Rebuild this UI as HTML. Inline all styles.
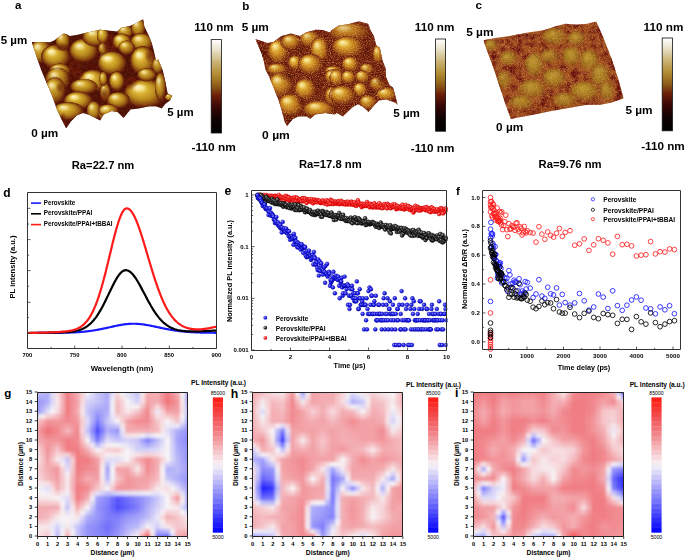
<!DOCTYPE html>
<html><head><meta charset="utf-8"><style>
html,body{margin:0;padding:0;background:#fff;}
svg{display:block;font-family:"Liberation Sans", sans-serif;}
</style></head><body>
<svg width="685" height="560" viewBox="0 0 685 560">
<defs><radialGradient id="gg" cx="0.5" cy="0.5" r="0.5" fx="0.32" fy="0.26"><stop offset="0" stop-color="#fffbe0"/><stop offset="0.15" stop-color="#f2dc74"/><stop offset="0.35" stop-color="#d8b030"/><stop offset="0.58" stop-color="#b88a1c"/><stop offset="0.78" stop-color="#8c4c10"/><stop offset="0.92" stop-color="#5e1808" stop-opacity="0.9"/><stop offset="1" stop-color="#501206" stop-opacity="0"/></radialGradient><radialGradient id="ggc" cx="0.5" cy="0.5" r="0.5" fx="0.4" fy="0.35"><stop offset="0" stop-color="#c0a030"/><stop offset="0.3" stop-color="#ae8c22"/><stop offset="0.6" stop-color="#9a7018" stop-opacity="0.9"/><stop offset="0.85" stop-color="#9a5018" stop-opacity="0.5"/><stop offset="1" stop-color="#9a4a1a" stop-opacity="0"/></radialGradient><radialGradient id="gdark" cx="0.5" cy="0.5" r="0.5"><stop offset="0" stop-color="#4a0a04" stop-opacity="0.85"/><stop offset="0.6" stop-color="#6a1808" stop-opacity="0.5"/><stop offset="1" stop-color="#7a2008" stop-opacity="0"/></radialGradient><filter id="hlb" x="-50%" y="-50%" width="200%" height="200%"><feGaussianBlur stdDeviation="6"/></filter><clipPath id="aca"><polygon points="8,123 91,124 114,114 137,96 155,85 169,89 181,96 213,91 251,82 320,67 400,75 416,58 453,51 475,42 517,19 522,53 538,85 554,123 565,160 575,208 586,203 607,256 618,305 629,358 650,369 639,390 618,406 602,427 575,417 543,417 496,427 459,432 427,470 400,443 373,438 336,454 320,482 299,470 267,454 240,448 213,459 187,486 165,518 144,475 123,432 107,385 85,331 69,294 51,251 32,196 14,142"/></clipPath><filter id="ata" x="0" y="0" width="100%" height="100%" color-interpolation-filters="sRGB"><feTurbulence type="fractalNoise" baseFrequency="0.12" numOctaves="2" seed="97"/><feColorMatrix values="0 0 0 0 0.92  0 0 0 0 0.62  0 0 0 0 0.35  0.36 0 0 0 -0.16"/></filter><filter id="ada" x="0" y="0" width="100%" height="100%" color-interpolation-filters="sRGB"><feTurbulence type="fractalNoise" baseFrequency="0.035" numOctaves="3" seed="102"/><feColorMatrix values="0 0 0 0 0.38  0 0 0 0 0.04  0 0 0 0 0.03  1.00 0 0 0 -0.40"/></filter><radialGradient id="ggb" cx="0.5" cy="0.5" r="0.5" fx="0.32" fy="0.26"><stop offset="0" stop-color="#fff4c0"/><stop offset="0.15" stop-color="#f0d060"/><stop offset="0.35" stop-color="#d8a028"/><stop offset="0.58" stop-color="#b87018"/><stop offset="0.78" stop-color="#8c3c10"/><stop offset="0.92" stop-color="#6a1c0a" stop-opacity="0.9"/><stop offset="1" stop-color="#6a1c0a" stop-opacity="0"/></radialGradient><clipPath id="acb"><polygon points="24,110 80,128 107,123 144,96 187,85 229,96 256,80 299,67 331,69 365,80 374,69 406,48 449,42 497,29 540,40 550,69 566,96 577,139 593,149 604,203 620,245 621,283 638,321 653,331 661,358 675,411 664,401 621,385 589,390 568,411 541,443 520,422 493,406 467,422 424,464 397,448 387,454 344,448 297,454 275,475 259,464 221,464 195,475 169,507 158,486 144,432 131,390 110,337 88,283 71,251 62,206 53,176"/></clipPath><filter id="atb" x="0" y="0" width="100%" height="100%" color-interpolation-filters="sRGB"><feTurbulence type="fractalNoise" baseFrequency="0.2" numOctaves="2" seed="98"/><feColorMatrix values="0 0 0 0 0.95  0 0 0 0 0.78  0 0 0 0 0.4  1.35 0 0 0 -0.59"/></filter><filter id="adb" x="0" y="0" width="100%" height="100%" color-interpolation-filters="sRGB"><feTurbulence type="fractalNoise" baseFrequency="0.035" numOctaves="3" seed="103"/><feColorMatrix values="0 0 0 0 0.38  0 0 0 0 0.04  0 0 0 0 0.03  1.75 0 0 0 -0.70"/></filter><clipPath id="acc"><polygon points="25,115 80,105 150,95 230,80 300,70 360,50 400,40 450,45 500,40 540,30 575,110 610,200 640,290 665,380 610,400 560,410 500,410 440,420 380,430 330,440 280,450 230,460 170,470 150,475 130,420 100,330 70,240 40,160"/></clipPath><filter id="atc" x="0" y="0" width="100%" height="100%" color-interpolation-filters="sRGB"><feTurbulence type="fractalNoise" baseFrequency="0.3" numOctaves="2" seed="99"/><feColorMatrix values="0 0 0 0 0.95  0 0 0 0 0.68  0 0 0 0 0.45  1.35 0 0 0 -0.59"/></filter><filter id="adc" x="0" y="0" width="100%" height="100%" color-interpolation-filters="sRGB"><feTurbulence type="fractalNoise" baseFrequency="0.035" numOctaves="3" seed="104"/><feColorMatrix values="0 0 0 0 0.38  0 0 0 0 0.04  0 0 0 0 0.03  2.75 0 0 0 -1.10"/></filter><linearGradient id="cbar" x1="0" y1="0" x2="0" y2="1"><stop offset="0" stop-color="#ffffff"/><stop offset="0.1" stop-color="#ece6d0"/><stop offset="0.25" stop-color="#c8b070"/><stop offset="0.38" stop-color="#b08a30"/><stop offset="0.5" stop-color="#8c5a18"/><stop offset="0.6" stop-color="#6c1e0a"/><stop offset="0.72" stop-color="#3a0806"/><stop offset="0.85" stop-color="#100202"/><stop offset="1" stop-color="#000"/></linearGradient><radialGradient id="eb" cx="0.35" cy="0.35" r="0.7"><stop offset="0" stop-color="#9a9aff"/><stop offset="0.5" stop-color="#2a2aff"/><stop offset="1" stop-color="#0000b0"/></radialGradient><radialGradient id="ek" cx="0.35" cy="0.35" r="0.7"><stop offset="0" stop-color="#b0b0b0"/><stop offset="0.5" stop-color="#404040"/><stop offset="1" stop-color="#000"/></radialGradient><radialGradient id="er" cx="0.35" cy="0.35" r="0.7"><stop offset="0" stop-color="#ffb0b0"/><stop offset="0.5" stop-color="#ff2a2a"/><stop offset="1" stop-color="#c00000"/></radialGradient><clipPath id="ec"><rect x="251.5" y="188" width="196" height="162"/></clipPath><clipPath id="hcg"><rect x="37.5" y="392" width="150.1" height="144"/></clipPath><filter id="hbg" x="-5%" y="-5%" width="110%" height="110%"><feGaussianBlur stdDeviation="1.4" edgeMode="duplicate"/></filter><clipPath id="hch"><rect x="252.7" y="392" width="150.2" height="144"/></clipPath><filter id="hbh" x="-5%" y="-5%" width="110%" height="110%"><feGaussianBlur stdDeviation="1.4" edgeMode="duplicate"/></filter><clipPath id="hci"><rect x="473.5" y="392" width="150.20000000000005" height="144"/></clipPath><filter id="hbi" x="-5%" y="-5%" width="110%" height="110%"><feGaussianBlur stdDeviation="1.4" edgeMode="duplicate"/></filter></defs>
<rect width="685" height="560" fill="#fff"/>
<g transform="translate(30 15) scale(0.21896)"><g clip-path="url(#aca)"><rect x="0" y="0" width="700" height="560" fill="#4c1006"/><rect x="0" y="0" width="700" height="560" filter="url(#ada)"/><ellipse cx="141" cy="146" rx="41" ry="22" fill="url(#gdark)"/><ellipse cx="205" cy="237" rx="31" ry="36" fill="url(#gdark)"/><ellipse cx="347" cy="146" rx="18" ry="27" fill="url(#gdark)"/><ellipse cx="367" cy="127" rx="27" ry="45" fill="url(#gdark)"/><ellipse cx="546" cy="187" rx="24" ry="36" fill="url(#gdark)"/><ellipse cx="223" cy="271" rx="31" ry="20" fill="url(#gdark)"/><ellipse cx="137" cy="331" rx="20" ry="27" fill="url(#gdark)"/><ellipse cx="150" cy="474" rx="18" ry="31" fill="url(#gdark)"/><ellipse cx="461" cy="312" rx="34" ry="34" fill="url(#gdark)"/><ellipse cx="340" cy="365" rx="21" ry="34" fill="url(#gdark)"/><ellipse cx="50" cy="168" rx="53" ry="58" fill="url(#gg)" opacity="0.90"/><ellipse cx="118" cy="191" rx="70" ry="58" fill="url(#gg)" opacity="1.00"/><ellipse cx="150" cy="118" rx="35" ry="47" fill="url(#gg)" opacity="0.90"/><ellipse cx="246" cy="164" rx="70" ry="58" fill="url(#gg)" opacity="0.95"/><ellipse cx="301" cy="100" rx="65" ry="47" fill="url(#gg)" opacity="0.95"/><ellipse cx="347" cy="219" rx="35" ry="58" fill="url(#gg)" opacity="1.00"/><ellipse cx="137" cy="255" rx="53" ry="35" fill="url(#gg)" opacity="0.95"/><ellipse cx="333" cy="95" rx="29" ry="40" fill="url(#gg)" opacity="0.90"/><ellipse cx="436" cy="77" rx="40" ry="32" fill="url(#gg)" opacity="0.90"/><ellipse cx="495" cy="59" rx="35" ry="47" fill="url(#gg)" opacity="0.90"/><ellipse cx="420" cy="123" rx="47" ry="40" fill="url(#gg)" opacity="1.00"/><ellipse cx="511" cy="125" rx="56" ry="44" fill="url(#gg)" opacity="0.95"/><ellipse cx="333" cy="155" rx="23" ry="29" fill="url(#gg)" opacity="0.80"/><ellipse cx="376" cy="221" rx="70" ry="58" fill="url(#gg)" opacity="1.00"/><ellipse cx="516" cy="210" rx="61" ry="70" fill="url(#gg)" opacity="1.00"/><ellipse cx="442" cy="150" rx="40" ry="35" fill="url(#gg)" opacity="0.85"/><ellipse cx="584" cy="232" rx="29" ry="40" fill="url(#gg)" opacity="0.85"/><ellipse cx="127" cy="296" rx="61" ry="58" fill="url(#gg)" opacity="0.80"/><ellipse cx="114" cy="347" rx="53" ry="65" fill="url(#gg)" opacity="0.85"/><ellipse cx="290" cy="301" rx="70" ry="53" fill="url(#gg)" opacity="1.00"/><ellipse cx="246" cy="328" rx="65" ry="38" fill="url(#gg)" opacity="0.90"/><ellipse cx="221" cy="392" rx="70" ry="44" fill="url(#gg)" opacity="1.00"/><ellipse cx="175" cy="440" rx="77" ry="44" fill="url(#gg)" opacity="0.95"/><ellipse cx="292" cy="438" rx="35" ry="47" fill="url(#gg)" opacity="0.90"/><ellipse cx="340" cy="447" rx="32" ry="40" fill="url(#gg)" opacity="0.90"/><ellipse cx="344" cy="353" rx="26" ry="44" fill="url(#gg)" opacity="0.85"/><ellipse cx="397" cy="303" rx="38" ry="47" fill="url(#gg)" opacity="1.00"/><ellipse cx="527" cy="360" rx="103" ry="70" fill="url(#gg)" opacity="1.00"/><ellipse cx="404" cy="390" rx="56" ry="40" fill="url(#gg)" opacity="0.95"/><ellipse cx="335" cy="292" rx="20" ry="35" fill="url(#gg)" opacity="0.85"/><ellipse cx="360" cy="438" rx="49" ry="32" fill="url(#gg)" opacity="0.90"/><ellipse cx="534" cy="274" rx="47" ry="32" fill="url(#gg)" opacity="0.90"/><ellipse cx="596" cy="328" rx="27" ry="70" fill="url(#gg)" opacity="0.85"/><ellipse cx="637" cy="376" rx="23" ry="17" fill="url(#gg)" opacity="0.90"/><ellipse cx="141" cy="146" rx="41" ry="22" fill="url(#gdark)" opacity="0.7"/><ellipse cx="205" cy="237" rx="31" ry="36" fill="url(#gdark)" opacity="0.7"/><ellipse cx="347" cy="146" rx="18" ry="27" fill="url(#gdark)" opacity="0.7"/><ellipse cx="367" cy="127" rx="27" ry="45" fill="url(#gdark)" opacity="0.7"/><ellipse cx="546" cy="187" rx="24" ry="36" fill="url(#gdark)" opacity="0.7"/><ellipse cx="223" cy="271" rx="31" ry="20" fill="url(#gdark)" opacity="0.7"/><ellipse cx="137" cy="331" rx="20" ry="27" fill="url(#gdark)" opacity="0.7"/><ellipse cx="150" cy="474" rx="18" ry="31" fill="url(#gdark)" opacity="0.7"/><ellipse cx="461" cy="312" rx="34" ry="34" fill="url(#gdark)" opacity="0.7"/><ellipse cx="340" cy="365" rx="21" ry="34" fill="url(#gdark)" opacity="0.7"/><g fill="#fff6c8" filter="url(#hlb)"><ellipse cx="35" cy="146" rx="16" ry="11" opacity="0.50"/><ellipse cx="98" cy="169" rx="21" ry="11" opacity="0.55"/><ellipse cx="140" cy="100" rx="11" ry="8" opacity="0.50"/><ellipse cx="226" cy="142" rx="21" ry="11" opacity="0.52"/><ellipse cx="283" cy="82" rx="20" ry="8" opacity="0.52"/><ellipse cx="337" cy="197" rx="11" ry="11" opacity="0.55"/><ellipse cx="122" cy="242" rx="16" ry="6" opacity="0.52"/><ellipse cx="425" cy="65" rx="12" ry="6" opacity="0.50"/><ellipse cx="485" cy="41" rx="11" ry="8" opacity="0.50"/><ellipse cx="407" cy="108" rx="14" ry="7" opacity="0.55"/><ellipse cx="495" cy="108" rx="17" ry="8" opacity="0.52"/><ellipse cx="356" cy="199" rx="21" ry="11" opacity="0.55"/><ellipse cx="499" cy="183" rx="18" ry="13" opacity="0.55"/><ellipse cx="431" cy="137" rx="12" ry="6" opacity="0.47"/><ellipse cx="110" cy="274" rx="18" ry="11" opacity="0.44"/><ellipse cx="99" cy="322" rx="16" ry="12" opacity="0.47"/><ellipse cx="270" cy="281" rx="21" ry="10" opacity="0.55"/><ellipse cx="228" cy="314" rx="20" ry="7" opacity="0.50"/><ellipse cx="201" cy="375" rx="21" ry="8" opacity="0.55"/><ellipse cx="154" cy="423" rx="23" ry="8" opacity="0.52"/><ellipse cx="282" cy="420" rx="11" ry="8" opacity="0.50"/><ellipse cx="331" cy="432" rx="10" ry="7" opacity="0.50"/><ellipse cx="386" cy="285" rx="11" ry="8" opacity="0.55"/><ellipse cx="498" cy="333" rx="31" ry="13" opacity="0.55"/><ellipse cx="388" cy="375" rx="17" ry="7" opacity="0.52"/><ellipse cx="346" cy="426" rx="15" ry="6" opacity="0.50"/><ellipse cx="521" cy="262" rx="14" ry="6" opacity="0.50"/><ellipse cx="588" cy="301" rx="8" ry="13" opacity="0.47"/></g><rect x="0" y="0" width="700" height="560" filter="url(#ata)"/></g></g><g transform="translate(250 15) scale(0.21896)"><g clip-path="url(#acb)"><rect x="0" y="0" width="700" height="560" fill="#6e1e0c"/><rect x="0" y="0" width="700" height="560" filter="url(#adb)"/><ellipse cx="58" cy="173" rx="31" ry="50" fill="url(#gdark)"/><ellipse cx="226" cy="155" rx="29" ry="31" fill="url(#gdark)"/><ellipse cx="347" cy="101" rx="18" ry="21" fill="url(#gdark)"/><ellipse cx="342" cy="213" rx="22" ry="26" fill="url(#gdark)"/><ellipse cx="358" cy="155" rx="15" ry="68" fill="url(#gdark)"/><ellipse cx="534" cy="165" rx="31" ry="58" fill="url(#gdark)"/><ellipse cx="176" cy="278" rx="50" ry="26" fill="url(#gdark)"/><ellipse cx="312" cy="320" rx="31" ry="37" fill="url(#gdark)"/><ellipse cx="237" cy="392" rx="31" ry="24" fill="url(#gdark)"/><ellipse cx="187" cy="480" rx="34" ry="26" fill="url(#gdark)"/><ellipse cx="600" cy="291" rx="31" ry="40" fill="url(#gdark)"/><ellipse cx="557" cy="355" rx="31" ry="24" fill="url(#gdark)"/><ellipse cx="392" cy="427" rx="26" ry="26" fill="url(#gdark)"/><ellipse cx="488" cy="408" rx="15" ry="18" fill="url(#gdark)"/><ellipse cx="130" cy="168" rx="52" ry="62" fill="url(#ggb)" opacity="1.00"/><ellipse cx="189" cy="125" rx="52" ry="39" fill="url(#ggb)" opacity="0.90"/><ellipse cx="274" cy="111" rx="52" ry="41" fill="url(#ggb)" opacity="0.85"/><ellipse cx="321" cy="164" rx="49" ry="67" fill="url(#ggb)" opacity="0.95"/><ellipse cx="207" cy="219" rx="36" ry="36" fill="url(#ggb)" opacity="1.00"/><ellipse cx="277" cy="227" rx="61" ry="52" fill="url(#ggb)" opacity="1.00"/><ellipse cx="125" cy="248" rx="52" ry="29" fill="url(#ggb)" opacity="0.90"/><ellipse cx="456" cy="79" rx="101" ry="49" fill="url(#ggb)" opacity="0.75"/><ellipse cx="448" cy="148" rx="79" ry="54" fill="url(#ggb)" opacity="1.00"/><ellipse cx="460" cy="226" rx="43" ry="39" fill="url(#ggb)" opacity="1.00"/><ellipse cx="585" cy="181" rx="26" ry="48" fill="url(#ggb)" opacity="0.90"/><ellipse cx="382" cy="254" rx="45" ry="22" fill="url(#ggb)" opacity="0.90"/><ellipse cx="534" cy="248" rx="36" ry="29" fill="url(#ggb)" opacity="0.85"/><ellipse cx="141" cy="320" rx="61" ry="61" fill="url(#ggb)" opacity="0.90"/><ellipse cx="253" cy="341" rx="54" ry="54" fill="url(#ggb)" opacity="1.00"/><ellipse cx="187" cy="413" rx="64" ry="57" fill="url(#ggb)" opacity="0.95"/><ellipse cx="317" cy="432" rx="79" ry="43" fill="url(#ggb)" opacity="0.95"/><ellipse cx="377" cy="371" rx="38" ry="46" fill="url(#ggb)" opacity="0.90"/><ellipse cx="377" cy="283" rx="38" ry="36" fill="url(#ggb)" opacity="1.00"/><ellipse cx="397" cy="288" rx="36" ry="43" fill="url(#ggb)" opacity="0.90"/><ellipse cx="450" cy="285" rx="36" ry="33" fill="url(#ggb)" opacity="1.00"/><ellipse cx="514" cy="283" rx="36" ry="31" fill="url(#ggb)" opacity="0.95"/><ellipse cx="504" cy="342" rx="36" ry="36" fill="url(#ggb)" opacity="1.00"/><ellipse cx="424" cy="368" rx="67" ry="48" fill="url(#ggb)" opacity="0.95"/><ellipse cx="540" cy="400" rx="44" ry="36" fill="url(#ggb)" opacity="0.90"/><ellipse cx="624" cy="363" rx="52" ry="36" fill="url(#ggb)" opacity="0.95"/><ellipse cx="584" cy="315" rx="43" ry="36" fill="url(#ggb)" opacity="0.80"/><ellipse cx="58" cy="173" rx="31" ry="50" fill="url(#gdark)" opacity="0.9"/><ellipse cx="226" cy="155" rx="29" ry="31" fill="url(#gdark)" opacity="0.9"/><ellipse cx="347" cy="101" rx="18" ry="21" fill="url(#gdark)" opacity="0.9"/><ellipse cx="342" cy="213" rx="22" ry="26" fill="url(#gdark)" opacity="0.9"/><ellipse cx="358" cy="155" rx="15" ry="68" fill="url(#gdark)" opacity="0.9"/><ellipse cx="534" cy="165" rx="31" ry="58" fill="url(#gdark)" opacity="0.9"/><ellipse cx="176" cy="278" rx="50" ry="26" fill="url(#gdark)" opacity="0.9"/><ellipse cx="312" cy="320" rx="31" ry="37" fill="url(#gdark)" opacity="0.9"/><ellipse cx="237" cy="392" rx="31" ry="24" fill="url(#gdark)" opacity="0.9"/><ellipse cx="187" cy="480" rx="34" ry="26" fill="url(#gdark)" opacity="0.9"/><ellipse cx="600" cy="291" rx="31" ry="40" fill="url(#gdark)" opacity="0.9"/><ellipse cx="557" cy="355" rx="31" ry="24" fill="url(#gdark)" opacity="0.9"/><ellipse cx="392" cy="427" rx="26" ry="26" fill="url(#gdark)" opacity="0.9"/><ellipse cx="488" cy="408" rx="15" ry="18" fill="url(#gdark)" opacity="0.9"/><g fill="#fff6c8" filter="url(#hlb)"><ellipse cx="116" cy="144" rx="16" ry="11" opacity="0.45"/><ellipse cx="175" cy="110" rx="16" ry="7" opacity="0.41"/><ellipse cx="260" cy="95" rx="16" ry="7" opacity="0.38"/><ellipse cx="307" cy="139" rx="15" ry="12" opacity="0.43"/><ellipse cx="197" cy="205" rx="11" ry="6" opacity="0.45"/><ellipse cx="260" cy="207" rx="18" ry="9" opacity="0.45"/><ellipse cx="111" cy="237" rx="16" ry="5" opacity="0.41"/><ellipse cx="428" cy="60" rx="30" ry="9" opacity="0.34"/><ellipse cx="426" cy="127" rx="24" ry="10" opacity="0.45"/><ellipse cx="448" cy="211" rx="13" ry="7" opacity="0.45"/><ellipse cx="578" cy="163" rx="8" ry="9" opacity="0.41"/><ellipse cx="369" cy="246" rx="13" ry="4" opacity="0.41"/><ellipse cx="524" cy="237" rx="11" ry="5" opacity="0.38"/><ellipse cx="124" cy="297" rx="18" ry="11" opacity="0.41"/><ellipse cx="238" cy="320" rx="16" ry="10" opacity="0.45"/><ellipse cx="169" cy="391" rx="19" ry="10" opacity="0.43"/><ellipse cx="295" cy="416" rx="24" ry="8" opacity="0.43"/><ellipse cx="366" cy="354" rx="11" ry="8" opacity="0.41"/><ellipse cx="366" cy="269" rx="11" ry="6" opacity="0.45"/><ellipse cx="387" cy="272" rx="11" ry="8" opacity="0.41"/><ellipse cx="440" cy="272" rx="11" ry="6" opacity="0.45"/><ellipse cx="504" cy="271" rx="11" ry="6" opacity="0.43"/><ellipse cx="494" cy="328" rx="11" ry="6" opacity="0.45"/><ellipse cx="405" cy="350" rx="20" ry="9" opacity="0.43"/><ellipse cx="528" cy="386" rx="13" ry="6" opacity="0.41"/><ellipse cx="610" cy="349" rx="16" ry="6" opacity="0.43"/><ellipse cx="572" cy="301" rx="13" ry="6" opacity="0.36"/></g><rect x="0" y="0" width="700" height="560" filter="url(#atb)"/></g></g><g transform="translate(478 15) scale(0.21896)"><g clip-path="url(#acc)"><rect x="0" y="0" width="700" height="560" fill="#9a4a1a"/><rect x="0" y="0" width="700" height="560" filter="url(#adc)"/><ellipse cx="60" cy="140" rx="42" ry="35" fill="url(#ggc)" opacity="0.80"/><ellipse cx="140" cy="200" rx="49" ry="42" fill="url(#ggc)" opacity="0.85"/><ellipse cx="260" cy="230" rx="56" ry="70" fill="url(#ggc)" opacity="0.90"/><ellipse cx="350" cy="100" rx="70" ry="49" fill="url(#ggc)" opacity="0.85"/><ellipse cx="430" cy="190" rx="56" ry="56" fill="url(#ggc)" opacity="0.90"/><ellipse cx="510" cy="210" rx="56" ry="63" fill="url(#ggc)" opacity="0.90"/><ellipse cx="560" cy="280" rx="56" ry="70" fill="url(#ggc)" opacity="0.85"/><ellipse cx="350" cy="290" rx="70" ry="56" fill="url(#ggc)" opacity="0.90"/><ellipse cx="250" cy="340" rx="77" ry="56" fill="url(#ggc)" opacity="0.85"/><ellipse cx="490" cy="350" rx="84" ry="56" fill="url(#ggc)" opacity="0.90"/><ellipse cx="400" cy="390" rx="70" ry="42" fill="url(#ggc)" opacity="0.80"/><ellipse cx="200" cy="400" rx="70" ry="42" fill="url(#ggc)" opacity="0.80"/><ellipse cx="590" cy="350" rx="42" ry="56" fill="url(#ggc)" opacity="0.80"/><ellipse cx="450" cy="110" rx="56" ry="42" fill="url(#ggc)" opacity="0.80"/><ellipse cx="330" cy="190" rx="56" ry="42" fill="url(#ggc)" opacity="0.75"/><ellipse cx="120" cy="300" rx="42" ry="56" fill="url(#ggc)" opacity="0.75"/><rect x="0" y="0" width="700" height="560" filter="url(#atc)"/></g></g><rect x="211.2" y="39.6" width="10.2" height="93.4" fill="url(#cbar)" stroke="#111" stroke-width="0.8"/><text x="194.2" y="31.2" font-size="10.8" font-weight="bold" fill="#000" textLength="39.4" lengthAdjust="spacingAndGlyphs">110 nm</text><text x="191.6" y="151.2" font-size="10.8" font-weight="bold" fill="#000" textLength="44.2" lengthAdjust="spacingAndGlyphs">-110 nm</text><text x="71.8" y="168.7" font-size="10.8" font-weight="bold" fill="#000" textLength="62.5" lengthAdjust="spacingAndGlyphs">Ra=22.7 nm</text><text x="0.7000000000000001" y="44.2" font-size="10.8" font-weight="bold" fill="#000" textLength="26.5" lengthAdjust="spacingAndGlyphs">5 µm</text><text x="31.200000000000003" y="136.8" font-size="10.8" font-weight="bold" fill="#000" textLength="27.0" lengthAdjust="spacingAndGlyphs">0 µm</text><text x="167.29999999999998" y="115.8" font-size="10.8" font-weight="bold" fill="#000" textLength="26.3" lengthAdjust="spacingAndGlyphs">5 µm</text><text x="14.9" y="8.9" font-size="11.6" font-weight="bold" fill="#000">a</text><rect x="435.6" y="39.0" width="10.0" height="92.2" fill="url(#cbar)" stroke="#111" stroke-width="0.8"/><text x="414.8" y="30.8" font-size="10.8" font-weight="bold" fill="#000" textLength="39.6" lengthAdjust="spacingAndGlyphs">110 nm</text><text x="410.8" y="151.5" font-size="10.8" font-weight="bold" fill="#000" textLength="43.6" lengthAdjust="spacingAndGlyphs">-110 nm</text><text x="298.90000000000003" y="168.2" font-size="10.8" font-weight="bold" fill="#000" textLength="62.8" lengthAdjust="spacingAndGlyphs">Ra=17.8 nm</text><text x="241.7" y="30.6" font-size="10.8" font-weight="bold" fill="#000" textLength="27.2" lengthAdjust="spacingAndGlyphs">5 µm</text><text x="262.1" y="138.9" font-size="10.8" font-weight="bold" fill="#000" textLength="27.7" lengthAdjust="spacingAndGlyphs">0 µm</text><text x="393.20000000000005" y="116.5" font-size="10.8" font-weight="bold" fill="#000" textLength="26.8" lengthAdjust="spacingAndGlyphs">5 µm</text><text x="242.2" y="9.6" font-size="11.6" font-weight="bold" fill="#000">b</text><rect x="662.2" y="38.0" width="10.2" height="92.8" fill="url(#cbar)" stroke="#111" stroke-width="0.8"/><text x="643.6" y="30.5" font-size="10.8" font-weight="bold" fill="#000" textLength="39.8" lengthAdjust="spacingAndGlyphs">110 nm</text><text x="641.2" y="149.7" font-size="10.8" font-weight="bold" fill="#000" textLength="43.6" lengthAdjust="spacingAndGlyphs">-110 nm</text><text x="538.6" y="168.2" font-size="10.8" font-weight="bold" fill="#000" textLength="63.0" lengthAdjust="spacingAndGlyphs">Ra=9.76 nm</text><text x="466.20000000000005" y="35.5" font-size="10.8" font-weight="bold" fill="#000" textLength="27.3" lengthAdjust="spacingAndGlyphs">5 µm</text><text x="496.1" y="130.8" font-size="10.8" font-weight="bold" fill="#000" textLength="27.1" lengthAdjust="spacingAndGlyphs">0 µm</text><text x="625.4" y="113.5" font-size="10.8" font-weight="bold" fill="#000" textLength="27.1" lengthAdjust="spacingAndGlyphs">5 µm</text><text x="475.4" y="8.8" font-size="11.6" font-weight="bold" fill="#000">c</text><polyline points="27.50,333.00 28.45,333.00 29.39,333.00 30.34,332.99 31.28,332.99 32.23,332.99 33.17,332.99 34.12,332.98 35.06,332.98 36.01,332.98 36.95,332.97 37.89,332.97 38.84,332.97 39.78,332.96 40.73,332.96 41.67,332.96 42.62,332.95 43.56,332.95 44.51,332.94 45.45,332.94 46.40,332.93 47.34,332.93 48.29,332.92 49.23,332.92 50.18,332.91 51.12,332.90 52.07,332.89 53.02,332.89 53.96,332.88 54.91,332.87 55.85,332.86 56.80,332.85 57.74,332.83 58.69,332.82 59.63,332.81 60.58,332.79 61.52,332.78 62.47,332.76 63.41,332.74 64.35,332.72 65.30,332.69 66.25,332.67 67.19,332.64 68.13,332.61 69.08,332.58 70.03,332.55 70.97,332.51 71.91,332.47 72.86,332.43 73.81,332.39 74.75,332.34 75.69,332.29 76.64,332.23 77.59,332.17 78.53,332.11 79.47,332.04 80.42,331.97 81.37,331.90 82.31,331.82 83.25,331.73 84.20,331.64 85.15,331.54 86.09,331.44 87.03,331.34 87.98,331.22 88.92,331.11 89.87,330.98 90.81,330.86 91.76,330.72 92.70,330.58 93.65,330.44 94.59,330.28 95.54,330.13 96.48,329.96 97.43,329.80 98.38,329.62 99.32,329.44 100.27,329.26 101.21,329.07 102.16,328.88 103.10,328.69 104.05,328.49 104.99,328.28 105.94,328.08 106.88,327.87 107.83,327.66 108.77,327.45 109.72,327.24 110.66,327.03 111.61,326.82 112.55,326.61 113.50,326.40 114.44,326.19 115.39,325.99 116.33,325.79 117.28,325.60 118.22,325.41 119.17,325.23 120.11,325.06 121.06,324.89 122.00,324.73 122.94,324.58 123.89,324.45 124.83,324.32 125.78,324.20 126.72,324.10 127.67,324.01 128.62,323.93 129.56,323.86 130.50,323.81 131.45,323.77 132.39,323.75 133.34,323.74 134.28,323.75 135.23,323.77 136.18,323.80 137.12,323.85 138.06,323.91 139.01,323.98 139.95,324.07 140.90,324.16 141.84,324.27 142.79,324.39 143.74,324.52 144.68,324.65 145.62,324.80 146.57,324.96 147.51,325.12 148.46,325.29 149.41,325.47 150.35,325.65 151.30,325.83 152.24,326.03 153.19,326.22 154.13,326.42 155.07,326.62 156.02,326.82 156.97,327.02 157.91,327.22 158.85,327.42 159.80,327.63 160.75,327.83 161.69,328.03 162.63,328.22 163.58,328.42 164.53,328.61 165.47,328.80 166.41,328.98 167.36,329.16 168.31,329.34 169.25,329.51 170.19,329.68 171.14,329.85 172.09,330.00 173.03,330.16 173.97,330.30 174.92,330.45 175.87,330.59 176.81,330.72 177.75,330.84 178.70,330.97 179.65,331.08 180.59,331.19 181.53,331.30 182.48,331.40 183.43,331.50 184.37,331.59 185.31,331.67 186.26,331.76 187.21,331.83 188.15,331.91 189.09,331.97 190.04,332.04 190.99,332.10 191.93,332.16 192.88,332.21 193.82,332.26 194.76,332.31 195.71,332.35 196.66,332.39 197.60,332.43 198.54,332.46 199.49,332.50 200.44,332.53 201.38,332.55 202.32,332.58 203.27,332.60 204.22,332.63 205.16,332.65 206.10,332.67 207.05,332.68 208.00,332.70 208.94,332.72 209.88,332.73 210.83,332.74 211.78,332.75 212.72,332.76 213.66,332.77 214.61,332.78 215.56,332.79 216.50,332.80" fill="none" stroke="#1a1aff" stroke-width="2.2" stroke-linejoin="round"/><polyline points="27.50,333.00 28.45,332.99 29.39,332.98 30.34,332.97 31.28,332.96 32.23,332.95 33.17,332.94 34.12,332.93 35.06,332.92 36.01,332.91 36.95,332.89 37.89,332.88 38.84,332.87 39.78,332.86 40.73,332.84 41.67,332.83 42.62,332.82 43.56,332.80 44.51,332.79 45.45,332.77 46.40,332.76 47.34,332.74 48.29,332.72 49.23,332.70 50.18,332.69 51.12,332.67 52.07,332.65 53.02,332.63 53.96,332.60 54.91,332.58 55.85,332.55 56.80,332.53 57.74,332.50 58.69,332.47 59.63,332.44 60.58,332.40 61.52,332.36 62.47,332.32 63.41,332.28 64.35,332.23 65.30,332.17 66.25,332.11 67.19,332.04 68.13,331.97 69.08,331.88 70.03,331.79 70.97,331.69 71.91,331.57 72.86,331.44 73.81,331.29 74.75,331.13 75.69,330.95 76.64,330.74 77.59,330.51 78.53,330.26 79.47,329.98 80.42,329.66 81.37,329.31 82.31,328.93 83.25,328.50 84.20,328.03 85.15,327.51 86.09,326.94 87.03,326.32 87.98,325.64 88.92,324.90 89.87,324.10 90.81,323.24 91.76,322.30 92.70,321.30 93.65,320.22 94.59,319.07 95.54,317.84 96.48,316.54 97.43,315.16 98.38,313.71 99.32,312.19 100.27,310.59 101.21,308.93 102.16,307.21 103.10,305.42 104.05,303.59 104.99,301.71 105.94,299.78 106.88,297.83 107.83,295.86 108.77,293.87 109.72,291.88 110.66,289.91 111.61,287.95 112.55,286.03 113.50,284.16 114.44,282.35 115.39,280.61 116.33,278.97 117.28,277.42 118.22,276.00 119.17,274.70 120.11,273.55 121.06,272.55 122.00,271.72 122.94,271.06 123.89,270.58 124.83,270.29 125.78,270.19 126.72,270.27 127.67,270.51 128.62,270.90 129.56,271.45 130.50,272.14 131.45,272.98 132.39,273.95 133.34,275.04 134.28,276.25 135.23,277.57 136.18,278.98 137.12,280.47 138.06,282.05 139.01,283.68 139.95,285.37 140.90,287.11 141.84,288.87 142.79,290.66 143.74,292.47 144.68,294.28 145.62,296.09 146.57,297.88 147.51,299.66 148.46,301.41 149.41,303.13 150.35,304.81 151.30,306.45 152.24,308.04 153.19,309.58 154.13,311.07 155.07,312.49 156.02,313.86 156.97,315.17 157.91,316.42 158.85,317.61 159.80,318.73 160.75,319.79 161.69,320.79 162.63,321.72 163.58,322.60 164.53,323.42 165.47,324.18 166.41,324.89 167.36,325.55 168.31,326.16 169.25,326.72 170.19,327.23 171.14,327.70 172.09,328.14 173.03,328.53 173.97,328.89 174.92,329.21 175.87,329.50 176.81,329.77 177.75,330.01 178.70,330.22 179.65,330.41 180.59,330.58 181.53,330.73 182.48,330.86 183.43,330.98 184.37,331.08 185.31,331.16 186.26,331.24 187.21,331.30 188.15,331.35 189.09,331.39 190.04,331.42 190.99,331.44 191.93,331.46 192.88,331.46 193.82,331.46 194.76,331.46 195.71,331.44 196.66,331.43 197.60,331.40 198.54,331.38 199.49,331.35 200.44,331.31 201.38,331.27 202.32,331.23 203.27,331.19 204.22,331.14 205.16,331.09 206.10,331.04 207.05,330.99 208.00,330.94 208.94,330.88 209.88,330.83 210.83,330.78 211.78,330.73 212.72,330.68 213.66,330.63 214.61,330.58 215.56,330.54 216.50,330.50" fill="none" stroke="#000000" stroke-width="2.2" stroke-linejoin="round"/><polyline points="27.50,333.00 28.45,332.98 29.39,332.96 30.34,332.94 31.28,332.92 32.23,332.90 33.17,332.88 34.12,332.86 35.06,332.84 36.01,332.82 36.95,332.79 37.89,332.77 38.84,332.75 39.78,332.72 40.73,332.70 41.67,332.67 42.62,332.64 43.56,332.62 44.51,332.59 45.45,332.56 46.40,332.53 47.34,332.50 48.29,332.46 49.23,332.43 50.18,332.40 51.12,332.36 52.07,332.32 53.02,332.28 53.96,332.24 54.91,332.20 55.85,332.15 56.80,332.10 57.74,332.05 58.69,331.99 59.63,331.93 60.58,331.87 61.52,331.80 62.47,331.72 63.41,331.64 64.35,331.55 65.30,331.45 66.25,331.34 67.19,331.22 68.13,331.08 69.08,330.94 70.03,330.77 70.97,330.58 71.91,330.38 72.86,330.15 73.81,329.89 74.75,329.60 75.69,329.27 76.64,328.91 77.59,328.51 78.53,328.05 79.47,327.55 80.42,326.99 81.37,326.36 82.31,325.67 83.25,324.91 84.20,324.06 85.15,323.12 86.09,322.10 87.03,320.97 87.98,319.74 88.92,318.39 89.87,316.92 90.81,315.33 91.76,313.61 92.70,311.76 93.65,309.76 94.59,307.62 95.54,305.34 96.48,302.90 97.43,300.32 98.38,297.59 99.32,294.71 100.27,291.69 101.21,288.53 102.16,285.23 103.10,281.81 104.05,278.27 104.99,274.63 105.94,270.90 106.88,267.08 107.83,263.21 108.77,259.29 109.72,255.35 110.66,251.41 111.61,247.49 112.55,243.61 113.50,239.80 114.44,236.08 115.39,232.49 116.33,229.04 117.28,225.78 118.22,222.71 119.17,219.88 120.11,217.31 121.06,215.03 122.00,213.05 122.94,211.39 123.89,210.09 124.83,209.14 125.78,208.57 126.72,208.38 127.67,208.50 128.62,208.87 129.56,209.50 130.50,210.37 131.45,211.48 132.39,212.82 133.34,214.38 134.28,216.15 135.23,218.12 136.18,220.27 137.12,222.58 138.06,225.06 139.01,227.67 139.95,230.41 140.90,233.26 141.84,236.21 142.79,239.23 143.74,242.32 144.68,245.46 145.62,248.64 146.57,251.84 147.51,255.06 148.46,258.27 149.41,261.47 150.35,264.64 151.30,267.79 152.24,270.88 153.19,273.93 154.13,276.91 155.07,279.83 156.02,282.68 156.97,285.44 157.91,288.12 158.85,290.71 159.80,293.21 160.75,295.61 161.69,297.92 162.63,300.13 163.58,302.24 164.53,304.25 165.47,306.16 166.41,307.97 167.36,309.68 168.31,311.30 169.25,312.82 170.19,314.26 171.14,315.60 172.09,316.86 173.03,318.03 173.97,319.13 174.92,320.15 175.87,321.09 176.81,321.97 177.75,322.78 178.70,323.52 179.65,324.20 180.59,324.83 181.53,325.41 182.48,325.93 183.43,326.41 184.37,326.84 185.31,327.23 186.26,327.58 187.21,327.89 188.15,328.17 189.09,328.41 190.04,328.62 190.99,328.81 191.93,328.96 192.88,329.09 193.82,329.19 194.76,329.27 195.71,329.33 196.66,329.36 197.60,329.38 198.54,329.37 199.49,329.35 200.44,329.30 201.38,329.24 202.32,329.16 203.27,329.07 204.22,328.96 205.16,328.84 206.10,328.70 207.05,328.55 208.00,328.39 208.94,328.22 209.88,328.04 210.83,327.85 211.78,327.65 212.72,327.45 213.66,327.25 214.61,327.04 215.56,326.84 216.50,326.64" fill="none" stroke="#ff1a1a" stroke-width="2.2" stroke-linejoin="round"/><path d="M27.5 192.5H216.5V348.5H27.5Z" fill="none" stroke="#333" stroke-width="1"/><path d="M27.50 348.5V345.5M51.12 348.5V346.9M74.75 348.5V345.5M98.38 348.5V346.9M122.00 348.5V345.5M145.62 348.5V346.9M169.25 348.5V345.5M192.88 348.5V346.9M216.50 348.5V345.5M27.5 208.3H30.5M27.5 224H29.1M27.5 239.6H30.5M27.5 255.2H29.1M27.5 270.6H30.5M27.5 286.2H29.1M27.5 302.3H30.5M27.5 317.6H29.1M27.5 333.2H30.5" stroke="#333" stroke-width="0.8"/><text x="27.5" y="357.2" font-size="5.6" font-weight="bold" fill="#000" text-anchor="middle" textLength="9.8" lengthAdjust="spacingAndGlyphs">700</text><text x="74.75" y="357.2" font-size="5.6" font-weight="bold" fill="#000" text-anchor="middle" textLength="9.8" lengthAdjust="spacingAndGlyphs">750</text><text x="122.0" y="357.2" font-size="5.6" font-weight="bold" fill="#000" text-anchor="middle" textLength="9.8" lengthAdjust="spacingAndGlyphs">800</text><text x="169.25" y="357.2" font-size="5.6" font-weight="bold" fill="#000" text-anchor="middle" textLength="9.8" lengthAdjust="spacingAndGlyphs">850</text><text x="216.5" y="357.2" font-size="5.6" font-weight="bold" fill="#000" text-anchor="middle" textLength="9.8" lengthAdjust="spacingAndGlyphs">900</text><text x="122" y="370.8" font-size="7.6" font-weight="bold" fill="#000" text-anchor="middle" textLength="62.5" lengthAdjust="spacingAndGlyphs">Wavelength (nm)</text><text x="15.2" y="267" font-size="7.6" font-weight="bold" fill="#000" text-anchor="middle" textLength="63" lengthAdjust="spacingAndGlyphs" transform="rotate(-90 15.2 267)">PL intensity (a.u.)</text><text x="3.2" y="196.8" font-size="12" font-weight="bold" fill="#000">d</text><path d="M31 203.1H41" stroke="#1a1aff" stroke-width="1.6"/><text x="43.8" y="204.7" font-size="6.6" font-weight="bold" fill="#000" textLength="31.4" lengthAdjust="spacingAndGlyphs">Perovskite</text><path d="M31 213.8H41" stroke="#000" stroke-width="1.6"/><text x="43.8" y="215.4" font-size="6.6" font-weight="bold" fill="#000" textLength="48.5" lengthAdjust="spacingAndGlyphs">Perovskite/PPAI</text><path d="M31 224.6H41" stroke="#ff1a1a" stroke-width="1.6"/><text x="43.8" y="226.2" font-size="6.6" font-weight="bold" fill="#000" textLength="68.8" lengthAdjust="spacingAndGlyphs">Perovskite/PPAI+tBBAI</text><g clip-path="url(#ec)"><g fill="url(#er)" stroke="#d80000" stroke-width="0.45"><circle cx="257.4" cy="195.6" r="1.95"/><circle cx="257.8" cy="195.3" r="1.95"/><circle cx="258.3" cy="196.3" r="1.95"/><circle cx="258.8" cy="194.9" r="1.95"/><circle cx="259.3" cy="197.4" r="1.95"/><circle cx="259.8" cy="194.9" r="1.95"/><circle cx="260.3" cy="194.9" r="1.95"/><circle cx="260.8" cy="195.9" r="1.95"/><circle cx="261.2" cy="195.1" r="1.95"/><circle cx="261.7" cy="197.4" r="1.95"/><circle cx="262.2" cy="195.7" r="1.95"/><circle cx="262.7" cy="196.3" r="1.95"/><circle cx="263.2" cy="195.3" r="1.95"/><circle cx="263.7" cy="195.0" r="1.95"/><circle cx="264.2" cy="197.1" r="1.95"/><circle cx="264.7" cy="197.6" r="1.95"/><circle cx="265.1" cy="197.5" r="1.95"/><circle cx="265.6" cy="196.9" r="1.95"/><circle cx="266.1" cy="194.9" r="1.95"/><circle cx="266.6" cy="197.0" r="1.95"/><circle cx="267.1" cy="196.3" r="1.95"/><circle cx="267.6" cy="196.5" r="1.95"/><circle cx="268.1" cy="197.5" r="1.95"/><circle cx="268.6" cy="197.0" r="1.95"/><circle cx="269.1" cy="195.7" r="1.95"/><circle cx="269.5" cy="196.3" r="1.95"/><circle cx="270.0" cy="196.7" r="1.95"/><circle cx="270.5" cy="196.3" r="1.95"/><circle cx="271.0" cy="195.6" r="1.95"/><circle cx="271.5" cy="197.7" r="1.95"/><circle cx="272.0" cy="196.2" r="1.95"/><circle cx="272.5" cy="196.2" r="1.95"/><circle cx="272.9" cy="196.4" r="1.95"/><circle cx="273.4" cy="197.0" r="1.95"/><circle cx="273.9" cy="197.8" r="1.95"/><circle cx="274.4" cy="198.6" r="1.95"/><circle cx="274.9" cy="195.8" r="1.95"/><circle cx="275.4" cy="195.9" r="1.95"/><circle cx="275.9" cy="196.4" r="1.95"/><circle cx="276.4" cy="196.9" r="1.95"/><circle cx="276.9" cy="196.5" r="1.95"/><circle cx="277.3" cy="196.7" r="1.95"/><circle cx="277.8" cy="196.8" r="1.95"/><circle cx="278.3" cy="198.1" r="1.95"/><circle cx="278.8" cy="194.9" r="1.95"/><circle cx="279.3" cy="197.2" r="1.95"/><circle cx="279.8" cy="198.6" r="1.95"/><circle cx="280.3" cy="197.8" r="1.95"/><circle cx="280.8" cy="196.6" r="1.95"/><circle cx="281.2" cy="197.0" r="1.95"/><circle cx="281.7" cy="198.1" r="1.95"/><circle cx="282.2" cy="197.5" r="1.95"/><circle cx="282.7" cy="200.6" r="1.95"/><circle cx="283.2" cy="197.6" r="1.95"/><circle cx="283.7" cy="197.9" r="1.95"/><circle cx="284.2" cy="197.8" r="1.95"/><circle cx="284.6" cy="200.7" r="1.95"/><circle cx="285.1" cy="195.9" r="1.95"/><circle cx="285.6" cy="198.5" r="1.95"/><circle cx="286.1" cy="198.7" r="1.95"/><circle cx="286.6" cy="196.0" r="1.95"/><circle cx="287.1" cy="197.2" r="1.95"/><circle cx="287.6" cy="197.2" r="1.95"/><circle cx="288.1" cy="199.7" r="1.95"/><circle cx="288.6" cy="197.0" r="1.95"/><circle cx="289.0" cy="198.0" r="1.95"/><circle cx="289.5" cy="201.0" r="1.95"/><circle cx="290.0" cy="199.8" r="1.95"/><circle cx="290.5" cy="198.7" r="1.95"/><circle cx="291.0" cy="198.2" r="1.95"/><circle cx="291.5" cy="199.2" r="1.95"/><circle cx="292.0" cy="197.9" r="1.95"/><circle cx="292.4" cy="199.7" r="1.95"/><circle cx="292.9" cy="198.8" r="1.95"/><circle cx="293.4" cy="198.1" r="1.95"/><circle cx="293.9" cy="200.7" r="1.95"/><circle cx="294.4" cy="198.9" r="1.95"/><circle cx="294.9" cy="197.2" r="1.95"/><circle cx="295.4" cy="202.2" r="1.95"/><circle cx="295.9" cy="198.0" r="1.95"/><circle cx="296.4" cy="200.6" r="1.95"/><circle cx="296.8" cy="197.8" r="1.95"/><circle cx="297.3" cy="198.0" r="1.95"/><circle cx="297.8" cy="201.6" r="1.95"/><circle cx="298.3" cy="201.0" r="1.95"/><circle cx="298.8" cy="201.0" r="1.95"/><circle cx="299.3" cy="199.3" r="1.95"/><circle cx="299.8" cy="199.3" r="1.95"/><circle cx="300.2" cy="200.2" r="1.95"/><circle cx="300.7" cy="199.9" r="1.95"/><circle cx="301.2" cy="201.0" r="1.95"/><circle cx="301.7" cy="201.4" r="1.95"/><circle cx="302.2" cy="198.2" r="1.95"/><circle cx="302.7" cy="198.2" r="1.95"/><circle cx="303.2" cy="200.9" r="1.95"/><circle cx="303.7" cy="201.2" r="1.95"/><circle cx="304.1" cy="200.8" r="1.95"/><circle cx="304.6" cy="198.1" r="1.95"/><circle cx="305.1" cy="198.7" r="1.95"/><circle cx="305.6" cy="200.6" r="1.95"/><circle cx="306.1" cy="201.5" r="1.95"/><circle cx="306.6" cy="203.0" r="1.95"/><circle cx="307.1" cy="200.1" r="1.95"/><circle cx="307.6" cy="199.4" r="1.95"/><circle cx="308.1" cy="199.6" r="1.95"/><circle cx="308.5" cy="200.0" r="1.95"/><circle cx="309.0" cy="201.3" r="1.95"/><circle cx="309.5" cy="199.8" r="1.95"/><circle cx="310.0" cy="199.3" r="1.95"/><circle cx="310.5" cy="201.7" r="1.95"/><circle cx="311.0" cy="200.5" r="1.95"/><circle cx="311.5" cy="201.5" r="1.95"/><circle cx="311.9" cy="199.2" r="1.95"/><circle cx="312.4" cy="201.3" r="1.95"/><circle cx="312.9" cy="203.4" r="1.95"/><circle cx="313.4" cy="200.2" r="1.95"/><circle cx="313.9" cy="201.1" r="1.95"/><circle cx="314.4" cy="199.7" r="1.95"/><circle cx="314.9" cy="202.2" r="1.95"/><circle cx="315.4" cy="199.9" r="1.95"/><circle cx="315.9" cy="200.1" r="1.95"/><circle cx="316.3" cy="200.6" r="1.95"/><circle cx="316.8" cy="201.0" r="1.95"/><circle cx="317.3" cy="202.4" r="1.95"/><circle cx="317.8" cy="200.1" r="1.95"/><circle cx="318.3" cy="200.6" r="1.95"/><circle cx="318.8" cy="201.2" r="1.95"/><circle cx="319.3" cy="201.4" r="1.95"/><circle cx="319.8" cy="200.8" r="1.95"/><circle cx="320.2" cy="202.6" r="1.95"/><circle cx="320.7" cy="203.1" r="1.95"/><circle cx="321.2" cy="202.8" r="1.95"/><circle cx="321.7" cy="202.1" r="1.95"/><circle cx="322.2" cy="201.8" r="1.95"/><circle cx="322.7" cy="200.4" r="1.95"/><circle cx="323.2" cy="202.1" r="1.95"/><circle cx="323.6" cy="200.7" r="1.95"/><circle cx="324.1" cy="202.9" r="1.95"/><circle cx="324.6" cy="203.6" r="1.95"/><circle cx="325.1" cy="201.7" r="1.95"/><circle cx="325.6" cy="201.5" r="1.95"/><circle cx="326.1" cy="201.0" r="1.95"/><circle cx="326.6" cy="200.3" r="1.95"/><circle cx="327.1" cy="204.5" r="1.95"/><circle cx="327.6" cy="201.7" r="1.95"/><circle cx="328.0" cy="201.9" r="1.95"/><circle cx="328.5" cy="201.3" r="1.95"/><circle cx="329.0" cy="202.7" r="1.95"/><circle cx="329.5" cy="203.9" r="1.95"/><circle cx="330.0" cy="204.0" r="1.95"/><circle cx="330.5" cy="199.7" r="1.95"/><circle cx="331.0" cy="200.1" r="1.95"/><circle cx="331.5" cy="203.9" r="1.95"/><circle cx="331.9" cy="201.1" r="1.95"/><circle cx="332.4" cy="202.3" r="1.95"/><circle cx="332.9" cy="200.9" r="1.95"/><circle cx="333.4" cy="204.1" r="1.95"/><circle cx="333.9" cy="202.4" r="1.95"/><circle cx="334.4" cy="202.5" r="1.95"/><circle cx="334.9" cy="202.7" r="1.95"/><circle cx="335.4" cy="201.7" r="1.95"/><circle cx="335.8" cy="201.7" r="1.95"/><circle cx="336.3" cy="203.9" r="1.95"/><circle cx="336.8" cy="203.0" r="1.95"/><circle cx="337.3" cy="201.9" r="1.95"/><circle cx="337.8" cy="202.3" r="1.95"/><circle cx="338.3" cy="201.3" r="1.95"/><circle cx="338.8" cy="201.5" r="1.95"/><circle cx="339.2" cy="204.2" r="1.95"/><circle cx="339.7" cy="203.1" r="1.95"/><circle cx="340.2" cy="202.2" r="1.95"/><circle cx="340.7" cy="203.4" r="1.95"/><circle cx="341.2" cy="200.7" r="1.95"/><circle cx="341.7" cy="202.0" r="1.95"/><circle cx="342.2" cy="203.6" r="1.95"/><circle cx="342.7" cy="204.1" r="1.95"/><circle cx="343.1" cy="203.2" r="1.95"/><circle cx="343.6" cy="202.2" r="1.95"/><circle cx="344.1" cy="203.2" r="1.95"/><circle cx="344.6" cy="204.4" r="1.95"/><circle cx="345.1" cy="203.5" r="1.95"/><circle cx="345.6" cy="204.2" r="1.95"/><circle cx="346.1" cy="201.9" r="1.95"/><circle cx="346.6" cy="202.2" r="1.95"/><circle cx="347.1" cy="201.9" r="1.95"/><circle cx="347.5" cy="204.5" r="1.95"/><circle cx="348.0" cy="203.9" r="1.95"/><circle cx="348.5" cy="201.7" r="1.95"/><circle cx="349.0" cy="203.2" r="1.95"/><circle cx="349.5" cy="203.6" r="1.95"/><circle cx="350.0" cy="202.6" r="1.95"/><circle cx="350.5" cy="204.6" r="1.95"/><circle cx="351.0" cy="203.2" r="1.95"/><circle cx="351.4" cy="201.6" r="1.95"/><circle cx="351.9" cy="202.1" r="1.95"/><circle cx="352.4" cy="203.0" r="1.95"/><circle cx="352.9" cy="204.7" r="1.95"/><circle cx="353.4" cy="203.6" r="1.95"/><circle cx="353.9" cy="204.3" r="1.95"/><circle cx="354.4" cy="202.2" r="1.95"/><circle cx="354.9" cy="205.4" r="1.95"/><circle cx="355.3" cy="204.3" r="1.95"/><circle cx="355.8" cy="204.1" r="1.95"/><circle cx="356.3" cy="205.9" r="1.95"/><circle cx="356.8" cy="203.9" r="1.95"/><circle cx="357.3" cy="202.8" r="1.95"/><circle cx="357.8" cy="200.3" r="1.95"/><circle cx="358.3" cy="204.1" r="1.95"/><circle cx="358.8" cy="202.5" r="1.95"/><circle cx="359.2" cy="203.7" r="1.95"/><circle cx="359.7" cy="204.7" r="1.95"/><circle cx="360.2" cy="204.6" r="1.95"/><circle cx="360.7" cy="204.4" r="1.95"/><circle cx="361.2" cy="203.7" r="1.95"/><circle cx="361.7" cy="207.2" r="1.95"/><circle cx="362.2" cy="204.1" r="1.95"/><circle cx="362.6" cy="205.9" r="1.95"/><circle cx="363.1" cy="205.7" r="1.95"/><circle cx="363.6" cy="204.0" r="1.95"/><circle cx="364.1" cy="204.2" r="1.95"/><circle cx="364.6" cy="205.9" r="1.95"/><circle cx="365.1" cy="205.2" r="1.95"/><circle cx="365.6" cy="203.8" r="1.95"/><circle cx="366.1" cy="205.9" r="1.95"/><circle cx="366.6" cy="204.6" r="1.95"/><circle cx="367.0" cy="202.0" r="1.95"/><circle cx="367.5" cy="205.7" r="1.95"/><circle cx="368.0" cy="204.3" r="1.95"/><circle cx="368.5" cy="205.8" r="1.95"/><circle cx="369.0" cy="205.1" r="1.95"/><circle cx="369.5" cy="207.3" r="1.95"/><circle cx="370.0" cy="203.6" r="1.95"/><circle cx="370.4" cy="206.1" r="1.95"/><circle cx="370.9" cy="204.3" r="1.95"/><circle cx="371.4" cy="205.2" r="1.95"/><circle cx="371.9" cy="205.1" r="1.95"/><circle cx="372.4" cy="207.6" r="1.95"/><circle cx="372.9" cy="206.5" r="1.95"/><circle cx="373.4" cy="206.7" r="1.95"/><circle cx="373.9" cy="204.0" r="1.95"/><circle cx="374.4" cy="203.3" r="1.95"/><circle cx="374.8" cy="207.2" r="1.95"/><circle cx="375.3" cy="206.0" r="1.95"/><circle cx="375.8" cy="205.3" r="1.95"/><circle cx="376.3" cy="207.6" r="1.95"/><circle cx="376.8" cy="206.4" r="1.95"/><circle cx="377.3" cy="206.0" r="1.95"/><circle cx="377.8" cy="205.1" r="1.95"/><circle cx="378.2" cy="204.7" r="1.95"/><circle cx="378.7" cy="207.5" r="1.95"/><circle cx="379.2" cy="203.2" r="1.95"/><circle cx="379.7" cy="206.9" r="1.95"/><circle cx="380.2" cy="207.5" r="1.95"/><circle cx="380.7" cy="206.8" r="1.95"/><circle cx="381.2" cy="204.6" r="1.95"/><circle cx="381.7" cy="208.0" r="1.95"/><circle cx="382.1" cy="205.7" r="1.95"/><circle cx="382.6" cy="208.1" r="1.95"/><circle cx="383.1" cy="205.0" r="1.95"/><circle cx="383.6" cy="205.3" r="1.95"/><circle cx="384.1" cy="206.0" r="1.95"/><circle cx="384.6" cy="204.0" r="1.95"/><circle cx="385.1" cy="207.4" r="1.95"/><circle cx="385.6" cy="205.4" r="1.95"/><circle cx="386.1" cy="205.1" r="1.95"/><circle cx="386.5" cy="206.5" r="1.95"/><circle cx="387.0" cy="208.4" r="1.95"/><circle cx="387.5" cy="203.8" r="1.95"/><circle cx="388.0" cy="204.9" r="1.95"/><circle cx="388.5" cy="204.9" r="1.95"/><circle cx="389.0" cy="206.8" r="1.95"/><circle cx="389.5" cy="206.0" r="1.95"/><circle cx="389.9" cy="207.8" r="1.95"/><circle cx="390.4" cy="206.3" r="1.95"/><circle cx="390.9" cy="208.3" r="1.95"/><circle cx="391.4" cy="205.3" r="1.95"/><circle cx="391.9" cy="206.5" r="1.95"/><circle cx="392.4" cy="206.3" r="1.95"/><circle cx="392.9" cy="204.5" r="1.95"/><circle cx="393.4" cy="206.7" r="1.95"/><circle cx="393.9" cy="207.1" r="1.95"/><circle cx="394.3" cy="205.0" r="1.95"/><circle cx="394.8" cy="204.3" r="1.95"/><circle cx="395.3" cy="207.2" r="1.95"/><circle cx="395.8" cy="206.4" r="1.95"/><circle cx="396.3" cy="209.3" r="1.95"/><circle cx="396.8" cy="208.3" r="1.95"/><circle cx="397.3" cy="205.8" r="1.95"/><circle cx="397.8" cy="207.7" r="1.95"/><circle cx="398.2" cy="208.6" r="1.95"/><circle cx="398.7" cy="206.7" r="1.95"/><circle cx="399.2" cy="207.7" r="1.95"/><circle cx="399.7" cy="207.8" r="1.95"/><circle cx="400.2" cy="207.6" r="1.95"/><circle cx="400.7" cy="208.6" r="1.95"/><circle cx="401.2" cy="208.4" r="1.95"/><circle cx="401.6" cy="205.4" r="1.95"/><circle cx="402.1" cy="208.2" r="1.95"/><circle cx="402.6" cy="204.7" r="1.95"/><circle cx="403.1" cy="208.7" r="1.95"/><circle cx="403.6" cy="207.3" r="1.95"/><circle cx="404.1" cy="209.3" r="1.95"/><circle cx="404.6" cy="209.4" r="1.95"/><circle cx="405.1" cy="208.3" r="1.95"/><circle cx="405.6" cy="204.9" r="1.95"/><circle cx="406.0" cy="207.3" r="1.95"/><circle cx="406.5" cy="207.3" r="1.95"/><circle cx="407.0" cy="206.8" r="1.95"/><circle cx="407.5" cy="208.4" r="1.95"/><circle cx="408.0" cy="208.3" r="1.95"/><circle cx="408.5" cy="206.0" r="1.95"/><circle cx="409.0" cy="209.5" r="1.95"/><circle cx="409.5" cy="207.7" r="1.95"/><circle cx="409.9" cy="206.9" r="1.95"/><circle cx="410.4" cy="210.2" r="1.95"/><circle cx="410.9" cy="207.4" r="1.95"/><circle cx="411.4" cy="209.1" r="1.95"/><circle cx="411.9" cy="208.8" r="1.95"/><circle cx="412.4" cy="208.4" r="1.95"/><circle cx="412.9" cy="208.9" r="1.95"/><circle cx="413.4" cy="212.6" r="1.95"/><circle cx="413.8" cy="207.6" r="1.95"/><circle cx="414.3" cy="210.9" r="1.95"/><circle cx="414.8" cy="208.6" r="1.95"/><circle cx="415.3" cy="205.8" r="1.95"/><circle cx="415.8" cy="207.9" r="1.95"/><circle cx="416.3" cy="209.9" r="1.95"/><circle cx="416.8" cy="209.6" r="1.95"/><circle cx="417.3" cy="208.9" r="1.95"/><circle cx="417.7" cy="206.8" r="1.95"/><circle cx="418.2" cy="207.6" r="1.95"/><circle cx="418.7" cy="210.6" r="1.95"/><circle cx="419.2" cy="208.2" r="1.95"/><circle cx="419.7" cy="208.2" r="1.95"/><circle cx="420.2" cy="208.6" r="1.95"/><circle cx="420.7" cy="210.5" r="1.95"/><circle cx="421.2" cy="208.4" r="1.95"/><circle cx="421.6" cy="208.7" r="1.95"/><circle cx="422.1" cy="209.6" r="1.95"/><circle cx="422.6" cy="208.3" r="1.95"/><circle cx="423.1" cy="208.3" r="1.95"/><circle cx="423.6" cy="208.0" r="1.95"/><circle cx="424.1" cy="208.8" r="1.95"/><circle cx="424.6" cy="209.1" r="1.95"/><circle cx="425.1" cy="207.5" r="1.95"/><circle cx="425.5" cy="210.2" r="1.95"/><circle cx="426.0" cy="209.9" r="1.95"/><circle cx="426.5" cy="207.0" r="1.95"/><circle cx="427.0" cy="209.4" r="1.95"/><circle cx="427.5" cy="208.1" r="1.95"/><circle cx="428.0" cy="210.8" r="1.95"/><circle cx="428.5" cy="208.5" r="1.95"/><circle cx="429.0" cy="209.7" r="1.95"/><circle cx="429.4" cy="211.4" r="1.95"/><circle cx="429.9" cy="208.9" r="1.95"/><circle cx="430.4" cy="212.2" r="1.95"/><circle cx="430.9" cy="207.8" r="1.95"/><circle cx="431.4" cy="207.4" r="1.95"/><circle cx="431.9" cy="210.7" r="1.95"/><circle cx="432.4" cy="207.7" r="1.95"/><circle cx="432.9" cy="211.4" r="1.95"/><circle cx="433.3" cy="209.7" r="1.95"/><circle cx="433.8" cy="208.9" r="1.95"/><circle cx="434.3" cy="210.8" r="1.95"/><circle cx="434.8" cy="211.9" r="1.95"/><circle cx="435.3" cy="209.7" r="1.95"/><circle cx="435.8" cy="210.9" r="1.95"/><circle cx="436.3" cy="210.7" r="1.95"/><circle cx="436.8" cy="211.2" r="1.95"/><circle cx="437.2" cy="209.3" r="1.95"/><circle cx="437.7" cy="211.6" r="1.95"/><circle cx="438.2" cy="211.0" r="1.95"/><circle cx="438.7" cy="210.2" r="1.95"/><circle cx="439.2" cy="214.0" r="1.95"/><circle cx="439.7" cy="210.1" r="1.95"/><circle cx="440.2" cy="208.9" r="1.95"/><circle cx="440.7" cy="208.2" r="1.95"/><circle cx="441.1" cy="209.3" r="1.95"/><circle cx="441.6" cy="208.5" r="1.95"/><circle cx="442.1" cy="211.0" r="1.95"/><circle cx="442.6" cy="209.2" r="1.95"/><circle cx="443.1" cy="213.4" r="1.95"/><circle cx="443.6" cy="210.0" r="1.95"/><circle cx="444.1" cy="209.6" r="1.95"/><circle cx="444.6" cy="208.8" r="1.95"/><circle cx="445.0" cy="211.6" r="1.95"/><circle cx="445.5" cy="209.6" r="1.95"/><circle cx="446.0" cy="208.5" r="1.95"/><circle cx="446.5" cy="209.9" r="1.95"/></g><g fill="url(#ek)" stroke="#000" stroke-width="0.45"><circle cx="257.4" cy="195.7" r="1.95"/><circle cx="257.8" cy="194.9" r="1.95"/><circle cx="258.3" cy="195.3" r="1.95"/><circle cx="258.8" cy="198.8" r="1.95"/><circle cx="259.3" cy="196.6" r="1.95"/><circle cx="259.8" cy="194.9" r="1.95"/><circle cx="260.3" cy="196.8" r="1.95"/><circle cx="260.8" cy="198.0" r="1.95"/><circle cx="261.2" cy="195.0" r="1.95"/><circle cx="261.7" cy="198.0" r="1.95"/><circle cx="262.2" cy="196.1" r="1.95"/><circle cx="262.7" cy="197.7" r="1.95"/><circle cx="263.2" cy="199.2" r="1.95"/><circle cx="263.7" cy="197.2" r="1.95"/><circle cx="264.2" cy="197.9" r="1.95"/><circle cx="264.7" cy="198.3" r="1.95"/><circle cx="265.1" cy="202.9" r="1.95"/><circle cx="265.6" cy="197.9" r="1.95"/><circle cx="266.1" cy="196.8" r="1.95"/><circle cx="266.6" cy="197.2" r="1.95"/><circle cx="267.1" cy="199.6" r="1.95"/><circle cx="267.6" cy="198.5" r="1.95"/><circle cx="268.1" cy="200.2" r="1.95"/><circle cx="268.6" cy="200.9" r="1.95"/><circle cx="269.1" cy="199.1" r="1.95"/><circle cx="269.5" cy="200.3" r="1.95"/><circle cx="270.0" cy="201.1" r="1.95"/><circle cx="270.5" cy="200.4" r="1.95"/><circle cx="271.0" cy="201.0" r="1.95"/><circle cx="271.5" cy="202.5" r="1.95"/><circle cx="272.0" cy="198.7" r="1.95"/><circle cx="272.5" cy="200.9" r="1.95"/><circle cx="272.9" cy="200.3" r="1.95"/><circle cx="273.4" cy="202.9" r="1.95"/><circle cx="273.9" cy="201.7" r="1.95"/><circle cx="274.4" cy="200.6" r="1.95"/><circle cx="274.9" cy="204.1" r="1.95"/><circle cx="275.4" cy="202.7" r="1.95"/><circle cx="275.9" cy="201.3" r="1.95"/><circle cx="276.4" cy="203.4" r="1.95"/><circle cx="276.9" cy="204.1" r="1.95"/><circle cx="277.3" cy="199.5" r="1.95"/><circle cx="277.8" cy="203.4" r="1.95"/><circle cx="278.3" cy="204.3" r="1.95"/><circle cx="278.8" cy="203.4" r="1.95"/><circle cx="279.3" cy="202.9" r="1.95"/><circle cx="279.8" cy="203.9" r="1.95"/><circle cx="280.3" cy="203.1" r="1.95"/><circle cx="280.8" cy="204.8" r="1.95"/><circle cx="281.2" cy="203.1" r="1.95"/><circle cx="281.7" cy="205.1" r="1.95"/><circle cx="282.2" cy="204.4" r="1.95"/><circle cx="282.7" cy="203.7" r="1.95"/><circle cx="283.2" cy="206.7" r="1.95"/><circle cx="283.7" cy="203.3" r="1.95"/><circle cx="284.2" cy="205.2" r="1.95"/><circle cx="284.6" cy="203.9" r="1.95"/><circle cx="285.1" cy="204.3" r="1.95"/><circle cx="285.6" cy="205.3" r="1.95"/><circle cx="286.1" cy="204.8" r="1.95"/><circle cx="286.6" cy="207.0" r="1.95"/><circle cx="287.1" cy="207.3" r="1.95"/><circle cx="287.6" cy="205.8" r="1.95"/><circle cx="288.1" cy="205.9" r="1.95"/><circle cx="288.6" cy="206.3" r="1.95"/><circle cx="289.0" cy="204.4" r="1.95"/><circle cx="289.5" cy="208.1" r="1.95"/><circle cx="290.0" cy="205.2" r="1.95"/><circle cx="290.5" cy="206.0" r="1.95"/><circle cx="291.0" cy="205.1" r="1.95"/><circle cx="291.5" cy="208.6" r="1.95"/><circle cx="292.0" cy="207.4" r="1.95"/><circle cx="292.4" cy="204.5" r="1.95"/><circle cx="292.9" cy="206.7" r="1.95"/><circle cx="293.4" cy="206.9" r="1.95"/><circle cx="293.9" cy="205.0" r="1.95"/><circle cx="294.4" cy="206.2" r="1.95"/><circle cx="294.9" cy="210.0" r="1.95"/><circle cx="295.4" cy="204.5" r="1.95"/><circle cx="295.9" cy="208.7" r="1.95"/><circle cx="296.4" cy="206.7" r="1.95"/><circle cx="296.8" cy="210.1" r="1.95"/><circle cx="297.3" cy="207.1" r="1.95"/><circle cx="297.8" cy="208.0" r="1.95"/><circle cx="298.3" cy="204.4" r="1.95"/><circle cx="298.8" cy="205.3" r="1.95"/><circle cx="299.3" cy="210.2" r="1.95"/><circle cx="299.8" cy="209.7" r="1.95"/><circle cx="300.2" cy="207.8" r="1.95"/><circle cx="300.7" cy="209.6" r="1.95"/><circle cx="301.2" cy="206.2" r="1.95"/><circle cx="301.7" cy="207.4" r="1.95"/><circle cx="302.2" cy="207.7" r="1.95"/><circle cx="302.7" cy="209.6" r="1.95"/><circle cx="303.2" cy="209.9" r="1.95"/><circle cx="303.7" cy="208.7" r="1.95"/><circle cx="304.1" cy="207.4" r="1.95"/><circle cx="304.6" cy="211.0" r="1.95"/><circle cx="305.1" cy="212.3" r="1.95"/><circle cx="305.6" cy="210.0" r="1.95"/><circle cx="306.1" cy="210.2" r="1.95"/><circle cx="306.6" cy="208.6" r="1.95"/><circle cx="307.1" cy="208.8" r="1.95"/><circle cx="307.6" cy="211.3" r="1.95"/><circle cx="308.1" cy="211.4" r="1.95"/><circle cx="308.5" cy="211.9" r="1.95"/><circle cx="309.0" cy="211.1" r="1.95"/><circle cx="309.5" cy="211.7" r="1.95"/><circle cx="310.0" cy="210.0" r="1.95"/><circle cx="310.5" cy="211.9" r="1.95"/><circle cx="311.0" cy="213.5" r="1.95"/><circle cx="311.5" cy="213.1" r="1.95"/><circle cx="311.9" cy="214.3" r="1.95"/><circle cx="312.4" cy="212.3" r="1.95"/><circle cx="312.9" cy="211.9" r="1.95"/><circle cx="313.4" cy="214.8" r="1.95"/><circle cx="313.9" cy="213.3" r="1.95"/><circle cx="314.4" cy="212.9" r="1.95"/><circle cx="314.9" cy="211.8" r="1.95"/><circle cx="315.4" cy="215.1" r="1.95"/><circle cx="315.9" cy="214.0" r="1.95"/><circle cx="316.3" cy="213.3" r="1.95"/><circle cx="316.8" cy="213.0" r="1.95"/><circle cx="317.3" cy="210.9" r="1.95"/><circle cx="317.8" cy="213.7" r="1.95"/><circle cx="318.3" cy="210.7" r="1.95"/><circle cx="318.8" cy="213.7" r="1.95"/><circle cx="319.3" cy="212.2" r="1.95"/><circle cx="319.8" cy="212.6" r="1.95"/><circle cx="320.2" cy="212.5" r="1.95"/><circle cx="320.7" cy="216.6" r="1.95"/><circle cx="321.2" cy="214.0" r="1.95"/><circle cx="321.7" cy="211.3" r="1.95"/><circle cx="322.2" cy="216.8" r="1.95"/><circle cx="322.7" cy="211.0" r="1.95"/><circle cx="323.2" cy="211.9" r="1.95"/><circle cx="323.6" cy="213.8" r="1.95"/><circle cx="324.1" cy="213.0" r="1.95"/><circle cx="324.6" cy="213.8" r="1.95"/><circle cx="325.1" cy="214.0" r="1.95"/><circle cx="325.6" cy="214.4" r="1.95"/><circle cx="326.1" cy="214.9" r="1.95"/><circle cx="326.6" cy="211.9" r="1.95"/><circle cx="327.1" cy="213.7" r="1.95"/><circle cx="327.6" cy="213.5" r="1.95"/><circle cx="328.0" cy="215.3" r="1.95"/><circle cx="328.5" cy="213.0" r="1.95"/><circle cx="329.0" cy="215.0" r="1.95"/><circle cx="329.5" cy="215.6" r="1.95"/><circle cx="330.0" cy="215.8" r="1.95"/><circle cx="330.5" cy="215.7" r="1.95"/><circle cx="331.0" cy="213.4" r="1.95"/><circle cx="331.5" cy="212.5" r="1.95"/><circle cx="331.9" cy="215.0" r="1.95"/><circle cx="332.4" cy="217.0" r="1.95"/><circle cx="332.9" cy="215.7" r="1.95"/><circle cx="333.4" cy="216.8" r="1.95"/><circle cx="333.9" cy="220.0" r="1.95"/><circle cx="334.4" cy="216.4" r="1.95"/><circle cx="334.9" cy="215.1" r="1.95"/><circle cx="335.4" cy="217.4" r="1.95"/><circle cx="335.8" cy="215.3" r="1.95"/><circle cx="336.3" cy="219.6" r="1.95"/><circle cx="336.8" cy="216.4" r="1.95"/><circle cx="337.3" cy="216.9" r="1.95"/><circle cx="337.8" cy="215.7" r="1.95"/><circle cx="338.3" cy="216.5" r="1.95"/><circle cx="338.8" cy="215.5" r="1.95"/><circle cx="339.2" cy="212.9" r="1.95"/><circle cx="339.7" cy="217.9" r="1.95"/><circle cx="340.2" cy="217.8" r="1.95"/><circle cx="340.7" cy="218.9" r="1.95"/><circle cx="341.2" cy="215.3" r="1.95"/><circle cx="341.7" cy="216.4" r="1.95"/><circle cx="342.2" cy="218.8" r="1.95"/><circle cx="342.7" cy="216.6" r="1.95"/><circle cx="343.1" cy="214.7" r="1.95"/><circle cx="343.6" cy="217.9" r="1.95"/><circle cx="344.1" cy="219.4" r="1.95"/><circle cx="344.6" cy="218.1" r="1.95"/><circle cx="345.1" cy="219.1" r="1.95"/><circle cx="345.6" cy="220.7" r="1.95"/><circle cx="346.1" cy="218.1" r="1.95"/><circle cx="346.6" cy="220.1" r="1.95"/><circle cx="347.1" cy="220.9" r="1.95"/><circle cx="347.5" cy="221.0" r="1.95"/><circle cx="348.0" cy="218.7" r="1.95"/><circle cx="348.5" cy="219.9" r="1.95"/><circle cx="349.0" cy="220.5" r="1.95"/><circle cx="349.5" cy="220.1" r="1.95"/><circle cx="350.0" cy="221.5" r="1.95"/><circle cx="350.5" cy="217.9" r="1.95"/><circle cx="351.0" cy="217.7" r="1.95"/><circle cx="351.4" cy="220.0" r="1.95"/><circle cx="351.9" cy="222.5" r="1.95"/><circle cx="352.4" cy="223.2" r="1.95"/><circle cx="352.9" cy="219.1" r="1.95"/><circle cx="353.4" cy="218.8" r="1.95"/><circle cx="353.9" cy="220.7" r="1.95"/><circle cx="354.4" cy="218.2" r="1.95"/><circle cx="354.9" cy="217.2" r="1.95"/><circle cx="355.3" cy="222.5" r="1.95"/><circle cx="355.8" cy="221.5" r="1.95"/><circle cx="356.3" cy="219.3" r="1.95"/><circle cx="356.8" cy="219.7" r="1.95"/><circle cx="357.3" cy="223.2" r="1.95"/><circle cx="357.8" cy="219.4" r="1.95"/><circle cx="358.3" cy="218.2" r="1.95"/><circle cx="358.8" cy="220.0" r="1.95"/><circle cx="359.2" cy="218.8" r="1.95"/><circle cx="359.7" cy="222.9" r="1.95"/><circle cx="360.2" cy="220.0" r="1.95"/><circle cx="360.7" cy="221.5" r="1.95"/><circle cx="361.2" cy="221.6" r="1.95"/><circle cx="361.7" cy="223.5" r="1.95"/><circle cx="362.2" cy="221.5" r="1.95"/><circle cx="362.6" cy="223.1" r="1.95"/><circle cx="363.1" cy="221.2" r="1.95"/><circle cx="363.6" cy="222.4" r="1.95"/><circle cx="364.1" cy="222.3" r="1.95"/><circle cx="364.6" cy="222.6" r="1.95"/><circle cx="365.1" cy="218.3" r="1.95"/><circle cx="365.6" cy="225.1" r="1.95"/><circle cx="366.1" cy="221.7" r="1.95"/><circle cx="366.6" cy="224.0" r="1.95"/><circle cx="367.0" cy="224.5" r="1.95"/><circle cx="367.5" cy="222.8" r="1.95"/><circle cx="368.0" cy="222.0" r="1.95"/><circle cx="368.5" cy="221.9" r="1.95"/><circle cx="369.0" cy="224.1" r="1.95"/><circle cx="369.5" cy="222.5" r="1.95"/><circle cx="370.0" cy="224.3" r="1.95"/><circle cx="370.4" cy="224.0" r="1.95"/><circle cx="370.9" cy="223.6" r="1.95"/><circle cx="371.4" cy="223.5" r="1.95"/><circle cx="371.9" cy="222.5" r="1.95"/><circle cx="372.4" cy="221.9" r="1.95"/><circle cx="372.9" cy="223.1" r="1.95"/><circle cx="373.4" cy="222.5" r="1.95"/><circle cx="373.9" cy="223.4" r="1.95"/><circle cx="374.4" cy="223.1" r="1.95"/><circle cx="374.8" cy="225.0" r="1.95"/><circle cx="375.3" cy="224.7" r="1.95"/><circle cx="375.8" cy="226.7" r="1.95"/><circle cx="376.3" cy="224.7" r="1.95"/><circle cx="376.8" cy="223.7" r="1.95"/><circle cx="377.3" cy="224.8" r="1.95"/><circle cx="377.8" cy="226.7" r="1.95"/><circle cx="378.2" cy="225.0" r="1.95"/><circle cx="378.7" cy="225.1" r="1.95"/><circle cx="379.2" cy="228.0" r="1.95"/><circle cx="379.7" cy="225.7" r="1.95"/><circle cx="380.2" cy="224.8" r="1.95"/><circle cx="380.7" cy="222.5" r="1.95"/><circle cx="381.2" cy="224.5" r="1.95"/><circle cx="381.7" cy="226.5" r="1.95"/><circle cx="382.1" cy="226.1" r="1.95"/><circle cx="382.6" cy="225.5" r="1.95"/><circle cx="383.1" cy="226.8" r="1.95"/><circle cx="383.6" cy="225.4" r="1.95"/><circle cx="384.1" cy="227.4" r="1.95"/><circle cx="384.6" cy="228.1" r="1.95"/><circle cx="385.1" cy="229.5" r="1.95"/><circle cx="385.6" cy="225.7" r="1.95"/><circle cx="386.1" cy="224.9" r="1.95"/><circle cx="386.5" cy="227.1" r="1.95"/><circle cx="387.0" cy="227.7" r="1.95"/><circle cx="387.5" cy="226.1" r="1.95"/><circle cx="388.0" cy="226.9" r="1.95"/><circle cx="388.5" cy="225.8" r="1.95"/><circle cx="389.0" cy="230.6" r="1.95"/><circle cx="389.5" cy="227.1" r="1.95"/><circle cx="389.9" cy="232.6" r="1.95"/><circle cx="390.4" cy="225.3" r="1.95"/><circle cx="390.9" cy="233.4" r="1.95"/><circle cx="391.4" cy="228.5" r="1.95"/><circle cx="391.9" cy="229.2" r="1.95"/><circle cx="392.4" cy="228.5" r="1.95"/><circle cx="392.9" cy="226.9" r="1.95"/><circle cx="393.4" cy="227.4" r="1.95"/><circle cx="393.9" cy="227.8" r="1.95"/><circle cx="394.3" cy="228.6" r="1.95"/><circle cx="394.8" cy="226.0" r="1.95"/><circle cx="395.3" cy="228.1" r="1.95"/><circle cx="395.8" cy="228.1" r="1.95"/><circle cx="396.3" cy="226.6" r="1.95"/><circle cx="396.8" cy="231.9" r="1.95"/><circle cx="397.3" cy="229.8" r="1.95"/><circle cx="397.8" cy="229.2" r="1.95"/><circle cx="398.2" cy="227.9" r="1.95"/><circle cx="398.7" cy="227.9" r="1.95"/><circle cx="399.2" cy="231.9" r="1.95"/><circle cx="399.7" cy="229.2" r="1.95"/><circle cx="400.2" cy="228.8" r="1.95"/><circle cx="400.7" cy="230.5" r="1.95"/><circle cx="401.2" cy="227.9" r="1.95"/><circle cx="401.6" cy="228.1" r="1.95"/><circle cx="402.1" cy="235.5" r="1.95"/><circle cx="402.6" cy="229.7" r="1.95"/><circle cx="403.1" cy="229.9" r="1.95"/><circle cx="403.6" cy="233.6" r="1.95"/><circle cx="404.1" cy="230.8" r="1.95"/><circle cx="404.6" cy="228.1" r="1.95"/><circle cx="405.1" cy="231.5" r="1.95"/><circle cx="405.6" cy="231.2" r="1.95"/><circle cx="406.0" cy="228.9" r="1.95"/><circle cx="406.5" cy="230.1" r="1.95"/><circle cx="407.0" cy="231.0" r="1.95"/><circle cx="407.5" cy="230.1" r="1.95"/><circle cx="408.0" cy="233.2" r="1.95"/><circle cx="408.5" cy="230.5" r="1.95"/><circle cx="409.0" cy="231.6" r="1.95"/><circle cx="409.5" cy="233.2" r="1.95"/><circle cx="409.9" cy="234.2" r="1.95"/><circle cx="410.4" cy="235.4" r="1.95"/><circle cx="410.9" cy="231.6" r="1.95"/><circle cx="411.4" cy="230.6" r="1.95"/><circle cx="411.9" cy="230.5" r="1.95"/><circle cx="412.4" cy="235.9" r="1.95"/><circle cx="412.9" cy="231.5" r="1.95"/><circle cx="413.4" cy="229.9" r="1.95"/><circle cx="413.8" cy="234.0" r="1.95"/><circle cx="414.3" cy="232.5" r="1.95"/><circle cx="414.8" cy="235.5" r="1.95"/><circle cx="415.3" cy="231.7" r="1.95"/><circle cx="415.8" cy="232.5" r="1.95"/><circle cx="416.3" cy="234.0" r="1.95"/><circle cx="416.8" cy="232.8" r="1.95"/><circle cx="417.3" cy="230.6" r="1.95"/><circle cx="417.7" cy="231.5" r="1.95"/><circle cx="418.2" cy="235.9" r="1.95"/><circle cx="418.7" cy="229.8" r="1.95"/><circle cx="419.2" cy="234.2" r="1.95"/><circle cx="419.7" cy="231.9" r="1.95"/><circle cx="420.2" cy="235.7" r="1.95"/><circle cx="420.7" cy="235.9" r="1.95"/><circle cx="421.2" cy="236.2" r="1.95"/><circle cx="421.6" cy="232.6" r="1.95"/><circle cx="422.1" cy="236.6" r="1.95"/><circle cx="422.6" cy="236.6" r="1.95"/><circle cx="423.1" cy="237.9" r="1.95"/><circle cx="423.6" cy="237.1" r="1.95"/><circle cx="424.1" cy="232.9" r="1.95"/><circle cx="424.6" cy="236.8" r="1.95"/><circle cx="425.1" cy="234.9" r="1.95"/><circle cx="425.5" cy="240.1" r="1.95"/><circle cx="426.0" cy="235.0" r="1.95"/><circle cx="426.5" cy="237.9" r="1.95"/><circle cx="427.0" cy="237.9" r="1.95"/><circle cx="427.5" cy="235.2" r="1.95"/><circle cx="428.0" cy="233.4" r="1.95"/><circle cx="428.5" cy="235.4" r="1.95"/><circle cx="429.0" cy="233.4" r="1.95"/><circle cx="429.4" cy="235.7" r="1.95"/><circle cx="429.9" cy="235.9" r="1.95"/><circle cx="430.4" cy="238.1" r="1.95"/><circle cx="430.9" cy="235.9" r="1.95"/><circle cx="431.4" cy="239.9" r="1.95"/><circle cx="431.9" cy="235.0" r="1.95"/><circle cx="432.4" cy="240.5" r="1.95"/><circle cx="432.9" cy="236.0" r="1.95"/><circle cx="433.3" cy="239.9" r="1.95"/><circle cx="433.8" cy="237.9" r="1.95"/><circle cx="434.3" cy="236.0" r="1.95"/><circle cx="434.8" cy="237.1" r="1.95"/><circle cx="435.3" cy="237.9" r="1.95"/><circle cx="435.8" cy="237.1" r="1.95"/><circle cx="436.3" cy="238.5" r="1.95"/><circle cx="436.8" cy="239.4" r="1.95"/><circle cx="437.2" cy="235.4" r="1.95"/><circle cx="437.7" cy="237.1" r="1.95"/><circle cx="438.2" cy="237.3" r="1.95"/><circle cx="438.7" cy="238.5" r="1.95"/><circle cx="439.2" cy="236.9" r="1.95"/><circle cx="439.7" cy="240.9" r="1.95"/><circle cx="440.2" cy="234.0" r="1.95"/><circle cx="440.7" cy="239.2" r="1.95"/><circle cx="441.1" cy="240.3" r="1.95"/><circle cx="441.6" cy="236.6" r="1.95"/><circle cx="442.1" cy="242.3" r="1.95"/><circle cx="442.6" cy="234.9" r="1.95"/><circle cx="443.1" cy="242.3" r="1.95"/><circle cx="443.6" cy="239.4" r="1.95"/><circle cx="444.1" cy="240.7" r="1.95"/><circle cx="444.6" cy="238.5" r="1.95"/><circle cx="445.0" cy="238.5" r="1.95"/><circle cx="445.5" cy="237.9" r="1.95"/><circle cx="446.0" cy="237.7" r="1.95"/><circle cx="446.5" cy="238.8" r="1.95"/></g><g fill="url(#eb)" stroke="#0000a0" stroke-width="0.45"><circle cx="257.4" cy="194.9" r="1.95"/><circle cx="257.8" cy="198.0" r="1.95"/><circle cx="258.3" cy="197.0" r="1.95"/><circle cx="258.8" cy="198.1" r="1.95"/><circle cx="259.3" cy="198.2" r="1.95"/><circle cx="259.8" cy="198.1" r="1.95"/><circle cx="260.3" cy="198.5" r="1.95"/><circle cx="260.8" cy="201.2" r="1.95"/><circle cx="261.2" cy="200.9" r="1.95"/><circle cx="261.7" cy="202.9" r="1.95"/><circle cx="262.2" cy="202.8" r="1.95"/><circle cx="262.7" cy="206.0" r="1.95"/><circle cx="263.2" cy="204.1" r="1.95"/><circle cx="263.7" cy="204.6" r="1.95"/><circle cx="264.2" cy="204.9" r="1.95"/><circle cx="264.7" cy="204.5" r="1.95"/><circle cx="265.1" cy="207.5" r="1.95"/><circle cx="265.6" cy="208.8" r="1.95"/><circle cx="266.1" cy="209.0" r="1.95"/><circle cx="266.6" cy="207.8" r="1.95"/><circle cx="267.1" cy="209.2" r="1.95"/><circle cx="267.6" cy="208.4" r="1.95"/><circle cx="268.1" cy="211.0" r="1.95"/><circle cx="268.6" cy="215.0" r="1.95"/><circle cx="269.1" cy="208.9" r="1.95"/><circle cx="269.5" cy="211.7" r="1.95"/><circle cx="270.0" cy="208.1" r="1.95"/><circle cx="270.5" cy="215.3" r="1.95"/><circle cx="271.0" cy="212.8" r="1.95"/><circle cx="271.5" cy="215.9" r="1.95"/><circle cx="272.0" cy="214.0" r="1.95"/><circle cx="272.5" cy="215.3" r="1.95"/><circle cx="272.9" cy="215.1" r="1.95"/><circle cx="273.4" cy="216.6" r="1.95"/><circle cx="273.9" cy="219.6" r="1.95"/><circle cx="274.4" cy="219.7" r="1.95"/><circle cx="274.9" cy="223.0" r="1.95"/><circle cx="275.4" cy="220.0" r="1.95"/><circle cx="275.9" cy="221.8" r="1.95"/><circle cx="276.4" cy="217.1" r="1.95"/><circle cx="276.9" cy="223.3" r="1.95"/><circle cx="277.3" cy="223.8" r="1.95"/><circle cx="277.8" cy="222.3" r="1.95"/><circle cx="278.3" cy="225.5" r="1.95"/><circle cx="278.8" cy="223.8" r="1.95"/><circle cx="279.3" cy="226.3" r="1.95"/><circle cx="279.8" cy="227.2" r="1.95"/><circle cx="280.3" cy="224.8" r="1.95"/><circle cx="280.8" cy="228.5" r="1.95"/><circle cx="281.2" cy="227.7" r="1.95"/><circle cx="281.7" cy="232.5" r="1.95"/><circle cx="282.2" cy="227.4" r="1.95"/><circle cx="282.7" cy="221.9" r="1.95"/><circle cx="283.2" cy="229.2" r="1.95"/><circle cx="283.7" cy="229.9" r="1.95"/><circle cx="284.2" cy="228.4" r="1.95"/><circle cx="284.6" cy="231.5" r="1.95"/><circle cx="285.1" cy="229.9" r="1.95"/><circle cx="285.6" cy="231.6" r="1.95"/><circle cx="286.1" cy="228.5" r="1.95"/><circle cx="286.6" cy="232.9" r="1.95"/><circle cx="287.1" cy="232.9" r="1.95"/><circle cx="287.6" cy="230.9" r="1.95"/><circle cx="288.1" cy="231.2" r="1.95"/><circle cx="288.6" cy="236.0" r="1.95"/><circle cx="289.0" cy="231.3" r="1.95"/><circle cx="289.5" cy="236.6" r="1.95"/><circle cx="290.0" cy="239.7" r="1.95"/><circle cx="290.5" cy="237.1" r="1.95"/><circle cx="291.0" cy="236.4" r="1.95"/><circle cx="291.5" cy="235.7" r="1.95"/><circle cx="292.0" cy="239.2" r="1.95"/><circle cx="292.4" cy="236.8" r="1.95"/><circle cx="292.9" cy="238.1" r="1.95"/><circle cx="293.4" cy="244.7" r="1.95"/><circle cx="293.9" cy="233.9" r="1.95"/><circle cx="294.4" cy="237.1" r="1.95"/><circle cx="294.9" cy="241.8" r="1.95"/><circle cx="295.4" cy="237.9" r="1.95"/><circle cx="295.9" cy="241.8" r="1.95"/><circle cx="296.4" cy="241.4" r="1.95"/><circle cx="296.8" cy="245.0" r="1.95"/><circle cx="297.3" cy="247.2" r="1.95"/><circle cx="297.8" cy="242.5" r="1.95"/><circle cx="298.3" cy="247.5" r="1.95"/><circle cx="298.8" cy="243.7" r="1.95"/><circle cx="299.3" cy="245.0" r="1.95"/><circle cx="299.8" cy="245.2" r="1.95"/><circle cx="300.2" cy="244.5" r="1.95"/><circle cx="300.7" cy="249.6" r="1.95"/><circle cx="301.2" cy="245.5" r="1.95"/><circle cx="301.7" cy="244.2" r="1.95"/><circle cx="302.2" cy="248.4" r="1.95"/><circle cx="302.7" cy="248.4" r="1.95"/><circle cx="303.2" cy="252.7" r="1.95"/><circle cx="303.7" cy="247.8" r="1.95"/><circle cx="304.1" cy="246.9" r="1.95"/><circle cx="304.6" cy="246.6" r="1.95"/><circle cx="305.1" cy="247.2" r="1.95"/><circle cx="305.6" cy="255.4" r="1.95"/><circle cx="306.1" cy="252.3" r="1.95"/><circle cx="306.6" cy="257.2" r="1.95"/><circle cx="307.1" cy="250.9" r="1.95"/><circle cx="307.6" cy="256.7" r="1.95"/><circle cx="308.1" cy="256.3" r="1.95"/><circle cx="308.5" cy="253.8" r="1.95"/><circle cx="309.0" cy="250.6" r="1.95"/><circle cx="309.5" cy="254.6" r="1.95"/><circle cx="310.0" cy="255.4" r="1.95"/><circle cx="310.5" cy="255.8" r="1.95"/><circle cx="311.0" cy="260.0" r="1.95"/><circle cx="311.5" cy="258.5" r="1.95"/><circle cx="311.9" cy="255.8" r="1.95"/><circle cx="312.4" cy="254.6" r="1.95"/><circle cx="312.9" cy="257.6" r="1.95"/><circle cx="313.4" cy="264.5" r="1.95"/><circle cx="313.9" cy="252.0" r="1.95"/><circle cx="314.4" cy="256.7" r="1.95"/><circle cx="314.9" cy="258.1" r="1.95"/><circle cx="315.4" cy="264.5" r="1.95"/><circle cx="315.9" cy="261.6" r="1.95"/><circle cx="316.3" cy="264.5" r="1.95"/><circle cx="316.8" cy="262.2" r="1.95"/><circle cx="317.3" cy="267.9" r="1.95"/><circle cx="317.8" cy="270.2" r="1.95"/><circle cx="318.3" cy="259.5" r="1.95"/><circle cx="318.8" cy="275.6" r="1.95"/><circle cx="319.3" cy="270.2" r="1.95"/><circle cx="319.8" cy="261.6" r="1.95"/><circle cx="320.2" cy="271.0" r="1.95"/><circle cx="320.7" cy="265.8" r="1.95"/><circle cx="321.2" cy="263.3" r="1.95"/><circle cx="321.7" cy="271.0" r="1.95"/><circle cx="322.2" cy="269.4" r="1.95"/><circle cx="322.7" cy="274.6" r="1.95"/><circle cx="323.2" cy="270.2" r="1.95"/><circle cx="323.6" cy="271.8" r="1.95"/><circle cx="324.1" cy="267.2" r="1.95"/><circle cx="324.6" cy="271.8" r="1.95"/><circle cx="325.1" cy="282.7" r="1.95"/><circle cx="325.6" cy="265.8" r="1.95"/><circle cx="326.1" cy="274.6" r="1.95"/><circle cx="326.6" cy="273.6" r="1.95"/><circle cx="327.1" cy="263.9" r="1.95"/><circle cx="327.6" cy="276.6" r="1.95"/><circle cx="328.0" cy="274.6" r="1.95"/><circle cx="328.5" cy="272.7" r="1.95"/><circle cx="329.0" cy="271.8" r="1.95"/><circle cx="329.5" cy="273.6" r="1.95"/><circle cx="330.0" cy="285.7" r="1.95"/><circle cx="330.5" cy="280.1" r="1.95"/><circle cx="331.0" cy="282.7" r="1.95"/><circle cx="331.5" cy="281.4" r="1.95"/><circle cx="331.9" cy="280.1" r="1.95"/><circle cx="332.4" cy="276.6" r="1.95"/><circle cx="332.9" cy="287.4" r="1.95"/><circle cx="333.4" cy="271.8" r="1.95"/><circle cx="333.9" cy="278.9" r="1.95"/><circle cx="334.4" cy="277.7" r="1.95"/><circle cx="334.9" cy="293.3" r="1.95"/><circle cx="335.4" cy="277.7" r="1.95"/><circle cx="335.8" cy="275.6" r="1.95"/><circle cx="336.3" cy="277.7" r="1.95"/><circle cx="336.8" cy="278.9" r="1.95"/><circle cx="337.3" cy="276.6" r="1.95"/><circle cx="337.8" cy="280.1" r="1.95"/><circle cx="338.3" cy="276.6" r="1.95"/><circle cx="338.8" cy="278.9" r="1.95"/><circle cx="339.2" cy="285.7" r="1.95"/><circle cx="339.7" cy="298.3" r="1.95"/><circle cx="340.2" cy="278.9" r="1.95"/><circle cx="340.7" cy="282.7" r="1.95"/><circle cx="341.2" cy="281.4" r="1.95"/><circle cx="341.7" cy="277.7" r="1.95"/><circle cx="342.2" cy="287.4" r="1.95"/><circle cx="342.7" cy="295.7" r="1.95"/><circle cx="343.1" cy="293.3" r="1.95"/><circle cx="343.6" cy="285.7" r="1.95"/><circle cx="344.1" cy="285.7" r="1.95"/><circle cx="344.6" cy="276.6" r="1.95"/><circle cx="345.1" cy="285.7" r="1.95"/><circle cx="345.6" cy="293.3" r="1.95"/><circle cx="346.1" cy="285.7" r="1.95"/><circle cx="346.6" cy="289.2" r="1.95"/><circle cx="347.1" cy="285.7" r="1.95"/><circle cx="347.5" cy="284.2" r="1.95"/><circle cx="348.0" cy="304.8" r="1.95"/><circle cx="348.5" cy="285.7" r="1.95"/><circle cx="349.0" cy="295.7" r="1.95"/><circle cx="349.5" cy="308.9" r="1.95"/><circle cx="350.0" cy="304.8" r="1.95"/><circle cx="350.5" cy="295.7" r="1.95"/><circle cx="351.0" cy="289.2" r="1.95"/><circle cx="351.4" cy="295.7" r="1.95"/><circle cx="351.9" cy="285.7" r="1.95"/><circle cx="352.4" cy="289.2" r="1.95"/><circle cx="352.9" cy="298.3" r="1.95"/><circle cx="353.4" cy="293.3" r="1.95"/><circle cx="353.9" cy="298.3" r="1.95"/><circle cx="354.4" cy="301.3" r="1.95"/><circle cx="354.9" cy="293.3" r="1.95"/><circle cx="355.3" cy="301.3" r="1.95"/><circle cx="355.8" cy="298.3" r="1.95"/><circle cx="356.3" cy="301.3" r="1.95"/><circle cx="356.8" cy="281.4" r="1.95"/><circle cx="357.3" cy="293.3" r="1.95"/><circle cx="357.8" cy="293.3" r="1.95"/><circle cx="358.3" cy="308.9" r="1.95"/><circle cx="358.8" cy="308.9" r="1.95"/><circle cx="359.2" cy="298.3" r="1.95"/><circle cx="359.7" cy="289.2" r="1.95"/><circle cx="360.2" cy="298.3" r="1.95"/><circle cx="360.7" cy="304.8" r="1.95"/><circle cx="361.2" cy="304.8" r="1.95"/><circle cx="361.7" cy="304.8" r="1.95"/><circle cx="362.2" cy="301.3" r="1.95"/><circle cx="362.6" cy="313.9" r="1.95"/><circle cx="363.1" cy="298.3" r="1.95"/><circle cx="363.6" cy="304.8" r="1.95"/><circle cx="364.1" cy="329.4" r="1.95"/><circle cx="364.6" cy="304.8" r="1.95"/><circle cx="365.1" cy="304.8" r="1.95"/><circle cx="365.6" cy="304.8" r="1.95"/><circle cx="366.1" cy="320.3" r="1.95"/><circle cx="366.6" cy="298.3" r="1.95"/><circle cx="367.0" cy="329.4" r="1.95"/><circle cx="367.5" cy="308.9" r="1.95"/><circle cx="368.0" cy="313.9" r="1.95"/><circle cx="368.5" cy="291.1" r="1.95"/><circle cx="369.0" cy="313.9" r="1.95"/><circle cx="369.5" cy="287.4" r="1.95"/><circle cx="370.0" cy="313.9" r="1.95"/><circle cx="370.4" cy="304.8" r="1.95"/><circle cx="370.9" cy="289.2" r="1.95"/><circle cx="371.4" cy="295.7" r="1.95"/><circle cx="371.9" cy="295.7" r="1.95"/><circle cx="372.4" cy="313.9" r="1.95"/><circle cx="372.9" cy="313.9" r="1.95"/><circle cx="373.4" cy="304.8" r="1.95"/><circle cx="373.9" cy="304.8" r="1.95"/><circle cx="374.4" cy="301.3" r="1.95"/><circle cx="374.8" cy="313.9" r="1.95"/><circle cx="375.3" cy="329.4" r="1.95"/><circle cx="375.8" cy="295.7" r="1.95"/><circle cx="376.3" cy="320.3" r="1.95"/><circle cx="376.8" cy="320.3" r="1.95"/><circle cx="377.3" cy="313.9" r="1.95"/><circle cx="377.8" cy="320.3" r="1.95"/><circle cx="378.2" cy="304.8" r="1.95"/><circle cx="378.7" cy="313.9" r="1.95"/><circle cx="379.2" cy="304.8" r="1.95"/><circle cx="379.7" cy="313.9" r="1.95"/><circle cx="380.2" cy="313.9" r="1.95"/><circle cx="380.7" cy="320.3" r="1.95"/><circle cx="381.2" cy="320.3" r="1.95"/><circle cx="381.7" cy="329.4" r="1.95"/><circle cx="382.1" cy="313.9" r="1.95"/><circle cx="382.6" cy="320.3" r="1.95"/><circle cx="383.1" cy="304.8" r="1.95"/><circle cx="383.6" cy="298.3" r="1.95"/><circle cx="384.1" cy="320.3" r="1.95"/><circle cx="384.6" cy="293.3" r="1.95"/><circle cx="385.1" cy="329.4" r="1.95"/><circle cx="385.6" cy="313.9" r="1.95"/><circle cx="386.1" cy="320.3" r="1.95"/><circle cx="386.5" cy="304.8" r="1.95"/><circle cx="387.0" cy="313.9" r="1.95"/><circle cx="387.5" cy="298.3" r="1.95"/><circle cx="388.0" cy="320.3" r="1.95"/><circle cx="388.5" cy="329.4" r="1.95"/><circle cx="389.0" cy="308.9" r="1.95"/><circle cx="389.5" cy="308.9" r="1.95"/><circle cx="389.9" cy="301.3" r="1.95"/><circle cx="390.4" cy="313.9" r="1.95"/><circle cx="390.9" cy="313.9" r="1.95"/><circle cx="391.4" cy="320.3" r="1.95"/><circle cx="391.9" cy="329.4" r="1.95"/><circle cx="392.4" cy="313.9" r="1.95"/><circle cx="392.9" cy="304.8" r="1.95"/><circle cx="393.4" cy="313.9" r="1.95"/><circle cx="393.9" cy="320.3" r="1.95"/><circle cx="394.3" cy="345.0" r="1.95"/><circle cx="394.8" cy="298.3" r="1.95"/><circle cx="395.3" cy="329.4" r="1.95"/><circle cx="395.8" cy="313.9" r="1.95"/><circle cx="396.3" cy="345.0" r="1.95"/><circle cx="396.8" cy="320.3" r="1.95"/><circle cx="397.3" cy="308.9" r="1.95"/><circle cx="397.8" cy="308.9" r="1.95"/><circle cx="398.2" cy="320.3" r="1.95"/><circle cx="398.7" cy="345.0" r="1.95"/><circle cx="399.2" cy="304.8" r="1.95"/><circle cx="399.7" cy="345.0" r="1.95"/><circle cx="400.2" cy="329.4" r="1.95"/><circle cx="400.7" cy="313.9" r="1.95"/><circle cx="401.2" cy="329.4" r="1.95"/><circle cx="401.6" cy="291.1" r="1.95"/><circle cx="402.1" cy="320.3" r="1.95"/><circle cx="402.6" cy="304.8" r="1.95"/><circle cx="403.6" cy="345.0" r="1.95"/><circle cx="404.1" cy="329.4" r="1.95"/><circle cx="404.6" cy="320.3" r="1.95"/><circle cx="405.1" cy="298.3" r="1.95"/><circle cx="405.6" cy="329.4" r="1.95"/><circle cx="406.0" cy="308.9" r="1.95"/><circle cx="406.5" cy="320.3" r="1.95"/><circle cx="407.0" cy="304.8" r="1.95"/><circle cx="407.5" cy="320.3" r="1.95"/><circle cx="408.0" cy="345.0" r="1.95"/><circle cx="408.5" cy="320.3" r="1.95"/><circle cx="409.0" cy="320.3" r="1.95"/><circle cx="409.5" cy="345.0" r="1.95"/><circle cx="410.4" cy="308.9" r="1.95"/><circle cx="410.9" cy="329.4" r="1.95"/><circle cx="411.4" cy="304.8" r="1.95"/><circle cx="411.9" cy="345.0" r="1.95"/><circle cx="412.4" cy="298.3" r="1.95"/><circle cx="412.9" cy="313.9" r="1.95"/><circle cx="413.4" cy="329.4" r="1.95"/><circle cx="413.8" cy="301.3" r="1.95"/><circle cx="414.3" cy="308.9" r="1.95"/><circle cx="414.8" cy="320.3" r="1.95"/><circle cx="415.3" cy="329.4" r="1.95"/><circle cx="415.8" cy="320.3" r="1.95"/><circle cx="416.3" cy="320.3" r="1.95"/><circle cx="416.8" cy="320.3" r="1.95"/><circle cx="417.3" cy="329.4" r="1.95"/><circle cx="417.7" cy="313.9" r="1.95"/><circle cx="418.2" cy="320.3" r="1.95"/><circle cx="418.7" cy="329.4" r="1.95"/><circle cx="419.2" cy="308.9" r="1.95"/><circle cx="419.7" cy="301.3" r="1.95"/><circle cx="420.2" cy="320.3" r="1.95"/><circle cx="420.7" cy="301.3" r="1.95"/><circle cx="421.2" cy="329.4" r="1.95"/><circle cx="421.6" cy="329.4" r="1.95"/><circle cx="422.1" cy="308.9" r="1.95"/><circle cx="422.6" cy="320.3" r="1.95"/><circle cx="423.1" cy="320.3" r="1.95"/><circle cx="423.6" cy="329.4" r="1.95"/><circle cx="424.1" cy="304.8" r="1.95"/><circle cx="424.6" cy="320.3" r="1.95"/><circle cx="425.1" cy="320.3" r="1.95"/><circle cx="425.5" cy="320.3" r="1.95"/><circle cx="426.0" cy="329.4" r="1.95"/><circle cx="426.5" cy="308.9" r="1.95"/><circle cx="427.0" cy="308.9" r="1.95"/><circle cx="427.5" cy="320.3" r="1.95"/><circle cx="428.0" cy="320.3" r="1.95"/><circle cx="428.5" cy="329.4" r="1.95"/><circle cx="429.0" cy="313.9" r="1.95"/><circle cx="429.4" cy="329.4" r="1.95"/><circle cx="429.9" cy="320.3" r="1.95"/><circle cx="430.4" cy="329.4" r="1.95"/><circle cx="430.9" cy="329.4" r="1.95"/><circle cx="431.4" cy="308.9" r="1.95"/><circle cx="431.9" cy="304.8" r="1.95"/><circle cx="432.4" cy="313.9" r="1.95"/><circle cx="432.9" cy="320.3" r="1.95"/><circle cx="433.3" cy="313.9" r="1.95"/><circle cx="433.8" cy="320.3" r="1.95"/><circle cx="434.3" cy="320.3" r="1.95"/><circle cx="435.3" cy="313.9" r="1.95"/><circle cx="435.8" cy="320.3" r="1.95"/><circle cx="436.3" cy="329.4" r="1.95"/><circle cx="436.8" cy="308.9" r="1.95"/><circle cx="437.2" cy="320.3" r="1.95"/><circle cx="437.7" cy="320.3" r="1.95"/><circle cx="438.2" cy="329.4" r="1.95"/><circle cx="438.7" cy="313.9" r="1.95"/><circle cx="439.2" cy="301.3" r="1.95"/><circle cx="439.7" cy="345.0" r="1.95"/><circle cx="440.2" cy="320.3" r="1.95"/><circle cx="440.7" cy="313.9" r="1.95"/><circle cx="441.1" cy="313.9" r="1.95"/><circle cx="441.6" cy="329.4" r="1.95"/><circle cx="442.1" cy="345.0" r="1.95"/><circle cx="442.6" cy="320.3" r="1.95"/><circle cx="443.1" cy="329.4" r="1.95"/><circle cx="444.1" cy="313.9" r="1.95"/><circle cx="444.6" cy="313.9" r="1.95"/><circle cx="445.0" cy="304.8" r="1.95"/><circle cx="445.5" cy="308.9" r="1.95"/><circle cx="446.0" cy="345.0" r="1.95"/><circle cx="446.5" cy="320.3" r="1.95"/></g></g><path d="M251.5 190.5H446.5V350.5H251.5Z" fill="none" stroke="#333" stroke-width="1"/><path d="M251.50 350.5V347.5M271.00 350.5V348.9M290.50 350.5V347.5M310.00 350.5V348.9M329.50 350.5V347.5M349.00 350.5V348.9M368.50 350.5V347.5M388.00 350.5V348.9M407.50 350.5V347.5M427.00 350.5V348.9M446.50 350.5V347.5M251.5 350.00H254.5M251.5 334.44H253.1M251.5 325.33H253.1M251.5 318.87H253.1M251.5 313.86H253.1M251.5 309.77H253.1M251.5 306.31H253.1M251.5 303.31H253.1M251.5 300.67H253.1M251.5 298.30H254.5M251.5 282.74H253.1M251.5 273.63H253.1M251.5 267.17H253.1M251.5 262.16H253.1M251.5 258.07H253.1M251.5 254.61H253.1M251.5 251.61H253.1M251.5 248.97H253.1M251.5 246.60H254.5M251.5 231.04H253.1M251.5 221.93H253.1M251.5 215.47H253.1M251.5 210.46H253.1M251.5 206.37H253.1M251.5 202.91H253.1M251.5 199.91H253.1M251.5 197.27H253.1M251.5 194.90H254.5" stroke="#333" stroke-width="0.8"/><text x="251.5" y="359.3" font-size="6.2" font-weight="bold" fill="#000" text-anchor="middle">0</text><text x="290.5" y="359.3" font-size="6.2" font-weight="bold" fill="#000" text-anchor="middle">2</text><text x="329.5" y="359.3" font-size="6.2" font-weight="bold" fill="#000" text-anchor="middle">4</text><text x="368.5" y="359.3" font-size="6.2" font-weight="bold" fill="#000" text-anchor="middle">6</text><text x="407.5" y="359.3" font-size="6.2" font-weight="bold" fill="#000" text-anchor="middle">8</text><text x="446.5" y="359.3" font-size="6.2" font-weight="bold" fill="#000" text-anchor="middle">10</text><text x="248.6" y="197.0" font-size="6.0" font-weight="bold" fill="#000" text-anchor="end">1</text><text x="248.6" y="248.70000000000002" font-size="6.0" font-weight="bold" fill="#000" text-anchor="end">0.1</text><text x="248.6" y="300.40000000000003" font-size="6.0" font-weight="bold" fill="#000" text-anchor="end">0.01</text><text x="248.6" y="352.1" font-size="6.0" font-weight="bold" fill="#000" text-anchor="end">0.001</text><text x="349.5" y="368.3" font-size="7.6" font-weight="bold" fill="#000" text-anchor="middle" textLength="31.8" lengthAdjust="spacingAndGlyphs">Time (µs)</text><text x="232.2" y="271" font-size="7.6" font-weight="bold" fill="#000" text-anchor="middle" textLength="102" lengthAdjust="spacingAndGlyphs" transform="rotate(-90 232.2 271)">Normalized PL intensity (a.u.)</text><text x="224.6" y="194.9" font-size="12.2" font-weight="bold" fill="#000">e</text><circle cx="265.3" cy="317.7" r="1.9" fill="url(#eb)"/><text x="275.8" y="320.59999999999997" font-size="7.4" font-weight="bold" fill="#000" textLength="32.4" lengthAdjust="spacingAndGlyphs">Perovskite</text><circle cx="265.3" cy="327.7" r="1.9" fill="url(#ek)"/><text x="275.8" y="330.59999999999997" font-size="7.4" font-weight="bold" fill="#000" textLength="49.8" lengthAdjust="spacingAndGlyphs">Perovskite/PPAI</text><circle cx="265.3" cy="337.8" r="1.9" fill="url(#er)"/><text x="275.8" y="340.7" font-size="7.4" font-weight="bold" fill="#000" textLength="70.8" lengthAdjust="spacingAndGlyphs">Perovskite/PPAI+tBBAI</text><g fill="none" stroke="#ff2020" stroke-width="0.85"><circle cx="490.5" cy="349.0" r="2.35"/><circle cx="490.5" cy="346.9" r="2.35"/><circle cx="490.5" cy="344.7" r="2.35"/><circle cx="490.5" cy="342.5" r="2.35"/><circle cx="490.5" cy="340.4" r="2.35"/><circle cx="490.5" cy="338.2" r="2.35"/><circle cx="490.5" cy="335.3" r="2.35"/><circle cx="490.5" cy="333.1" r="2.35"/><circle cx="490.5" cy="312.9" r="2.35"/><circle cx="490.5" cy="279.8" r="2.35"/><circle cx="490.5" cy="211.9" r="2.35"/><circle cx="490.5" cy="204.7" r="2.35"/><circle cx="490.5" cy="197.5" r="2.35"/><circle cx="490.5" cy="201.8" r="2.35"/><circle cx="490.9" cy="207.0" r="2.35"/><circle cx="491.2" cy="208.1" r="2.35"/><circle cx="491.5" cy="201.5" r="2.35"/><circle cx="491.9" cy="215.5" r="2.35"/><circle cx="492.2" cy="207.2" r="2.35"/><circle cx="492.5" cy="217.4" r="2.35"/><circle cx="492.8" cy="203.8" r="2.35"/><circle cx="493.2" cy="208.7" r="2.35"/><circle cx="493.5" cy="204.5" r="2.35"/><circle cx="493.8" cy="213.4" r="2.35"/><circle cx="494.1" cy="210.3" r="2.35"/><circle cx="494.5" cy="214.0" r="2.35"/><circle cx="494.8" cy="216.7" r="2.35"/><circle cx="495.1" cy="213.5" r="2.35"/><circle cx="495.5" cy="220.2" r="2.35"/><circle cx="495.8" cy="216.9" r="2.35"/><circle cx="496.1" cy="212.9" r="2.35"/><circle cx="496.4" cy="216.3" r="2.35"/><circle cx="496.8" cy="218.8" r="2.35"/><circle cx="497.1" cy="208.0" r="2.35"/><circle cx="497.4" cy="217.7" r="2.35"/><circle cx="497.8" cy="221.0" r="2.35"/><circle cx="498.1" cy="218.2" r="2.35"/><circle cx="498.4" cy="221.5" r="2.35"/><circle cx="498.7" cy="221.3" r="2.35"/><circle cx="499.1" cy="221.6" r="2.35"/><circle cx="499.4" cy="211.6" r="2.35"/><circle cx="499.7" cy="220.6" r="2.35"/><circle cx="500.1" cy="220.3" r="2.35"/><circle cx="500.4" cy="218.5" r="2.35"/><circle cx="500.7" cy="212.9" r="2.35"/><circle cx="501.0" cy="222.9" r="2.35"/><circle cx="501.4" cy="224.9" r="2.35"/><circle cx="501.7" cy="211.8" r="2.35"/><circle cx="502.7" cy="229.6" r="2.35"/><circle cx="503.7" cy="225.5" r="2.35"/><circle cx="504.8" cy="221.7" r="2.35"/><circle cx="505.8" cy="215.2" r="2.35"/><circle cx="506.8" cy="229.7" r="2.35"/><circle cx="507.8" cy="236.6" r="2.35"/><circle cx="508.9" cy="223.6" r="2.35"/><circle cx="509.9" cy="229.1" r="2.35"/><circle cx="510.9" cy="228.9" r="2.35"/><circle cx="511.9" cy="225.6" r="2.35"/><circle cx="512.9" cy="227.0" r="2.35"/><circle cx="514.0" cy="227.0" r="2.35"/><circle cx="515.0" cy="230.4" r="2.35"/><circle cx="516.0" cy="223.3" r="2.35"/><circle cx="517.0" cy="222.7" r="2.35"/><circle cx="518.1" cy="229.3" r="2.35"/><circle cx="519.1" cy="231.7" r="2.35"/><circle cx="520.1" cy="226.8" r="2.35"/><circle cx="521.1" cy="228.2" r="2.35"/><circle cx="522.1" cy="235.0" r="2.35"/><circle cx="523.2" cy="232.8" r="2.35"/><circle cx="524.2" cy="226.5" r="2.35"/><circle cx="525.2" cy="231.7" r="2.35"/><circle cx="526.2" cy="232.9" r="2.35"/><circle cx="527.3" cy="230.8" r="2.35"/><circle cx="530.2" cy="232.6" r="2.35"/><circle cx="533.1" cy="233.1" r="2.35"/><circle cx="536.0" cy="242.1" r="2.35"/><circle cx="538.9" cy="226.7" r="2.35"/><circle cx="541.9" cy="234.1" r="2.35"/><circle cx="544.8" cy="239.3" r="2.35"/><circle cx="547.7" cy="231.9" r="2.35"/><circle cx="550.6" cy="235.3" r="2.35"/><circle cx="553.5" cy="237.1" r="2.35"/><circle cx="556.5" cy="233.2" r="2.35"/><circle cx="559.4" cy="228.5" r="2.35"/><circle cx="562.3" cy="236.4" r="2.35"/><circle cx="565.2" cy="232.4" r="2.35"/><circle cx="570.0" cy="230.7" r="2.35"/><circle cx="574.7" cy="245.3" r="2.35"/><circle cx="579.5" cy="243.8" r="2.35"/><circle cx="584.2" cy="238.9" r="2.35"/><circle cx="588.9" cy="250.4" r="2.35"/><circle cx="593.7" cy="244.8" r="2.35"/><circle cx="598.4" cy="238.7" r="2.35"/><circle cx="603.2" cy="240.3" r="2.35"/><circle cx="607.9" cy="242.9" r="2.35"/><circle cx="612.7" cy="254.2" r="2.35"/><circle cx="617.4" cy="236.4" r="2.35"/><circle cx="622.2" cy="244.7" r="2.35"/><circle cx="626.9" cy="244.3" r="2.35"/><circle cx="631.6" cy="245.9" r="2.35"/><circle cx="636.4" cy="256.0" r="2.35"/><circle cx="641.1" cy="255.2" r="2.35"/><circle cx="645.9" cy="254.7" r="2.35"/><circle cx="650.6" cy="241.6" r="2.35"/><circle cx="655.4" cy="253.9" r="2.35"/><circle cx="660.1" cy="251.7" r="2.35"/><circle cx="664.9" cy="252.1" r="2.35"/><circle cx="669.6" cy="248.9" r="2.35"/><circle cx="674.4" cy="249.6" r="2.35"/></g><g fill="none" stroke="#1a1aff" stroke-width="0.85"><circle cx="490.5" cy="301.4" r="2.35"/><circle cx="490.5" cy="229.2" r="2.35"/><circle cx="490.5" cy="237.9" r="2.35"/><circle cx="490.9" cy="222.4" r="2.35"/><circle cx="491.2" cy="233.9" r="2.35"/><circle cx="491.5" cy="246.9" r="2.35"/><circle cx="491.9" cy="233.5" r="2.35"/><circle cx="492.2" cy="236.1" r="2.35"/><circle cx="492.5" cy="234.1" r="2.35"/><circle cx="492.8" cy="243.5" r="2.35"/><circle cx="493.2" cy="248.5" r="2.35"/><circle cx="493.5" cy="245.7" r="2.35"/><circle cx="493.8" cy="257.7" r="2.35"/><circle cx="494.1" cy="257.2" r="2.35"/><circle cx="494.5" cy="258.9" r="2.35"/><circle cx="494.8" cy="254.1" r="2.35"/><circle cx="495.1" cy="246.6" r="2.35"/><circle cx="495.5" cy="254.8" r="2.35"/><circle cx="495.8" cy="254.4" r="2.35"/><circle cx="496.1" cy="260.3" r="2.35"/><circle cx="496.4" cy="261.3" r="2.35"/><circle cx="496.8" cy="266.1" r="2.35"/><circle cx="497.1" cy="266.4" r="2.35"/><circle cx="497.4" cy="278.3" r="2.35"/><circle cx="497.8" cy="273.0" r="2.35"/><circle cx="498.1" cy="274.4" r="2.35"/><circle cx="498.4" cy="264.5" r="2.35"/><circle cx="498.7" cy="266.1" r="2.35"/><circle cx="499.1" cy="264.5" r="2.35"/><circle cx="499.4" cy="263.1" r="2.35"/><circle cx="499.7" cy="273.1" r="2.35"/><circle cx="500.1" cy="266.9" r="2.35"/><circle cx="500.4" cy="262.9" r="2.35"/><circle cx="500.7" cy="273.4" r="2.35"/><circle cx="501.0" cy="268.4" r="2.35"/><circle cx="501.4" cy="275.2" r="2.35"/><circle cx="501.7" cy="283.0" r="2.35"/><circle cx="502.7" cy="275.6" r="2.35"/><circle cx="503.7" cy="281.5" r="2.35"/><circle cx="504.8" cy="277.7" r="2.35"/><circle cx="505.8" cy="281.5" r="2.35"/><circle cx="506.8" cy="278.3" r="2.35"/><circle cx="507.8" cy="291.4" r="2.35"/><circle cx="508.9" cy="270.6" r="2.35"/><circle cx="509.9" cy="274.9" r="2.35"/><circle cx="510.9" cy="284.0" r="2.35"/><circle cx="511.9" cy="287.3" r="2.35"/><circle cx="512.9" cy="283.2" r="2.35"/><circle cx="514.0" cy="280.2" r="2.35"/><circle cx="515.0" cy="281.9" r="2.35"/><circle cx="516.0" cy="282.4" r="2.35"/><circle cx="517.0" cy="294.8" r="2.35"/><circle cx="518.1" cy="290.9" r="2.35"/><circle cx="519.1" cy="278.8" r="2.35"/><circle cx="520.1" cy="284.7" r="2.35"/><circle cx="521.1" cy="294.0" r="2.35"/><circle cx="522.1" cy="291.0" r="2.35"/><circle cx="523.2" cy="294.3" r="2.35"/><circle cx="524.2" cy="292.4" r="2.35"/><circle cx="525.2" cy="281.6" r="2.35"/><circle cx="526.2" cy="289.0" r="2.35"/><circle cx="527.3" cy="282.5" r="2.35"/><circle cx="530.2" cy="288.1" r="2.35"/><circle cx="533.1" cy="297.6" r="2.35"/><circle cx="536.0" cy="294.0" r="2.35"/><circle cx="538.9" cy="279.7" r="2.35"/><circle cx="541.9" cy="296.1" r="2.35"/><circle cx="544.8" cy="298.3" r="2.35"/><circle cx="547.7" cy="287.2" r="2.35"/><circle cx="550.6" cy="293.8" r="2.35"/><circle cx="553.5" cy="294.9" r="2.35"/><circle cx="556.5" cy="287.9" r="2.35"/><circle cx="559.4" cy="305.1" r="2.35"/><circle cx="562.3" cy="294.4" r="2.35"/><circle cx="565.2" cy="302.5" r="2.35"/><circle cx="570.0" cy="305.1" r="2.35"/><circle cx="574.7" cy="302.9" r="2.35"/><circle cx="579.5" cy="293.5" r="2.35"/><circle cx="584.2" cy="300.8" r="2.35"/><circle cx="588.9" cy="310.1" r="2.35"/><circle cx="593.7" cy="307.0" r="2.35"/><circle cx="598.4" cy="294.0" r="2.35"/><circle cx="603.2" cy="297.1" r="2.35"/><circle cx="607.9" cy="308.5" r="2.35"/><circle cx="612.7" cy="290.8" r="2.35"/><circle cx="617.4" cy="305.6" r="2.35"/><circle cx="622.2" cy="310.3" r="2.35"/><circle cx="626.9" cy="305.2" r="2.35"/><circle cx="631.6" cy="300.0" r="2.35"/><circle cx="636.4" cy="296.9" r="2.35"/><circle cx="641.1" cy="300.2" r="2.35"/><circle cx="645.9" cy="308.0" r="2.35"/><circle cx="650.6" cy="308.9" r="2.35"/><circle cx="655.4" cy="313.8" r="2.35"/><circle cx="660.1" cy="306.9" r="2.35"/><circle cx="664.9" cy="309.8" r="2.35"/><circle cx="669.6" cy="305.7" r="2.35"/><circle cx="674.4" cy="313.7" r="2.35"/></g><g fill="none" stroke="#000" stroke-width="0.85"><circle cx="490.5" cy="323.0" r="2.35"/><circle cx="490.5" cy="330.3" r="2.35"/><circle cx="490.5" cy="332.4" r="2.35"/><circle cx="490.5" cy="334.6" r="2.35"/><circle cx="490.5" cy="337.5" r="2.35"/><circle cx="490.5" cy="240.8" r="2.35"/><circle cx="490.5" cy="248.0" r="2.35"/><circle cx="490.9" cy="243.0" r="2.35"/><circle cx="491.2" cy="247.0" r="2.35"/><circle cx="491.5" cy="250.6" r="2.35"/><circle cx="491.9" cy="252.7" r="2.35"/><circle cx="492.2" cy="254.0" r="2.35"/><circle cx="492.5" cy="256.6" r="2.35"/><circle cx="492.8" cy="250.7" r="2.35"/><circle cx="493.2" cy="254.5" r="2.35"/><circle cx="493.5" cy="262.4" r="2.35"/><circle cx="493.8" cy="255.8" r="2.35"/><circle cx="494.1" cy="258.3" r="2.35"/><circle cx="494.5" cy="254.5" r="2.35"/><circle cx="494.8" cy="263.2" r="2.35"/><circle cx="495.1" cy="264.5" r="2.35"/><circle cx="495.5" cy="267.9" r="2.35"/><circle cx="495.8" cy="265.4" r="2.35"/><circle cx="496.1" cy="264.9" r="2.35"/><circle cx="496.4" cy="267.3" r="2.35"/><circle cx="496.8" cy="270.2" r="2.35"/><circle cx="497.1" cy="267.5" r="2.35"/><circle cx="497.4" cy="270.5" r="2.35"/><circle cx="497.8" cy="270.7" r="2.35"/><circle cx="498.1" cy="276.8" r="2.35"/><circle cx="498.4" cy="272.5" r="2.35"/><circle cx="498.7" cy="278.6" r="2.35"/><circle cx="499.1" cy="278.6" r="2.35"/><circle cx="499.4" cy="274.9" r="2.35"/><circle cx="499.7" cy="266.9" r="2.35"/><circle cx="500.1" cy="272.5" r="2.35"/><circle cx="500.4" cy="277.5" r="2.35"/><circle cx="500.7" cy="278.9" r="2.35"/><circle cx="501.0" cy="274.3" r="2.35"/><circle cx="501.4" cy="273.1" r="2.35"/><circle cx="501.7" cy="274.3" r="2.35"/><circle cx="502.7" cy="282.1" r="2.35"/><circle cx="503.7" cy="281.8" r="2.35"/><circle cx="504.8" cy="285.3" r="2.35"/><circle cx="505.8" cy="286.2" r="2.35"/><circle cx="506.8" cy="289.8" r="2.35"/><circle cx="507.8" cy="288.0" r="2.35"/><circle cx="508.9" cy="297.3" r="2.35"/><circle cx="509.9" cy="293.9" r="2.35"/><circle cx="510.9" cy="287.5" r="2.35"/><circle cx="511.9" cy="294.2" r="2.35"/><circle cx="512.9" cy="288.4" r="2.35"/><circle cx="514.0" cy="297.2" r="2.35"/><circle cx="515.0" cy="293.8" r="2.35"/><circle cx="516.0" cy="291.0" r="2.35"/><circle cx="517.0" cy="297.9" r="2.35"/><circle cx="518.1" cy="297.1" r="2.35"/><circle cx="519.1" cy="283.5" r="2.35"/><circle cx="520.1" cy="298.0" r="2.35"/><circle cx="521.1" cy="298.7" r="2.35"/><circle cx="522.1" cy="298.6" r="2.35"/><circle cx="523.2" cy="296.4" r="2.35"/><circle cx="524.2" cy="297.2" r="2.35"/><circle cx="525.2" cy="293.2" r="2.35"/><circle cx="526.2" cy="294.5" r="2.35"/><circle cx="527.3" cy="300.2" r="2.35"/><circle cx="530.2" cy="301.3" r="2.35"/><circle cx="533.1" cy="307.2" r="2.35"/><circle cx="536.0" cy="308.7" r="2.35"/><circle cx="538.9" cy="306.5" r="2.35"/><circle cx="541.9" cy="301.0" r="2.35"/><circle cx="544.8" cy="304.7" r="2.35"/><circle cx="547.7" cy="302.7" r="2.35"/><circle cx="550.6" cy="303.0" r="2.35"/><circle cx="553.5" cy="308.7" r="2.35"/><circle cx="556.5" cy="299.6" r="2.35"/><circle cx="559.4" cy="312.0" r="2.35"/><circle cx="562.3" cy="313.2" r="2.35"/><circle cx="565.2" cy="313.1" r="2.35"/><circle cx="570.0" cy="307.3" r="2.35"/><circle cx="574.7" cy="314.0" r="2.35"/><circle cx="579.5" cy="317.6" r="2.35"/><circle cx="584.2" cy="313.3" r="2.35"/><circle cx="588.9" cy="311.1" r="2.35"/><circle cx="593.7" cy="317.4" r="2.35"/><circle cx="598.4" cy="318.7" r="2.35"/><circle cx="603.2" cy="313.5" r="2.35"/><circle cx="607.9" cy="314.6" r="2.35"/><circle cx="612.7" cy="315.3" r="2.35"/><circle cx="617.4" cy="323.4" r="2.35"/><circle cx="622.2" cy="319.3" r="2.35"/><circle cx="626.9" cy="319.4" r="2.35"/><circle cx="631.6" cy="329.4" r="2.35"/><circle cx="636.4" cy="316.6" r="2.35"/><circle cx="641.1" cy="321.8" r="2.35"/><circle cx="645.9" cy="324.1" r="2.35"/><circle cx="650.6" cy="312.9" r="2.35"/><circle cx="655.4" cy="322.6" r="2.35"/><circle cx="660.1" cy="326.7" r="2.35"/><circle cx="664.9" cy="324.1" r="2.35"/><circle cx="669.6" cy="321.6" r="2.35"/><circle cx="674.4" cy="320.7" r="2.35"/></g><path d="M482.5 190.5H680.5V349.5H482.5Z" fill="none" stroke="#333" stroke-width="1"/><path d="M490.50 349.5V346.5M508.75 349.5V347.9M527.00 349.5V346.5M545.25 349.5V347.9M563.50 349.5V346.5M581.75 349.5V347.9M600.00 349.5V346.5M618.25 349.5V347.9M636.50 349.5V346.5M654.75 349.5V347.9M673.00 349.5V346.5M482.5 341.80H485.5M482.5 327.37H484.1M482.5 312.94H485.5M482.5 298.51H484.1M482.5 284.08H485.5M482.5 269.65H484.1M482.5 255.22H485.5M482.5 240.79H484.1M482.5 226.36H485.5M482.5 211.93H484.1M482.5 197.50H485.5" stroke="#333" stroke-width="0.8"/><text x="490.5" y="358.0" font-size="6.2" font-weight="bold" fill="#000" text-anchor="middle">0</text><text x="527.0" y="358.0" font-size="6.2" font-weight="bold" fill="#000" text-anchor="middle">1000</text><text x="563.5" y="358.0" font-size="6.2" font-weight="bold" fill="#000" text-anchor="middle">2000</text><text x="600.0" y="358.0" font-size="6.2" font-weight="bold" fill="#000" text-anchor="middle">3000</text><text x="636.5" y="358.0" font-size="6.2" font-weight="bold" fill="#000" text-anchor="middle">4000</text><text x="673.0" y="358.0" font-size="6.2" font-weight="bold" fill="#000" text-anchor="middle">5000</text><text x="479.8" y="343.90000000000003" font-size="6.1" font-weight="bold" fill="#000" text-anchor="end">0.0</text><text x="479.8" y="315.04" font-size="6.1" font-weight="bold" fill="#000" text-anchor="end">0.2</text><text x="479.8" y="286.18" font-size="6.1" font-weight="bold" fill="#000" text-anchor="end">0.4</text><text x="479.8" y="257.32" font-size="6.1" font-weight="bold" fill="#000" text-anchor="end">0.6</text><text x="479.8" y="228.46" font-size="6.1" font-weight="bold" fill="#000" text-anchor="end">0.8</text><text x="479.8" y="199.6" font-size="6.1" font-weight="bold" fill="#000" text-anchor="end">1.0</text><text x="584" y="369.5" font-size="7.6" font-weight="bold" fill="#000" text-anchor="middle" textLength="52.6" lengthAdjust="spacingAndGlyphs">Time delay (ps)</text><text x="467.3" y="269" font-size="7.6" font-weight="bold" fill="#000" text-anchor="middle" textLength="80" lengthAdjust="spacingAndGlyphs" transform="rotate(-90 467.3 269)">Normalized ΔR/R (a.u.)</text><text x="456.0" y="194.6" font-size="11.8" font-weight="bold" fill="#000">f</text><circle cx="592.9" cy="199.3" r="1.6" fill="none" stroke="#1a1aff" stroke-width="0.75"/><text x="603.3" y="202.0" font-size="7.4" font-weight="bold" fill="#000" textLength="33" lengthAdjust="spacingAndGlyphs">Perovskite</text><circle cx="592.9" cy="209.8" r="1.6" fill="none" stroke="#000" stroke-width="0.75"/><text x="603.3" y="212.5" font-size="7.4" font-weight="bold" fill="#000" textLength="50.5" lengthAdjust="spacingAndGlyphs">Perovskite/PPAI</text><circle cx="592.9" cy="219.2" r="1.6" fill="none" stroke="#ff2020" stroke-width="0.75"/><text x="603.3" y="221.89999999999998" font-size="7.4" font-weight="bold" fill="#000" textLength="71.8" lengthAdjust="spacingAndGlyphs">Perovskite/PPAI+tBBAI</text><g clip-path="url(#hcg)"><g filter="url(#hbg)"><rect x="35.0" y="533.6" width="5.4" height="5.2" fill="#f6e8eb"/><rect x="35.0" y="528.8" width="5.4" height="5.2" fill="#f6e8eb"/><rect x="35.0" y="524.0" width="5.4" height="5.2" fill="#f6e8eb"/><rect x="35.0" y="519.2" width="5.4" height="5.2" fill="#f5cace"/><rect x="35.0" y="514.4" width="5.4" height="5.2" fill="#f3acb1"/><rect x="35.0" y="509.6" width="5.4" height="5.2" fill="#f3acb1"/><rect x="35.0" y="504.8" width="5.4" height="5.2" fill="#f3acb1"/><rect x="35.0" y="500.0" width="5.4" height="5.2" fill="#f5cace"/><rect x="35.0" y="495.2" width="5.4" height="5.2" fill="#f6e8eb"/><rect x="35.0" y="490.4" width="5.4" height="5.2" fill="#f7eef1"/><rect x="35.0" y="485.6" width="5.4" height="5.2" fill="#f7f4f7"/><rect x="35.0" y="480.8" width="5.4" height="5.2" fill="#f6e8eb"/><rect x="35.0" y="476.0" width="5.4" height="5.2" fill="#f6dce0"/><rect x="35.0" y="471.2" width="5.4" height="5.2" fill="#f6d6da"/><rect x="35.0" y="466.4" width="5.4" height="5.2" fill="#f5d0d4"/><rect x="35.0" y="461.6" width="5.4" height="5.2" fill="#f6dce0"/><rect x="35.0" y="456.8" width="5.4" height="5.2" fill="#f6e8eb"/><rect x="35.0" y="452.0" width="5.4" height="5.2" fill="#f6e2e6"/><rect x="35.0" y="447.2" width="5.4" height="5.2" fill="#f6dce0"/><rect x="35.0" y="442.4" width="5.4" height="5.2" fill="#f5c4c9"/><rect x="35.0" y="437.6" width="5.4" height="5.2" fill="#f3acb1"/><rect x="35.0" y="432.8" width="5.4" height="5.2" fill="#f3a6ab"/><rect x="35.0" y="428.0" width="5.4" height="5.2" fill="#f2a0a5"/><rect x="35.0" y="423.2" width="5.4" height="5.2" fill="#f4b2b7"/><rect x="35.0" y="418.4" width="5.4" height="5.2" fill="#f5c4c9"/><rect x="35.0" y="413.6" width="5.4" height="5.2" fill="#dfdcf8"/><rect x="35.0" y="408.8" width="5.4" height="5.2" fill="#9694f9"/><rect x="35.0" y="404.0" width="5.4" height="5.2" fill="#9694f9"/><rect x="35.0" y="399.2" width="5.4" height="5.2" fill="#9694f9"/><rect x="35.0" y="394.4" width="5.4" height="5.2" fill="#aeacf9"/><rect x="35.0" y="389.6" width="5.4" height="5.2" fill="#c7c4f8"/><rect x="40.0" y="533.6" width="5.4" height="5.2" fill="#f6d6da"/><rect x="40.0" y="528.8" width="5.4" height="5.2" fill="#f6dfe3"/><rect x="40.0" y="524.0" width="5.4" height="5.2" fill="#f6e8eb"/><rect x="40.0" y="519.2" width="5.4" height="5.2" fill="#f5cdd1"/><rect x="40.0" y="514.4" width="5.4" height="5.2" fill="#f4b2b7"/><rect x="40.0" y="509.6" width="5.4" height="5.2" fill="#f3afb4"/><rect x="40.0" y="504.8" width="5.4" height="5.2" fill="#f3acb1"/><rect x="40.0" y="500.0" width="5.4" height="5.2" fill="#f5cace"/><rect x="40.0" y="495.2" width="5.4" height="5.2" fill="#f6e8eb"/><rect x="40.0" y="490.4" width="5.4" height="5.2" fill="#f7f4f7"/><rect x="40.0" y="485.6" width="5.4" height="5.2" fill="#ebe8f7"/><rect x="40.0" y="480.8" width="5.4" height="5.2" fill="#f6e5e8"/><rect x="40.0" y="476.0" width="5.4" height="5.2" fill="#f5cace"/><rect x="40.0" y="471.2" width="5.4" height="5.2" fill="#f5c4c9"/><rect x="40.0" y="466.4" width="5.4" height="5.2" fill="#f4bec3"/><rect x="40.0" y="461.6" width="5.4" height="5.2" fill="#f4c1c6"/><rect x="40.0" y="456.8" width="5.4" height="5.2" fill="#f5c4c9"/><rect x="40.0" y="452.0" width="5.4" height="5.2" fill="#f4bec3"/><rect x="40.0" y="447.2" width="5.4" height="5.2" fill="#f4b8bd"/><rect x="40.0" y="442.4" width="5.4" height="5.2" fill="#f3acb1"/><rect x="40.0" y="437.6" width="5.4" height="5.2" fill="#f2a0a5"/><rect x="40.0" y="432.8" width="5.4" height="5.2" fill="#f2949a"/><rect x="40.0" y="428.0" width="5.4" height="5.2" fill="#f1888e"/><rect x="40.0" y="423.2" width="5.4" height="5.2" fill="#f29aa0"/><rect x="40.0" y="418.4" width="5.4" height="5.2" fill="#f3acb1"/><rect x="40.0" y="413.6" width="5.4" height="5.2" fill="#f7eef1"/><rect x="40.0" y="408.8" width="5.4" height="5.2" fill="#bab8f8"/><rect x="40.0" y="404.0" width="5.4" height="5.2" fill="#aeacf9"/><rect x="40.0" y="399.2" width="5.4" height="5.2" fill="#a2a0f9"/><rect x="40.0" y="394.4" width="5.4" height="5.2" fill="#aeacf9"/><rect x="40.0" y="389.6" width="5.4" height="5.2" fill="#bab8f8"/><rect x="45.0" y="533.6" width="5.4" height="5.2" fill="#f5c4c9"/><rect x="45.0" y="528.8" width="5.4" height="5.2" fill="#f6d6da"/><rect x="45.0" y="524.0" width="5.4" height="5.2" fill="#f6e8eb"/><rect x="45.0" y="519.2" width="5.4" height="5.2" fill="#f5d0d4"/><rect x="45.0" y="514.4" width="5.4" height="5.2" fill="#f4b8bd"/><rect x="45.0" y="509.6" width="5.4" height="5.2" fill="#f4b2b7"/><rect x="45.0" y="504.8" width="5.4" height="5.2" fill="#f3acb1"/><rect x="45.0" y="500.0" width="5.4" height="5.2" fill="#f5cace"/><rect x="45.0" y="495.2" width="5.4" height="5.2" fill="#f6e8eb"/><rect x="45.0" y="490.4" width="5.4" height="5.2" fill="#f1eef7"/><rect x="45.0" y="485.6" width="5.4" height="5.2" fill="#dfdcf8"/><rect x="45.0" y="480.8" width="5.4" height="5.2" fill="#f6e2e6"/><rect x="45.0" y="476.0" width="5.4" height="5.2" fill="#f4b8bd"/><rect x="45.0" y="471.2" width="5.4" height="5.2" fill="#f4b2b7"/><rect x="45.0" y="466.4" width="5.4" height="5.2" fill="#f3acb1"/><rect x="45.0" y="461.6" width="5.4" height="5.2" fill="#f3a6ab"/><rect x="45.0" y="456.8" width="5.4" height="5.2" fill="#f2a0a5"/><rect x="45.0" y="452.0" width="5.4" height="5.2" fill="#f29aa0"/><rect x="45.0" y="447.2" width="5.4" height="5.2" fill="#f2949a"/><rect x="45.0" y="442.4" width="5.4" height="5.2" fill="#f2949a"/><rect x="45.0" y="437.6" width="5.4" height="5.2" fill="#f2949a"/><rect x="45.0" y="432.8" width="5.4" height="5.2" fill="#f08288"/><rect x="45.0" y="428.0" width="5.4" height="5.2" fill="#f17276"/><rect x="45.0" y="423.2" width="5.4" height="5.2" fill="#f08288"/><rect x="45.0" y="418.4" width="5.4" height="5.2" fill="#f2949a"/><rect x="45.0" y="413.6" width="5.4" height="5.2" fill="#f5d0d4"/><rect x="45.0" y="408.8" width="5.4" height="5.2" fill="#dfdcf8"/><rect x="45.0" y="404.0" width="5.4" height="5.2" fill="#c7c4f8"/><rect x="45.0" y="399.2" width="5.4" height="5.2" fill="#aeacf9"/><rect x="45.0" y="394.4" width="5.4" height="5.2" fill="#aeacf9"/><rect x="45.0" y="389.6" width="5.4" height="5.2" fill="#aeacf9"/><rect x="50.0" y="533.6" width="5.4" height="5.2" fill="#f1eef7"/><rect x="50.0" y="528.8" width="5.4" height="5.2" fill="#eeebf7"/><rect x="50.0" y="524.0" width="5.4" height="5.2" fill="#ebe8f7"/><rect x="50.0" y="519.2" width="5.4" height="5.2" fill="#f6e8eb"/><rect x="50.0" y="514.4" width="5.4" height="5.2" fill="#f5d0d4"/><rect x="50.0" y="509.6" width="5.4" height="5.2" fill="#f4bec3"/><rect x="50.0" y="504.8" width="5.4" height="5.2" fill="#f3acb1"/><rect x="50.0" y="500.0" width="5.4" height="5.2" fill="#f5cdd1"/><rect x="50.0" y="495.2" width="5.4" height="5.2" fill="#f7eef1"/><rect x="50.0" y="490.4" width="5.4" height="5.2" fill="#f6e5e8"/><rect x="50.0" y="485.6" width="5.4" height="5.2" fill="#f6dce0"/><rect x="50.0" y="480.8" width="5.4" height="5.2" fill="#f5c4c9"/><rect x="50.0" y="476.0" width="5.4" height="5.2" fill="#f3acb1"/><rect x="50.0" y="471.2" width="5.4" height="5.2" fill="#f3a6ab"/><rect x="50.0" y="466.4" width="5.4" height="5.2" fill="#f2a0a5"/><rect x="50.0" y="461.6" width="5.4" height="5.2" fill="#f4b2b7"/><rect x="50.0" y="456.8" width="5.4" height="5.2" fill="#f5c4c9"/><rect x="50.0" y="452.0" width="5.4" height="5.2" fill="#f4b8bd"/><rect x="50.0" y="447.2" width="5.4" height="5.2" fill="#f3acb1"/><rect x="50.0" y="442.4" width="5.4" height="5.2" fill="#f2a0a5"/><rect x="50.0" y="437.6" width="5.4" height="5.2" fill="#f2949a"/><rect x="50.0" y="432.8" width="5.4" height="5.2" fill="#f1888e"/><rect x="50.0" y="428.0" width="5.4" height="5.2" fill="#f07c82"/><rect x="50.0" y="423.2" width="5.4" height="5.2" fill="#f1888e"/><rect x="50.0" y="418.4" width="5.4" height="5.2" fill="#f2949a"/><rect x="50.0" y="413.6" width="5.4" height="5.2" fill="#f5c4c9"/><rect x="50.0" y="408.8" width="5.4" height="5.2" fill="#f7f4f7"/><rect x="50.0" y="404.0" width="5.4" height="5.2" fill="#e8e5f7"/><rect x="50.0" y="399.2" width="5.4" height="5.2" fill="#d9d6f8"/><rect x="50.0" y="394.4" width="5.4" height="5.2" fill="#dcd9f8"/><rect x="50.0" y="389.6" width="5.4" height="5.2" fill="#dfdcf8"/><rect x="55.0" y="533.6" width="5.4" height="5.2" fill="#bab8f8"/><rect x="55.0" y="528.8" width="5.4" height="5.2" fill="#c7c4f8"/><rect x="55.0" y="524.0" width="5.4" height="5.2" fill="#d3d0f8"/><rect x="55.0" y="519.2" width="5.4" height="5.2" fill="#ebe8f7"/><rect x="55.0" y="514.4" width="5.4" height="5.2" fill="#f6e8eb"/><rect x="55.0" y="509.6" width="5.4" height="5.2" fill="#f5cace"/><rect x="55.0" y="504.8" width="5.4" height="5.2" fill="#f3acb1"/><rect x="55.0" y="500.0" width="5.4" height="5.2" fill="#f5d0d4"/><rect x="55.0" y="495.2" width="5.4" height="5.2" fill="#f7f4f7"/><rect x="55.0" y="490.4" width="5.4" height="5.2" fill="#f5d0d4"/><rect x="55.0" y="485.6" width="5.4" height="5.2" fill="#f3acb1"/><rect x="55.0" y="480.8" width="5.4" height="5.2" fill="#f3a6ab"/><rect x="55.0" y="476.0" width="5.4" height="5.2" fill="#f2a0a5"/><rect x="55.0" y="471.2" width="5.4" height="5.2" fill="#f29aa0"/><rect x="55.0" y="466.4" width="5.4" height="5.2" fill="#f2949a"/><rect x="55.0" y="461.6" width="5.4" height="5.2" fill="#f4bec3"/><rect x="55.0" y="456.8" width="5.4" height="5.2" fill="#f6e8eb"/><rect x="55.0" y="452.0" width="5.4" height="5.2" fill="#f6d6da"/><rect x="55.0" y="447.2" width="5.4" height="5.2" fill="#f5c4c9"/><rect x="55.0" y="442.4" width="5.4" height="5.2" fill="#f3acb1"/><rect x="55.0" y="437.6" width="5.4" height="5.2" fill="#f2949a"/><rect x="55.0" y="432.8" width="5.4" height="5.2" fill="#f18e94"/><rect x="55.0" y="428.0" width="5.4" height="5.2" fill="#f1888e"/><rect x="55.0" y="423.2" width="5.4" height="5.2" fill="#f18e94"/><rect x="55.0" y="418.4" width="5.4" height="5.2" fill="#f2949a"/><rect x="55.0" y="413.6" width="5.4" height="5.2" fill="#f4b8bd"/><rect x="55.0" y="408.8" width="5.4" height="5.2" fill="#f6dce0"/><rect x="55.0" y="404.0" width="5.4" height="5.2" fill="#f6e2e6"/><rect x="55.0" y="399.2" width="5.4" height="5.2" fill="#f6e8eb"/><rect x="55.0" y="394.4" width="5.4" height="5.2" fill="#f6e2e6"/><rect x="55.0" y="389.6" width="5.4" height="5.2" fill="#f6dce0"/><rect x="60.0" y="533.6" width="5.4" height="5.2" fill="#f7eef1"/><rect x="60.0" y="528.8" width="5.4" height="5.2" fill="#f4f1f7"/><rect x="60.0" y="524.0" width="5.4" height="5.2" fill="#ebe8f7"/><rect x="60.0" y="519.2" width="5.4" height="5.2" fill="#f4f1f7"/><rect x="60.0" y="514.4" width="5.4" height="5.2" fill="#f7eef1"/><rect x="60.0" y="509.6" width="5.4" height="5.2" fill="#f7ebee"/><rect x="60.0" y="504.8" width="5.4" height="5.2" fill="#f6e8eb"/><rect x="60.0" y="500.0" width="5.4" height="5.2" fill="#f7f4f7"/><rect x="60.0" y="495.2" width="5.4" height="5.2" fill="#ebe8f7"/><rect x="60.0" y="490.4" width="5.4" height="5.2" fill="#f6e5e8"/><rect x="60.0" y="485.6" width="5.4" height="5.2" fill="#f5cace"/><rect x="60.0" y="480.8" width="5.4" height="5.2" fill="#f5c7cc"/><rect x="60.0" y="476.0" width="5.4" height="5.2" fill="#f5c4c9"/><rect x="60.0" y="471.2" width="5.4" height="5.2" fill="#f5cace"/><rect x="60.0" y="466.4" width="5.4" height="5.2" fill="#f5d0d4"/><rect x="60.0" y="461.6" width="5.4" height="5.2" fill="#f7ebee"/><rect x="60.0" y="456.8" width="5.4" height="5.2" fill="#e5e2f7"/><rect x="60.0" y="452.0" width="5.4" height="5.2" fill="#f5d3d7"/><rect x="60.0" y="447.2" width="5.4" height="5.2" fill="#f2a0a5"/><rect x="60.0" y="442.4" width="5.4" height="5.2" fill="#f2949a"/><rect x="60.0" y="437.6" width="5.4" height="5.2" fill="#f1888e"/><rect x="60.0" y="432.8" width="5.4" height="5.2" fill="#f2949a"/><rect x="60.0" y="428.0" width="5.4" height="5.2" fill="#f2a0a5"/><rect x="60.0" y="423.2" width="5.4" height="5.2" fill="#f2979d"/><rect x="60.0" y="418.4" width="5.4" height="5.2" fill="#f18e94"/><rect x="60.0" y="413.6" width="5.4" height="5.2" fill="#f29da2"/><rect x="60.0" y="408.8" width="5.4" height="5.2" fill="#f3acb1"/><rect x="60.0" y="404.0" width="5.4" height="5.2" fill="#f3afb4"/><rect x="60.0" y="399.2" width="5.4" height="5.2" fill="#f4b2b7"/><rect x="60.0" y="394.4" width="5.4" height="5.2" fill="#f3afb4"/><rect x="60.0" y="389.6" width="5.4" height="5.2" fill="#f3acb1"/><rect x="65.0" y="533.6" width="5.4" height="5.2" fill="#f3acb1"/><rect x="65.0" y="528.8" width="5.4" height="5.2" fill="#f5cace"/><rect x="65.0" y="524.0" width="5.4" height="5.2" fill="#f6e8eb"/><rect x="65.0" y="519.2" width="5.4" height="5.2" fill="#f7eef1"/><rect x="65.0" y="514.4" width="5.4" height="5.2" fill="#f7f4f7"/><rect x="65.0" y="509.6" width="5.4" height="5.2" fill="#dfdcf8"/><rect x="65.0" y="504.8" width="5.4" height="5.2" fill="#c7c4f8"/><rect x="65.0" y="500.0" width="5.4" height="5.2" fill="#d3d0f8"/><rect x="65.0" y="495.2" width="5.4" height="5.2" fill="#dfdcf8"/><rect x="65.0" y="490.4" width="5.4" height="5.2" fill="#f1eef7"/><rect x="65.0" y="485.6" width="5.4" height="5.2" fill="#f6e8eb"/><rect x="65.0" y="480.8" width="5.4" height="5.2" fill="#f6e8eb"/><rect x="65.0" y="476.0" width="5.4" height="5.2" fill="#f6e8eb"/><rect x="65.0" y="471.2" width="5.4" height="5.2" fill="#f1eef7"/><rect x="65.0" y="466.4" width="5.4" height="5.2" fill="#dfdcf8"/><rect x="65.0" y="461.6" width="5.4" height="5.2" fill="#d3d0f8"/><rect x="65.0" y="456.8" width="5.4" height="5.2" fill="#c7c4f8"/><rect x="65.0" y="452.0" width="5.4" height="5.2" fill="#f5d0d4"/><rect x="65.0" y="447.2" width="5.4" height="5.2" fill="#f07c82"/><rect x="65.0" y="442.4" width="5.4" height="5.2" fill="#f07c82"/><rect x="65.0" y="437.6" width="5.4" height="5.2" fill="#f07c82"/><rect x="65.0" y="432.8" width="5.4" height="5.2" fill="#f29aa0"/><rect x="65.0" y="428.0" width="5.4" height="5.2" fill="#f4b8bd"/><rect x="65.0" y="423.2" width="5.4" height="5.2" fill="#f2a0a5"/><rect x="65.0" y="418.4" width="5.4" height="5.2" fill="#f1888e"/><rect x="65.0" y="413.6" width="5.4" height="5.2" fill="#f08288"/><rect x="65.0" y="408.8" width="5.4" height="5.2" fill="#f07c82"/><rect x="65.0" y="404.0" width="5.4" height="5.2" fill="#f07c82"/><rect x="65.0" y="399.2" width="5.4" height="5.2" fill="#f07c82"/><rect x="65.0" y="394.4" width="5.4" height="5.2" fill="#f07c82"/><rect x="65.0" y="389.6" width="5.4" height="5.2" fill="#f07c82"/><rect x="70.0" y="533.6" width="5.4" height="5.2" fill="#f6e8eb"/><rect x="70.0" y="528.8" width="5.4" height="5.2" fill="#f4f1f7"/><rect x="70.0" y="524.0" width="5.4" height="5.2" fill="#e5e2f7"/><rect x="70.0" y="519.2" width="5.4" height="5.2" fill="#f1eef7"/><rect x="70.0" y="514.4" width="5.4" height="5.2" fill="#f7eef1"/><rect x="70.0" y="509.6" width="5.4" height="5.2" fill="#f7ebee"/><rect x="70.0" y="504.8" width="5.4" height="5.2" fill="#f6e8eb"/><rect x="70.0" y="500.0" width="5.4" height="5.2" fill="#f6d6da"/><rect x="70.0" y="495.2" width="5.4" height="5.2" fill="#f5c4c9"/><rect x="70.0" y="490.4" width="5.4" height="5.2" fill="#f4bbc0"/><rect x="70.0" y="485.6" width="5.4" height="5.2" fill="#f4b2b7"/><rect x="70.0" y="480.8" width="5.4" height="5.2" fill="#f4b5ba"/><rect x="70.0" y="476.0" width="5.4" height="5.2" fill="#f4b8bd"/><rect x="70.0" y="471.2" width="5.4" height="5.2" fill="#f4bec3"/><rect x="70.0" y="466.4" width="5.4" height="5.2" fill="#f5c4c9"/><rect x="70.0" y="461.6" width="5.4" height="5.2" fill="#f5cace"/><rect x="70.0" y="456.8" width="5.4" height="5.2" fill="#f5d0d4"/><rect x="70.0" y="452.0" width="5.4" height="5.2" fill="#f3a6ab"/><rect x="70.0" y="447.2" width="5.4" height="5.2" fill="#f07c82"/><rect x="70.0" y="442.4" width="5.4" height="5.2" fill="#f07f85"/><rect x="70.0" y="437.6" width="5.4" height="5.2" fill="#f08288"/><rect x="70.0" y="432.8" width="5.4" height="5.2" fill="#f19197"/><rect x="70.0" y="428.0" width="5.4" height="5.2" fill="#f2a0a5"/><rect x="70.0" y="423.2" width="5.4" height="5.2" fill="#f2979d"/><rect x="70.0" y="418.4" width="5.4" height="5.2" fill="#f18e94"/><rect x="70.0" y="413.6" width="5.4" height="5.2" fill="#f19197"/><rect x="70.0" y="408.8" width="5.4" height="5.2" fill="#f2949a"/><rect x="70.0" y="404.0" width="5.4" height="5.2" fill="#f19197"/><rect x="70.0" y="399.2" width="5.4" height="5.2" fill="#f18e94"/><rect x="70.0" y="394.4" width="5.4" height="5.2" fill="#f19197"/><rect x="70.0" y="389.6" width="5.4" height="5.2" fill="#f2949a"/><rect x="75.0" y="533.6" width="5.4" height="5.2" fill="#c7c4f8"/><rect x="75.0" y="528.8" width="5.4" height="5.2" fill="#c7c4f8"/><rect x="75.0" y="524.0" width="5.4" height="5.2" fill="#c7c4f8"/><rect x="75.0" y="519.2" width="5.4" height="5.2" fill="#e5e2f7"/><rect x="75.0" y="514.4" width="5.4" height="5.2" fill="#f6e8eb"/><rect x="75.0" y="509.6" width="5.4" height="5.2" fill="#f5cace"/><rect x="75.0" y="504.8" width="5.4" height="5.2" fill="#f3acb1"/><rect x="75.0" y="500.0" width="5.4" height="5.2" fill="#f2949a"/><rect x="75.0" y="495.2" width="5.4" height="5.2" fill="#f07c82"/><rect x="75.0" y="490.4" width="5.4" height="5.2" fill="#f07c82"/><rect x="75.0" y="485.6" width="5.4" height="5.2" fill="#f07c82"/><rect x="75.0" y="480.8" width="5.4" height="5.2" fill="#f08288"/><rect x="75.0" y="476.0" width="5.4" height="5.2" fill="#f1888e"/><rect x="75.0" y="471.2" width="5.4" height="5.2" fill="#f08288"/><rect x="75.0" y="466.4" width="5.4" height="5.2" fill="#f07c82"/><rect x="75.0" y="461.6" width="5.4" height="5.2" fill="#f07c82"/><rect x="75.0" y="456.8" width="5.4" height="5.2" fill="#f07c82"/><rect x="75.0" y="452.0" width="5.4" height="5.2" fill="#f07c82"/><rect x="75.0" y="447.2" width="5.4" height="5.2" fill="#f07c82"/><rect x="75.0" y="442.4" width="5.4" height="5.2" fill="#f08288"/><rect x="75.0" y="437.6" width="5.4" height="5.2" fill="#f1888e"/><rect x="75.0" y="432.8" width="5.4" height="5.2" fill="#f1888e"/><rect x="75.0" y="428.0" width="5.4" height="5.2" fill="#f1888e"/><rect x="75.0" y="423.2" width="5.4" height="5.2" fill="#f18e94"/><rect x="75.0" y="418.4" width="5.4" height="5.2" fill="#f2949a"/><rect x="75.0" y="413.6" width="5.4" height="5.2" fill="#f2a0a5"/><rect x="75.0" y="408.8" width="5.4" height="5.2" fill="#f3acb1"/><rect x="75.0" y="404.0" width="5.4" height="5.2" fill="#f3a6ab"/><rect x="75.0" y="399.2" width="5.4" height="5.2" fill="#f2a0a5"/><rect x="75.0" y="394.4" width="5.4" height="5.2" fill="#f3a6ab"/><rect x="75.0" y="389.6" width="5.4" height="5.2" fill="#f3acb1"/><rect x="80.0" y="533.6" width="5.4" height="5.2" fill="#aeacf9"/><rect x="80.0" y="528.8" width="5.4" height="5.2" fill="#aeacf9"/><rect x="80.0" y="524.0" width="5.4" height="5.2" fill="#aeacf9"/><rect x="80.0" y="519.2" width="5.4" height="5.2" fill="#c4c1f8"/><rect x="80.0" y="514.4" width="5.4" height="5.2" fill="#d9d6f8"/><rect x="80.0" y="509.6" width="5.4" height="5.2" fill="#f7f1f4"/><rect x="80.0" y="504.8" width="5.4" height="5.2" fill="#f5d0d4"/><rect x="80.0" y="500.0" width="5.4" height="5.2" fill="#f4b2b7"/><rect x="80.0" y="495.2" width="5.4" height="5.2" fill="#f2949a"/><rect x="80.0" y="490.4" width="5.4" height="5.2" fill="#f18b91"/><rect x="80.0" y="485.6" width="5.4" height="5.2" fill="#f08288"/><rect x="80.0" y="480.8" width="5.4" height="5.2" fill="#f18e94"/><rect x="80.0" y="476.0" width="5.4" height="5.2" fill="#f29aa0"/><rect x="80.0" y="471.2" width="5.4" height="5.2" fill="#f18e94"/><rect x="80.0" y="466.4" width="5.4" height="5.2" fill="#f08288"/><rect x="80.0" y="461.6" width="5.4" height="5.2" fill="#f07f85"/><rect x="80.0" y="456.8" width="5.4" height="5.2" fill="#f07c82"/><rect x="80.0" y="452.0" width="5.4" height="5.2" fill="#f1888e"/><rect x="80.0" y="447.2" width="5.4" height="5.2" fill="#f2949a"/><rect x="80.0" y="442.4" width="5.4" height="5.2" fill="#f3a9ae"/><rect x="80.0" y="437.6" width="5.4" height="5.2" fill="#f4bec3"/><rect x="80.0" y="432.8" width="5.4" height="5.2" fill="#f5cace"/><rect x="80.0" y="428.0" width="5.4" height="5.2" fill="#f6d6da"/><rect x="80.0" y="423.2" width="5.4" height="5.2" fill="#f5d3d7"/><rect x="80.0" y="418.4" width="5.4" height="5.2" fill="#f5d0d4"/><rect x="80.0" y="413.6" width="5.4" height="5.2" fill="#f6dce0"/><rect x="80.0" y="408.8" width="5.4" height="5.2" fill="#f6e8eb"/><rect x="80.0" y="404.0" width="5.4" height="5.2" fill="#f6e2e6"/><rect x="80.0" y="399.2" width="5.4" height="5.2" fill="#f6dce0"/><rect x="80.0" y="394.4" width="5.4" height="5.2" fill="#f6d6da"/><rect x="80.0" y="389.6" width="5.4" height="5.2" fill="#f5d0d4"/><rect x="85.0" y="533.6" width="5.4" height="5.2" fill="#9694f9"/><rect x="85.0" y="528.8" width="5.4" height="5.2" fill="#9694f9"/><rect x="85.0" y="524.0" width="5.4" height="5.2" fill="#9694f9"/><rect x="85.0" y="519.2" width="5.4" height="5.2" fill="#a2a0f9"/><rect x="85.0" y="514.4" width="5.4" height="5.2" fill="#aeacf9"/><rect x="85.0" y="509.6" width="5.4" height="5.2" fill="#d3d0f8"/><rect x="85.0" y="504.8" width="5.4" height="5.2" fill="#f7f4f7"/><rect x="85.0" y="500.0" width="5.4" height="5.2" fill="#f5d0d4"/><rect x="85.0" y="495.2" width="5.4" height="5.2" fill="#f3acb1"/><rect x="85.0" y="490.4" width="5.4" height="5.2" fill="#f29aa0"/><rect x="85.0" y="485.6" width="5.4" height="5.2" fill="#f1888e"/><rect x="85.0" y="480.8" width="5.4" height="5.2" fill="#f29aa0"/><rect x="85.0" y="476.0" width="5.4" height="5.2" fill="#f3acb1"/><rect x="85.0" y="471.2" width="5.4" height="5.2" fill="#f29aa0"/><rect x="85.0" y="466.4" width="5.4" height="5.2" fill="#f1888e"/><rect x="85.0" y="461.6" width="5.4" height="5.2" fill="#f08288"/><rect x="85.0" y="456.8" width="5.4" height="5.2" fill="#f07c82"/><rect x="85.0" y="452.0" width="5.4" height="5.2" fill="#f2949a"/><rect x="85.0" y="447.2" width="5.4" height="5.2" fill="#f3acb1"/><rect x="85.0" y="442.4" width="5.4" height="5.2" fill="#f5d0d4"/><rect x="85.0" y="437.6" width="5.4" height="5.2" fill="#f7f4f7"/><rect x="85.0" y="432.8" width="5.4" height="5.2" fill="#dfdcf8"/><rect x="85.0" y="428.0" width="5.4" height="5.2" fill="#c7c4f8"/><rect x="85.0" y="423.2" width="5.4" height="5.2" fill="#d3d0f8"/><rect x="85.0" y="418.4" width="5.4" height="5.2" fill="#dfdcf8"/><rect x="85.0" y="413.6" width="5.4" height="5.2" fill="#d3d0f8"/><rect x="85.0" y="408.8" width="5.4" height="5.2" fill="#c7c4f8"/><rect x="85.0" y="404.0" width="5.4" height="5.2" fill="#cdcaf8"/><rect x="85.0" y="399.2" width="5.4" height="5.2" fill="#d3d0f8"/><rect x="85.0" y="394.4" width="5.4" height="5.2" fill="#e5e2f7"/><rect x="85.0" y="389.6" width="5.4" height="5.2" fill="#f7f4f7"/><rect x="90.0" y="533.6" width="5.4" height="5.2" fill="#908efa"/><rect x="90.0" y="528.8" width="5.4" height="5.2" fill="#908efa"/><rect x="90.0" y="524.0" width="5.4" height="5.2" fill="#908efa"/><rect x="90.0" y="519.2" width="5.4" height="5.2" fill="#9997f9"/><rect x="90.0" y="514.4" width="5.4" height="5.2" fill="#a2a0f9"/><rect x="90.0" y="509.6" width="5.4" height="5.2" fill="#b4b2f9"/><rect x="90.0" y="504.8" width="5.4" height="5.2" fill="#c7c4f8"/><rect x="90.0" y="500.0" width="5.4" height="5.2" fill="#dcd9f8"/><rect x="90.0" y="495.2" width="5.4" height="5.2" fill="#f1eef7"/><rect x="90.0" y="490.4" width="5.4" height="5.2" fill="#f5d0d4"/><rect x="90.0" y="485.6" width="5.4" height="5.2" fill="#f3a6ab"/><rect x="90.0" y="480.8" width="5.4" height="5.2" fill="#f3a6ab"/><rect x="90.0" y="476.0" width="5.4" height="5.2" fill="#f3a6ab"/><rect x="90.0" y="471.2" width="5.4" height="5.2" fill="#f29aa0"/><rect x="90.0" y="466.4" width="5.4" height="5.2" fill="#f18e94"/><rect x="90.0" y="461.6" width="5.4" height="5.2" fill="#f18e94"/><rect x="90.0" y="456.8" width="5.4" height="5.2" fill="#f18e94"/><rect x="90.0" y="452.0" width="5.4" height="5.2" fill="#f3afb4"/><rect x="90.0" y="447.2" width="5.4" height="5.2" fill="#f5d0d4"/><rect x="90.0" y="442.4" width="5.4" height="5.2" fill="#ebe8f7"/><rect x="90.0" y="437.6" width="5.4" height="5.2" fill="#bab8f8"/><rect x="90.0" y="432.8" width="5.4" height="5.2" fill="#a2a0f9"/><rect x="90.0" y="428.0" width="5.4" height="5.2" fill="#8a88fa"/><rect x="90.0" y="423.2" width="5.4" height="5.2" fill="#9c9af9"/><rect x="90.0" y="418.4" width="5.4" height="5.2" fill="#aeacf9"/><rect x="90.0" y="413.6" width="5.4" height="5.2" fill="#b1aff9"/><rect x="90.0" y="408.8" width="5.4" height="5.2" fill="#b4b2f9"/><rect x="90.0" y="404.0" width="5.4" height="5.2" fill="#c1bef8"/><rect x="90.0" y="399.2" width="5.4" height="5.2" fill="#cdcaf8"/><rect x="90.0" y="394.4" width="5.4" height="5.2" fill="#d6d3f8"/><rect x="90.0" y="389.6" width="5.4" height="5.2" fill="#dfdcf8"/><rect x="95.0" y="533.6" width="5.4" height="5.2" fill="#8a88fa"/><rect x="95.0" y="528.8" width="5.4" height="5.2" fill="#8a88fa"/><rect x="95.0" y="524.0" width="5.4" height="5.2" fill="#8a88fa"/><rect x="95.0" y="519.2" width="5.4" height="5.2" fill="#908efa"/><rect x="95.0" y="514.4" width="5.4" height="5.2" fill="#9694f9"/><rect x="95.0" y="509.6" width="5.4" height="5.2" fill="#9694f9"/><rect x="95.0" y="504.8" width="5.4" height="5.2" fill="#9694f9"/><rect x="95.0" y="500.0" width="5.4" height="5.2" fill="#9c9af9"/><rect x="95.0" y="495.2" width="5.4" height="5.2" fill="#a2a0f9"/><rect x="95.0" y="490.4" width="5.4" height="5.2" fill="#e5e2f7"/><rect x="95.0" y="485.6" width="5.4" height="5.2" fill="#f5c4c9"/><rect x="95.0" y="480.8" width="5.4" height="5.2" fill="#f4b2b7"/><rect x="95.0" y="476.0" width="5.4" height="5.2" fill="#f2a0a5"/><rect x="95.0" y="471.2" width="5.4" height="5.2" fill="#f29aa0"/><rect x="95.0" y="466.4" width="5.4" height="5.2" fill="#f2949a"/><rect x="95.0" y="461.6" width="5.4" height="5.2" fill="#f29aa0"/><rect x="95.0" y="456.8" width="5.4" height="5.2" fill="#f2a0a5"/><rect x="95.0" y="452.0" width="5.4" height="5.2" fill="#f5cace"/><rect x="95.0" y="447.2" width="5.4" height="5.2" fill="#f7f4f7"/><rect x="95.0" y="442.4" width="5.4" height="5.2" fill="#bab8f8"/><rect x="95.0" y="437.6" width="5.4" height="5.2" fill="#7e7cfa"/><rect x="95.0" y="432.8" width="5.4" height="5.2" fill="#6563fb"/><rect x="95.0" y="428.0" width="5.4" height="5.2" fill="#4c4afc"/><rect x="95.0" y="423.2" width="5.4" height="5.2" fill="#6563fb"/><rect x="95.0" y="418.4" width="5.4" height="5.2" fill="#7e7cfa"/><rect x="95.0" y="413.6" width="5.4" height="5.2" fill="#908efa"/><rect x="95.0" y="408.8" width="5.4" height="5.2" fill="#a2a0f9"/><rect x="95.0" y="404.0" width="5.4" height="5.2" fill="#b4b2f9"/><rect x="95.0" y="399.2" width="5.4" height="5.2" fill="#c7c4f8"/><rect x="95.0" y="394.4" width="5.4" height="5.2" fill="#c7c4f8"/><rect x="95.0" y="389.6" width="5.4" height="5.2" fill="#c7c4f8"/><rect x="100.0" y="533.6" width="5.4" height="5.2" fill="#8482fa"/><rect x="100.0" y="528.8" width="5.4" height="5.2" fill="#817ffa"/><rect x="100.0" y="524.0" width="5.4" height="5.2" fill="#7e7cfa"/><rect x="100.0" y="519.2" width="5.4" height="5.2" fill="#8482fa"/><rect x="100.0" y="514.4" width="5.4" height="5.2" fill="#8a88fa"/><rect x="100.0" y="509.6" width="5.4" height="5.2" fill="#8a88fa"/><rect x="100.0" y="504.8" width="5.4" height="5.2" fill="#8a88fa"/><rect x="100.0" y="500.0" width="5.4" height="5.2" fill="#908efa"/><rect x="100.0" y="495.2" width="5.4" height="5.2" fill="#9694f9"/><rect x="100.0" y="490.4" width="5.4" height="5.2" fill="#d3d0f8"/><rect x="100.0" y="485.6" width="5.4" height="5.2" fill="#f6dce0"/><rect x="100.0" y="480.8" width="5.4" height="5.2" fill="#f6e2e6"/><rect x="100.0" y="476.0" width="5.4" height="5.2" fill="#f6e8eb"/><rect x="100.0" y="471.2" width="5.4" height="5.2" fill="#f7ebee"/><rect x="100.0" y="466.4" width="5.4" height="5.2" fill="#f7eef1"/><rect x="100.0" y="461.6" width="5.4" height="5.2" fill="#f6e2e6"/><rect x="100.0" y="456.8" width="5.4" height="5.2" fill="#f6d6da"/><rect x="100.0" y="452.0" width="5.4" height="5.2" fill="#f6dce0"/><rect x="100.0" y="447.2" width="5.4" height="5.2" fill="#f6e2e6"/><rect x="100.0" y="442.4" width="5.4" height="5.2" fill="#dcd9f8"/><rect x="100.0" y="437.6" width="5.4" height="5.2" fill="#aeacf9"/><rect x="100.0" y="432.8" width="5.4" height="5.2" fill="#9694f9"/><rect x="100.0" y="428.0" width="5.4" height="5.2" fill="#7e7cfa"/><rect x="100.0" y="423.2" width="5.4" height="5.2" fill="#908efa"/><rect x="100.0" y="418.4" width="5.4" height="5.2" fill="#a2a0f9"/><rect x="100.0" y="413.6" width="5.4" height="5.2" fill="#a5a3f9"/><rect x="100.0" y="408.8" width="5.4" height="5.2" fill="#a8a6f9"/><rect x="100.0" y="404.0" width="5.4" height="5.2" fill="#b1aff9"/><rect x="100.0" y="399.2" width="5.4" height="5.2" fill="#bab8f8"/><rect x="100.0" y="394.4" width="5.4" height="5.2" fill="#bab8f8"/><rect x="100.0" y="389.6" width="5.4" height="5.2" fill="#bab8f8"/><rect x="105.0" y="533.6" width="5.4" height="5.2" fill="#7e7cfa"/><rect x="105.0" y="528.8" width="5.4" height="5.2" fill="#7876fa"/><rect x="105.0" y="524.0" width="5.4" height="5.2" fill="#7170fa"/><rect x="105.0" y="519.2" width="5.4" height="5.2" fill="#7876fa"/><rect x="105.0" y="514.4" width="5.4" height="5.2" fill="#7e7cfa"/><rect x="105.0" y="509.6" width="5.4" height="5.2" fill="#7e7cfa"/><rect x="105.0" y="504.8" width="5.4" height="5.2" fill="#7e7cfa"/><rect x="105.0" y="500.0" width="5.4" height="5.2" fill="#8482fa"/><rect x="105.0" y="495.2" width="5.4" height="5.2" fill="#8a88fa"/><rect x="105.0" y="490.4" width="5.4" height="5.2" fill="#c1bef8"/><rect x="105.0" y="485.6" width="5.4" height="5.2" fill="#f7f4f7"/><rect x="105.0" y="480.8" width="5.4" height="5.2" fill="#d9d6f8"/><rect x="105.0" y="476.0" width="5.4" height="5.2" fill="#bab8f8"/><rect x="105.0" y="471.2" width="5.4" height="5.2" fill="#aeacf9"/><rect x="105.0" y="466.4" width="5.4" height="5.2" fill="#a2a0f9"/><rect x="105.0" y="461.6" width="5.4" height="5.2" fill="#c1bef8"/><rect x="105.0" y="456.8" width="5.4" height="5.2" fill="#dfdcf8"/><rect x="105.0" y="452.0" width="5.4" height="5.2" fill="#f7eef1"/><rect x="105.0" y="447.2" width="5.4" height="5.2" fill="#f5d0d4"/><rect x="105.0" y="442.4" width="5.4" height="5.2" fill="#f7eef1"/><rect x="105.0" y="437.6" width="5.4" height="5.2" fill="#dfdcf8"/><rect x="105.0" y="432.8" width="5.4" height="5.2" fill="#c7c4f8"/><rect x="105.0" y="428.0" width="5.4" height="5.2" fill="#aeacf9"/><rect x="105.0" y="423.2" width="5.4" height="5.2" fill="#bab8f8"/><rect x="105.0" y="418.4" width="5.4" height="5.2" fill="#c7c4f8"/><rect x="105.0" y="413.6" width="5.4" height="5.2" fill="#bab8f8"/><rect x="105.0" y="408.8" width="5.4" height="5.2" fill="#aeacf9"/><rect x="105.0" y="404.0" width="5.4" height="5.2" fill="#aeacf9"/><rect x="105.0" y="399.2" width="5.4" height="5.2" fill="#aeacf9"/><rect x="105.0" y="394.4" width="5.4" height="5.2" fill="#aeacf9"/><rect x="105.0" y="389.6" width="5.4" height="5.2" fill="#aeacf9"/><rect x="110.0" y="533.6" width="5.4" height="5.2" fill="#8a88fa"/><rect x="110.0" y="528.8" width="5.4" height="5.2" fill="#8482fa"/><rect x="110.0" y="524.0" width="5.4" height="5.2" fill="#7e7cfa"/><rect x="110.0" y="519.2" width="5.4" height="5.2" fill="#7e7cfa"/><rect x="110.0" y="514.4" width="5.4" height="5.2" fill="#7e7cfa"/><rect x="110.0" y="509.6" width="5.4" height="5.2" fill="#7170fa"/><rect x="110.0" y="504.8" width="5.4" height="5.2" fill="#6563fb"/><rect x="110.0" y="500.0" width="5.4" height="5.2" fill="#6b69fb"/><rect x="110.0" y="495.2" width="5.4" height="5.2" fill="#7170fa"/><rect x="110.0" y="490.4" width="5.4" height="5.2" fill="#cdcaf8"/><rect x="110.0" y="485.6" width="5.4" height="5.2" fill="#f5c4c9"/><rect x="110.0" y="480.8" width="5.4" height="5.2" fill="#f6dfe3"/><rect x="110.0" y="476.0" width="5.4" height="5.2" fill="#f1eef7"/><rect x="110.0" y="471.2" width="5.4" height="5.2" fill="#f4f1f7"/><rect x="110.0" y="466.4" width="5.4" height="5.2" fill="#f7f4f7"/><rect x="110.0" y="461.6" width="5.4" height="5.2" fill="#ebe8f7"/><rect x="110.0" y="456.8" width="5.4" height="5.2" fill="#dfdcf8"/><rect x="110.0" y="452.0" width="5.4" height="5.2" fill="#f7ebee"/><rect x="110.0" y="447.2" width="5.4" height="5.2" fill="#f5cace"/><rect x="110.0" y="442.4" width="5.4" height="5.2" fill="#f7f1f4"/><rect x="110.0" y="437.6" width="5.4" height="5.2" fill="#d3d0f8"/><rect x="110.0" y="432.8" width="5.4" height="5.2" fill="#bab8f8"/><rect x="110.0" y="428.0" width="5.4" height="5.2" fill="#a2a0f9"/><rect x="110.0" y="423.2" width="5.4" height="5.2" fill="#c1bef8"/><rect x="110.0" y="418.4" width="5.4" height="5.2" fill="#dfdcf8"/><rect x="110.0" y="413.6" width="5.4" height="5.2" fill="#e8e5f7"/><rect x="110.0" y="408.8" width="5.4" height="5.2" fill="#f1eef7"/><rect x="110.0" y="404.0" width="5.4" height="5.2" fill="#f1eef7"/><rect x="110.0" y="399.2" width="5.4" height="5.2" fill="#f1eef7"/><rect x="110.0" y="394.4" width="5.4" height="5.2" fill="#e8e5f7"/><rect x="110.0" y="389.6" width="5.4" height="5.2" fill="#dfdcf8"/><rect x="115.1" y="533.6" width="5.4" height="5.2" fill="#9694f9"/><rect x="115.1" y="528.8" width="5.4" height="5.2" fill="#908efa"/><rect x="115.1" y="524.0" width="5.4" height="5.2" fill="#8a88fa"/><rect x="115.1" y="519.2" width="5.4" height="5.2" fill="#8482fa"/><rect x="115.1" y="514.4" width="5.4" height="5.2" fill="#7e7cfa"/><rect x="115.1" y="509.6" width="5.4" height="5.2" fill="#6563fb"/><rect x="115.1" y="504.8" width="5.4" height="5.2" fill="#4c4afc"/><rect x="115.1" y="500.0" width="5.4" height="5.2" fill="#5251fc"/><rect x="115.1" y="495.2" width="5.4" height="5.2" fill="#5857fc"/><rect x="115.1" y="490.4" width="5.4" height="5.2" fill="#d9d6f8"/><rect x="115.1" y="485.6" width="5.4" height="5.2" fill="#f2949a"/><rect x="115.1" y="480.8" width="5.4" height="5.2" fill="#f3acb1"/><rect x="115.1" y="476.0" width="5.4" height="5.2" fill="#f5c4c9"/><rect x="115.1" y="471.2" width="5.4" height="5.2" fill="#f4b2b7"/><rect x="115.1" y="466.4" width="5.4" height="5.2" fill="#f2a0a5"/><rect x="115.1" y="461.6" width="5.4" height="5.2" fill="#f6d6da"/><rect x="115.1" y="456.8" width="5.4" height="5.2" fill="#dfdcf8"/><rect x="115.1" y="452.0" width="5.4" height="5.2" fill="#f6e8eb"/><rect x="115.1" y="447.2" width="5.4" height="5.2" fill="#f5c4c9"/><rect x="115.1" y="442.4" width="5.4" height="5.2" fill="#f7f4f7"/><rect x="115.1" y="437.6" width="5.4" height="5.2" fill="#c7c4f8"/><rect x="115.1" y="432.8" width="5.4" height="5.2" fill="#aeacf9"/><rect x="115.1" y="428.0" width="5.4" height="5.2" fill="#9694f9"/><rect x="115.1" y="423.2" width="5.4" height="5.2" fill="#c7c4f8"/><rect x="115.1" y="418.4" width="5.4" height="5.2" fill="#f7f4f7"/><rect x="115.1" y="413.6" width="5.4" height="5.2" fill="#f6d6da"/><rect x="115.1" y="408.8" width="5.4" height="5.2" fill="#f4b8bd"/><rect x="115.1" y="404.0" width="5.4" height="5.2" fill="#f4b8bd"/><rect x="115.1" y="399.2" width="5.4" height="5.2" fill="#f4b8bd"/><rect x="115.1" y="394.4" width="5.4" height="5.2" fill="#f5cace"/><rect x="115.1" y="389.6" width="5.4" height="5.2" fill="#f6dce0"/><rect x="120.1" y="533.6" width="5.4" height="5.2" fill="#aeacf9"/><rect x="120.1" y="528.8" width="5.4" height="5.2" fill="#a5a3f9"/><rect x="120.1" y="524.0" width="5.4" height="5.2" fill="#9c9af9"/><rect x="120.1" y="519.2" width="5.4" height="5.2" fill="#9391f9"/><rect x="120.1" y="514.4" width="5.4" height="5.2" fill="#8a88fa"/><rect x="120.1" y="509.6" width="5.4" height="5.2" fill="#7170fa"/><rect x="120.1" y="504.8" width="5.4" height="5.2" fill="#5857fc"/><rect x="120.1" y="500.0" width="5.4" height="5.2" fill="#5e5dfb"/><rect x="120.1" y="495.2" width="5.4" height="5.2" fill="#6563fb"/><rect x="120.1" y="490.4" width="5.4" height="5.2" fill="#dfdcf8"/><rect x="120.1" y="485.6" width="5.4" height="5.2" fill="#f2949a"/><rect x="120.1" y="480.8" width="5.4" height="5.2" fill="#f2a0a5"/><rect x="120.1" y="476.0" width="5.4" height="5.2" fill="#f3acb1"/><rect x="120.1" y="471.2" width="5.4" height="5.2" fill="#f3a6ab"/><rect x="120.1" y="466.4" width="5.4" height="5.2" fill="#f2a0a5"/><rect x="120.1" y="461.6" width="5.4" height="5.2" fill="#f5d0d4"/><rect x="120.1" y="456.8" width="5.4" height="5.2" fill="#ebe8f7"/><rect x="120.1" y="452.0" width="5.4" height="5.2" fill="#f7eef1"/><rect x="120.1" y="447.2" width="5.4" height="5.2" fill="#f6dce0"/><rect x="120.1" y="442.4" width="5.4" height="5.2" fill="#eeebf7"/><rect x="120.1" y="437.6" width="5.4" height="5.2" fill="#cdcaf8"/><rect x="120.1" y="432.8" width="5.4" height="5.2" fill="#dcd9f8"/><rect x="120.1" y="428.0" width="5.4" height="5.2" fill="#ebe8f7"/><rect x="120.1" y="423.2" width="5.4" height="5.2" fill="#f6e5e8"/><rect x="120.1" y="418.4" width="5.4" height="5.2" fill="#f5cace"/><rect x="120.1" y="413.6" width="5.4" height="5.2" fill="#f5cdd1"/><rect x="120.1" y="408.8" width="5.4" height="5.2" fill="#f5d0d4"/><rect x="120.1" y="404.0" width="5.4" height="5.2" fill="#f5d3d7"/><rect x="120.1" y="399.2" width="5.4" height="5.2" fill="#f6d6da"/><rect x="120.1" y="394.4" width="5.4" height="5.2" fill="#f6e5e8"/><rect x="120.1" y="389.6" width="5.4" height="5.2" fill="#f7f4f7"/><rect x="125.1" y="533.6" width="5.4" height="5.2" fill="#c7c4f8"/><rect x="125.1" y="528.8" width="5.4" height="5.2" fill="#bab8f8"/><rect x="125.1" y="524.0" width="5.4" height="5.2" fill="#aeacf9"/><rect x="125.1" y="519.2" width="5.4" height="5.2" fill="#a2a0f9"/><rect x="125.1" y="514.4" width="5.4" height="5.2" fill="#9694f9"/><rect x="125.1" y="509.6" width="5.4" height="5.2" fill="#7e7cfa"/><rect x="125.1" y="504.8" width="5.4" height="5.2" fill="#6563fb"/><rect x="125.1" y="500.0" width="5.4" height="5.2" fill="#6b69fb"/><rect x="125.1" y="495.2" width="5.4" height="5.2" fill="#7170fa"/><rect x="125.1" y="490.4" width="5.4" height="5.2" fill="#e5e2f7"/><rect x="125.1" y="485.6" width="5.4" height="5.2" fill="#f2949a"/><rect x="125.1" y="480.8" width="5.4" height="5.2" fill="#f2949a"/><rect x="125.1" y="476.0" width="5.4" height="5.2" fill="#f2949a"/><rect x="125.1" y="471.2" width="5.4" height="5.2" fill="#f29aa0"/><rect x="125.1" y="466.4" width="5.4" height="5.2" fill="#f2a0a5"/><rect x="125.1" y="461.6" width="5.4" height="5.2" fill="#f5cace"/><rect x="125.1" y="456.8" width="5.4" height="5.2" fill="#f7f4f7"/><rect x="125.1" y="452.0" width="5.4" height="5.2" fill="#f7f4f7"/><rect x="125.1" y="447.2" width="5.4" height="5.2" fill="#f7f4f7"/><rect x="125.1" y="442.4" width="5.4" height="5.2" fill="#e5e2f7"/><rect x="125.1" y="437.6" width="5.4" height="5.2" fill="#d3d0f8"/><rect x="125.1" y="432.8" width="5.4" height="5.2" fill="#f6e2e6"/><rect x="125.1" y="428.0" width="5.4" height="5.2" fill="#f3acb1"/><rect x="125.1" y="423.2" width="5.4" height="5.2" fill="#f3a6ab"/><rect x="125.1" y="418.4" width="5.4" height="5.2" fill="#f2a0a5"/><rect x="125.1" y="413.6" width="5.4" height="5.2" fill="#f5c4c9"/><rect x="125.1" y="408.8" width="5.4" height="5.2" fill="#f6e8eb"/><rect x="125.1" y="404.0" width="5.4" height="5.2" fill="#f7eef1"/><rect x="125.1" y="399.2" width="5.4" height="5.2" fill="#f7f4f7"/><rect x="125.1" y="394.4" width="5.4" height="5.2" fill="#ebe8f7"/><rect x="125.1" y="389.6" width="5.4" height="5.2" fill="#dfdcf8"/><rect x="130.1" y="533.6" width="5.4" height="5.2" fill="#e5e2f7"/><rect x="130.1" y="528.8" width="5.4" height="5.2" fill="#cdcaf8"/><rect x="130.1" y="524.0" width="5.4" height="5.2" fill="#b4b2f9"/><rect x="130.1" y="519.2" width="5.4" height="5.2" fill="#a8a6f9"/><rect x="130.1" y="514.4" width="5.4" height="5.2" fill="#9c9af9"/><rect x="130.1" y="509.6" width="5.4" height="5.2" fill="#8785fa"/><rect x="130.1" y="504.8" width="5.4" height="5.2" fill="#7170fa"/><rect x="130.1" y="500.0" width="5.4" height="5.2" fill="#7876fa"/><rect x="130.1" y="495.2" width="5.4" height="5.2" fill="#7e7cfa"/><rect x="130.1" y="490.4" width="5.4" height="5.2" fill="#e8e5f7"/><rect x="130.1" y="485.6" width="5.4" height="5.2" fill="#f29aa0"/><rect x="130.1" y="480.8" width="5.4" height="5.2" fill="#f29aa0"/><rect x="130.1" y="476.0" width="5.4" height="5.2" fill="#f29aa0"/><rect x="130.1" y="471.2" width="5.4" height="5.2" fill="#f3afb4"/><rect x="130.1" y="466.4" width="5.4" height="5.2" fill="#f5c4c9"/><rect x="130.1" y="461.6" width="5.4" height="5.2" fill="#f5cace"/><rect x="130.1" y="456.8" width="5.4" height="5.2" fill="#f5d0d4"/><rect x="130.1" y="452.0" width="5.4" height="5.2" fill="#f7ebee"/><rect x="130.1" y="447.2" width="5.4" height="5.2" fill="#e5e2f7"/><rect x="130.1" y="442.4" width="5.4" height="5.2" fill="#d9d6f8"/><rect x="130.1" y="437.6" width="5.4" height="5.2" fill="#cdcaf8"/><rect x="130.1" y="432.8" width="5.4" height="5.2" fill="#f6e5e8"/><rect x="130.1" y="428.0" width="5.4" height="5.2" fill="#f3acb1"/><rect x="130.1" y="423.2" width="5.4" height="5.2" fill="#f2a0a5"/><rect x="130.1" y="418.4" width="5.4" height="5.2" fill="#f2949a"/><rect x="130.1" y="413.6" width="5.4" height="5.2" fill="#f4b5ba"/><rect x="130.1" y="408.8" width="5.4" height="5.2" fill="#f6d6da"/><rect x="130.1" y="404.0" width="5.4" height="5.2" fill="#f7eef1"/><rect x="130.1" y="399.2" width="5.4" height="5.2" fill="#e5e2f7"/><rect x="130.1" y="394.4" width="5.4" height="5.2" fill="#dcd9f8"/><rect x="130.1" y="389.6" width="5.4" height="5.2" fill="#d3d0f8"/><rect x="135.1" y="533.6" width="5.4" height="5.2" fill="#f6e8eb"/><rect x="135.1" y="528.8" width="5.4" height="5.2" fill="#dfdcf8"/><rect x="135.1" y="524.0" width="5.4" height="5.2" fill="#bab8f8"/><rect x="135.1" y="519.2" width="5.4" height="5.2" fill="#aeacf9"/><rect x="135.1" y="514.4" width="5.4" height="5.2" fill="#a2a0f9"/><rect x="135.1" y="509.6" width="5.4" height="5.2" fill="#908efa"/><rect x="135.1" y="504.8" width="5.4" height="5.2" fill="#7e7cfa"/><rect x="135.1" y="500.0" width="5.4" height="5.2" fill="#8482fa"/><rect x="135.1" y="495.2" width="5.4" height="5.2" fill="#8a88fa"/><rect x="135.1" y="490.4" width="5.4" height="5.2" fill="#ebe8f7"/><rect x="135.1" y="485.6" width="5.4" height="5.2" fill="#f2a0a5"/><rect x="135.1" y="480.8" width="5.4" height="5.2" fill="#f2a0a5"/><rect x="135.1" y="476.0" width="5.4" height="5.2" fill="#f2a0a5"/><rect x="135.1" y="471.2" width="5.4" height="5.2" fill="#f5c4c9"/><rect x="135.1" y="466.4" width="5.4" height="5.2" fill="#f6e8eb"/><rect x="135.1" y="461.6" width="5.4" height="5.2" fill="#f5cace"/><rect x="135.1" y="456.8" width="5.4" height="5.2" fill="#f3acb1"/><rect x="135.1" y="452.0" width="5.4" height="5.2" fill="#f6e2e6"/><rect x="135.1" y="447.2" width="5.4" height="5.2" fill="#d3d0f8"/><rect x="135.1" y="442.4" width="5.4" height="5.2" fill="#cdcaf8"/><rect x="135.1" y="437.6" width="5.4" height="5.2" fill="#c7c4f8"/><rect x="135.1" y="432.8" width="5.4" height="5.2" fill="#f6e8eb"/><rect x="135.1" y="428.0" width="5.4" height="5.2" fill="#f3acb1"/><rect x="135.1" y="423.2" width="5.4" height="5.2" fill="#f29aa0"/><rect x="135.1" y="418.4" width="5.4" height="5.2" fill="#f1888e"/><rect x="135.1" y="413.6" width="5.4" height="5.2" fill="#f3a6ab"/><rect x="135.1" y="408.8" width="5.4" height="5.2" fill="#f5c4c9"/><rect x="135.1" y="404.0" width="5.4" height="5.2" fill="#f7eef1"/><rect x="135.1" y="399.2" width="5.4" height="5.2" fill="#d3d0f8"/><rect x="135.1" y="394.4" width="5.4" height="5.2" fill="#cdcaf8"/><rect x="135.1" y="389.6" width="5.4" height="5.2" fill="#c7c4f8"/><rect x="140.1" y="533.6" width="5.4" height="5.2" fill="#f29aa0"/><rect x="140.1" y="528.8" width="5.4" height="5.2" fill="#f6d6da"/><rect x="140.1" y="524.0" width="5.4" height="5.2" fill="#d9d6f8"/><rect x="140.1" y="519.2" width="5.4" height="5.2" fill="#c4c1f8"/><rect x="140.1" y="514.4" width="5.4" height="5.2" fill="#aeacf9"/><rect x="140.1" y="509.6" width="5.4" height="5.2" fill="#a2a0f9"/><rect x="140.1" y="504.8" width="5.4" height="5.2" fill="#9694f9"/><rect x="140.1" y="500.0" width="5.4" height="5.2" fill="#9694f9"/><rect x="140.1" y="495.2" width="5.4" height="5.2" fill="#9694f9"/><rect x="140.1" y="490.4" width="5.4" height="5.2" fill="#eeebf7"/><rect x="140.1" y="485.6" width="5.4" height="5.2" fill="#f3a6ab"/><rect x="140.1" y="480.8" width="5.4" height="5.2" fill="#f3a3a8"/><rect x="140.1" y="476.0" width="5.4" height="5.2" fill="#f2a0a5"/><rect x="140.1" y="471.2" width="5.4" height="5.2" fill="#f3acb1"/><rect x="140.1" y="466.4" width="5.4" height="5.2" fill="#f4b8bd"/><rect x="140.1" y="461.6" width="5.4" height="5.2" fill="#f3a9ae"/><rect x="140.1" y="456.8" width="5.4" height="5.2" fill="#f29aa0"/><rect x="140.1" y="452.0" width="5.4" height="5.2" fill="#f6d9dd"/><rect x="140.1" y="447.2" width="5.4" height="5.2" fill="#d3d0f8"/><rect x="140.1" y="442.4" width="5.4" height="5.2" fill="#bab8f8"/><rect x="140.1" y="437.6" width="5.4" height="5.2" fill="#a2a0f9"/><rect x="140.1" y="432.8" width="5.4" height="5.2" fill="#f1eef7"/><rect x="140.1" y="428.0" width="5.4" height="5.2" fill="#f3acb1"/><rect x="140.1" y="423.2" width="5.4" height="5.2" fill="#f29aa0"/><rect x="140.1" y="418.4" width="5.4" height="5.2" fill="#f1888e"/><rect x="140.1" y="413.6" width="5.4" height="5.2" fill="#f2979d"/><rect x="140.1" y="408.8" width="5.4" height="5.2" fill="#f3a6ab"/><rect x="140.1" y="404.0" width="5.4" height="5.2" fill="#f4c1c6"/><rect x="140.1" y="399.2" width="5.4" height="5.2" fill="#f6dce0"/><rect x="140.1" y="394.4" width="5.4" height="5.2" fill="#f6e2e6"/><rect x="140.1" y="389.6" width="5.4" height="5.2" fill="#f6e8eb"/><rect x="145.1" y="533.6" width="5.4" height="5.2" fill="#f35254"/><rect x="145.1" y="528.8" width="5.4" height="5.2" fill="#f2a0a5"/><rect x="145.1" y="524.0" width="5.4" height="5.2" fill="#f7f4f7"/><rect x="145.1" y="519.2" width="5.4" height="5.2" fill="#d9d6f8"/><rect x="145.1" y="514.4" width="5.4" height="5.2" fill="#bab8f8"/><rect x="145.1" y="509.6" width="5.4" height="5.2" fill="#b4b2f9"/><rect x="145.1" y="504.8" width="5.4" height="5.2" fill="#aeacf9"/><rect x="145.1" y="500.0" width="5.4" height="5.2" fill="#a8a6f9"/><rect x="145.1" y="495.2" width="5.4" height="5.2" fill="#a2a0f9"/><rect x="145.1" y="490.4" width="5.4" height="5.2" fill="#f1eef7"/><rect x="145.1" y="485.6" width="5.4" height="5.2" fill="#f3acb1"/><rect x="145.1" y="480.8" width="5.4" height="5.2" fill="#f3a6ab"/><rect x="145.1" y="476.0" width="5.4" height="5.2" fill="#f2a0a5"/><rect x="145.1" y="471.2" width="5.4" height="5.2" fill="#f2949a"/><rect x="145.1" y="466.4" width="5.4" height="5.2" fill="#f1888e"/><rect x="145.1" y="461.6" width="5.4" height="5.2" fill="#f1888e"/><rect x="145.1" y="456.8" width="5.4" height="5.2" fill="#f1888e"/><rect x="145.1" y="452.0" width="5.4" height="5.2" fill="#f5d0d4"/><rect x="145.1" y="447.2" width="5.4" height="5.2" fill="#d3d0f8"/><rect x="145.1" y="442.4" width="5.4" height="5.2" fill="#a8a6f9"/><rect x="145.1" y="437.6" width="5.4" height="5.2" fill="#7e7cfa"/><rect x="145.1" y="432.8" width="5.4" height="5.2" fill="#dfdcf8"/><rect x="145.1" y="428.0" width="5.4" height="5.2" fill="#f3acb1"/><rect x="145.1" y="423.2" width="5.4" height="5.2" fill="#f29aa0"/><rect x="145.1" y="418.4" width="5.4" height="5.2" fill="#f1888e"/><rect x="145.1" y="413.6" width="5.4" height="5.2" fill="#f1888e"/><rect x="145.1" y="408.8" width="5.4" height="5.2" fill="#f1888e"/><rect x="145.1" y="404.0" width="5.4" height="5.2" fill="#f2949a"/><rect x="145.1" y="399.2" width="5.4" height="5.2" fill="#f2a0a5"/><rect x="145.1" y="394.4" width="5.4" height="5.2" fill="#f3a6ab"/><rect x="145.1" y="389.6" width="5.4" height="5.2" fill="#f3acb1"/><rect x="150.1" y="533.6" width="5.4" height="5.2" fill="#f6dce0"/><rect x="150.1" y="528.8" width="5.4" height="5.2" fill="#f7f1f4"/><rect x="150.1" y="524.0" width="5.4" height="5.2" fill="#e5e2f7"/><rect x="150.1" y="519.2" width="5.4" height="5.2" fill="#dcd9f8"/><rect x="150.1" y="514.4" width="5.4" height="5.2" fill="#d3d0f8"/><rect x="150.1" y="509.6" width="5.4" height="5.2" fill="#cac7f8"/><rect x="150.1" y="504.8" width="5.4" height="5.2" fill="#c1bef8"/><rect x="150.1" y="500.0" width="5.4" height="5.2" fill="#bab8f8"/><rect x="150.1" y="495.2" width="5.4" height="5.2" fill="#b4b2f9"/><rect x="150.1" y="490.4" width="5.4" height="5.2" fill="#ebe8f7"/><rect x="150.1" y="485.6" width="5.4" height="5.2" fill="#f5cace"/><rect x="150.1" y="480.8" width="5.4" height="5.2" fill="#f4bbc0"/><rect x="150.1" y="476.0" width="5.4" height="5.2" fill="#f3acb1"/><rect x="150.1" y="471.2" width="5.4" height="5.2" fill="#f3a3a8"/><rect x="150.1" y="466.4" width="5.4" height="5.2" fill="#f29aa0"/><rect x="150.1" y="461.6" width="5.4" height="5.2" fill="#f29aa0"/><rect x="150.1" y="456.8" width="5.4" height="5.2" fill="#f29aa0"/><rect x="150.1" y="452.0" width="5.4" height="5.2" fill="#f6d6da"/><rect x="150.1" y="447.2" width="5.4" height="5.2" fill="#d9d6f8"/><rect x="150.1" y="442.4" width="5.4" height="5.2" fill="#bab8f8"/><rect x="150.1" y="437.6" width="5.4" height="5.2" fill="#9c9af9"/><rect x="150.1" y="432.8" width="5.4" height="5.2" fill="#ebe8f7"/><rect x="150.1" y="428.0" width="5.4" height="5.2" fill="#f4b2b7"/><rect x="150.1" y="423.2" width="5.4" height="5.2" fill="#f3acb1"/><rect x="150.1" y="418.4" width="5.4" height="5.2" fill="#f3a6ab"/><rect x="150.1" y="413.6" width="5.4" height="5.2" fill="#f4b5ba"/><rect x="150.1" y="408.8" width="5.4" height="5.2" fill="#f5c4c9"/><rect x="150.1" y="404.0" width="5.4" height="5.2" fill="#f4b5ba"/><rect x="150.1" y="399.2" width="5.4" height="5.2" fill="#f3a6ab"/><rect x="150.1" y="394.4" width="5.4" height="5.2" fill="#f3a9ae"/><rect x="150.1" y="389.6" width="5.4" height="5.2" fill="#f3acb1"/><rect x="155.1" y="533.6" width="5.4" height="5.2" fill="#7e7cfa"/><rect x="155.1" y="528.8" width="5.4" height="5.2" fill="#a8a6f9"/><rect x="155.1" y="524.0" width="5.4" height="5.2" fill="#d3d0f8"/><rect x="155.1" y="519.2" width="5.4" height="5.2" fill="#dfdcf8"/><rect x="155.1" y="514.4" width="5.4" height="5.2" fill="#ebe8f7"/><rect x="155.1" y="509.6" width="5.4" height="5.2" fill="#dfdcf8"/><rect x="155.1" y="504.8" width="5.4" height="5.2" fill="#d3d0f8"/><rect x="155.1" y="500.0" width="5.4" height="5.2" fill="#cdcaf8"/><rect x="155.1" y="495.2" width="5.4" height="5.2" fill="#c7c4f8"/><rect x="155.1" y="490.4" width="5.4" height="5.2" fill="#e5e2f7"/><rect x="155.1" y="485.6" width="5.4" height="5.2" fill="#f6e8eb"/><rect x="155.1" y="480.8" width="5.4" height="5.2" fill="#f5d0d4"/><rect x="155.1" y="476.0" width="5.4" height="5.2" fill="#f4b8bd"/><rect x="155.1" y="471.2" width="5.4" height="5.2" fill="#f4b2b7"/><rect x="155.1" y="466.4" width="5.4" height="5.2" fill="#f3acb1"/><rect x="155.1" y="461.6" width="5.4" height="5.2" fill="#f3acb1"/><rect x="155.1" y="456.8" width="5.4" height="5.2" fill="#f3acb1"/><rect x="155.1" y="452.0" width="5.4" height="5.2" fill="#f6dce0"/><rect x="155.1" y="447.2" width="5.4" height="5.2" fill="#dfdcf8"/><rect x="155.1" y="442.4" width="5.4" height="5.2" fill="#cdcaf8"/><rect x="155.1" y="437.6" width="5.4" height="5.2" fill="#bab8f8"/><rect x="155.1" y="432.8" width="5.4" height="5.2" fill="#f7f4f7"/><rect x="155.1" y="428.0" width="5.4" height="5.2" fill="#f4b8bd"/><rect x="155.1" y="423.2" width="5.4" height="5.2" fill="#f4bec3"/><rect x="155.1" y="418.4" width="5.4" height="5.2" fill="#f5c4c9"/><rect x="155.1" y="413.6" width="5.4" height="5.2" fill="#f6e2e6"/><rect x="155.1" y="408.8" width="5.4" height="5.2" fill="#ebe8f7"/><rect x="155.1" y="404.0" width="5.4" height="5.2" fill="#f6d6da"/><rect x="155.1" y="399.2" width="5.4" height="5.2" fill="#f3acb1"/><rect x="155.1" y="394.4" width="5.4" height="5.2" fill="#f3acb1"/><rect x="155.1" y="389.6" width="5.4" height="5.2" fill="#f3acb1"/><rect x="160.1" y="533.6" width="5.4" height="5.2" fill="#7170fa"/><rect x="160.1" y="528.8" width="5.4" height="5.2" fill="#aeacf9"/><rect x="160.1" y="524.0" width="5.4" height="5.2" fill="#ebe8f7"/><rect x="160.1" y="519.2" width="5.4" height="5.2" fill="#f7ebee"/><rect x="160.1" y="514.4" width="5.4" height="5.2" fill="#f6d6da"/><rect x="160.1" y="509.6" width="5.4" height="5.2" fill="#f7eef1"/><rect x="160.1" y="504.8" width="5.4" height="5.2" fill="#e5e2f7"/><rect x="160.1" y="500.0" width="5.4" height="5.2" fill="#e2dff8"/><rect x="160.1" y="495.2" width="5.4" height="5.2" fill="#dfdcf8"/><rect x="160.1" y="490.4" width="5.4" height="5.2" fill="#f4f1f7"/><rect x="160.1" y="485.6" width="5.4" height="5.2" fill="#f6e2e6"/><rect x="160.1" y="480.8" width="5.4" height="5.2" fill="#f6e8eb"/><rect x="160.1" y="476.0" width="5.4" height="5.2" fill="#f7eef1"/><rect x="160.1" y="471.2" width="5.4" height="5.2" fill="#f7f1f4"/><rect x="160.1" y="466.4" width="5.4" height="5.2" fill="#f7f4f7"/><rect x="160.1" y="461.6" width="5.4" height="5.2" fill="#f6e2e6"/><rect x="160.1" y="456.8" width="5.4" height="5.2" fill="#f5d0d4"/><rect x="160.1" y="452.0" width="5.4" height="5.2" fill="#f6e8eb"/><rect x="160.1" y="447.2" width="5.4" height="5.2" fill="#ebe8f7"/><rect x="160.1" y="442.4" width="5.4" height="5.2" fill="#e2dff8"/><rect x="160.1" y="437.6" width="5.4" height="5.2" fill="#d9d6f8"/><rect x="160.1" y="432.8" width="5.4" height="5.2" fill="#f1eef7"/><rect x="160.1" y="428.0" width="5.4" height="5.2" fill="#f6e2e6"/><rect x="160.1" y="423.2" width="5.4" height="5.2" fill="#f6dfe3"/><rect x="160.1" y="418.4" width="5.4" height="5.2" fill="#f6dce0"/><rect x="160.1" y="413.6" width="5.4" height="5.2" fill="#f6d6da"/><rect x="160.1" y="408.8" width="5.4" height="5.2" fill="#f5d0d4"/><rect x="160.1" y="404.0" width="5.4" height="5.2" fill="#f3afb4"/><rect x="160.1" y="399.2" width="5.4" height="5.2" fill="#f18e94"/><rect x="160.1" y="394.4" width="5.4" height="5.2" fill="#f19197"/><rect x="160.1" y="389.6" width="5.4" height="5.2" fill="#f2949a"/><rect x="165.1" y="533.6" width="5.4" height="5.2" fill="#6563fb"/><rect x="165.1" y="528.8" width="5.4" height="5.2" fill="#b4b2f9"/><rect x="165.1" y="524.0" width="5.4" height="5.2" fill="#f6e8eb"/><rect x="165.1" y="519.2" width="5.4" height="5.2" fill="#f5cace"/><rect x="165.1" y="514.4" width="5.4" height="5.2" fill="#f3acb1"/><rect x="165.1" y="509.6" width="5.4" height="5.2" fill="#f5d0d4"/><rect x="165.1" y="504.8" width="5.4" height="5.2" fill="#f7f4f7"/><rect x="165.1" y="500.0" width="5.4" height="5.2" fill="#f7f4f7"/><rect x="165.1" y="495.2" width="5.4" height="5.2" fill="#f7f4f7"/><rect x="165.1" y="490.4" width="5.4" height="5.2" fill="#f6e8eb"/><rect x="165.1" y="485.6" width="5.4" height="5.2" fill="#f6dce0"/><rect x="165.1" y="480.8" width="5.4" height="5.2" fill="#ebe8f7"/><rect x="165.1" y="476.0" width="5.4" height="5.2" fill="#c7c4f8"/><rect x="165.1" y="471.2" width="5.4" height="5.2" fill="#bab8f8"/><rect x="165.1" y="466.4" width="5.4" height="5.2" fill="#aeacf9"/><rect x="165.1" y="461.6" width="5.4" height="5.2" fill="#d3d0f8"/><rect x="165.1" y="456.8" width="5.4" height="5.2" fill="#f7f4f7"/><rect x="165.1" y="452.0" width="5.4" height="5.2" fill="#f7f4f7"/><rect x="165.1" y="447.2" width="5.4" height="5.2" fill="#f7f4f7"/><rect x="165.1" y="442.4" width="5.4" height="5.2" fill="#f7f4f7"/><rect x="165.1" y="437.6" width="5.4" height="5.2" fill="#f7f4f7"/><rect x="165.1" y="432.8" width="5.4" height="5.2" fill="#ebe8f7"/><rect x="165.1" y="428.0" width="5.4" height="5.2" fill="#dfdcf8"/><rect x="165.1" y="423.2" width="5.4" height="5.2" fill="#ebe8f7"/><rect x="165.1" y="418.4" width="5.4" height="5.2" fill="#f7f4f7"/><rect x="165.1" y="413.6" width="5.4" height="5.2" fill="#f5cace"/><rect x="165.1" y="408.8" width="5.4" height="5.2" fill="#f2a0a5"/><rect x="165.1" y="404.0" width="5.4" height="5.2" fill="#f1888e"/><rect x="165.1" y="399.2" width="5.4" height="5.2" fill="#f17276"/><rect x="165.1" y="394.4" width="5.4" height="5.2" fill="#f0777c"/><rect x="165.1" y="389.6" width="5.4" height="5.2" fill="#f07c82"/><rect x="170.1" y="533.6" width="5.4" height="5.2" fill="#d3d0f8"/><rect x="170.1" y="528.8" width="5.4" height="5.2" fill="#f4f1f7"/><rect x="170.1" y="524.0" width="5.4" height="5.2" fill="#f6d6da"/><rect x="170.1" y="519.2" width="5.4" height="5.2" fill="#f5c7cc"/><rect x="170.1" y="514.4" width="5.4" height="5.2" fill="#f4b8bd"/><rect x="170.1" y="509.6" width="5.4" height="5.2" fill="#f5d3d7"/><rect x="170.1" y="504.8" width="5.4" height="5.2" fill="#f7eef1"/><rect x="170.1" y="500.0" width="5.4" height="5.2" fill="#f6d9dd"/><rect x="170.1" y="495.2" width="5.4" height="5.2" fill="#f5c4c9"/><rect x="170.1" y="490.4" width="5.4" height="5.2" fill="#f6dce0"/><rect x="170.1" y="485.6" width="5.4" height="5.2" fill="#f7f4f7"/><rect x="170.1" y="480.8" width="5.4" height="5.2" fill="#d9d6f8"/><rect x="170.1" y="476.0" width="5.4" height="5.2" fill="#bab8f8"/><rect x="170.1" y="471.2" width="5.4" height="5.2" fill="#b7b5f9"/><rect x="170.1" y="466.4" width="5.4" height="5.2" fill="#b4b2f9"/><rect x="170.1" y="461.6" width="5.4" height="5.2" fill="#c7c4f8"/><rect x="170.1" y="456.8" width="5.4" height="5.2" fill="#d9d6f8"/><rect x="170.1" y="452.0" width="5.4" height="5.2" fill="#d6d3f8"/><rect x="170.1" y="447.2" width="5.4" height="5.2" fill="#d3d0f8"/><rect x="170.1" y="442.4" width="5.4" height="5.2" fill="#d0cdf8"/><rect x="170.1" y="437.6" width="5.4" height="5.2" fill="#cdcaf8"/><rect x="170.1" y="432.8" width="5.4" height="5.2" fill="#cac7f8"/><rect x="170.1" y="428.0" width="5.4" height="5.2" fill="#c7c4f8"/><rect x="170.1" y="423.2" width="5.4" height="5.2" fill="#ebe8f7"/><rect x="170.1" y="418.4" width="5.4" height="5.2" fill="#f6dce0"/><rect x="170.1" y="413.6" width="5.4" height="5.2" fill="#f4bec3"/><rect x="170.1" y="408.8" width="5.4" height="5.2" fill="#f2a0a5"/><rect x="170.1" y="404.0" width="5.4" height="5.2" fill="#f19197"/><rect x="170.1" y="399.2" width="5.4" height="5.2" fill="#f08288"/><rect x="170.1" y="394.4" width="5.4" height="5.2" fill="#f18b91"/><rect x="170.1" y="389.6" width="5.4" height="5.2" fill="#f2949a"/><rect x="175.1" y="533.6" width="5.4" height="5.2" fill="#f3acb1"/><rect x="175.1" y="528.8" width="5.4" height="5.2" fill="#f4b8bd"/><rect x="175.1" y="524.0" width="5.4" height="5.2" fill="#f5c4c9"/><rect x="175.1" y="519.2" width="5.4" height="5.2" fill="#f5c4c9"/><rect x="175.1" y="514.4" width="5.4" height="5.2" fill="#f5c4c9"/><rect x="175.1" y="509.6" width="5.4" height="5.2" fill="#f6d6da"/><rect x="175.1" y="504.8" width="5.4" height="5.2" fill="#f6e8eb"/><rect x="175.1" y="500.0" width="5.4" height="5.2" fill="#f4bec3"/><rect x="175.1" y="495.2" width="5.4" height="5.2" fill="#f2949a"/><rect x="175.1" y="490.4" width="5.4" height="5.2" fill="#f5d0d4"/><rect x="175.1" y="485.6" width="5.4" height="5.2" fill="#dfdcf8"/><rect x="175.1" y="480.8" width="5.4" height="5.2" fill="#c7c4f8"/><rect x="175.1" y="476.0" width="5.4" height="5.2" fill="#aeacf9"/><rect x="175.1" y="471.2" width="5.4" height="5.2" fill="#b4b2f9"/><rect x="175.1" y="466.4" width="5.4" height="5.2" fill="#bab8f8"/><rect x="175.1" y="461.6" width="5.4" height="5.2" fill="#bab8f8"/><rect x="175.1" y="456.8" width="5.4" height="5.2" fill="#bab8f8"/><rect x="175.1" y="452.0" width="5.4" height="5.2" fill="#b4b2f9"/><rect x="175.1" y="447.2" width="5.4" height="5.2" fill="#aeacf9"/><rect x="175.1" y="442.4" width="5.4" height="5.2" fill="#a8a6f9"/><rect x="175.1" y="437.6" width="5.4" height="5.2" fill="#a2a0f9"/><rect x="175.1" y="432.8" width="5.4" height="5.2" fill="#a8a6f9"/><rect x="175.1" y="428.0" width="5.4" height="5.2" fill="#aeacf9"/><rect x="175.1" y="423.2" width="5.4" height="5.2" fill="#ebe8f7"/><rect x="175.1" y="418.4" width="5.4" height="5.2" fill="#f5c4c9"/><rect x="175.1" y="413.6" width="5.4" height="5.2" fill="#f4b2b7"/><rect x="175.1" y="408.8" width="5.4" height="5.2" fill="#f2a0a5"/><rect x="175.1" y="404.0" width="5.4" height="5.2" fill="#f29aa0"/><rect x="175.1" y="399.2" width="5.4" height="5.2" fill="#f2949a"/><rect x="175.1" y="394.4" width="5.4" height="5.2" fill="#f2a0a5"/><rect x="175.1" y="389.6" width="5.4" height="5.2" fill="#f3acb1"/><rect x="180.1" y="533.6" width="5.4" height="5.2" fill="#f2a0a5"/><rect x="180.1" y="528.8" width="5.4" height="5.2" fill="#f4b5ba"/><rect x="180.1" y="524.0" width="5.4" height="5.2" fill="#f5cace"/><rect x="180.1" y="519.2" width="5.4" height="5.2" fill="#f5d0d4"/><rect x="180.1" y="514.4" width="5.4" height="5.2" fill="#f6d6da"/><rect x="180.1" y="509.6" width="5.4" height="5.2" fill="#f7f4f7"/><rect x="180.1" y="504.8" width="5.4" height="5.2" fill="#d9d6f8"/><rect x="180.1" y="500.0" width="5.4" height="5.2" fill="#eeebf7"/><rect x="180.1" y="495.2" width="5.4" height="5.2" fill="#f6e8eb"/><rect x="180.1" y="490.4" width="5.4" height="5.2" fill="#e2dff8"/><rect x="180.1" y="485.6" width="5.4" height="5.2" fill="#c1bef8"/><rect x="180.1" y="480.8" width="5.4" height="5.2" fill="#b1aff9"/><rect x="180.1" y="476.0" width="5.4" height="5.2" fill="#a2a0f9"/><rect x="180.1" y="471.2" width="5.4" height="5.2" fill="#a8a6f9"/><rect x="180.1" y="466.4" width="5.4" height="5.2" fill="#aeacf9"/><rect x="180.1" y="461.6" width="5.4" height="5.2" fill="#aba9f9"/><rect x="180.1" y="456.8" width="5.4" height="5.2" fill="#a8a6f9"/><rect x="180.1" y="452.0" width="5.4" height="5.2" fill="#a5a3f9"/><rect x="180.1" y="447.2" width="5.4" height="5.2" fill="#a2a0f9"/><rect x="180.1" y="442.4" width="5.4" height="5.2" fill="#9c9af9"/><rect x="180.1" y="437.6" width="5.4" height="5.2" fill="#9694f9"/><rect x="180.1" y="432.8" width="5.4" height="5.2" fill="#9c9af9"/><rect x="180.1" y="428.0" width="5.4" height="5.2" fill="#a2a0f9"/><rect x="180.1" y="423.2" width="5.4" height="5.2" fill="#c7c4f8"/><rect x="180.1" y="418.4" width="5.4" height="5.2" fill="#ebe8f7"/><rect x="180.1" y="413.6" width="5.4" height="5.2" fill="#f7f1f4"/><rect x="180.1" y="408.8" width="5.4" height="5.2" fill="#f6e2e6"/><rect x="180.1" y="404.0" width="5.4" height="5.2" fill="#f6e5e8"/><rect x="180.1" y="399.2" width="5.4" height="5.2" fill="#f6e8eb"/><rect x="180.1" y="394.4" width="5.4" height="5.2" fill="#f7eef1"/><rect x="180.1" y="389.6" width="5.4" height="5.2" fill="#f7f4f7"/><rect x="185.1" y="533.6" width="5.4" height="5.2" fill="#f2949a"/><rect x="185.1" y="528.8" width="5.4" height="5.2" fill="#f4b2b7"/><rect x="185.1" y="524.0" width="5.4" height="5.2" fill="#f5d0d4"/><rect x="185.1" y="519.2" width="5.4" height="5.2" fill="#f6dce0"/><rect x="185.1" y="514.4" width="5.4" height="5.2" fill="#f6e8eb"/><rect x="185.1" y="509.6" width="5.4" height="5.2" fill="#d9d6f8"/><rect x="185.1" y="504.8" width="5.4" height="5.2" fill="#aeacf9"/><rect x="185.1" y="500.0" width="5.4" height="5.2" fill="#aeacf9"/><rect x="185.1" y="495.2" width="5.4" height="5.2" fill="#aeacf9"/><rect x="185.1" y="490.4" width="5.4" height="5.2" fill="#a8a6f9"/><rect x="185.1" y="485.6" width="5.4" height="5.2" fill="#a2a0f9"/><rect x="185.1" y="480.8" width="5.4" height="5.2" fill="#9c9af9"/><rect x="185.1" y="476.0" width="5.4" height="5.2" fill="#9694f9"/><rect x="185.1" y="471.2" width="5.4" height="5.2" fill="#9c9af9"/><rect x="185.1" y="466.4" width="5.4" height="5.2" fill="#a2a0f9"/><rect x="185.1" y="461.6" width="5.4" height="5.2" fill="#9c9af9"/><rect x="185.1" y="456.8" width="5.4" height="5.2" fill="#9694f9"/><rect x="185.1" y="452.0" width="5.4" height="5.2" fill="#9694f9"/><rect x="185.1" y="447.2" width="5.4" height="5.2" fill="#9694f9"/><rect x="185.1" y="442.4" width="5.4" height="5.2" fill="#908efa"/><rect x="185.1" y="437.6" width="5.4" height="5.2" fill="#8a88fa"/><rect x="185.1" y="432.8" width="5.4" height="5.2" fill="#908efa"/><rect x="185.1" y="428.0" width="5.4" height="5.2" fill="#9694f9"/><rect x="185.1" y="423.2" width="5.4" height="5.2" fill="#a2a0f9"/><rect x="185.1" y="418.4" width="5.4" height="5.2" fill="#aeacf9"/><rect x="185.1" y="413.6" width="5.4" height="5.2" fill="#bab8f8"/><rect x="185.1" y="408.8" width="5.4" height="5.2" fill="#c7c4f8"/><rect x="185.1" y="404.0" width="5.4" height="5.2" fill="#bab8f8"/><rect x="185.1" y="399.2" width="5.4" height="5.2" fill="#aeacf9"/><rect x="185.1" y="394.4" width="5.4" height="5.2" fill="#aeacf9"/><rect x="185.1" y="389.6" width="5.4" height="5.2" fill="#aeacf9"/></g></g><path d="M37.5 392.5H187.5V536.5H37.5Z" fill="none" stroke="#222" stroke-width="1"/><path d="M34.7 536.00H37.5M37.50 536.5V539.1M34.7 526.40H37.5M47.51 536.5V539.1M34.7 516.80H37.5M57.51 536.5V539.1M34.7 507.20H37.5M67.52 536.5V539.1M34.7 497.60H37.5M77.53 536.5V539.1M34.7 488.00H37.5M87.53 536.5V539.1M34.7 478.40H37.5M97.54 536.5V539.1M34.7 468.80H37.5M107.55 536.5V539.1M34.7 459.20H37.5M117.55 536.5V539.1M34.7 449.60H37.5M127.56 536.5V539.1M34.7 440.00H37.5M137.57 536.5V539.1M34.7 430.40H37.5M147.57 536.5V539.1M34.7 420.80H37.5M157.58 536.5V539.1M34.7 411.20H37.5M167.59 536.5V539.1M34.7 401.60H37.5M177.59 536.5V539.1M34.7 392.00H37.5M187.60 536.5V539.1" stroke="#222" stroke-width="0.9"/><text x="32.2" y="538.0" font-size="5.7" font-weight="bold" fill="#000" text-anchor="end">0</text><text x="37.5" y="546.1" font-size="5.7" font-weight="bold" fill="#000" text-anchor="middle">0</text><text x="32.2" y="528.4" font-size="5.7" font-weight="bold" fill="#000" text-anchor="end">1</text><text x="47.50666666666667" y="546.1" font-size="5.7" font-weight="bold" fill="#000" text-anchor="middle">1</text><text x="32.2" y="518.8" font-size="5.7" font-weight="bold" fill="#000" text-anchor="end">2</text><text x="57.513333333333335" y="546.1" font-size="5.7" font-weight="bold" fill="#000" text-anchor="middle">2</text><text x="32.2" y="509.2" font-size="5.7" font-weight="bold" fill="#000" text-anchor="end">3</text><text x="67.52" y="546.1" font-size="5.7" font-weight="bold" fill="#000" text-anchor="middle">3</text><text x="32.2" y="499.6" font-size="5.7" font-weight="bold" fill="#000" text-anchor="end">4</text><text x="77.52666666666667" y="546.1" font-size="5.7" font-weight="bold" fill="#000" text-anchor="middle">4</text><text x="32.2" y="490.0" font-size="5.7" font-weight="bold" fill="#000" text-anchor="end">5</text><text x="87.53333333333333" y="546.1" font-size="5.7" font-weight="bold" fill="#000" text-anchor="middle">5</text><text x="32.2" y="480.4" font-size="5.7" font-weight="bold" fill="#000" text-anchor="end">6</text><text x="97.53999999999999" y="546.1" font-size="5.7" font-weight="bold" fill="#000" text-anchor="middle">6</text><text x="32.2" y="470.8" font-size="5.7" font-weight="bold" fill="#000" text-anchor="end">7</text><text x="107.54666666666667" y="546.1" font-size="5.7" font-weight="bold" fill="#000" text-anchor="middle">7</text><text x="32.2" y="461.2" font-size="5.7" font-weight="bold" fill="#000" text-anchor="end">8</text><text x="117.55333333333333" y="546.1" font-size="5.7" font-weight="bold" fill="#000" text-anchor="middle">8</text><text x="32.2" y="451.6" font-size="5.7" font-weight="bold" fill="#000" text-anchor="end">9</text><text x="127.55999999999999" y="546.1" font-size="5.7" font-weight="bold" fill="#000" text-anchor="middle">9</text><text x="32.2" y="442.0" font-size="5.7" font-weight="bold" fill="#000" text-anchor="end">10</text><text x="137.56666666666666" y="546.1" font-size="5.7" font-weight="bold" fill="#000" text-anchor="middle">10</text><text x="32.2" y="432.4" font-size="5.7" font-weight="bold" fill="#000" text-anchor="end">11</text><text x="147.57333333333332" y="546.1" font-size="5.7" font-weight="bold" fill="#000" text-anchor="middle">11</text><text x="32.2" y="422.8" font-size="5.7" font-weight="bold" fill="#000" text-anchor="end">12</text><text x="157.57999999999998" y="546.1" font-size="5.7" font-weight="bold" fill="#000" text-anchor="middle">12</text><text x="32.2" y="413.2" font-size="5.7" font-weight="bold" fill="#000" text-anchor="end">13</text><text x="167.58666666666664" y="546.1" font-size="5.7" font-weight="bold" fill="#000" text-anchor="middle">13</text><text x="32.2" y="403.6" font-size="5.7" font-weight="bold" fill="#000" text-anchor="end">14</text><text x="177.59333333333333" y="546.1" font-size="5.7" font-weight="bold" fill="#000" text-anchor="middle">14</text><text x="32.2" y="394.0" font-size="5.7" font-weight="bold" fill="#000" text-anchor="end">15</text><text x="187.6" y="546.1" font-size="5.7" font-weight="bold" fill="#000" text-anchor="middle">15</text><text x="112.55" y="555" font-size="7.4" font-weight="bold" fill="#000" text-anchor="middle" textLength="44" lengthAdjust="spacingAndGlyphs">Distance (µm)</text><text x="22.5" y="464.0" font-size="7.4" font-weight="bold" fill="#000" text-anchor="middle" textLength="44" lengthAdjust="spacingAndGlyphs" transform="rotate(-90 22.5 464.0)">Distance (µm)</text><text x="4.3" y="397.2" font-size="11.6" font-weight="bold" fill="#000">g</text><rect x="212.8" y="397.40" width="10.2" height="5.12" fill="#fd2017"/><rect x="212.8" y="402.22" width="10.2" height="5.12" fill="#fa2d27"/><rect x="212.8" y="407.04" width="10.2" height="5.12" fill="#f73b38"/><rect x="212.8" y="411.86" width="10.2" height="5.12" fill="#f44848"/><rect x="212.8" y="416.69" width="10.2" height="5.12" fill="#f35759"/><rect x="212.8" y="421.51" width="10.2" height="5.12" fill="#f26669"/><rect x="212.8" y="426.33" width="10.2" height="5.12" fill="#f1757a"/><rect x="212.8" y="431.15" width="10.2" height="5.12" fill="#f1858a"/><rect x="212.8" y="435.97" width="10.2" height="5.12" fill="#f2969b"/><rect x="212.8" y="440.79" width="10.2" height="5.12" fill="#f3a7ac"/><rect x="212.8" y="445.61" width="10.2" height="5.12" fill="#f4b8bd"/><rect x="212.8" y="450.44" width="10.2" height="5.12" fill="#f5c9ce"/><rect x="212.8" y="455.26" width="10.2" height="5.12" fill="#f6dade"/><rect x="212.8" y="460.08" width="10.2" height="5.12" fill="#f7ebef"/><rect x="212.8" y="464.90" width="10.2" height="5.12" fill="#eeebf7"/><rect x="212.8" y="469.72" width="10.2" height="5.12" fill="#dddaf8"/><rect x="212.8" y="474.54" width="10.2" height="5.12" fill="#ccc9f8"/><rect x="212.8" y="479.36" width="10.2" height="5.12" fill="#bab8f8"/><rect x="212.8" y="484.19" width="10.2" height="5.12" fill="#a9a7f9"/><rect x="212.8" y="489.01" width="10.2" height="5.12" fill="#9896f9"/><rect x="212.8" y="493.83" width="10.2" height="5.12" fill="#8785fa"/><rect x="212.8" y="498.65" width="10.2" height="5.12" fill="#7573fa"/><rect x="212.8" y="503.47" width="10.2" height="5.12" fill="#6361fb"/><rect x="212.8" y="508.29" width="10.2" height="5.12" fill="#5150fc"/><rect x="212.8" y="513.11" width="10.2" height="5.12" fill="#3f3efc"/><rect x="212.8" y="517.94" width="10.2" height="5.12" fill="#2d2cfd"/><rect x="212.8" y="522.76" width="10.2" height="5.12" fill="#1b1bfe"/><rect x="212.8" y="527.58" width="10.2" height="5.12" fill="#0909ff"/><text x="217.9" y="394.9" font-size="5.2" font-weight="normal" fill="#000" text-anchor="middle">85000</text><text x="217.9" y="539.3" font-size="5.2" font-weight="normal" fill="#000" text-anchor="middle">5000</text><text x="191" y="385" font-size="7.6" font-weight="bold" fill="#000" textLength="55" lengthAdjust="spacingAndGlyphs">PL Intensity (a.u.)</text><g clip-path="url(#hch)"><g filter="url(#hbh)"><rect x="250.2" y="533.6" width="5.4" height="5.2" fill="#a2a0f9"/><rect x="250.2" y="528.8" width="5.4" height="5.2" fill="#f1eef7"/><rect x="250.2" y="524.0" width="5.4" height="5.2" fill="#f3acb1"/><rect x="250.2" y="519.2" width="5.4" height="5.2" fill="#f3acb1"/><rect x="250.2" y="514.4" width="5.4" height="5.2" fill="#f3acb1"/><rect x="250.2" y="509.6" width="5.4" height="5.2" fill="#f4b2b7"/><rect x="250.2" y="504.8" width="5.4" height="5.2" fill="#f4b8bd"/><rect x="250.2" y="500.0" width="5.4" height="5.2" fill="#f5d0d4"/><rect x="250.2" y="495.2" width="5.4" height="5.2" fill="#f6e8eb"/><rect x="250.2" y="490.4" width="5.4" height="5.2" fill="#f6e8eb"/><rect x="250.2" y="485.6" width="5.4" height="5.2" fill="#f6e8eb"/><rect x="250.2" y="480.8" width="5.4" height="5.2" fill="#f6e2e6"/><rect x="250.2" y="476.0" width="5.4" height="5.2" fill="#f6dce0"/><rect x="250.2" y="471.2" width="5.4" height="5.2" fill="#f6dce0"/><rect x="250.2" y="466.4" width="5.4" height="5.2" fill="#f6dce0"/><rect x="250.2" y="461.6" width="5.4" height="5.2" fill="#dfdcf8"/><rect x="250.2" y="456.8" width="5.4" height="5.2" fill="#aeacf9"/><rect x="250.2" y="452.0" width="5.4" height="5.2" fill="#bab8f8"/><rect x="250.2" y="447.2" width="5.4" height="5.2" fill="#c7c4f8"/><rect x="250.2" y="442.4" width="5.4" height="5.2" fill="#f6e8eb"/><rect x="250.2" y="437.6" width="5.4" height="5.2" fill="#f3acb1"/><rect x="250.2" y="432.8" width="5.4" height="5.2" fill="#f3acb1"/><rect x="250.2" y="428.0" width="5.4" height="5.2" fill="#f3acb1"/><rect x="250.2" y="423.2" width="5.4" height="5.2" fill="#f3acb1"/><rect x="250.2" y="418.4" width="5.4" height="5.2" fill="#f3acb1"/><rect x="250.2" y="413.6" width="5.4" height="5.2" fill="#f3acb1"/><rect x="250.2" y="408.8" width="5.4" height="5.2" fill="#f3acb1"/><rect x="250.2" y="404.0" width="5.4" height="5.2" fill="#f3acb1"/><rect x="250.2" y="399.2" width="5.4" height="5.2" fill="#f3acb1"/><rect x="250.2" y="394.4" width="5.4" height="5.2" fill="#f3acb1"/><rect x="250.2" y="389.6" width="5.4" height="5.2" fill="#f3acb1"/><rect x="255.2" y="533.6" width="5.4" height="5.2" fill="#a8a6f9"/><rect x="255.2" y="528.8" width="5.4" height="5.2" fill="#eeebf7"/><rect x="255.2" y="524.0" width="5.4" height="5.2" fill="#f4b8bd"/><rect x="255.2" y="519.2" width="5.4" height="5.2" fill="#f4b5ba"/><rect x="255.2" y="514.4" width="5.4" height="5.2" fill="#f4b2b7"/><rect x="255.2" y="509.6" width="5.4" height="5.2" fill="#f4bbc0"/><rect x="255.2" y="504.8" width="5.4" height="5.2" fill="#f5c4c9"/><rect x="255.2" y="500.0" width="5.4" height="5.2" fill="#eeebf7"/><rect x="255.2" y="495.2" width="5.4" height="5.2" fill="#b4b2f9"/><rect x="255.2" y="490.4" width="5.4" height="5.2" fill="#a2a0f9"/><rect x="255.2" y="485.6" width="5.4" height="5.2" fill="#908efa"/><rect x="255.2" y="480.8" width="5.4" height="5.2" fill="#a5a3f9"/><rect x="255.2" y="476.0" width="5.4" height="5.2" fill="#bab8f8"/><rect x="255.2" y="471.2" width="5.4" height="5.2" fill="#c4c1f8"/><rect x="255.2" y="466.4" width="5.4" height="5.2" fill="#cdcaf8"/><rect x="255.2" y="461.6" width="5.4" height="5.2" fill="#bab8f8"/><rect x="255.2" y="456.8" width="5.4" height="5.2" fill="#a8a6f9"/><rect x="255.2" y="452.0" width="5.4" height="5.2" fill="#d6d3f8"/><rect x="255.2" y="447.2" width="5.4" height="5.2" fill="#f6e8eb"/><rect x="255.2" y="442.4" width="5.4" height="5.2" fill="#f5c4c9"/><rect x="255.2" y="437.6" width="5.4" height="5.2" fill="#f2a0a5"/><rect x="255.2" y="432.8" width="5.4" height="5.2" fill="#f3acb1"/><rect x="255.2" y="428.0" width="5.4" height="5.2" fill="#f4b8bd"/><rect x="255.2" y="423.2" width="5.4" height="5.2" fill="#f4c1c6"/><rect x="255.2" y="418.4" width="5.4" height="5.2" fill="#f5cace"/><rect x="255.2" y="413.6" width="5.4" height="5.2" fill="#f5d3d7"/><rect x="255.2" y="408.8" width="5.4" height="5.2" fill="#f6dce0"/><rect x="255.2" y="404.0" width="5.4" height="5.2" fill="#f5d3d7"/><rect x="255.2" y="399.2" width="5.4" height="5.2" fill="#f5cace"/><rect x="255.2" y="394.4" width="5.4" height="5.2" fill="#f4bec3"/><rect x="255.2" y="389.6" width="5.4" height="5.2" fill="#f4b2b7"/><rect x="260.2" y="533.6" width="5.4" height="5.2" fill="#aeacf9"/><rect x="260.2" y="528.8" width="5.4" height="5.2" fill="#ebe8f7"/><rect x="260.2" y="524.0" width="5.4" height="5.2" fill="#f5c4c9"/><rect x="260.2" y="519.2" width="5.4" height="5.2" fill="#f4bec3"/><rect x="260.2" y="514.4" width="5.4" height="5.2" fill="#f4b8bd"/><rect x="260.2" y="509.6" width="5.4" height="5.2" fill="#f5c4c9"/><rect x="260.2" y="504.8" width="5.4" height="5.2" fill="#f5d0d4"/><rect x="260.2" y="500.0" width="5.4" height="5.2" fill="#c1bef8"/><rect x="260.2" y="495.2" width="5.4" height="5.2" fill="#6563fb"/><rect x="260.2" y="490.4" width="5.4" height="5.2" fill="#3f3efc"/><rect x="260.2" y="485.6" width="5.4" height="5.2" fill="#1919fe"/><rect x="260.2" y="480.8" width="5.4" height="5.2" fill="#3f3efc"/><rect x="260.2" y="476.0" width="5.4" height="5.2" fill="#6563fb"/><rect x="260.2" y="471.2" width="5.4" height="5.2" fill="#7876fa"/><rect x="260.2" y="466.4" width="5.4" height="5.2" fill="#8a88fa"/><rect x="260.2" y="461.6" width="5.4" height="5.2" fill="#9694f9"/><rect x="260.2" y="456.8" width="5.4" height="5.2" fill="#a2a0f9"/><rect x="260.2" y="452.0" width="5.4" height="5.2" fill="#f1eef7"/><rect x="260.2" y="447.2" width="5.4" height="5.2" fill="#f3acb1"/><rect x="260.2" y="442.4" width="5.4" height="5.2" fill="#f2a0a5"/><rect x="260.2" y="437.6" width="5.4" height="5.2" fill="#f2949a"/><rect x="260.2" y="432.8" width="5.4" height="5.2" fill="#f3acb1"/><rect x="260.2" y="428.0" width="5.4" height="5.2" fill="#f5c4c9"/><rect x="260.2" y="423.2" width="5.4" height="5.2" fill="#f6d6da"/><rect x="260.2" y="418.4" width="5.4" height="5.2" fill="#f6e8eb"/><rect x="260.2" y="413.6" width="5.4" height="5.2" fill="#f1eef7"/><rect x="260.2" y="408.8" width="5.4" height="5.2" fill="#dfdcf8"/><rect x="260.2" y="404.0" width="5.4" height="5.2" fill="#f1eef7"/><rect x="260.2" y="399.2" width="5.4" height="5.2" fill="#f6e8eb"/><rect x="260.2" y="394.4" width="5.4" height="5.2" fill="#f5d0d4"/><rect x="260.2" y="389.6" width="5.4" height="5.2" fill="#f4b8bd"/><rect x="265.2" y="533.6" width="5.4" height="5.2" fill="#bab8f8"/><rect x="265.2" y="528.8" width="5.4" height="5.2" fill="#e8e5f7"/><rect x="265.2" y="524.0" width="5.4" height="5.2" fill="#f6d6da"/><rect x="265.2" y="519.2" width="5.4" height="5.2" fill="#f5c4c9"/><rect x="265.2" y="514.4" width="5.4" height="5.2" fill="#f4b2b7"/><rect x="265.2" y="509.6" width="5.4" height="5.2" fill="#f5c7cc"/><rect x="265.2" y="504.8" width="5.4" height="5.2" fill="#f6dce0"/><rect x="265.2" y="500.0" width="5.4" height="5.2" fill="#bebbf8"/><rect x="265.2" y="495.2" width="5.4" height="5.2" fill="#6b69fb"/><rect x="265.2" y="490.4" width="5.4" height="5.2" fill="#4847fc"/><rect x="265.2" y="485.6" width="5.4" height="5.2" fill="#2625fe"/><rect x="265.2" y="480.8" width="5.4" height="5.2" fill="#4c4afc"/><rect x="265.2" y="476.0" width="5.4" height="5.2" fill="#7170fa"/><rect x="265.2" y="471.2" width="5.4" height="5.2" fill="#817ffa"/><rect x="265.2" y="466.4" width="5.4" height="5.2" fill="#908efa"/><rect x="265.2" y="461.6" width="5.4" height="5.2" fill="#b1aff9"/><rect x="265.2" y="456.8" width="5.4" height="5.2" fill="#d3d0f8"/><rect x="265.2" y="452.0" width="5.4" height="5.2" fill="#f6e8eb"/><rect x="265.2" y="447.2" width="5.4" height="5.2" fill="#f4b8bd"/><rect x="265.2" y="442.4" width="5.4" height="5.2" fill="#f4bbc0"/><rect x="265.2" y="437.6" width="5.4" height="5.2" fill="#f4bec3"/><rect x="265.2" y="432.8" width="5.4" height="5.2" fill="#f5cdd1"/><rect x="265.2" y="428.0" width="5.4" height="5.2" fill="#f6dce0"/><rect x="265.2" y="423.2" width="5.4" height="5.2" fill="#f5d3d7"/><rect x="265.2" y="418.4" width="5.4" height="5.2" fill="#f5cace"/><rect x="265.2" y="413.6" width="5.4" height="5.2" fill="#f5d3d7"/><rect x="265.2" y="408.8" width="5.4" height="5.2" fill="#f6dce0"/><rect x="265.2" y="404.0" width="5.4" height="5.2" fill="#f6d6da"/><rect x="265.2" y="399.2" width="5.4" height="5.2" fill="#f5d0d4"/><rect x="265.2" y="394.4" width="5.4" height="5.2" fill="#f5cdd1"/><rect x="265.2" y="389.6" width="5.4" height="5.2" fill="#f5cace"/><rect x="270.2" y="533.6" width="5.4" height="5.2" fill="#c7c4f8"/><rect x="270.2" y="528.8" width="5.4" height="5.2" fill="#e5e2f7"/><rect x="270.2" y="524.0" width="5.4" height="5.2" fill="#f6e8eb"/><rect x="270.2" y="519.2" width="5.4" height="5.2" fill="#f5cace"/><rect x="270.2" y="514.4" width="5.4" height="5.2" fill="#f3acb1"/><rect x="270.2" y="509.6" width="5.4" height="5.2" fill="#f5cace"/><rect x="270.2" y="504.8" width="5.4" height="5.2" fill="#f6e8eb"/><rect x="270.2" y="500.0" width="5.4" height="5.2" fill="#bab8f8"/><rect x="270.2" y="495.2" width="5.4" height="5.2" fill="#7170fa"/><rect x="270.2" y="490.4" width="5.4" height="5.2" fill="#5251fc"/><rect x="270.2" y="485.6" width="5.4" height="5.2" fill="#3232fd"/><rect x="270.2" y="480.8" width="5.4" height="5.2" fill="#5857fc"/><rect x="270.2" y="476.0" width="5.4" height="5.2" fill="#7e7cfa"/><rect x="270.2" y="471.2" width="5.4" height="5.2" fill="#8a88fa"/><rect x="270.2" y="466.4" width="5.4" height="5.2" fill="#9694f9"/><rect x="270.2" y="461.6" width="5.4" height="5.2" fill="#cdcaf8"/><rect x="270.2" y="456.8" width="5.4" height="5.2" fill="#f6e8eb"/><rect x="270.2" y="452.0" width="5.4" height="5.2" fill="#f6d6da"/><rect x="270.2" y="447.2" width="5.4" height="5.2" fill="#f5c4c9"/><rect x="270.2" y="442.4" width="5.4" height="5.2" fill="#f6d6da"/><rect x="270.2" y="437.6" width="5.4" height="5.2" fill="#f6e8eb"/><rect x="270.2" y="432.8" width="5.4" height="5.2" fill="#f7eef1"/><rect x="270.2" y="428.0" width="5.4" height="5.2" fill="#f7f4f7"/><rect x="270.2" y="423.2" width="5.4" height="5.2" fill="#f5d0d4"/><rect x="270.2" y="418.4" width="5.4" height="5.2" fill="#f3acb1"/><rect x="270.2" y="413.6" width="5.4" height="5.2" fill="#f3acb1"/><rect x="270.2" y="408.8" width="5.4" height="5.2" fill="#f3acb1"/><rect x="270.2" y="404.0" width="5.4" height="5.2" fill="#f4b2b7"/><rect x="270.2" y="399.2" width="5.4" height="5.2" fill="#f4b8bd"/><rect x="270.2" y="394.4" width="5.4" height="5.2" fill="#f5cace"/><rect x="270.2" y="389.6" width="5.4" height="5.2" fill="#f6dce0"/><rect x="275.2" y="533.6" width="5.4" height="5.2" fill="#f6e8eb"/><rect x="275.2" y="528.8" width="5.4" height="5.2" fill="#f6d6da"/><rect x="275.2" y="524.0" width="5.4" height="5.2" fill="#f5c4c9"/><rect x="275.2" y="519.2" width="5.4" height="5.2" fill="#f4b8bd"/><rect x="275.2" y="514.4" width="5.4" height="5.2" fill="#f3acb1"/><rect x="275.2" y="509.6" width="5.4" height="5.2" fill="#f4b8bd"/><rect x="275.2" y="504.8" width="5.4" height="5.2" fill="#f5c4c9"/><rect x="275.2" y="500.0" width="5.4" height="5.2" fill="#f7ebee"/><rect x="275.2" y="495.2" width="5.4" height="5.2" fill="#d9d6f8"/><rect x="275.2" y="490.4" width="5.4" height="5.2" fill="#c7c4f8"/><rect x="275.2" y="485.6" width="5.4" height="5.2" fill="#b4b2f9"/><rect x="275.2" y="480.8" width="5.4" height="5.2" fill="#cac7f8"/><rect x="275.2" y="476.0" width="5.4" height="5.2" fill="#dfdcf8"/><rect x="275.2" y="471.2" width="5.4" height="5.2" fill="#e8e5f7"/><rect x="275.2" y="466.4" width="5.4" height="5.2" fill="#f1eef7"/><rect x="275.2" y="461.6" width="5.4" height="5.2" fill="#f6dfe3"/><rect x="275.2" y="456.8" width="5.4" height="5.2" fill="#f5c4c9"/><rect x="275.2" y="452.0" width="5.4" height="5.2" fill="#f6dce0"/><rect x="275.2" y="447.2" width="5.4" height="5.2" fill="#f7f4f7"/><rect x="275.2" y="442.4" width="5.4" height="5.2" fill="#cac7f8"/><rect x="275.2" y="437.6" width="5.4" height="5.2" fill="#9c9af9"/><rect x="275.2" y="432.8" width="5.4" height="5.2" fill="#aba9f9"/><rect x="275.2" y="428.0" width="5.4" height="5.2" fill="#bab8f8"/><rect x="275.2" y="423.2" width="5.4" height="5.2" fill="#f7eef1"/><rect x="275.2" y="418.4" width="5.4" height="5.2" fill="#f3acb1"/><rect x="275.2" y="413.6" width="5.4" height="5.2" fill="#f3afb4"/><rect x="275.2" y="408.8" width="5.4" height="5.2" fill="#f4b2b7"/><rect x="275.2" y="404.0" width="5.4" height="5.2" fill="#f4b8bd"/><rect x="275.2" y="399.2" width="5.4" height="5.2" fill="#f4bec3"/><rect x="275.2" y="394.4" width="5.4" height="5.2" fill="#f5d0d4"/><rect x="275.2" y="389.6" width="5.4" height="5.2" fill="#f6e2e6"/><rect x="280.2" y="533.6" width="5.4" height="5.2" fill="#f3acb1"/><rect x="280.2" y="528.8" width="5.4" height="5.2" fill="#f3a6ab"/><rect x="280.2" y="524.0" width="5.4" height="5.2" fill="#f2a0a5"/><rect x="280.2" y="519.2" width="5.4" height="5.2" fill="#f3a6ab"/><rect x="280.2" y="514.4" width="5.4" height="5.2" fill="#f3acb1"/><rect x="280.2" y="509.6" width="5.4" height="5.2" fill="#f3a6ab"/><rect x="280.2" y="504.8" width="5.4" height="5.2" fill="#f2a0a5"/><rect x="280.2" y="500.0" width="5.4" height="5.2" fill="#f3a6ab"/><rect x="280.2" y="495.2" width="5.4" height="5.2" fill="#f3acb1"/><rect x="280.2" y="490.4" width="5.4" height="5.2" fill="#f4b2b7"/><rect x="280.2" y="485.6" width="5.4" height="5.2" fill="#f4b8bd"/><rect x="280.2" y="480.8" width="5.4" height="5.2" fill="#f4b2b7"/><rect x="280.2" y="476.0" width="5.4" height="5.2" fill="#f3acb1"/><rect x="280.2" y="471.2" width="5.4" height="5.2" fill="#f3a6ab"/><rect x="280.2" y="466.4" width="5.4" height="5.2" fill="#f2a0a5"/><rect x="280.2" y="461.6" width="5.4" height="5.2" fill="#f2a0a5"/><rect x="280.2" y="456.8" width="5.4" height="5.2" fill="#f2a0a5"/><rect x="280.2" y="452.0" width="5.4" height="5.2" fill="#f6e2e6"/><rect x="280.2" y="447.2" width="5.4" height="5.2" fill="#c7c4f8"/><rect x="280.2" y="442.4" width="5.4" height="5.2" fill="#7e7cfa"/><rect x="280.2" y="437.6" width="5.4" height="5.2" fill="#3232fd"/><rect x="280.2" y="432.8" width="5.4" height="5.2" fill="#5857fc"/><rect x="280.2" y="428.0" width="5.4" height="5.2" fill="#7e7cfa"/><rect x="280.2" y="423.2" width="5.4" height="5.2" fill="#dfdcf8"/><rect x="280.2" y="418.4" width="5.4" height="5.2" fill="#f3acb1"/><rect x="280.2" y="413.6" width="5.4" height="5.2" fill="#f4b2b7"/><rect x="280.2" y="408.8" width="5.4" height="5.2" fill="#f4b8bd"/><rect x="280.2" y="404.0" width="5.4" height="5.2" fill="#f4bec3"/><rect x="280.2" y="399.2" width="5.4" height="5.2" fill="#f5c4c9"/><rect x="280.2" y="394.4" width="5.4" height="5.2" fill="#f6d6da"/><rect x="280.2" y="389.6" width="5.4" height="5.2" fill="#f6e8eb"/><rect x="285.2" y="533.6" width="5.4" height="5.2" fill="#f3a6ab"/><rect x="285.2" y="528.8" width="5.4" height="5.2" fill="#f3a3a8"/><rect x="285.2" y="524.0" width="5.4" height="5.2" fill="#f2a0a5"/><rect x="285.2" y="519.2" width="5.4" height="5.2" fill="#f2a0a5"/><rect x="285.2" y="514.4" width="5.4" height="5.2" fill="#f2a0a5"/><rect x="285.2" y="509.6" width="5.4" height="5.2" fill="#f2a0a5"/><rect x="285.2" y="504.8" width="5.4" height="5.2" fill="#f2a0a5"/><rect x="285.2" y="500.0" width="5.4" height="5.2" fill="#f3a3a8"/><rect x="285.2" y="495.2" width="5.4" height="5.2" fill="#f3a6ab"/><rect x="285.2" y="490.4" width="5.4" height="5.2" fill="#f4bec3"/><rect x="285.2" y="485.6" width="5.4" height="5.2" fill="#f6d6da"/><rect x="285.2" y="480.8" width="5.4" height="5.2" fill="#f4bec3"/><rect x="285.2" y="476.0" width="5.4" height="5.2" fill="#f3a6ab"/><rect x="285.2" y="471.2" width="5.4" height="5.2" fill="#f2a0a5"/><rect x="285.2" y="466.4" width="5.4" height="5.2" fill="#f29aa0"/><rect x="285.2" y="461.6" width="5.4" height="5.2" fill="#f29aa0"/><rect x="285.2" y="456.8" width="5.4" height="5.2" fill="#f29aa0"/><rect x="285.2" y="452.0" width="5.4" height="5.2" fill="#f4bec3"/><rect x="285.2" y="447.2" width="5.4" height="5.2" fill="#f6e2e6"/><rect x="285.2" y="442.4" width="5.4" height="5.2" fill="#e5e2f7"/><rect x="285.2" y="437.6" width="5.4" height="5.2" fill="#c1bef8"/><rect x="285.2" y="432.8" width="5.4" height="5.2" fill="#d3d0f8"/><rect x="285.2" y="428.0" width="5.4" height="5.2" fill="#e5e2f7"/><rect x="285.2" y="423.2" width="5.4" height="5.2" fill="#f5d0d4"/><rect x="285.2" y="418.4" width="5.4" height="5.2" fill="#f29aa0"/><rect x="285.2" y="413.6" width="5.4" height="5.2" fill="#f29da2"/><rect x="285.2" y="408.8" width="5.4" height="5.2" fill="#f2a0a5"/><rect x="285.2" y="404.0" width="5.4" height="5.2" fill="#f3a3a8"/><rect x="285.2" y="399.2" width="5.4" height="5.2" fill="#f3a6ab"/><rect x="285.2" y="394.4" width="5.4" height="5.2" fill="#f4b2b7"/><rect x="285.2" y="389.6" width="5.4" height="5.2" fill="#f4bec3"/><rect x="290.2" y="533.6" width="5.4" height="5.2" fill="#f2a0a5"/><rect x="290.2" y="528.8" width="5.4" height="5.2" fill="#f2a0a5"/><rect x="290.2" y="524.0" width="5.4" height="5.2" fill="#f2a0a5"/><rect x="290.2" y="519.2" width="5.4" height="5.2" fill="#f29aa0"/><rect x="290.2" y="514.4" width="5.4" height="5.2" fill="#f2949a"/><rect x="290.2" y="509.6" width="5.4" height="5.2" fill="#f29aa0"/><rect x="290.2" y="504.8" width="5.4" height="5.2" fill="#f2a0a5"/><rect x="290.2" y="500.0" width="5.4" height="5.2" fill="#f2a0a5"/><rect x="290.2" y="495.2" width="5.4" height="5.2" fill="#f2a0a5"/><rect x="290.2" y="490.4" width="5.4" height="5.2" fill="#f5cace"/><rect x="290.2" y="485.6" width="5.4" height="5.2" fill="#f7f4f7"/><rect x="290.2" y="480.8" width="5.4" height="5.2" fill="#f5cace"/><rect x="290.2" y="476.0" width="5.4" height="5.2" fill="#f2a0a5"/><rect x="290.2" y="471.2" width="5.4" height="5.2" fill="#f29aa0"/><rect x="290.2" y="466.4" width="5.4" height="5.2" fill="#f2949a"/><rect x="290.2" y="461.6" width="5.4" height="5.2" fill="#f2949a"/><rect x="290.2" y="456.8" width="5.4" height="5.2" fill="#f2949a"/><rect x="290.2" y="452.0" width="5.4" height="5.2" fill="#f29aa0"/><rect x="290.2" y="447.2" width="5.4" height="5.2" fill="#f2a0a5"/><rect x="290.2" y="442.4" width="5.4" height="5.2" fill="#f2a0a5"/><rect x="290.2" y="437.6" width="5.4" height="5.2" fill="#f2a0a5"/><rect x="290.2" y="432.8" width="5.4" height="5.2" fill="#f2a0a5"/><rect x="290.2" y="428.0" width="5.4" height="5.2" fill="#f2a0a5"/><rect x="290.2" y="423.2" width="5.4" height="5.2" fill="#f2949a"/><rect x="290.2" y="418.4" width="5.4" height="5.2" fill="#f1888e"/><rect x="290.2" y="413.6" width="5.4" height="5.2" fill="#f1888e"/><rect x="290.2" y="408.8" width="5.4" height="5.2" fill="#f1888e"/><rect x="290.2" y="404.0" width="5.4" height="5.2" fill="#f1888e"/><rect x="290.2" y="399.2" width="5.4" height="5.2" fill="#f1888e"/><rect x="290.2" y="394.4" width="5.4" height="5.2" fill="#f18e94"/><rect x="290.2" y="389.6" width="5.4" height="5.2" fill="#f2949a"/><rect x="295.3" y="533.6" width="5.4" height="5.2" fill="#f2949a"/><rect x="295.3" y="528.8" width="5.4" height="5.2" fill="#f2949a"/><rect x="295.3" y="524.0" width="5.4" height="5.2" fill="#f2949a"/><rect x="295.3" y="519.2" width="5.4" height="5.2" fill="#f19197"/><rect x="295.3" y="514.4" width="5.4" height="5.2" fill="#f18e94"/><rect x="295.3" y="509.6" width="5.4" height="5.2" fill="#f19197"/><rect x="295.3" y="504.8" width="5.4" height="5.2" fill="#f2949a"/><rect x="295.3" y="500.0" width="5.4" height="5.2" fill="#f2979d"/><rect x="295.3" y="495.2" width="5.4" height="5.2" fill="#f29aa0"/><rect x="295.3" y="490.4" width="5.4" height="5.2" fill="#f3afb4"/><rect x="295.3" y="485.6" width="5.4" height="5.2" fill="#f5c4c9"/><rect x="295.3" y="480.8" width="5.4" height="5.2" fill="#f3afb4"/><rect x="295.3" y="476.0" width="5.4" height="5.2" fill="#f29aa0"/><rect x="295.3" y="471.2" width="5.4" height="5.2" fill="#f2949a"/><rect x="295.3" y="466.4" width="5.4" height="5.2" fill="#f18e94"/><rect x="295.3" y="461.6" width="5.4" height="5.2" fill="#f18e94"/><rect x="295.3" y="456.8" width="5.4" height="5.2" fill="#f18e94"/><rect x="295.3" y="452.0" width="5.4" height="5.2" fill="#f29aa0"/><rect x="295.3" y="447.2" width="5.4" height="5.2" fill="#f3a6ab"/><rect x="295.3" y="442.4" width="5.4" height="5.2" fill="#f4b5ba"/><rect x="295.3" y="437.6" width="5.4" height="5.2" fill="#f5c4c9"/><rect x="295.3" y="432.8" width="5.4" height="5.2" fill="#f4b2b7"/><rect x="295.3" y="428.0" width="5.4" height="5.2" fill="#f2a0a5"/><rect x="295.3" y="423.2" width="5.4" height="5.2" fill="#f29aa0"/><rect x="295.3" y="418.4" width="5.4" height="5.2" fill="#f2949a"/><rect x="295.3" y="413.6" width="5.4" height="5.2" fill="#f2949a"/><rect x="295.3" y="408.8" width="5.4" height="5.2" fill="#f2949a"/><rect x="295.3" y="404.0" width="5.4" height="5.2" fill="#f3a6ab"/><rect x="295.3" y="399.2" width="5.4" height="5.2" fill="#f4b8bd"/><rect x="295.3" y="394.4" width="5.4" height="5.2" fill="#f6d6da"/><rect x="295.3" y="389.6" width="5.4" height="5.2" fill="#f7f4f7"/><rect x="300.3" y="533.6" width="5.4" height="5.2" fill="#f1888e"/><rect x="300.3" y="528.8" width="5.4" height="5.2" fill="#f1888e"/><rect x="300.3" y="524.0" width="5.4" height="5.2" fill="#f1888e"/><rect x="300.3" y="519.2" width="5.4" height="5.2" fill="#f1888e"/><rect x="300.3" y="514.4" width="5.4" height="5.2" fill="#f1888e"/><rect x="300.3" y="509.6" width="5.4" height="5.2" fill="#f1888e"/><rect x="300.3" y="504.8" width="5.4" height="5.2" fill="#f1888e"/><rect x="300.3" y="500.0" width="5.4" height="5.2" fill="#f18e94"/><rect x="300.3" y="495.2" width="5.4" height="5.2" fill="#f2949a"/><rect x="300.3" y="490.4" width="5.4" height="5.2" fill="#f2949a"/><rect x="300.3" y="485.6" width="5.4" height="5.2" fill="#f2949a"/><rect x="300.3" y="480.8" width="5.4" height="5.2" fill="#f2949a"/><rect x="300.3" y="476.0" width="5.4" height="5.2" fill="#f2949a"/><rect x="300.3" y="471.2" width="5.4" height="5.2" fill="#f18e94"/><rect x="300.3" y="466.4" width="5.4" height="5.2" fill="#f1888e"/><rect x="300.3" y="461.6" width="5.4" height="5.2" fill="#f1888e"/><rect x="300.3" y="456.8" width="5.4" height="5.2" fill="#f1888e"/><rect x="300.3" y="452.0" width="5.4" height="5.2" fill="#f29aa0"/><rect x="300.3" y="447.2" width="5.4" height="5.2" fill="#f3acb1"/><rect x="300.3" y="442.4" width="5.4" height="5.2" fill="#f5cace"/><rect x="300.3" y="437.6" width="5.4" height="5.2" fill="#f6e8eb"/><rect x="300.3" y="432.8" width="5.4" height="5.2" fill="#f5c4c9"/><rect x="300.3" y="428.0" width="5.4" height="5.2" fill="#f2a0a5"/><rect x="300.3" y="423.2" width="5.4" height="5.2" fill="#f2a0a5"/><rect x="300.3" y="418.4" width="5.4" height="5.2" fill="#f2a0a5"/><rect x="300.3" y="413.6" width="5.4" height="5.2" fill="#f2a0a5"/><rect x="300.3" y="408.8" width="5.4" height="5.2" fill="#f2a0a5"/><rect x="300.3" y="404.0" width="5.4" height="5.2" fill="#f5c4c9"/><rect x="300.3" y="399.2" width="5.4" height="5.2" fill="#f6e8eb"/><rect x="300.3" y="394.4" width="5.4" height="5.2" fill="#cdcaf8"/><rect x="300.3" y="389.6" width="5.4" height="5.2" fill="#9694f9"/><rect x="305.3" y="533.6" width="5.4" height="5.2" fill="#f08288"/><rect x="305.3" y="528.8" width="5.4" height="5.2" fill="#f4b8bd"/><rect x="305.3" y="524.0" width="5.4" height="5.2" fill="#f7eef1"/><rect x="305.3" y="519.2" width="5.4" height="5.2" fill="#f7ebee"/><rect x="305.3" y="514.4" width="5.4" height="5.2" fill="#f6e8eb"/><rect x="305.3" y="509.6" width="5.4" height="5.2" fill="#f6e5e8"/><rect x="305.3" y="504.8" width="5.4" height="5.2" fill="#f6e2e6"/><rect x="305.3" y="500.0" width="5.4" height="5.2" fill="#f4bec3"/><rect x="305.3" y="495.2" width="5.4" height="5.2" fill="#f29aa0"/><rect x="305.3" y="490.4" width="5.4" height="5.2" fill="#f29aa0"/><rect x="305.3" y="485.6" width="5.4" height="5.2" fill="#f29aa0"/><rect x="305.3" y="480.8" width="5.4" height="5.2" fill="#f3afb4"/><rect x="305.3" y="476.0" width="5.4" height="5.2" fill="#f5c4c9"/><rect x="305.3" y="471.2" width="5.4" height="5.2" fill="#f3acb1"/><rect x="305.3" y="466.4" width="5.4" height="5.2" fill="#f2949a"/><rect x="305.3" y="461.6" width="5.4" height="5.2" fill="#f2949a"/><rect x="305.3" y="456.8" width="5.4" height="5.2" fill="#f2949a"/><rect x="305.3" y="452.0" width="5.4" height="5.2" fill="#f29da2"/><rect x="305.3" y="447.2" width="5.4" height="5.2" fill="#f3a6ab"/><rect x="305.3" y="442.4" width="5.4" height="5.2" fill="#f4b5ba"/><rect x="305.3" y="437.6" width="5.4" height="5.2" fill="#f5c4c9"/><rect x="305.3" y="432.8" width="5.4" height="5.2" fill="#f4b2b7"/><rect x="305.3" y="428.0" width="5.4" height="5.2" fill="#f2a0a5"/><rect x="305.3" y="423.2" width="5.4" height="5.2" fill="#f3a3a8"/><rect x="305.3" y="418.4" width="5.4" height="5.2" fill="#f3a6ab"/><rect x="305.3" y="413.6" width="5.4" height="5.2" fill="#f3afb4"/><rect x="305.3" y="408.8" width="5.4" height="5.2" fill="#f4b8bd"/><rect x="305.3" y="404.0" width="5.4" height="5.2" fill="#f4bec3"/><rect x="305.3" y="399.2" width="5.4" height="5.2" fill="#f5c4c9"/><rect x="305.3" y="394.4" width="5.4" height="5.2" fill="#f6dfe3"/><rect x="305.3" y="389.6" width="5.4" height="5.2" fill="#f1eef7"/><rect x="310.3" y="533.6" width="5.4" height="5.2" fill="#f07c82"/><rect x="310.3" y="528.8" width="5.4" height="5.2" fill="#f6e8eb"/><rect x="310.3" y="524.0" width="5.4" height="5.2" fill="#9694f9"/><rect x="310.3" y="519.2" width="5.4" height="5.2" fill="#9c9af9"/><rect x="310.3" y="514.4" width="5.4" height="5.2" fill="#a2a0f9"/><rect x="310.3" y="509.6" width="5.4" height="5.2" fill="#a8a6f9"/><rect x="310.3" y="504.8" width="5.4" height="5.2" fill="#aeacf9"/><rect x="310.3" y="500.0" width="5.4" height="5.2" fill="#f7eef1"/><rect x="310.3" y="495.2" width="5.4" height="5.2" fill="#f2a0a5"/><rect x="310.3" y="490.4" width="5.4" height="5.2" fill="#f2a0a5"/><rect x="310.3" y="485.6" width="5.4" height="5.2" fill="#f2a0a5"/><rect x="310.3" y="480.8" width="5.4" height="5.2" fill="#f5cace"/><rect x="310.3" y="476.0" width="5.4" height="5.2" fill="#f7f4f7"/><rect x="310.3" y="471.2" width="5.4" height="5.2" fill="#f5cace"/><rect x="310.3" y="466.4" width="5.4" height="5.2" fill="#f2a0a5"/><rect x="310.3" y="461.6" width="5.4" height="5.2" fill="#f2a0a5"/><rect x="310.3" y="456.8" width="5.4" height="5.2" fill="#f2a0a5"/><rect x="310.3" y="452.0" width="5.4" height="5.2" fill="#f2a0a5"/><rect x="310.3" y="447.2" width="5.4" height="5.2" fill="#f2a0a5"/><rect x="310.3" y="442.4" width="5.4" height="5.2" fill="#f2a0a5"/><rect x="310.3" y="437.6" width="5.4" height="5.2" fill="#f2a0a5"/><rect x="310.3" y="432.8" width="5.4" height="5.2" fill="#f2a0a5"/><rect x="310.3" y="428.0" width="5.4" height="5.2" fill="#f2a0a5"/><rect x="310.3" y="423.2" width="5.4" height="5.2" fill="#f3a6ab"/><rect x="310.3" y="418.4" width="5.4" height="5.2" fill="#f3acb1"/><rect x="310.3" y="413.6" width="5.4" height="5.2" fill="#f4bec3"/><rect x="310.3" y="408.8" width="5.4" height="5.2" fill="#f5d0d4"/><rect x="310.3" y="404.0" width="5.4" height="5.2" fill="#f4b8bd"/><rect x="310.3" y="399.2" width="5.4" height="5.2" fill="#f2a0a5"/><rect x="310.3" y="394.4" width="5.4" height="5.2" fill="#f2a0a5"/><rect x="310.3" y="389.6" width="5.4" height="5.2" fill="#f2a0a5"/><rect x="315.3" y="533.6" width="5.4" height="5.2" fill="#f6e8eb"/><rect x="315.3" y="528.8" width="5.4" height="5.2" fill="#c7c4f8"/><rect x="315.3" y="524.0" width="5.4" height="5.2" fill="#8a88fa"/><rect x="315.3" y="519.2" width="5.4" height="5.2" fill="#9391f9"/><rect x="315.3" y="514.4" width="5.4" height="5.2" fill="#9c9af9"/><rect x="315.3" y="509.6" width="5.4" height="5.2" fill="#a2a0f9"/><rect x="315.3" y="504.8" width="5.4" height="5.2" fill="#a8a6f9"/><rect x="315.3" y="500.0" width="5.4" height="5.2" fill="#f7f4f7"/><rect x="315.3" y="495.2" width="5.4" height="5.2" fill="#f3a6ab"/><rect x="315.3" y="490.4" width="5.4" height="5.2" fill="#f3a3a8"/><rect x="315.3" y="485.6" width="5.4" height="5.2" fill="#f2a0a5"/><rect x="315.3" y="480.8" width="5.4" height="5.2" fill="#f4b8bd"/><rect x="315.3" y="476.0" width="5.4" height="5.2" fill="#f5d0d4"/><rect x="315.3" y="471.2" width="5.4" height="5.2" fill="#f5cace"/><rect x="315.3" y="466.4" width="5.4" height="5.2" fill="#f5c4c9"/><rect x="315.3" y="461.6" width="5.4" height="5.2" fill="#f4b2b7"/><rect x="315.3" y="456.8" width="5.4" height="5.2" fill="#f2a0a5"/><rect x="315.3" y="452.0" width="5.4" height="5.2" fill="#f3a6ab"/><rect x="315.3" y="447.2" width="5.4" height="5.2" fill="#f3acb1"/><rect x="315.3" y="442.4" width="5.4" height="5.2" fill="#f3afb4"/><rect x="315.3" y="437.6" width="5.4" height="5.2" fill="#f4b2b7"/><rect x="315.3" y="432.8" width="5.4" height="5.2" fill="#f3acb1"/><rect x="315.3" y="428.0" width="5.4" height="5.2" fill="#f3a6ab"/><rect x="315.3" y="423.2" width="5.4" height="5.2" fill="#f3a6ab"/><rect x="315.3" y="418.4" width="5.4" height="5.2" fill="#f3a6ab"/><rect x="315.3" y="413.6" width="5.4" height="5.2" fill="#f4b2b7"/><rect x="315.3" y="408.8" width="5.4" height="5.2" fill="#f4bec3"/><rect x="315.3" y="404.0" width="5.4" height="5.2" fill="#f4b2b7"/><rect x="315.3" y="399.2" width="5.4" height="5.2" fill="#f3a6ab"/><rect x="315.3" y="394.4" width="5.4" height="5.2" fill="#f3a6ab"/><rect x="315.3" y="389.6" width="5.4" height="5.2" fill="#f3a6ab"/><rect x="320.3" y="533.6" width="5.4" height="5.2" fill="#9694f9"/><rect x="320.3" y="528.8" width="5.4" height="5.2" fill="#8a88fa"/><rect x="320.3" y="524.0" width="5.4" height="5.2" fill="#7e7cfa"/><rect x="320.3" y="519.2" width="5.4" height="5.2" fill="#8a88fa"/><rect x="320.3" y="514.4" width="5.4" height="5.2" fill="#9694f9"/><rect x="320.3" y="509.6" width="5.4" height="5.2" fill="#9c9af9"/><rect x="320.3" y="504.8" width="5.4" height="5.2" fill="#a2a0f9"/><rect x="320.3" y="500.0" width="5.4" height="5.2" fill="#f1eef7"/><rect x="320.3" y="495.2" width="5.4" height="5.2" fill="#f3acb1"/><rect x="320.3" y="490.4" width="5.4" height="5.2" fill="#f3a6ab"/><rect x="320.3" y="485.6" width="5.4" height="5.2" fill="#f2a0a5"/><rect x="320.3" y="480.8" width="5.4" height="5.2" fill="#f3a6ab"/><rect x="320.3" y="476.0" width="5.4" height="5.2" fill="#f3acb1"/><rect x="320.3" y="471.2" width="5.4" height="5.2" fill="#f5cace"/><rect x="320.3" y="466.4" width="5.4" height="5.2" fill="#f6e8eb"/><rect x="320.3" y="461.6" width="5.4" height="5.2" fill="#f5c4c9"/><rect x="320.3" y="456.8" width="5.4" height="5.2" fill="#f2a0a5"/><rect x="320.3" y="452.0" width="5.4" height="5.2" fill="#f3acb1"/><rect x="320.3" y="447.2" width="5.4" height="5.2" fill="#f4b8bd"/><rect x="320.3" y="442.4" width="5.4" height="5.2" fill="#f4bec3"/><rect x="320.3" y="437.6" width="5.4" height="5.2" fill="#f5c4c9"/><rect x="320.3" y="432.8" width="5.4" height="5.2" fill="#f4b8bd"/><rect x="320.3" y="428.0" width="5.4" height="5.2" fill="#f3acb1"/><rect x="320.3" y="423.2" width="5.4" height="5.2" fill="#f3a6ab"/><rect x="320.3" y="418.4" width="5.4" height="5.2" fill="#f2a0a5"/><rect x="320.3" y="413.6" width="5.4" height="5.2" fill="#f3a6ab"/><rect x="320.3" y="408.8" width="5.4" height="5.2" fill="#f3acb1"/><rect x="320.3" y="404.0" width="5.4" height="5.2" fill="#f3acb1"/><rect x="320.3" y="399.2" width="5.4" height="5.2" fill="#f3acb1"/><rect x="320.3" y="394.4" width="5.4" height="5.2" fill="#f3acb1"/><rect x="320.3" y="389.6" width="5.4" height="5.2" fill="#f3acb1"/><rect x="325.3" y="533.6" width="5.4" height="5.2" fill="#cdcaf8"/><rect x="325.3" y="528.8" width="5.4" height="5.2" fill="#bebbf8"/><rect x="325.3" y="524.0" width="5.4" height="5.2" fill="#aeacf9"/><rect x="325.3" y="519.2" width="5.4" height="5.2" fill="#9c9af9"/><rect x="325.3" y="514.4" width="5.4" height="5.2" fill="#8a88fa"/><rect x="325.3" y="509.6" width="5.4" height="5.2" fill="#908efa"/><rect x="325.3" y="504.8" width="5.4" height="5.2" fill="#9694f9"/><rect x="325.3" y="500.0" width="5.4" height="5.2" fill="#b7b5f9"/><rect x="325.3" y="495.2" width="5.4" height="5.2" fill="#d9d6f8"/><rect x="325.3" y="490.4" width="5.4" height="5.2" fill="#dfdcf8"/><rect x="325.3" y="485.6" width="5.4" height="5.2" fill="#e5e2f7"/><rect x="325.3" y="480.8" width="5.4" height="5.2" fill="#dfdcf8"/><rect x="325.3" y="476.0" width="5.4" height="5.2" fill="#d9d6f8"/><rect x="325.3" y="471.2" width="5.4" height="5.2" fill="#d6d3f8"/><rect x="325.3" y="466.4" width="5.4" height="5.2" fill="#d3d0f8"/><rect x="325.3" y="461.6" width="5.4" height="5.2" fill="#f6dce0"/><rect x="325.3" y="456.8" width="5.4" height="5.2" fill="#f2a0a5"/><rect x="325.3" y="452.0" width="5.4" height="5.2" fill="#f3a6ab"/><rect x="325.3" y="447.2" width="5.4" height="5.2" fill="#f3acb1"/><rect x="325.3" y="442.4" width="5.4" height="5.2" fill="#f3afb4"/><rect x="325.3" y="437.6" width="5.4" height="5.2" fill="#f4b2b7"/><rect x="325.3" y="432.8" width="5.4" height="5.2" fill="#f3acb1"/><rect x="325.3" y="428.0" width="5.4" height="5.2" fill="#f3a6ab"/><rect x="325.3" y="423.2" width="5.4" height="5.2" fill="#f3a9ae"/><rect x="325.3" y="418.4" width="5.4" height="5.2" fill="#f3acb1"/><rect x="325.3" y="413.6" width="5.4" height="5.2" fill="#f4b8bd"/><rect x="325.3" y="408.8" width="5.4" height="5.2" fill="#f5c4c9"/><rect x="325.3" y="404.0" width="5.4" height="5.2" fill="#f4b8bd"/><rect x="325.3" y="399.2" width="5.4" height="5.2" fill="#f3acb1"/><rect x="325.3" y="394.4" width="5.4" height="5.2" fill="#f3acb1"/><rect x="325.3" y="389.6" width="5.4" height="5.2" fill="#f3acb1"/><rect x="330.3" y="533.6" width="5.4" height="5.2" fill="#f6e8eb"/><rect x="330.3" y="528.8" width="5.4" height="5.2" fill="#f1eef7"/><rect x="330.3" y="524.0" width="5.4" height="5.2" fill="#dfdcf8"/><rect x="330.3" y="519.2" width="5.4" height="5.2" fill="#aeacf9"/><rect x="330.3" y="514.4" width="5.4" height="5.2" fill="#7e7cfa"/><rect x="330.3" y="509.6" width="5.4" height="5.2" fill="#8482fa"/><rect x="330.3" y="504.8" width="5.4" height="5.2" fill="#8a88fa"/><rect x="330.3" y="500.0" width="5.4" height="5.2" fill="#7e7cfa"/><rect x="330.3" y="495.2" width="5.4" height="5.2" fill="#7170fa"/><rect x="330.3" y="490.4" width="5.4" height="5.2" fill="#7876fa"/><rect x="330.3" y="485.6" width="5.4" height="5.2" fill="#7e7cfa"/><rect x="330.3" y="480.8" width="5.4" height="5.2" fill="#7876fa"/><rect x="330.3" y="476.0" width="5.4" height="5.2" fill="#7170fa"/><rect x="330.3" y="471.2" width="5.4" height="5.2" fill="#8a88fa"/><rect x="330.3" y="466.4" width="5.4" height="5.2" fill="#a2a0f9"/><rect x="330.3" y="461.6" width="5.4" height="5.2" fill="#f7f4f7"/><rect x="330.3" y="456.8" width="5.4" height="5.2" fill="#f2a0a5"/><rect x="330.3" y="452.0" width="5.4" height="5.2" fill="#f2a0a5"/><rect x="330.3" y="447.2" width="5.4" height="5.2" fill="#f2a0a5"/><rect x="330.3" y="442.4" width="5.4" height="5.2" fill="#f2a0a5"/><rect x="330.3" y="437.6" width="5.4" height="5.2" fill="#f2a0a5"/><rect x="330.3" y="432.8" width="5.4" height="5.2" fill="#f2a0a5"/><rect x="330.3" y="428.0" width="5.4" height="5.2" fill="#f2a0a5"/><rect x="330.3" y="423.2" width="5.4" height="5.2" fill="#f3acb1"/><rect x="330.3" y="418.4" width="5.4" height="5.2" fill="#f4b8bd"/><rect x="330.3" y="413.6" width="5.4" height="5.2" fill="#f5cace"/><rect x="330.3" y="408.8" width="5.4" height="5.2" fill="#f6dce0"/><rect x="330.3" y="404.0" width="5.4" height="5.2" fill="#f5c4c9"/><rect x="330.3" y="399.2" width="5.4" height="5.2" fill="#f3acb1"/><rect x="330.3" y="394.4" width="5.4" height="5.2" fill="#f3acb1"/><rect x="330.3" y="389.6" width="5.4" height="5.2" fill="#f3acb1"/><rect x="335.3" y="533.6" width="5.4" height="5.2" fill="#f6d6da"/><rect x="335.3" y="528.8" width="5.4" height="5.2" fill="#f6d9dd"/><rect x="335.3" y="524.0" width="5.4" height="5.2" fill="#f6dce0"/><rect x="335.3" y="519.2" width="5.4" height="5.2" fill="#f7f4f7"/><rect x="335.3" y="514.4" width="5.4" height="5.2" fill="#dfdcf8"/><rect x="335.3" y="509.6" width="5.4" height="5.2" fill="#e2dff8"/><rect x="335.3" y="504.8" width="5.4" height="5.2" fill="#e5e2f7"/><rect x="335.3" y="500.0" width="5.4" height="5.2" fill="#dfdcf8"/><rect x="335.3" y="495.2" width="5.4" height="5.2" fill="#d9d6f8"/><rect x="335.3" y="490.4" width="5.4" height="5.2" fill="#cac7f8"/><rect x="335.3" y="485.6" width="5.4" height="5.2" fill="#bab8f8"/><rect x="335.3" y="480.8" width="5.4" height="5.2" fill="#a2a0f9"/><rect x="335.3" y="476.0" width="5.4" height="5.2" fill="#8a88fa"/><rect x="335.3" y="471.2" width="5.4" height="5.2" fill="#aeacf9"/><rect x="335.3" y="466.4" width="5.4" height="5.2" fill="#d3d0f8"/><rect x="335.3" y="461.6" width="5.4" height="5.2" fill="#f7f1f4"/><rect x="335.3" y="456.8" width="5.4" height="5.2" fill="#f5cace"/><rect x="335.3" y="452.0" width="5.4" height="5.2" fill="#f4b2b7"/><rect x="335.3" y="447.2" width="5.4" height="5.2" fill="#f29aa0"/><rect x="335.3" y="442.4" width="5.4" height="5.2" fill="#f2a0a5"/><rect x="335.3" y="437.6" width="5.4" height="5.2" fill="#f3a6ab"/><rect x="335.3" y="432.8" width="5.4" height="5.2" fill="#f3a6ab"/><rect x="335.3" y="428.0" width="5.4" height="5.2" fill="#f3a6ab"/><rect x="335.3" y="423.2" width="5.4" height="5.2" fill="#f3a9ae"/><rect x="335.3" y="418.4" width="5.4" height="5.2" fill="#f3acb1"/><rect x="335.3" y="413.6" width="5.4" height="5.2" fill="#f4b8bd"/><rect x="335.3" y="408.8" width="5.4" height="5.2" fill="#f5c4c9"/><rect x="335.3" y="404.0" width="5.4" height="5.2" fill="#f5c4c9"/><rect x="335.3" y="399.2" width="5.4" height="5.2" fill="#f5c4c9"/><rect x="335.3" y="394.4" width="5.4" height="5.2" fill="#f4c1c6"/><rect x="335.3" y="389.6" width="5.4" height="5.2" fill="#f4bec3"/><rect x="340.3" y="533.6" width="5.4" height="5.2" fill="#f5c4c9"/><rect x="340.3" y="528.8" width="5.4" height="5.2" fill="#f4b8bd"/><rect x="340.3" y="524.0" width="5.4" height="5.2" fill="#f3acb1"/><rect x="340.3" y="519.2" width="5.4" height="5.2" fill="#f3acb1"/><rect x="340.3" y="514.4" width="5.4" height="5.2" fill="#f3acb1"/><rect x="340.3" y="509.6" width="5.4" height="5.2" fill="#f3acb1"/><rect x="340.3" y="504.8" width="5.4" height="5.2" fill="#f3acb1"/><rect x="340.3" y="500.0" width="5.4" height="5.2" fill="#f3acb1"/><rect x="340.3" y="495.2" width="5.4" height="5.2" fill="#f3acb1"/><rect x="340.3" y="490.4" width="5.4" height="5.2" fill="#f5d0d4"/><rect x="340.3" y="485.6" width="5.4" height="5.2" fill="#f7f4f7"/><rect x="340.3" y="480.8" width="5.4" height="5.2" fill="#cdcaf8"/><rect x="340.3" y="476.0" width="5.4" height="5.2" fill="#a2a0f9"/><rect x="340.3" y="471.2" width="5.4" height="5.2" fill="#d3d0f8"/><rect x="340.3" y="466.4" width="5.4" height="5.2" fill="#f6e8eb"/><rect x="340.3" y="461.6" width="5.4" height="5.2" fill="#f7eef1"/><rect x="340.3" y="456.8" width="5.4" height="5.2" fill="#f7f4f7"/><rect x="340.3" y="452.0" width="5.4" height="5.2" fill="#f5c4c9"/><rect x="340.3" y="447.2" width="5.4" height="5.2" fill="#f2949a"/><rect x="340.3" y="442.4" width="5.4" height="5.2" fill="#f2a0a5"/><rect x="340.3" y="437.6" width="5.4" height="5.2" fill="#f3acb1"/><rect x="340.3" y="432.8" width="5.4" height="5.2" fill="#f3acb1"/><rect x="340.3" y="428.0" width="5.4" height="5.2" fill="#f3acb1"/><rect x="340.3" y="423.2" width="5.4" height="5.2" fill="#f3a6ab"/><rect x="340.3" y="418.4" width="5.4" height="5.2" fill="#f2a0a5"/><rect x="340.3" y="413.6" width="5.4" height="5.2" fill="#f3a6ab"/><rect x="340.3" y="408.8" width="5.4" height="5.2" fill="#f3acb1"/><rect x="340.3" y="404.0" width="5.4" height="5.2" fill="#f5c4c9"/><rect x="340.3" y="399.2" width="5.4" height="5.2" fill="#f6dce0"/><rect x="340.3" y="394.4" width="5.4" height="5.2" fill="#f6d6da"/><rect x="340.3" y="389.6" width="5.4" height="5.2" fill="#f5d0d4"/><rect x="345.3" y="533.6" width="5.4" height="5.2" fill="#f6d6da"/><rect x="345.3" y="528.8" width="5.4" height="5.2" fill="#f4bec3"/><rect x="345.3" y="524.0" width="5.4" height="5.2" fill="#f3a6ab"/><rect x="345.3" y="519.2" width="5.4" height="5.2" fill="#f3a3a8"/><rect x="345.3" y="514.4" width="5.4" height="5.2" fill="#f2a0a5"/><rect x="345.3" y="509.6" width="5.4" height="5.2" fill="#f2a0a5"/><rect x="345.3" y="504.8" width="5.4" height="5.2" fill="#f2a0a5"/><rect x="345.3" y="500.0" width="5.4" height="5.2" fill="#f3a3a8"/><rect x="345.3" y="495.2" width="5.4" height="5.2" fill="#f3a6ab"/><rect x="345.3" y="490.4" width="5.4" height="5.2" fill="#f6e8eb"/><rect x="345.3" y="485.6" width="5.4" height="5.2" fill="#c1bef8"/><rect x="345.3" y="480.8" width="5.4" height="5.2" fill="#d9d6f8"/><rect x="345.3" y="476.0" width="5.4" height="5.2" fill="#f1eef7"/><rect x="345.3" y="471.2" width="5.4" height="5.2" fill="#f6dfe3"/><rect x="345.3" y="466.4" width="5.4" height="5.2" fill="#f5c4c9"/><rect x="345.3" y="461.6" width="5.4" height="5.2" fill="#f5cace"/><rect x="345.3" y="456.8" width="5.4" height="5.2" fill="#f5d0d4"/><rect x="345.3" y="452.0" width="5.4" height="5.2" fill="#f4b8bd"/><rect x="345.3" y="447.2" width="5.4" height="5.2" fill="#f2a0a5"/><rect x="345.3" y="442.4" width="5.4" height="5.2" fill="#f3a6ab"/><rect x="345.3" y="437.6" width="5.4" height="5.2" fill="#f3acb1"/><rect x="345.3" y="432.8" width="5.4" height="5.2" fill="#f3a9ae"/><rect x="345.3" y="428.0" width="5.4" height="5.2" fill="#f3a6ab"/><rect x="345.3" y="423.2" width="5.4" height="5.2" fill="#f29da2"/><rect x="345.3" y="418.4" width="5.4" height="5.2" fill="#f2949a"/><rect x="345.3" y="413.6" width="5.4" height="5.2" fill="#f3a3a8"/><rect x="345.3" y="408.8" width="5.4" height="5.2" fill="#f4b2b7"/><rect x="345.3" y="404.0" width="5.4" height="5.2" fill="#f6dfe3"/><rect x="345.3" y="399.2" width="5.4" height="5.2" fill="#dfdcf8"/><rect x="345.3" y="394.4" width="5.4" height="5.2" fill="#eeebf7"/><rect x="345.3" y="389.6" width="5.4" height="5.2" fill="#f7eef1"/><rect x="350.3" y="533.6" width="5.4" height="5.2" fill="#f6e8eb"/><rect x="350.3" y="528.8" width="5.4" height="5.2" fill="#f5c4c9"/><rect x="350.3" y="524.0" width="5.4" height="5.2" fill="#f2a0a5"/><rect x="350.3" y="519.2" width="5.4" height="5.2" fill="#f29aa0"/><rect x="350.3" y="514.4" width="5.4" height="5.2" fill="#f2949a"/><rect x="350.3" y="509.6" width="5.4" height="5.2" fill="#f2949a"/><rect x="350.3" y="504.8" width="5.4" height="5.2" fill="#f2949a"/><rect x="350.3" y="500.0" width="5.4" height="5.2" fill="#f29aa0"/><rect x="350.3" y="495.2" width="5.4" height="5.2" fill="#f2a0a5"/><rect x="350.3" y="490.4" width="5.4" height="5.2" fill="#ebe8f7"/><rect x="350.3" y="485.6" width="5.4" height="5.2" fill="#8a88fa"/><rect x="350.3" y="480.8" width="5.4" height="5.2" fill="#e5e2f7"/><rect x="350.3" y="476.0" width="5.4" height="5.2" fill="#f3acb1"/><rect x="350.3" y="471.2" width="5.4" height="5.2" fill="#f3a6ab"/><rect x="350.3" y="466.4" width="5.4" height="5.2" fill="#f2a0a5"/><rect x="350.3" y="461.6" width="5.4" height="5.2" fill="#f3a6ab"/><rect x="350.3" y="456.8" width="5.4" height="5.2" fill="#f3acb1"/><rect x="350.3" y="452.0" width="5.4" height="5.2" fill="#f3acb1"/><rect x="350.3" y="447.2" width="5.4" height="5.2" fill="#f3acb1"/><rect x="350.3" y="442.4" width="5.4" height="5.2" fill="#f3acb1"/><rect x="350.3" y="437.6" width="5.4" height="5.2" fill="#f3acb1"/><rect x="350.3" y="432.8" width="5.4" height="5.2" fill="#f3a6ab"/><rect x="350.3" y="428.0" width="5.4" height="5.2" fill="#f2a0a5"/><rect x="350.3" y="423.2" width="5.4" height="5.2" fill="#f2949a"/><rect x="350.3" y="418.4" width="5.4" height="5.2" fill="#f1888e"/><rect x="350.3" y="413.6" width="5.4" height="5.2" fill="#f2a0a5"/><rect x="350.3" y="408.8" width="5.4" height="5.2" fill="#f4b8bd"/><rect x="350.3" y="404.0" width="5.4" height="5.2" fill="#f1eef7"/><rect x="350.3" y="399.2" width="5.4" height="5.2" fill="#aeacf9"/><rect x="350.3" y="394.4" width="5.4" height="5.2" fill="#c7c4f8"/><rect x="350.3" y="389.6" width="5.4" height="5.2" fill="#dfdcf8"/><rect x="355.3" y="533.6" width="5.4" height="5.2" fill="#f1eef7"/><rect x="355.3" y="528.8" width="5.4" height="5.2" fill="#f5d0d4"/><rect x="355.3" y="524.0" width="5.4" height="5.2" fill="#f3a6ab"/><rect x="355.3" y="519.2" width="5.4" height="5.2" fill="#f3a3a8"/><rect x="355.3" y="514.4" width="5.4" height="5.2" fill="#f2a0a5"/><rect x="355.3" y="509.6" width="5.4" height="5.2" fill="#f2a0a5"/><rect x="355.3" y="504.8" width="5.4" height="5.2" fill="#f2a0a5"/><rect x="355.3" y="500.0" width="5.4" height="5.2" fill="#f3a3a8"/><rect x="355.3" y="495.2" width="5.4" height="5.2" fill="#f3a6ab"/><rect x="355.3" y="490.4" width="5.4" height="5.2" fill="#f6e5e8"/><rect x="355.3" y="485.6" width="5.4" height="5.2" fill="#c7c4f8"/><rect x="355.3" y="480.8" width="5.4" height="5.2" fill="#f6e8eb"/><rect x="355.3" y="476.0" width="5.4" height="5.2" fill="#f3acb1"/><rect x="355.3" y="471.2" width="5.4" height="5.2" fill="#f3a6ab"/><rect x="355.3" y="466.4" width="5.4" height="5.2" fill="#f2a0a5"/><rect x="355.3" y="461.6" width="5.4" height="5.2" fill="#f29da2"/><rect x="355.3" y="456.8" width="5.4" height="5.2" fill="#f29aa0"/><rect x="355.3" y="452.0" width="5.4" height="5.2" fill="#f3a6ab"/><rect x="355.3" y="447.2" width="5.4" height="5.2" fill="#f4b2b7"/><rect x="355.3" y="442.4" width="5.4" height="5.2" fill="#f3acb1"/><rect x="355.3" y="437.6" width="5.4" height="5.2" fill="#f3a6ab"/><rect x="355.3" y="432.8" width="5.4" height="5.2" fill="#f3a3a8"/><rect x="355.3" y="428.0" width="5.4" height="5.2" fill="#f2a0a5"/><rect x="355.3" y="423.2" width="5.4" height="5.2" fill="#f29aa0"/><rect x="355.3" y="418.4" width="5.4" height="5.2" fill="#f2949a"/><rect x="355.3" y="413.6" width="5.4" height="5.2" fill="#f4b5ba"/><rect x="355.3" y="408.8" width="5.4" height="5.2" fill="#f6d6da"/><rect x="355.3" y="404.0" width="5.4" height="5.2" fill="#e8e5f7"/><rect x="355.3" y="399.2" width="5.4" height="5.2" fill="#bab8f8"/><rect x="355.3" y="394.4" width="5.4" height="5.2" fill="#d6d3f8"/><rect x="355.3" y="389.6" width="5.4" height="5.2" fill="#f1eef7"/><rect x="360.3" y="533.6" width="5.4" height="5.2" fill="#dfdcf8"/><rect x="360.3" y="528.8" width="5.4" height="5.2" fill="#f6dce0"/><rect x="360.3" y="524.0" width="5.4" height="5.2" fill="#f3acb1"/><rect x="360.3" y="519.2" width="5.4" height="5.2" fill="#f3acb1"/><rect x="360.3" y="514.4" width="5.4" height="5.2" fill="#f3acb1"/><rect x="360.3" y="509.6" width="5.4" height="5.2" fill="#f3acb1"/><rect x="360.3" y="504.8" width="5.4" height="5.2" fill="#f3acb1"/><rect x="360.3" y="500.0" width="5.4" height="5.2" fill="#f3acb1"/><rect x="360.3" y="495.2" width="5.4" height="5.2" fill="#f3acb1"/><rect x="360.3" y="490.4" width="5.4" height="5.2" fill="#f5cace"/><rect x="360.3" y="485.6" width="5.4" height="5.2" fill="#f6e8eb"/><rect x="360.3" y="480.8" width="5.4" height="5.2" fill="#f5cace"/><rect x="360.3" y="476.0" width="5.4" height="5.2" fill="#f3acb1"/><rect x="360.3" y="471.2" width="5.4" height="5.2" fill="#f3a6ab"/><rect x="360.3" y="466.4" width="5.4" height="5.2" fill="#f2a0a5"/><rect x="360.3" y="461.6" width="5.4" height="5.2" fill="#f2949a"/><rect x="360.3" y="456.8" width="5.4" height="5.2" fill="#f1888e"/><rect x="360.3" y="452.0" width="5.4" height="5.2" fill="#f2a0a5"/><rect x="360.3" y="447.2" width="5.4" height="5.2" fill="#f4b8bd"/><rect x="360.3" y="442.4" width="5.4" height="5.2" fill="#f3acb1"/><rect x="360.3" y="437.6" width="5.4" height="5.2" fill="#f2a0a5"/><rect x="360.3" y="432.8" width="5.4" height="5.2" fill="#f2a0a5"/><rect x="360.3" y="428.0" width="5.4" height="5.2" fill="#f2a0a5"/><rect x="360.3" y="423.2" width="5.4" height="5.2" fill="#f2a0a5"/><rect x="360.3" y="418.4" width="5.4" height="5.2" fill="#f2a0a5"/><rect x="360.3" y="413.6" width="5.4" height="5.2" fill="#f5cace"/><rect x="360.3" y="408.8" width="5.4" height="5.2" fill="#f7f4f7"/><rect x="360.3" y="404.0" width="5.4" height="5.2" fill="#dfdcf8"/><rect x="360.3" y="399.2" width="5.4" height="5.2" fill="#c7c4f8"/><rect x="360.3" y="394.4" width="5.4" height="5.2" fill="#e5e2f7"/><rect x="360.3" y="389.6" width="5.4" height="5.2" fill="#f6e8eb"/><rect x="365.3" y="533.6" width="5.4" height="5.2" fill="#f1eef7"/><rect x="365.3" y="528.8" width="5.4" height="5.2" fill="#f6d6da"/><rect x="365.3" y="524.0" width="5.4" height="5.2" fill="#f4b2b7"/><rect x="365.3" y="519.2" width="5.4" height="5.2" fill="#f4c1c6"/><rect x="365.3" y="514.4" width="5.4" height="5.2" fill="#f5d0d4"/><rect x="365.3" y="509.6" width="5.4" height="5.2" fill="#f5cdd1"/><rect x="365.3" y="504.8" width="5.4" height="5.2" fill="#f5cace"/><rect x="365.3" y="500.0" width="5.4" height="5.2" fill="#f4bec3"/><rect x="365.3" y="495.2" width="5.4" height="5.2" fill="#f4b2b7"/><rect x="365.3" y="490.4" width="5.4" height="5.2" fill="#f4c1c6"/><rect x="365.3" y="485.6" width="5.4" height="5.2" fill="#f5d0d4"/><rect x="365.3" y="480.8" width="5.4" height="5.2" fill="#f4bec3"/><rect x="365.3" y="476.0" width="5.4" height="5.2" fill="#f3acb1"/><rect x="365.3" y="471.2" width="5.4" height="5.2" fill="#f3a6ab"/><rect x="365.3" y="466.4" width="5.4" height="5.2" fill="#f2a0a5"/><rect x="365.3" y="461.6" width="5.4" height="5.2" fill="#f29aa0"/><rect x="365.3" y="456.8" width="5.4" height="5.2" fill="#f2949a"/><rect x="365.3" y="452.0" width="5.4" height="5.2" fill="#f4b2b7"/><rect x="365.3" y="447.2" width="5.4" height="5.2" fill="#f5d0d4"/><rect x="365.3" y="442.4" width="5.4" height="5.2" fill="#f4b8bd"/><rect x="365.3" y="437.6" width="5.4" height="5.2" fill="#f2a0a5"/><rect x="365.3" y="432.8" width="5.4" height="5.2" fill="#f2a0a5"/><rect x="365.3" y="428.0" width="5.4" height="5.2" fill="#f2a0a5"/><rect x="365.3" y="423.2" width="5.4" height="5.2" fill="#f2a0a5"/><rect x="365.3" y="418.4" width="5.4" height="5.2" fill="#f2a0a5"/><rect x="365.3" y="413.6" width="5.4" height="5.2" fill="#f4b8bd"/><rect x="365.3" y="408.8" width="5.4" height="5.2" fill="#f5d0d4"/><rect x="365.3" y="404.0" width="5.4" height="5.2" fill="#f6dfe3"/><rect x="365.3" y="399.2" width="5.4" height="5.2" fill="#f7eef1"/><rect x="365.3" y="394.4" width="5.4" height="5.2" fill="#f6e5e8"/><rect x="365.3" y="389.6" width="5.4" height="5.2" fill="#f6dce0"/><rect x="370.4" y="533.6" width="5.4" height="5.2" fill="#f6e8eb"/><rect x="370.4" y="528.8" width="5.4" height="5.2" fill="#f5d0d4"/><rect x="370.4" y="524.0" width="5.4" height="5.2" fill="#f4b8bd"/><rect x="370.4" y="519.2" width="5.4" height="5.2" fill="#f6d6da"/><rect x="370.4" y="514.4" width="5.4" height="5.2" fill="#f7f4f7"/><rect x="370.4" y="509.6" width="5.4" height="5.2" fill="#f7eef1"/><rect x="370.4" y="504.8" width="5.4" height="5.2" fill="#f6e8eb"/><rect x="370.4" y="500.0" width="5.4" height="5.2" fill="#f5d0d4"/><rect x="370.4" y="495.2" width="5.4" height="5.2" fill="#f4b8bd"/><rect x="370.4" y="490.4" width="5.4" height="5.2" fill="#f4b8bd"/><rect x="370.4" y="485.6" width="5.4" height="5.2" fill="#f4b8bd"/><rect x="370.4" y="480.8" width="5.4" height="5.2" fill="#f4b2b7"/><rect x="370.4" y="476.0" width="5.4" height="5.2" fill="#f3acb1"/><rect x="370.4" y="471.2" width="5.4" height="5.2" fill="#f3a6ab"/><rect x="370.4" y="466.4" width="5.4" height="5.2" fill="#f2a0a5"/><rect x="370.4" y="461.6" width="5.4" height="5.2" fill="#f2a0a5"/><rect x="370.4" y="456.8" width="5.4" height="5.2" fill="#f2a0a5"/><rect x="370.4" y="452.0" width="5.4" height="5.2" fill="#f5c4c9"/><rect x="370.4" y="447.2" width="5.4" height="5.2" fill="#f6e8eb"/><rect x="370.4" y="442.4" width="5.4" height="5.2" fill="#f5c4c9"/><rect x="370.4" y="437.6" width="5.4" height="5.2" fill="#f2a0a5"/><rect x="370.4" y="432.8" width="5.4" height="5.2" fill="#f2a0a5"/><rect x="370.4" y="428.0" width="5.4" height="5.2" fill="#f2a0a5"/><rect x="370.4" y="423.2" width="5.4" height="5.2" fill="#f2a0a5"/><rect x="370.4" y="418.4" width="5.4" height="5.2" fill="#f2a0a5"/><rect x="370.4" y="413.6" width="5.4" height="5.2" fill="#f3a6ab"/><rect x="370.4" y="408.8" width="5.4" height="5.2" fill="#f3acb1"/><rect x="370.4" y="404.0" width="5.4" height="5.2" fill="#f4b2b7"/><rect x="370.4" y="399.2" width="5.4" height="5.2" fill="#f4b8bd"/><rect x="370.4" y="394.4" width="5.4" height="5.2" fill="#f5c4c9"/><rect x="370.4" y="389.6" width="5.4" height="5.2" fill="#f5d0d4"/><rect x="375.4" y="533.6" width="5.4" height="5.2" fill="#f5c4c9"/><rect x="375.4" y="528.8" width="5.4" height="5.2" fill="#f4bbc0"/><rect x="375.4" y="524.0" width="5.4" height="5.2" fill="#f4b2b7"/><rect x="375.4" y="519.2" width="5.4" height="5.2" fill="#f5cace"/><rect x="375.4" y="514.4" width="5.4" height="5.2" fill="#f6e2e6"/><rect x="375.4" y="509.6" width="5.4" height="5.2" fill="#f6dfe3"/><rect x="375.4" y="504.8" width="5.4" height="5.2" fill="#f6dce0"/><rect x="375.4" y="500.0" width="5.4" height="5.2" fill="#f6d6da"/><rect x="375.4" y="495.2" width="5.4" height="5.2" fill="#f5d0d4"/><rect x="375.4" y="490.4" width="5.4" height="5.2" fill="#f6e5e8"/><rect x="375.4" y="485.6" width="5.4" height="5.2" fill="#f1eef7"/><rect x="375.4" y="480.8" width="5.4" height="5.2" fill="#f6e2e6"/><rect x="375.4" y="476.0" width="5.4" height="5.2" fill="#f5cace"/><rect x="375.4" y="471.2" width="5.4" height="5.2" fill="#f4b8bd"/><rect x="375.4" y="466.4" width="5.4" height="5.2" fill="#f3a6ab"/><rect x="375.4" y="461.6" width="5.4" height="5.2" fill="#f2a0a5"/><rect x="375.4" y="456.8" width="5.4" height="5.2" fill="#f29aa0"/><rect x="375.4" y="452.0" width="5.4" height="5.2" fill="#f4b2b7"/><rect x="375.4" y="447.2" width="5.4" height="5.2" fill="#f5cace"/><rect x="375.4" y="442.4" width="5.4" height="5.2" fill="#f4b2b7"/><rect x="375.4" y="437.6" width="5.4" height="5.2" fill="#f29aa0"/><rect x="375.4" y="432.8" width="5.4" height="5.2" fill="#f2979d"/><rect x="375.4" y="428.0" width="5.4" height="5.2" fill="#f2949a"/><rect x="375.4" y="423.2" width="5.4" height="5.2" fill="#f29da2"/><rect x="375.4" y="418.4" width="5.4" height="5.2" fill="#f3a6ab"/><rect x="375.4" y="413.6" width="5.4" height="5.2" fill="#f3acb1"/><rect x="375.4" y="408.8" width="5.4" height="5.2" fill="#f4b2b7"/><rect x="375.4" y="404.0" width="5.4" height="5.2" fill="#f4b8bd"/><rect x="375.4" y="399.2" width="5.4" height="5.2" fill="#f4bec3"/><rect x="375.4" y="394.4" width="5.4" height="5.2" fill="#f5cdd1"/><rect x="375.4" y="389.6" width="5.4" height="5.2" fill="#f6dce0"/><rect x="380.4" y="533.6" width="5.4" height="5.2" fill="#f2a0a5"/><rect x="380.4" y="528.8" width="5.4" height="5.2" fill="#f3a6ab"/><rect x="380.4" y="524.0" width="5.4" height="5.2" fill="#f3acb1"/><rect x="380.4" y="519.2" width="5.4" height="5.2" fill="#f4bec3"/><rect x="380.4" y="514.4" width="5.4" height="5.2" fill="#f5d0d4"/><rect x="380.4" y="509.6" width="5.4" height="5.2" fill="#f5d0d4"/><rect x="380.4" y="504.8" width="5.4" height="5.2" fill="#f5d0d4"/><rect x="380.4" y="500.0" width="5.4" height="5.2" fill="#f6dce0"/><rect x="380.4" y="495.2" width="5.4" height="5.2" fill="#f6e8eb"/><rect x="380.4" y="490.4" width="5.4" height="5.2" fill="#d9d6f8"/><rect x="380.4" y="485.6" width="5.4" height="5.2" fill="#aeacf9"/><rect x="380.4" y="480.8" width="5.4" height="5.2" fill="#d9d6f8"/><rect x="380.4" y="476.0" width="5.4" height="5.2" fill="#f6e8eb"/><rect x="380.4" y="471.2" width="5.4" height="5.2" fill="#f5cace"/><rect x="380.4" y="466.4" width="5.4" height="5.2" fill="#f3acb1"/><rect x="380.4" y="461.6" width="5.4" height="5.2" fill="#f2a0a5"/><rect x="380.4" y="456.8" width="5.4" height="5.2" fill="#f2949a"/><rect x="380.4" y="452.0" width="5.4" height="5.2" fill="#f2a0a5"/><rect x="380.4" y="447.2" width="5.4" height="5.2" fill="#f3acb1"/><rect x="380.4" y="442.4" width="5.4" height="5.2" fill="#f2a0a5"/><rect x="380.4" y="437.6" width="5.4" height="5.2" fill="#f2949a"/><rect x="380.4" y="432.8" width="5.4" height="5.2" fill="#f18e94"/><rect x="380.4" y="428.0" width="5.4" height="5.2" fill="#f1888e"/><rect x="380.4" y="423.2" width="5.4" height="5.2" fill="#f29aa0"/><rect x="380.4" y="418.4" width="5.4" height="5.2" fill="#f3acb1"/><rect x="380.4" y="413.6" width="5.4" height="5.2" fill="#f4b2b7"/><rect x="380.4" y="408.8" width="5.4" height="5.2" fill="#f4b8bd"/><rect x="380.4" y="404.0" width="5.4" height="5.2" fill="#f4bec3"/><rect x="380.4" y="399.2" width="5.4" height="5.2" fill="#f5c4c9"/><rect x="380.4" y="394.4" width="5.4" height="5.2" fill="#f6d6da"/><rect x="380.4" y="389.6" width="5.4" height="5.2" fill="#f6e8eb"/><rect x="385.4" y="533.6" width="5.4" height="5.2" fill="#f29aa0"/><rect x="385.4" y="528.8" width="5.4" height="5.2" fill="#f2a0a5"/><rect x="385.4" y="524.0" width="5.4" height="5.2" fill="#f3a6ab"/><rect x="385.4" y="519.2" width="5.4" height="5.2" fill="#f4b2b7"/><rect x="385.4" y="514.4" width="5.4" height="5.2" fill="#f4bec3"/><rect x="385.4" y="509.6" width="5.4" height="5.2" fill="#f4bbc0"/><rect x="385.4" y="504.8" width="5.4" height="5.2" fill="#f4b8bd"/><rect x="385.4" y="500.0" width="5.4" height="5.2" fill="#f4bec3"/><rect x="385.4" y="495.2" width="5.4" height="5.2" fill="#f5c4c9"/><rect x="385.4" y="490.4" width="5.4" height="5.2" fill="#f6d9dd"/><rect x="385.4" y="485.6" width="5.4" height="5.2" fill="#f7eef1"/><rect x="385.4" y="480.8" width="5.4" height="5.2" fill="#e8e5f7"/><rect x="385.4" y="476.0" width="5.4" height="5.2" fill="#d3d0f8"/><rect x="385.4" y="471.2" width="5.4" height="5.2" fill="#f7f1f4"/><rect x="385.4" y="466.4" width="5.4" height="5.2" fill="#f5cace"/><rect x="385.4" y="461.6" width="5.4" height="5.2" fill="#f4b2b7"/><rect x="385.4" y="456.8" width="5.4" height="5.2" fill="#f29aa0"/><rect x="385.4" y="452.0" width="5.4" height="5.2" fill="#f3a3a8"/><rect x="385.4" y="447.2" width="5.4" height="5.2" fill="#f3acb1"/><rect x="385.4" y="442.4" width="5.4" height="5.2" fill="#f3a6ab"/><rect x="385.4" y="437.6" width="5.4" height="5.2" fill="#f2a0a5"/><rect x="385.4" y="432.8" width="5.4" height="5.2" fill="#f3acb1"/><rect x="385.4" y="428.0" width="5.4" height="5.2" fill="#f4b8bd"/><rect x="385.4" y="423.2" width="5.4" height="5.2" fill="#f5cdd1"/><rect x="385.4" y="418.4" width="5.4" height="5.2" fill="#f6e2e6"/><rect x="385.4" y="413.6" width="5.4" height="5.2" fill="#f6dfe3"/><rect x="385.4" y="408.8" width="5.4" height="5.2" fill="#f6dce0"/><rect x="385.4" y="404.0" width="5.4" height="5.2" fill="#f6d9dd"/><rect x="385.4" y="399.2" width="5.4" height="5.2" fill="#f6d6da"/><rect x="385.4" y="394.4" width="5.4" height="5.2" fill="#f6e2e6"/><rect x="385.4" y="389.6" width="5.4" height="5.2" fill="#f7eef1"/><rect x="390.4" y="533.6" width="5.4" height="5.2" fill="#f2949a"/><rect x="390.4" y="528.8" width="5.4" height="5.2" fill="#f29aa0"/><rect x="390.4" y="524.0" width="5.4" height="5.2" fill="#f2a0a5"/><rect x="390.4" y="519.2" width="5.4" height="5.2" fill="#f3a6ab"/><rect x="390.4" y="514.4" width="5.4" height="5.2" fill="#f3acb1"/><rect x="390.4" y="509.6" width="5.4" height="5.2" fill="#f3a6ab"/><rect x="390.4" y="504.8" width="5.4" height="5.2" fill="#f2a0a5"/><rect x="390.4" y="500.0" width="5.4" height="5.2" fill="#f2a0a5"/><rect x="390.4" y="495.2" width="5.4" height="5.2" fill="#f2a0a5"/><rect x="390.4" y="490.4" width="5.4" height="5.2" fill="#f2a0a5"/><rect x="390.4" y="485.6" width="5.4" height="5.2" fill="#f2a0a5"/><rect x="390.4" y="480.8" width="5.4" height="5.2" fill="#f7f4f7"/><rect x="390.4" y="476.0" width="5.4" height="5.2" fill="#a2a0f9"/><rect x="390.4" y="471.2" width="5.4" height="5.2" fill="#d3d0f8"/><rect x="390.4" y="466.4" width="5.4" height="5.2" fill="#f6e8eb"/><rect x="390.4" y="461.6" width="5.4" height="5.2" fill="#f5c4c9"/><rect x="390.4" y="456.8" width="5.4" height="5.2" fill="#f2a0a5"/><rect x="390.4" y="452.0" width="5.4" height="5.2" fill="#f3a6ab"/><rect x="390.4" y="447.2" width="5.4" height="5.2" fill="#f3acb1"/><rect x="390.4" y="442.4" width="5.4" height="5.2" fill="#f3acb1"/><rect x="390.4" y="437.6" width="5.4" height="5.2" fill="#f3acb1"/><rect x="390.4" y="432.8" width="5.4" height="5.2" fill="#f5cace"/><rect x="390.4" y="428.0" width="5.4" height="5.2" fill="#f6e8eb"/><rect x="390.4" y="423.2" width="5.4" height="5.2" fill="#ebe8f7"/><rect x="390.4" y="418.4" width="5.4" height="5.2" fill="#d3d0f8"/><rect x="390.4" y="413.6" width="5.4" height="5.2" fill="#dfdcf8"/><rect x="390.4" y="408.8" width="5.4" height="5.2" fill="#ebe8f7"/><rect x="390.4" y="404.0" width="5.4" height="5.2" fill="#f7f4f7"/><rect x="390.4" y="399.2" width="5.4" height="5.2" fill="#f6e8eb"/><rect x="390.4" y="394.4" width="5.4" height="5.2" fill="#f7eef1"/><rect x="390.4" y="389.6" width="5.4" height="5.2" fill="#f7f4f7"/><rect x="395.4" y="533.6" width="5.4" height="5.2" fill="#f2949a"/><rect x="395.4" y="528.8" width="5.4" height="5.2" fill="#f29aa0"/><rect x="395.4" y="524.0" width="5.4" height="5.2" fill="#f2a0a5"/><rect x="395.4" y="519.2" width="5.4" height="5.2" fill="#f3a3a8"/><rect x="395.4" y="514.4" width="5.4" height="5.2" fill="#f3a6ab"/><rect x="395.4" y="509.6" width="5.4" height="5.2" fill="#f3a6ab"/><rect x="395.4" y="504.8" width="5.4" height="5.2" fill="#f3a6ab"/><rect x="395.4" y="500.0" width="5.4" height="5.2" fill="#f2a0a5"/><rect x="395.4" y="495.2" width="5.4" height="5.2" fill="#f29aa0"/><rect x="395.4" y="490.4" width="5.4" height="5.2" fill="#f29aa0"/><rect x="395.4" y="485.6" width="5.4" height="5.2" fill="#f29aa0"/><rect x="395.4" y="480.8" width="5.4" height="5.2" fill="#f5cace"/><rect x="395.4" y="476.0" width="5.4" height="5.2" fill="#f1eef7"/><rect x="395.4" y="471.2" width="5.4" height="5.2" fill="#f6e2e6"/><rect x="395.4" y="466.4" width="5.4" height="5.2" fill="#f5cace"/><rect x="395.4" y="461.6" width="5.4" height="5.2" fill="#f4b8bd"/><rect x="395.4" y="456.8" width="5.4" height="5.2" fill="#f3a6ab"/><rect x="395.4" y="452.0" width="5.4" height="5.2" fill="#f3acb1"/><rect x="395.4" y="447.2" width="5.4" height="5.2" fill="#f4b2b7"/><rect x="395.4" y="442.4" width="5.4" height="5.2" fill="#f4b2b7"/><rect x="395.4" y="437.6" width="5.4" height="5.2" fill="#f4b2b7"/><rect x="395.4" y="432.8" width="5.4" height="5.2" fill="#f5c4c9"/><rect x="395.4" y="428.0" width="5.4" height="5.2" fill="#f6d6da"/><rect x="395.4" y="423.2" width="5.4" height="5.2" fill="#f6e8eb"/><rect x="395.4" y="418.4" width="5.4" height="5.2" fill="#f1eef7"/><rect x="395.4" y="413.6" width="5.4" height="5.2" fill="#f7eef1"/><rect x="395.4" y="408.8" width="5.4" height="5.2" fill="#f6e2e6"/><rect x="395.4" y="404.0" width="5.4" height="5.2" fill="#f6d6da"/><rect x="395.4" y="399.2" width="5.4" height="5.2" fill="#f5cace"/><rect x="395.4" y="394.4" width="5.4" height="5.2" fill="#f5cdd1"/><rect x="395.4" y="389.6" width="5.4" height="5.2" fill="#f5d0d4"/><rect x="400.4" y="533.6" width="5.4" height="5.2" fill="#f2949a"/><rect x="400.4" y="528.8" width="5.4" height="5.2" fill="#f29aa0"/><rect x="400.4" y="524.0" width="5.4" height="5.2" fill="#f2a0a5"/><rect x="400.4" y="519.2" width="5.4" height="5.2" fill="#f2a0a5"/><rect x="400.4" y="514.4" width="5.4" height="5.2" fill="#f2a0a5"/><rect x="400.4" y="509.6" width="5.4" height="5.2" fill="#f3a6ab"/><rect x="400.4" y="504.8" width="5.4" height="5.2" fill="#f3acb1"/><rect x="400.4" y="500.0" width="5.4" height="5.2" fill="#f2a0a5"/><rect x="400.4" y="495.2" width="5.4" height="5.2" fill="#f2949a"/><rect x="400.4" y="490.4" width="5.4" height="5.2" fill="#f2949a"/><rect x="400.4" y="485.6" width="5.4" height="5.2" fill="#f2949a"/><rect x="400.4" y="480.8" width="5.4" height="5.2" fill="#f2a0a5"/><rect x="400.4" y="476.0" width="5.4" height="5.2" fill="#f3acb1"/><rect x="400.4" y="471.2" width="5.4" height="5.2" fill="#f3acb1"/><rect x="400.4" y="466.4" width="5.4" height="5.2" fill="#f3acb1"/><rect x="400.4" y="461.6" width="5.4" height="5.2" fill="#f3acb1"/><rect x="400.4" y="456.8" width="5.4" height="5.2" fill="#f3acb1"/><rect x="400.4" y="452.0" width="5.4" height="5.2" fill="#f4b2b7"/><rect x="400.4" y="447.2" width="5.4" height="5.2" fill="#f4b8bd"/><rect x="400.4" y="442.4" width="5.4" height="5.2" fill="#f4b8bd"/><rect x="400.4" y="437.6" width="5.4" height="5.2" fill="#f4b8bd"/><rect x="400.4" y="432.8" width="5.4" height="5.2" fill="#f4bec3"/><rect x="400.4" y="428.0" width="5.4" height="5.2" fill="#f5c4c9"/><rect x="400.4" y="423.2" width="5.4" height="5.2" fill="#f5d0d4"/><rect x="400.4" y="418.4" width="5.4" height="5.2" fill="#f6dce0"/><rect x="400.4" y="413.6" width="5.4" height="5.2" fill="#f5d0d4"/><rect x="400.4" y="408.8" width="5.4" height="5.2" fill="#f5c4c9"/><rect x="400.4" y="404.0" width="5.4" height="5.2" fill="#f4b8bd"/><rect x="400.4" y="399.2" width="5.4" height="5.2" fill="#f3acb1"/><rect x="400.4" y="394.4" width="5.4" height="5.2" fill="#f3acb1"/><rect x="400.4" y="389.6" width="5.4" height="5.2" fill="#f3acb1"/></g></g><path d="M252.5 392.5H402.5V536.5H252.5Z" fill="none" stroke="#222" stroke-width="1"/><path d="M249.7 536.00H252.5M252.70 536.5V539.1M249.7 526.40H252.5M262.71 536.5V539.1M249.7 516.80H252.5M272.73 536.5V539.1M249.7 507.20H252.5M282.74 536.5V539.1M249.7 497.60H252.5M292.75 536.5V539.1M249.7 488.00H252.5M302.77 536.5V539.1M249.7 478.40H252.5M312.78 536.5V539.1M249.7 468.80H252.5M322.79 536.5V539.1M249.7 459.20H252.5M332.81 536.5V539.1M249.7 449.60H252.5M342.82 536.5V539.1M249.7 440.00H252.5M352.83 536.5V539.1M249.7 430.40H252.5M362.85 536.5V539.1M249.7 420.80H252.5M372.86 536.5V539.1M249.7 411.20H252.5M382.87 536.5V539.1M249.7 401.60H252.5M392.89 536.5V539.1M249.7 392.00H252.5M402.90 536.5V539.1" stroke="#222" stroke-width="0.9"/><text x="247.39999999999998" y="538.0" font-size="5.7" font-weight="bold" fill="#000" text-anchor="end">0</text><text x="252.7" y="546.1" font-size="5.7" font-weight="bold" fill="#000" text-anchor="middle">0</text><text x="247.39999999999998" y="528.4" font-size="5.7" font-weight="bold" fill="#000" text-anchor="end">1</text><text x="262.7133333333333" y="546.1" font-size="5.7" font-weight="bold" fill="#000" text-anchor="middle">1</text><text x="247.39999999999998" y="518.8" font-size="5.7" font-weight="bold" fill="#000" text-anchor="end">2</text><text x="272.72666666666663" y="546.1" font-size="5.7" font-weight="bold" fill="#000" text-anchor="middle">2</text><text x="247.39999999999998" y="509.2" font-size="5.7" font-weight="bold" fill="#000" text-anchor="end">3</text><text x="282.74" y="546.1" font-size="5.7" font-weight="bold" fill="#000" text-anchor="middle">3</text><text x="247.39999999999998" y="499.6" font-size="5.7" font-weight="bold" fill="#000" text-anchor="end">4</text><text x="292.75333333333333" y="546.1" font-size="5.7" font-weight="bold" fill="#000" text-anchor="middle">4</text><text x="247.39999999999998" y="490.0" font-size="5.7" font-weight="bold" fill="#000" text-anchor="end">5</text><text x="302.76666666666665" y="546.1" font-size="5.7" font-weight="bold" fill="#000" text-anchor="middle">5</text><text x="247.39999999999998" y="480.4" font-size="5.7" font-weight="bold" fill="#000" text-anchor="end">6</text><text x="312.78" y="546.1" font-size="5.7" font-weight="bold" fill="#000" text-anchor="middle">6</text><text x="247.39999999999998" y="470.8" font-size="5.7" font-weight="bold" fill="#000" text-anchor="end">7</text><text x="322.7933333333333" y="546.1" font-size="5.7" font-weight="bold" fill="#000" text-anchor="middle">7</text><text x="247.39999999999998" y="461.2" font-size="5.7" font-weight="bold" fill="#000" text-anchor="end">8</text><text x="332.8066666666666" y="546.1" font-size="5.7" font-weight="bold" fill="#000" text-anchor="middle">8</text><text x="247.39999999999998" y="451.6" font-size="5.7" font-weight="bold" fill="#000" text-anchor="end">9</text><text x="342.82" y="546.1" font-size="5.7" font-weight="bold" fill="#000" text-anchor="middle">9</text><text x="247.39999999999998" y="442.0" font-size="5.7" font-weight="bold" fill="#000" text-anchor="end">10</text><text x="352.8333333333333" y="546.1" font-size="5.7" font-weight="bold" fill="#000" text-anchor="middle">10</text><text x="247.39999999999998" y="432.4" font-size="5.7" font-weight="bold" fill="#000" text-anchor="end">11</text><text x="362.84666666666664" y="546.1" font-size="5.7" font-weight="bold" fill="#000" text-anchor="middle">11</text><text x="247.39999999999998" y="422.8" font-size="5.7" font-weight="bold" fill="#000" text-anchor="end">12</text><text x="372.85999999999996" y="546.1" font-size="5.7" font-weight="bold" fill="#000" text-anchor="middle">12</text><text x="247.39999999999998" y="413.2" font-size="5.7" font-weight="bold" fill="#000" text-anchor="end">13</text><text x="382.87333333333333" y="546.1" font-size="5.7" font-weight="bold" fill="#000" text-anchor="middle">13</text><text x="247.39999999999998" y="403.6" font-size="5.7" font-weight="bold" fill="#000" text-anchor="end">14</text><text x="392.88666666666666" y="546.1" font-size="5.7" font-weight="bold" fill="#000" text-anchor="middle">14</text><text x="247.39999999999998" y="394.0" font-size="5.7" font-weight="bold" fill="#000" text-anchor="end">15</text><text x="402.9" y="546.1" font-size="5.7" font-weight="bold" fill="#000" text-anchor="middle">15</text><text x="327.79999999999995" y="555" font-size="7.4" font-weight="bold" fill="#000" text-anchor="middle" textLength="44" lengthAdjust="spacingAndGlyphs">Distance (µm)</text><text x="237.7" y="464.0" font-size="7.4" font-weight="bold" fill="#000" text-anchor="middle" textLength="44" lengthAdjust="spacingAndGlyphs" transform="rotate(-90 237.7 464.0)">Distance (µm)</text><text x="230.8" y="397.6" font-size="12.2" font-weight="bold" fill="#000">h</text><rect x="428.1" y="397.40" width="10.2" height="5.12" fill="#fd2017"/><rect x="428.1" y="402.22" width="10.2" height="5.12" fill="#fa2d27"/><rect x="428.1" y="407.04" width="10.2" height="5.12" fill="#f73b38"/><rect x="428.1" y="411.86" width="10.2" height="5.12" fill="#f44848"/><rect x="428.1" y="416.69" width="10.2" height="5.12" fill="#f35759"/><rect x="428.1" y="421.51" width="10.2" height="5.12" fill="#f26669"/><rect x="428.1" y="426.33" width="10.2" height="5.12" fill="#f1757a"/><rect x="428.1" y="431.15" width="10.2" height="5.12" fill="#f1858a"/><rect x="428.1" y="435.97" width="10.2" height="5.12" fill="#f2969b"/><rect x="428.1" y="440.79" width="10.2" height="5.12" fill="#f3a7ac"/><rect x="428.1" y="445.61" width="10.2" height="5.12" fill="#f4b8bd"/><rect x="428.1" y="450.44" width="10.2" height="5.12" fill="#f5c9ce"/><rect x="428.1" y="455.26" width="10.2" height="5.12" fill="#f6dade"/><rect x="428.1" y="460.08" width="10.2" height="5.12" fill="#f7ebef"/><rect x="428.1" y="464.90" width="10.2" height="5.12" fill="#eeebf7"/><rect x="428.1" y="469.72" width="10.2" height="5.12" fill="#dddaf8"/><rect x="428.1" y="474.54" width="10.2" height="5.12" fill="#ccc9f8"/><rect x="428.1" y="479.36" width="10.2" height="5.12" fill="#bab8f8"/><rect x="428.1" y="484.19" width="10.2" height="5.12" fill="#a9a7f9"/><rect x="428.1" y="489.01" width="10.2" height="5.12" fill="#9896f9"/><rect x="428.1" y="493.83" width="10.2" height="5.12" fill="#8785fa"/><rect x="428.1" y="498.65" width="10.2" height="5.12" fill="#7573fa"/><rect x="428.1" y="503.47" width="10.2" height="5.12" fill="#6361fb"/><rect x="428.1" y="508.29" width="10.2" height="5.12" fill="#5150fc"/><rect x="428.1" y="513.11" width="10.2" height="5.12" fill="#3f3efc"/><rect x="428.1" y="517.94" width="10.2" height="5.12" fill="#2d2cfd"/><rect x="428.1" y="522.76" width="10.2" height="5.12" fill="#1b1bfe"/><rect x="428.1" y="527.58" width="10.2" height="5.12" fill="#0909ff"/><text x="433.20000000000005" y="394.9" font-size="5.2" font-weight="normal" fill="#000" text-anchor="middle">85000</text><text x="433.20000000000005" y="539.3" font-size="5.2" font-weight="normal" fill="#000" text-anchor="middle">5000</text><text x="406" y="387.2" font-size="7.6" font-weight="bold" fill="#000" textLength="55" lengthAdjust="spacingAndGlyphs">PL Intensity (a.u.)</text><g clip-path="url(#hci)"><g filter="url(#hbi)"><rect x="471.0" y="533.6" width="5.4" height="5.2" fill="#c7c4f8"/><rect x="471.0" y="528.8" width="5.4" height="5.2" fill="#f6e8eb"/><rect x="471.0" y="524.0" width="5.4" height="5.2" fill="#f3acb1"/><rect x="471.0" y="519.2" width="5.4" height="5.2" fill="#f29aa0"/><rect x="471.0" y="514.4" width="5.4" height="5.2" fill="#f1888e"/><rect x="471.0" y="509.6" width="5.4" height="5.2" fill="#f1888e"/><rect x="471.0" y="504.8" width="5.4" height="5.2" fill="#f1888e"/><rect x="471.0" y="500.0" width="5.4" height="5.2" fill="#f18e94"/><rect x="471.0" y="495.2" width="5.4" height="5.2" fill="#f2949a"/><rect x="471.0" y="490.4" width="5.4" height="5.2" fill="#f2a0a5"/><rect x="471.0" y="485.6" width="5.4" height="5.2" fill="#f3acb1"/><rect x="471.0" y="480.8" width="5.4" height="5.2" fill="#f29aa0"/><rect x="471.0" y="476.0" width="5.4" height="5.2" fill="#f1888e"/><rect x="471.0" y="471.2" width="5.4" height="5.2" fill="#f1888e"/><rect x="471.0" y="466.4" width="5.4" height="5.2" fill="#f1888e"/><rect x="471.0" y="461.6" width="5.4" height="5.2" fill="#f08288"/><rect x="471.0" y="456.8" width="5.4" height="5.2" fill="#f07c82"/><rect x="471.0" y="452.0" width="5.4" height="5.2" fill="#f07c82"/><rect x="471.0" y="447.2" width="5.4" height="5.2" fill="#f07c82"/><rect x="471.0" y="442.4" width="5.4" height="5.2" fill="#f07c82"/><rect x="471.0" y="437.6" width="5.4" height="5.2" fill="#f07c82"/><rect x="471.0" y="432.8" width="5.4" height="5.2" fill="#f07c82"/><rect x="471.0" y="428.0" width="5.4" height="5.2" fill="#f07c82"/><rect x="471.0" y="423.2" width="5.4" height="5.2" fill="#f07c82"/><rect x="471.0" y="418.4" width="5.4" height="5.2" fill="#f07c82"/><rect x="471.0" y="413.6" width="5.4" height="5.2" fill="#f08288"/><rect x="471.0" y="408.8" width="5.4" height="5.2" fill="#f1888e"/><rect x="471.0" y="404.0" width="5.4" height="5.2" fill="#f08288"/><rect x="471.0" y="399.2" width="5.4" height="5.2" fill="#f07c82"/><rect x="471.0" y="394.4" width="5.4" height="5.2" fill="#f07c82"/><rect x="471.0" y="389.6" width="5.4" height="5.2" fill="#f07c82"/><rect x="476.0" y="533.6" width="5.4" height="5.2" fill="#b4b2f9"/><rect x="476.0" y="528.8" width="5.4" height="5.2" fill="#eeebf7"/><rect x="476.0" y="524.0" width="5.4" height="5.2" fill="#f5c4c9"/><rect x="476.0" y="519.2" width="5.4" height="5.2" fill="#f3a9ae"/><rect x="476.0" y="514.4" width="5.4" height="5.2" fill="#f18e94"/><rect x="476.0" y="509.6" width="5.4" height="5.2" fill="#f19197"/><rect x="476.0" y="504.8" width="5.4" height="5.2" fill="#f2949a"/><rect x="476.0" y="500.0" width="5.4" height="5.2" fill="#f4b2b7"/><rect x="476.0" y="495.2" width="5.4" height="5.2" fill="#f5d0d4"/><rect x="476.0" y="490.4" width="5.4" height="5.2" fill="#f7eef1"/><rect x="476.0" y="485.6" width="5.4" height="5.2" fill="#dfdcf8"/><rect x="476.0" y="480.8" width="5.4" height="5.2" fill="#f5cdd1"/><rect x="476.0" y="476.0" width="5.4" height="5.2" fill="#f18e94"/><rect x="476.0" y="471.2" width="5.4" height="5.2" fill="#f4b8bd"/><rect x="476.0" y="466.4" width="5.4" height="5.2" fill="#f6e2e6"/><rect x="476.0" y="461.6" width="5.4" height="5.2" fill="#f4b2b7"/><rect x="476.0" y="456.8" width="5.4" height="5.2" fill="#f08288"/><rect x="476.0" y="452.0" width="5.4" height="5.2" fill="#f08288"/><rect x="476.0" y="447.2" width="5.4" height="5.2" fill="#f08288"/><rect x="476.0" y="442.4" width="5.4" height="5.2" fill="#f08288"/><rect x="476.0" y="437.6" width="5.4" height="5.2" fill="#f08288"/><rect x="476.0" y="432.8" width="5.4" height="5.2" fill="#f07f85"/><rect x="476.0" y="428.0" width="5.4" height="5.2" fill="#f07c82"/><rect x="476.0" y="423.2" width="5.4" height="5.2" fill="#f1858b"/><rect x="476.0" y="418.4" width="5.4" height="5.2" fill="#f18e94"/><rect x="476.0" y="413.6" width="5.4" height="5.2" fill="#f2949a"/><rect x="476.0" y="408.8" width="5.4" height="5.2" fill="#f29aa0"/><rect x="476.0" y="404.0" width="5.4" height="5.2" fill="#f19197"/><rect x="476.0" y="399.2" width="5.4" height="5.2" fill="#f1888e"/><rect x="476.0" y="394.4" width="5.4" height="5.2" fill="#f08288"/><rect x="476.0" y="389.6" width="5.4" height="5.2" fill="#f07c82"/><rect x="481.0" y="533.6" width="5.4" height="5.2" fill="#a2a0f9"/><rect x="481.0" y="528.8" width="5.4" height="5.2" fill="#d9d6f8"/><rect x="481.0" y="524.0" width="5.4" height="5.2" fill="#f6dce0"/><rect x="481.0" y="519.2" width="5.4" height="5.2" fill="#f4b8bd"/><rect x="481.0" y="514.4" width="5.4" height="5.2" fill="#f2949a"/><rect x="481.0" y="509.6" width="5.4" height="5.2" fill="#f29aa0"/><rect x="481.0" y="504.8" width="5.4" height="5.2" fill="#f2a0a5"/><rect x="481.0" y="500.0" width="5.4" height="5.2" fill="#f6d6da"/><rect x="481.0" y="495.2" width="5.4" height="5.2" fill="#dfdcf8"/><rect x="481.0" y="490.4" width="5.4" height="5.2" fill="#aeacf9"/><rect x="481.0" y="485.6" width="5.4" height="5.2" fill="#7e7cfa"/><rect x="481.0" y="480.8" width="5.4" height="5.2" fill="#ebe8f7"/><rect x="481.0" y="476.0" width="5.4" height="5.2" fill="#f2949a"/><rect x="481.0" y="471.2" width="5.4" height="5.2" fill="#f6e8eb"/><rect x="481.0" y="466.4" width="5.4" height="5.2" fill="#aeacf9"/><rect x="481.0" y="461.6" width="5.4" height="5.2" fill="#f6e2e6"/><rect x="481.0" y="456.8" width="5.4" height="5.2" fill="#f1888e"/><rect x="481.0" y="452.0" width="5.4" height="5.2" fill="#f1888e"/><rect x="481.0" y="447.2" width="5.4" height="5.2" fill="#f1888e"/><rect x="481.0" y="442.4" width="5.4" height="5.2" fill="#f1888e"/><rect x="481.0" y="437.6" width="5.4" height="5.2" fill="#f1888e"/><rect x="481.0" y="432.8" width="5.4" height="5.2" fill="#f08288"/><rect x="481.0" y="428.0" width="5.4" height="5.2" fill="#f07c82"/><rect x="481.0" y="423.2" width="5.4" height="5.2" fill="#f18e94"/><rect x="481.0" y="418.4" width="5.4" height="5.2" fill="#f2a0a5"/><rect x="481.0" y="413.6" width="5.4" height="5.2" fill="#f3a6ab"/><rect x="481.0" y="408.8" width="5.4" height="5.2" fill="#f3acb1"/><rect x="481.0" y="404.0" width="5.4" height="5.2" fill="#f2a0a5"/><rect x="481.0" y="399.2" width="5.4" height="5.2" fill="#f2949a"/><rect x="481.0" y="394.4" width="5.4" height="5.2" fill="#f1888e"/><rect x="481.0" y="389.6" width="5.4" height="5.2" fill="#f07c82"/><rect x="486.0" y="533.6" width="5.4" height="5.2" fill="#e5e2f7"/><rect x="486.0" y="528.8" width="5.4" height="5.2" fill="#f6dfe3"/><rect x="486.0" y="524.0" width="5.4" height="5.2" fill="#f4b8bd"/><rect x="486.0" y="519.2" width="5.4" height="5.2" fill="#f3afb4"/><rect x="486.0" y="514.4" width="5.4" height="5.2" fill="#f3a6ab"/><rect x="486.0" y="509.6" width="5.4" height="5.2" fill="#f3a3a8"/><rect x="486.0" y="504.8" width="5.4" height="5.2" fill="#f2a0a5"/><rect x="486.0" y="500.0" width="5.4" height="5.2" fill="#f6d6da"/><rect x="486.0" y="495.2" width="5.4" height="5.2" fill="#dfdcf8"/><rect x="486.0" y="490.4" width="5.4" height="5.2" fill="#c4c1f8"/><rect x="486.0" y="485.6" width="5.4" height="5.2" fill="#a8a6f9"/><rect x="486.0" y="480.8" width="5.4" height="5.2" fill="#f6e8eb"/><rect x="486.0" y="476.0" width="5.4" height="5.2" fill="#f18e94"/><rect x="486.0" y="471.2" width="5.4" height="5.2" fill="#f4c1c6"/><rect x="486.0" y="466.4" width="5.4" height="5.2" fill="#f7f4f7"/><rect x="486.0" y="461.6" width="5.4" height="5.2" fill="#f4c1c6"/><rect x="486.0" y="456.8" width="5.4" height="5.2" fill="#f18e94"/><rect x="486.0" y="452.0" width="5.4" height="5.2" fill="#f2949a"/><rect x="486.0" y="447.2" width="5.4" height="5.2" fill="#f29aa0"/><rect x="486.0" y="442.4" width="5.4" height="5.2" fill="#f2949a"/><rect x="486.0" y="437.6" width="5.4" height="5.2" fill="#f18e94"/><rect x="486.0" y="432.8" width="5.4" height="5.2" fill="#f1858b"/><rect x="486.0" y="428.0" width="5.4" height="5.2" fill="#f07c82"/><rect x="486.0" y="423.2" width="5.4" height="5.2" fill="#f1858b"/><rect x="486.0" y="418.4" width="5.4" height="5.2" fill="#f18e94"/><rect x="486.0" y="413.6" width="5.4" height="5.2" fill="#f2949a"/><rect x="486.0" y="408.8" width="5.4" height="5.2" fill="#f29aa0"/><rect x="486.0" y="404.0" width="5.4" height="5.2" fill="#f19197"/><rect x="486.0" y="399.2" width="5.4" height="5.2" fill="#f1888e"/><rect x="486.0" y="394.4" width="5.4" height="5.2" fill="#f08288"/><rect x="486.0" y="389.6" width="5.4" height="5.2" fill="#f07c82"/><rect x="491.0" y="533.6" width="5.4" height="5.2" fill="#f5c4c9"/><rect x="491.0" y="528.8" width="5.4" height="5.2" fill="#f3acb1"/><rect x="491.0" y="524.0" width="5.4" height="5.2" fill="#f2949a"/><rect x="491.0" y="519.2" width="5.4" height="5.2" fill="#f3a6ab"/><rect x="491.0" y="514.4" width="5.4" height="5.2" fill="#f4b8bd"/><rect x="491.0" y="509.6" width="5.4" height="5.2" fill="#f3acb1"/><rect x="491.0" y="504.8" width="5.4" height="5.2" fill="#f2a0a5"/><rect x="491.0" y="500.0" width="5.4" height="5.2" fill="#f6d6da"/><rect x="491.0" y="495.2" width="5.4" height="5.2" fill="#dfdcf8"/><rect x="491.0" y="490.4" width="5.4" height="5.2" fill="#d9d6f8"/><rect x="491.0" y="485.6" width="5.4" height="5.2" fill="#d3d0f8"/><rect x="491.0" y="480.8" width="5.4" height="5.2" fill="#f5d0d4"/><rect x="491.0" y="476.0" width="5.4" height="5.2" fill="#f1888e"/><rect x="491.0" y="471.2" width="5.4" height="5.2" fill="#f29aa0"/><rect x="491.0" y="466.4" width="5.4" height="5.2" fill="#f3acb1"/><rect x="491.0" y="461.6" width="5.4" height="5.2" fill="#f2a0a5"/><rect x="491.0" y="456.8" width="5.4" height="5.2" fill="#f2949a"/><rect x="491.0" y="452.0" width="5.4" height="5.2" fill="#f2a0a5"/><rect x="491.0" y="447.2" width="5.4" height="5.2" fill="#f3acb1"/><rect x="491.0" y="442.4" width="5.4" height="5.2" fill="#f2a0a5"/><rect x="491.0" y="437.6" width="5.4" height="5.2" fill="#f2949a"/><rect x="491.0" y="432.8" width="5.4" height="5.2" fill="#f1888e"/><rect x="491.0" y="428.0" width="5.4" height="5.2" fill="#f07c82"/><rect x="491.0" y="423.2" width="5.4" height="5.2" fill="#f07c82"/><rect x="491.0" y="418.4" width="5.4" height="5.2" fill="#f07c82"/><rect x="491.0" y="413.6" width="5.4" height="5.2" fill="#f08288"/><rect x="491.0" y="408.8" width="5.4" height="5.2" fill="#f1888e"/><rect x="491.0" y="404.0" width="5.4" height="5.2" fill="#f08288"/><rect x="491.0" y="399.2" width="5.4" height="5.2" fill="#f07c82"/><rect x="491.0" y="394.4" width="5.4" height="5.2" fill="#f07c82"/><rect x="491.0" y="389.6" width="5.4" height="5.2" fill="#f07c82"/><rect x="496.0" y="533.6" width="5.4" height="5.2" fill="#f4b8bd"/><rect x="496.0" y="528.8" width="5.4" height="5.2" fill="#f5cace"/><rect x="496.0" y="524.0" width="5.4" height="5.2" fill="#f6dce0"/><rect x="496.0" y="519.2" width="5.4" height="5.2" fill="#e8e5f7"/><rect x="496.0" y="514.4" width="5.4" height="5.2" fill="#c1bef8"/><rect x="496.0" y="509.6" width="5.4" height="5.2" fill="#f4f1f7"/><rect x="496.0" y="504.8" width="5.4" height="5.2" fill="#f5c4c9"/><rect x="496.0" y="500.0" width="5.4" height="5.2" fill="#f6dce0"/><rect x="496.0" y="495.2" width="5.4" height="5.2" fill="#f7f4f7"/><rect x="496.0" y="490.4" width="5.4" height="5.2" fill="#ebe8f7"/><rect x="496.0" y="485.6" width="5.4" height="5.2" fill="#dfdcf8"/><rect x="496.0" y="480.8" width="5.4" height="5.2" fill="#f6e5e8"/><rect x="496.0" y="476.0" width="5.4" height="5.2" fill="#f4bec3"/><rect x="496.0" y="471.2" width="5.4" height="5.2" fill="#f3acb1"/><rect x="496.0" y="466.4" width="5.4" height="5.2" fill="#f29aa0"/><rect x="496.0" y="461.6" width="5.4" height="5.2" fill="#f2979d"/><rect x="496.0" y="456.8" width="5.4" height="5.2" fill="#f2949a"/><rect x="496.0" y="452.0" width="5.4" height="5.2" fill="#f29aa0"/><rect x="496.0" y="447.2" width="5.4" height="5.2" fill="#f2a0a5"/><rect x="496.0" y="442.4" width="5.4" height="5.2" fill="#f29da2"/><rect x="496.0" y="437.6" width="5.4" height="5.2" fill="#f29aa0"/><rect x="496.0" y="432.8" width="5.4" height="5.2" fill="#f19197"/><rect x="496.0" y="428.0" width="5.4" height="5.2" fill="#f1888e"/><rect x="496.0" y="423.2" width="5.4" height="5.2" fill="#f1888e"/><rect x="496.0" y="418.4" width="5.4" height="5.2" fill="#f1888e"/><rect x="496.0" y="413.6" width="5.4" height="5.2" fill="#f19197"/><rect x="496.0" y="408.8" width="5.4" height="5.2" fill="#f29aa0"/><rect x="496.0" y="404.0" width="5.4" height="5.2" fill="#f2949a"/><rect x="496.0" y="399.2" width="5.4" height="5.2" fill="#f18e94"/><rect x="496.0" y="394.4" width="5.4" height="5.2" fill="#f1888e"/><rect x="496.0" y="389.6" width="5.4" height="5.2" fill="#f08288"/><rect x="501.0" y="533.6" width="5.4" height="5.2" fill="#f3acb1"/><rect x="501.0" y="528.8" width="5.4" height="5.2" fill="#f6e8eb"/><rect x="501.0" y="524.0" width="5.4" height="5.2" fill="#c7c4f8"/><rect x="501.0" y="519.2" width="5.4" height="5.2" fill="#8a88fa"/><rect x="501.0" y="514.4" width="5.4" height="5.2" fill="#4c4afc"/><rect x="501.0" y="509.6" width="5.4" height="5.2" fill="#a8a6f9"/><rect x="501.0" y="504.8" width="5.4" height="5.2" fill="#f6e8eb"/><rect x="501.0" y="500.0" width="5.4" height="5.2" fill="#f6e2e6"/><rect x="501.0" y="495.2" width="5.4" height="5.2" fill="#f6dce0"/><rect x="501.0" y="490.4" width="5.4" height="5.2" fill="#f7eef1"/><rect x="501.0" y="485.6" width="5.4" height="5.2" fill="#ebe8f7"/><rect x="501.0" y="480.8" width="5.4" height="5.2" fill="#f1eef7"/><rect x="501.0" y="476.0" width="5.4" height="5.2" fill="#f7f4f7"/><rect x="501.0" y="471.2" width="5.4" height="5.2" fill="#f4bec3"/><rect x="501.0" y="466.4" width="5.4" height="5.2" fill="#f1888e"/><rect x="501.0" y="461.6" width="5.4" height="5.2" fill="#f18e94"/><rect x="501.0" y="456.8" width="5.4" height="5.2" fill="#f2949a"/><rect x="501.0" y="452.0" width="5.4" height="5.2" fill="#f2949a"/><rect x="501.0" y="447.2" width="5.4" height="5.2" fill="#f2949a"/><rect x="501.0" y="442.4" width="5.4" height="5.2" fill="#f29aa0"/><rect x="501.0" y="437.6" width="5.4" height="5.2" fill="#f2a0a5"/><rect x="501.0" y="432.8" width="5.4" height="5.2" fill="#f29aa0"/><rect x="501.0" y="428.0" width="5.4" height="5.2" fill="#f2949a"/><rect x="501.0" y="423.2" width="5.4" height="5.2" fill="#f2949a"/><rect x="501.0" y="418.4" width="5.4" height="5.2" fill="#f2949a"/><rect x="501.0" y="413.6" width="5.4" height="5.2" fill="#f2a0a5"/><rect x="501.0" y="408.8" width="5.4" height="5.2" fill="#f3acb1"/><rect x="501.0" y="404.0" width="5.4" height="5.2" fill="#f3a6ab"/><rect x="501.0" y="399.2" width="5.4" height="5.2" fill="#f2a0a5"/><rect x="501.0" y="394.4" width="5.4" height="5.2" fill="#f2949a"/><rect x="501.0" y="389.6" width="5.4" height="5.2" fill="#f1888e"/><rect x="506.0" y="533.6" width="5.4" height="5.2" fill="#f2a0a5"/><rect x="506.0" y="528.8" width="5.4" height="5.2" fill="#f4bbc0"/><rect x="506.0" y="524.0" width="5.4" height="5.2" fill="#f6d6da"/><rect x="506.0" y="519.2" width="5.4" height="5.2" fill="#f7f4f7"/><rect x="506.0" y="514.4" width="5.4" height="5.2" fill="#d9d6f8"/><rect x="506.0" y="509.6" width="5.4" height="5.2" fill="#f6e8eb"/><rect x="506.0" y="504.8" width="5.4" height="5.2" fill="#f4bec3"/><rect x="506.0" y="500.0" width="5.4" height="5.2" fill="#f5c7cc"/><rect x="506.0" y="495.2" width="5.4" height="5.2" fill="#f5d0d4"/><rect x="506.0" y="490.4" width="5.4" height="5.2" fill="#f5c7cc"/><rect x="506.0" y="485.6" width="5.4" height="5.2" fill="#f4bec3"/><rect x="506.0" y="480.8" width="5.4" height="5.2" fill="#f4bec3"/><rect x="506.0" y="476.0" width="5.4" height="5.2" fill="#f4bec3"/><rect x="506.0" y="471.2" width="5.4" height="5.2" fill="#f2a0a5"/><rect x="506.0" y="466.4" width="5.4" height="5.2" fill="#f08288"/><rect x="506.0" y="461.6" width="5.4" height="5.2" fill="#f18e94"/><rect x="506.0" y="456.8" width="5.4" height="5.2" fill="#f29aa0"/><rect x="506.0" y="452.0" width="5.4" height="5.2" fill="#f29da2"/><rect x="506.0" y="447.2" width="5.4" height="5.2" fill="#f2a0a5"/><rect x="506.0" y="442.4" width="5.4" height="5.2" fill="#f29aa0"/><rect x="506.0" y="437.6" width="5.4" height="5.2" fill="#f2949a"/><rect x="506.0" y="432.8" width="5.4" height="5.2" fill="#f18e94"/><rect x="506.0" y="428.0" width="5.4" height="5.2" fill="#f1888e"/><rect x="506.0" y="423.2" width="5.4" height="5.2" fill="#f1888e"/><rect x="506.0" y="418.4" width="5.4" height="5.2" fill="#f1888e"/><rect x="506.0" y="413.6" width="5.4" height="5.2" fill="#f2949a"/><rect x="506.0" y="408.8" width="5.4" height="5.2" fill="#f2a0a5"/><rect x="506.0" y="404.0" width="5.4" height="5.2" fill="#f29da2"/><rect x="506.0" y="399.2" width="5.4" height="5.2" fill="#f29aa0"/><rect x="506.0" y="394.4" width="5.4" height="5.2" fill="#f18e94"/><rect x="506.0" y="389.6" width="5.4" height="5.2" fill="#f08288"/><rect x="511.1" y="533.6" width="5.4" height="5.2" fill="#f2949a"/><rect x="511.1" y="528.8" width="5.4" height="5.2" fill="#f18e94"/><rect x="511.1" y="524.0" width="5.4" height="5.2" fill="#f1888e"/><rect x="511.1" y="519.2" width="5.4" height="5.2" fill="#f1888e"/><rect x="511.1" y="514.4" width="5.4" height="5.2" fill="#f1888e"/><rect x="511.1" y="509.6" width="5.4" height="5.2" fill="#f18e94"/><rect x="511.1" y="504.8" width="5.4" height="5.2" fill="#f2949a"/><rect x="511.1" y="500.0" width="5.4" height="5.2" fill="#f3acb1"/><rect x="511.1" y="495.2" width="5.4" height="5.2" fill="#f5c4c9"/><rect x="511.1" y="490.4" width="5.4" height="5.2" fill="#f2a0a5"/><rect x="511.1" y="485.6" width="5.4" height="5.2" fill="#f07c82"/><rect x="511.1" y="480.8" width="5.4" height="5.2" fill="#f08288"/><rect x="511.1" y="476.0" width="5.4" height="5.2" fill="#f1888e"/><rect x="511.1" y="471.2" width="5.4" height="5.2" fill="#f08288"/><rect x="511.1" y="466.4" width="5.4" height="5.2" fill="#f07c82"/><rect x="511.1" y="461.6" width="5.4" height="5.2" fill="#f18e94"/><rect x="511.1" y="456.8" width="5.4" height="5.2" fill="#f2a0a5"/><rect x="511.1" y="452.0" width="5.4" height="5.2" fill="#f3a6ab"/><rect x="511.1" y="447.2" width="5.4" height="5.2" fill="#f3acb1"/><rect x="511.1" y="442.4" width="5.4" height="5.2" fill="#f29aa0"/><rect x="511.1" y="437.6" width="5.4" height="5.2" fill="#f1888e"/><rect x="511.1" y="432.8" width="5.4" height="5.2" fill="#f08288"/><rect x="511.1" y="428.0" width="5.4" height="5.2" fill="#f07c82"/><rect x="511.1" y="423.2" width="5.4" height="5.2" fill="#f07c82"/><rect x="511.1" y="418.4" width="5.4" height="5.2" fill="#f07c82"/><rect x="511.1" y="413.6" width="5.4" height="5.2" fill="#f1888e"/><rect x="511.1" y="408.8" width="5.4" height="5.2" fill="#f2949a"/><rect x="511.1" y="404.0" width="5.4" height="5.2" fill="#f2949a"/><rect x="511.1" y="399.2" width="5.4" height="5.2" fill="#f2949a"/><rect x="511.1" y="394.4" width="5.4" height="5.2" fill="#f1888e"/><rect x="511.1" y="389.6" width="5.4" height="5.2" fill="#f07c82"/><rect x="516.1" y="533.6" width="5.4" height="5.2" fill="#f29aa0"/><rect x="516.1" y="528.8" width="5.4" height="5.2" fill="#f19197"/><rect x="516.1" y="524.0" width="5.4" height="5.2" fill="#f1888e"/><rect x="516.1" y="519.2" width="5.4" height="5.2" fill="#f1858b"/><rect x="516.1" y="514.4" width="5.4" height="5.2" fill="#f08288"/><rect x="516.1" y="509.6" width="5.4" height="5.2" fill="#f1858b"/><rect x="516.1" y="504.8" width="5.4" height="5.2" fill="#f1888e"/><rect x="516.1" y="500.0" width="5.4" height="5.2" fill="#f2949a"/><rect x="516.1" y="495.2" width="5.4" height="5.2" fill="#f2a0a5"/><rect x="516.1" y="490.4" width="5.4" height="5.2" fill="#f19197"/><rect x="516.1" y="485.6" width="5.4" height="5.2" fill="#f08288"/><rect x="516.1" y="480.8" width="5.4" height="5.2" fill="#f18e94"/><rect x="516.1" y="476.0" width="5.4" height="5.2" fill="#f29aa0"/><rect x="516.1" y="471.2" width="5.4" height="5.2" fill="#f2949a"/><rect x="516.1" y="466.4" width="5.4" height="5.2" fill="#f18e94"/><rect x="516.1" y="461.6" width="5.4" height="5.2" fill="#f5c4c9"/><rect x="516.1" y="456.8" width="5.4" height="5.2" fill="#f1eef7"/><rect x="516.1" y="452.0" width="5.4" height="5.2" fill="#f6e5e8"/><rect x="516.1" y="447.2" width="5.4" height="5.2" fill="#f5d0d4"/><rect x="516.1" y="442.4" width="5.4" height="5.2" fill="#f4b5ba"/><rect x="516.1" y="437.6" width="5.4" height="5.2" fill="#f29aa0"/><rect x="516.1" y="432.8" width="5.4" height="5.2" fill="#f18e94"/><rect x="516.1" y="428.0" width="5.4" height="5.2" fill="#f08288"/><rect x="516.1" y="423.2" width="5.4" height="5.2" fill="#f07f85"/><rect x="516.1" y="418.4" width="5.4" height="5.2" fill="#f07c82"/><rect x="516.1" y="413.6" width="5.4" height="5.2" fill="#f18b91"/><rect x="516.1" y="408.8" width="5.4" height="5.2" fill="#f29aa0"/><rect x="516.1" y="404.0" width="5.4" height="5.2" fill="#f29aa0"/><rect x="516.1" y="399.2" width="5.4" height="5.2" fill="#f29aa0"/><rect x="516.1" y="394.4" width="5.4" height="5.2" fill="#f18e94"/><rect x="516.1" y="389.6" width="5.4" height="5.2" fill="#f08288"/><rect x="521.1" y="533.6" width="5.4" height="5.2" fill="#f2a0a5"/><rect x="521.1" y="528.8" width="5.4" height="5.2" fill="#f2949a"/><rect x="521.1" y="524.0" width="5.4" height="5.2" fill="#f1888e"/><rect x="521.1" y="519.2" width="5.4" height="5.2" fill="#f08288"/><rect x="521.1" y="514.4" width="5.4" height="5.2" fill="#f07c82"/><rect x="521.1" y="509.6" width="5.4" height="5.2" fill="#f07c82"/><rect x="521.1" y="504.8" width="5.4" height="5.2" fill="#f07c82"/><rect x="521.1" y="500.0" width="5.4" height="5.2" fill="#f07c82"/><rect x="521.1" y="495.2" width="5.4" height="5.2" fill="#f07c82"/><rect x="521.1" y="490.4" width="5.4" height="5.2" fill="#f08288"/><rect x="521.1" y="485.6" width="5.4" height="5.2" fill="#f1888e"/><rect x="521.1" y="480.8" width="5.4" height="5.2" fill="#f29aa0"/><rect x="521.1" y="476.0" width="5.4" height="5.2" fill="#f3acb1"/><rect x="521.1" y="471.2" width="5.4" height="5.2" fill="#f3a6ab"/><rect x="521.1" y="466.4" width="5.4" height="5.2" fill="#f2a0a5"/><rect x="521.1" y="461.6" width="5.4" height="5.2" fill="#f1eef7"/><rect x="521.1" y="456.8" width="5.4" height="5.2" fill="#9694f9"/><rect x="521.1" y="452.0" width="5.4" height="5.2" fill="#c7c4f8"/><rect x="521.1" y="447.2" width="5.4" height="5.2" fill="#f7f4f7"/><rect x="521.1" y="442.4" width="5.4" height="5.2" fill="#f5d0d4"/><rect x="521.1" y="437.6" width="5.4" height="5.2" fill="#f3acb1"/><rect x="521.1" y="432.8" width="5.4" height="5.2" fill="#f29aa0"/><rect x="521.1" y="428.0" width="5.4" height="5.2" fill="#f1888e"/><rect x="521.1" y="423.2" width="5.4" height="5.2" fill="#f08288"/><rect x="521.1" y="418.4" width="5.4" height="5.2" fill="#f07c82"/><rect x="521.1" y="413.6" width="5.4" height="5.2" fill="#f18e94"/><rect x="521.1" y="408.8" width="5.4" height="5.2" fill="#f2a0a5"/><rect x="521.1" y="404.0" width="5.4" height="5.2" fill="#f2a0a5"/><rect x="521.1" y="399.2" width="5.4" height="5.2" fill="#f2a0a5"/><rect x="521.1" y="394.4" width="5.4" height="5.2" fill="#f2949a"/><rect x="521.1" y="389.6" width="5.4" height="5.2" fill="#f1888e"/><rect x="526.1" y="533.6" width="5.4" height="5.2" fill="#f6dce0"/><rect x="526.1" y="528.8" width="5.4" height="5.2" fill="#f4bbc0"/><rect x="526.1" y="524.0" width="5.4" height="5.2" fill="#f29aa0"/><rect x="526.1" y="519.2" width="5.4" height="5.2" fill="#f19197"/><rect x="526.1" y="514.4" width="5.4" height="5.2" fill="#f1888e"/><rect x="526.1" y="509.6" width="5.4" height="5.2" fill="#f1858b"/><rect x="526.1" y="504.8" width="5.4" height="5.2" fill="#f08288"/><rect x="526.1" y="500.0" width="5.4" height="5.2" fill="#f07f85"/><rect x="526.1" y="495.2" width="5.4" height="5.2" fill="#f07c82"/><rect x="526.1" y="490.4" width="5.4" height="5.2" fill="#f1888e"/><rect x="526.1" y="485.6" width="5.4" height="5.2" fill="#f2949a"/><rect x="526.1" y="480.8" width="5.4" height="5.2" fill="#f3acb1"/><rect x="526.1" y="476.0" width="5.4" height="5.2" fill="#f5c4c9"/><rect x="526.1" y="471.2" width="5.4" height="5.2" fill="#f4c1c6"/><rect x="526.1" y="466.4" width="5.4" height="5.2" fill="#f4bec3"/><rect x="526.1" y="461.6" width="5.4" height="5.2" fill="#f6e5e8"/><rect x="526.1" y="456.8" width="5.4" height="5.2" fill="#dfdcf8"/><rect x="526.1" y="452.0" width="5.4" height="5.2" fill="#ebe8f7"/><rect x="526.1" y="447.2" width="5.4" height="5.2" fill="#f7f4f7"/><rect x="526.1" y="442.4" width="5.4" height="5.2" fill="#e5e2f7"/><rect x="526.1" y="437.6" width="5.4" height="5.2" fill="#d3d0f8"/><rect x="526.1" y="432.8" width="5.4" height="5.2" fill="#f6e2e6"/><rect x="526.1" y="428.0" width="5.4" height="5.2" fill="#f3acb1"/><rect x="526.1" y="423.2" width="5.4" height="5.2" fill="#f2979d"/><rect x="526.1" y="418.4" width="5.4" height="5.2" fill="#f08288"/><rect x="526.1" y="413.6" width="5.4" height="5.2" fill="#f19197"/><rect x="526.1" y="408.8" width="5.4" height="5.2" fill="#f2a0a5"/><rect x="526.1" y="404.0" width="5.4" height="5.2" fill="#f2a0a5"/><rect x="526.1" y="399.2" width="5.4" height="5.2" fill="#f2a0a5"/><rect x="526.1" y="394.4" width="5.4" height="5.2" fill="#f2949a"/><rect x="526.1" y="389.6" width="5.4" height="5.2" fill="#f1888e"/><rect x="531.1" y="533.6" width="5.4" height="5.2" fill="#d3d0f8"/><rect x="531.1" y="528.8" width="5.4" height="5.2" fill="#f6e2e6"/><rect x="531.1" y="524.0" width="5.4" height="5.2" fill="#f3acb1"/><rect x="531.1" y="519.2" width="5.4" height="5.2" fill="#f2a0a5"/><rect x="531.1" y="514.4" width="5.4" height="5.2" fill="#f2949a"/><rect x="531.1" y="509.6" width="5.4" height="5.2" fill="#f18e94"/><rect x="531.1" y="504.8" width="5.4" height="5.2" fill="#f1888e"/><rect x="531.1" y="500.0" width="5.4" height="5.2" fill="#f08288"/><rect x="531.1" y="495.2" width="5.4" height="5.2" fill="#f07c82"/><rect x="531.1" y="490.4" width="5.4" height="5.2" fill="#f18e94"/><rect x="531.1" y="485.6" width="5.4" height="5.2" fill="#f2a0a5"/><rect x="531.1" y="480.8" width="5.4" height="5.2" fill="#f4bec3"/><rect x="531.1" y="476.0" width="5.4" height="5.2" fill="#f6dce0"/><rect x="531.1" y="471.2" width="5.4" height="5.2" fill="#f6dce0"/><rect x="531.1" y="466.4" width="5.4" height="5.2" fill="#f6dce0"/><rect x="531.1" y="461.6" width="5.4" height="5.2" fill="#f5d0d4"/><rect x="531.1" y="456.8" width="5.4" height="5.2" fill="#f5c4c9"/><rect x="531.1" y="452.0" width="5.4" height="5.2" fill="#f6dce0"/><rect x="531.1" y="447.2" width="5.4" height="5.2" fill="#f7f4f7"/><rect x="531.1" y="442.4" width="5.4" height="5.2" fill="#aeacf9"/><rect x="531.1" y="437.6" width="5.4" height="5.2" fill="#6563fb"/><rect x="531.1" y="432.8" width="5.4" height="5.2" fill="#c1bef8"/><rect x="531.1" y="428.0" width="5.4" height="5.2" fill="#f5d0d4"/><rect x="531.1" y="423.2" width="5.4" height="5.2" fill="#f3acb1"/><rect x="531.1" y="418.4" width="5.4" height="5.2" fill="#f1888e"/><rect x="531.1" y="413.6" width="5.4" height="5.2" fill="#f2949a"/><rect x="531.1" y="408.8" width="5.4" height="5.2" fill="#f2a0a5"/><rect x="531.1" y="404.0" width="5.4" height="5.2" fill="#f2a0a5"/><rect x="531.1" y="399.2" width="5.4" height="5.2" fill="#f2a0a5"/><rect x="531.1" y="394.4" width="5.4" height="5.2" fill="#f2949a"/><rect x="531.1" y="389.6" width="5.4" height="5.2" fill="#f1888e"/><rect x="536.1" y="533.6" width="5.4" height="5.2" fill="#c1bef8"/><rect x="536.1" y="528.8" width="5.4" height="5.2" fill="#f4f1f7"/><rect x="536.1" y="524.0" width="5.4" height="5.2" fill="#f5c4c9"/><rect x="536.1" y="519.2" width="5.4" height="5.2" fill="#f4b2b7"/><rect x="536.1" y="514.4" width="5.4" height="5.2" fill="#f2a0a5"/><rect x="536.1" y="509.6" width="5.4" height="5.2" fill="#f2949a"/><rect x="536.1" y="504.8" width="5.4" height="5.2" fill="#f1888e"/><rect x="536.1" y="500.0" width="5.4" height="5.2" fill="#f08288"/><rect x="536.1" y="495.2" width="5.4" height="5.2" fill="#f07c82"/><rect x="536.1" y="490.4" width="5.4" height="5.2" fill="#f18e94"/><rect x="536.1" y="485.6" width="5.4" height="5.2" fill="#f2a0a5"/><rect x="536.1" y="480.8" width="5.4" height="5.2" fill="#f4b2b7"/><rect x="536.1" y="476.0" width="5.4" height="5.2" fill="#f5c4c9"/><rect x="536.1" y="471.2" width="5.4" height="5.2" fill="#f5d3d7"/><rect x="536.1" y="466.4" width="5.4" height="5.2" fill="#f6e2e6"/><rect x="536.1" y="461.6" width="5.4" height="5.2" fill="#f6dce0"/><rect x="536.1" y="456.8" width="5.4" height="5.2" fill="#f6d6da"/><rect x="536.1" y="452.0" width="5.4" height="5.2" fill="#f6d9dd"/><rect x="536.1" y="447.2" width="5.4" height="5.2" fill="#f6dce0"/><rect x="536.1" y="442.4" width="5.4" height="5.2" fill="#dfdcf8"/><rect x="536.1" y="437.6" width="5.4" height="5.2" fill="#aeacf9"/><rect x="536.1" y="432.8" width="5.4" height="5.2" fill="#e8e5f7"/><rect x="536.1" y="428.0" width="5.4" height="5.2" fill="#f5cace"/><rect x="536.1" y="423.2" width="5.4" height="5.2" fill="#f3a6ab"/><rect x="536.1" y="418.4" width="5.4" height="5.2" fill="#f08288"/><rect x="536.1" y="413.6" width="5.4" height="5.2" fill="#f18e94"/><rect x="536.1" y="408.8" width="5.4" height="5.2" fill="#f29aa0"/><rect x="536.1" y="404.0" width="5.4" height="5.2" fill="#f2979d"/><rect x="536.1" y="399.2" width="5.4" height="5.2" fill="#f2949a"/><rect x="536.1" y="394.4" width="5.4" height="5.2" fill="#f18b91"/><rect x="536.1" y="389.6" width="5.4" height="5.2" fill="#f08288"/><rect x="541.1" y="533.6" width="5.4" height="5.2" fill="#aeacf9"/><rect x="541.1" y="528.8" width="5.4" height="5.2" fill="#dfdcf8"/><rect x="541.1" y="524.0" width="5.4" height="5.2" fill="#f6dce0"/><rect x="541.1" y="519.2" width="5.4" height="5.2" fill="#f5c4c9"/><rect x="541.1" y="514.4" width="5.4" height="5.2" fill="#f3acb1"/><rect x="541.1" y="509.6" width="5.4" height="5.2" fill="#f29aa0"/><rect x="541.1" y="504.8" width="5.4" height="5.2" fill="#f1888e"/><rect x="541.1" y="500.0" width="5.4" height="5.2" fill="#f08288"/><rect x="541.1" y="495.2" width="5.4" height="5.2" fill="#f07c82"/><rect x="541.1" y="490.4" width="5.4" height="5.2" fill="#f18e94"/><rect x="541.1" y="485.6" width="5.4" height="5.2" fill="#f2a0a5"/><rect x="541.1" y="480.8" width="5.4" height="5.2" fill="#f3a6ab"/><rect x="541.1" y="476.0" width="5.4" height="5.2" fill="#f3acb1"/><rect x="541.1" y="471.2" width="5.4" height="5.2" fill="#f5cace"/><rect x="541.1" y="466.4" width="5.4" height="5.2" fill="#f6e8eb"/><rect x="541.1" y="461.6" width="5.4" height="5.2" fill="#f6e8eb"/><rect x="541.1" y="456.8" width="5.4" height="5.2" fill="#f6e8eb"/><rect x="541.1" y="452.0" width="5.4" height="5.2" fill="#f6d6da"/><rect x="541.1" y="447.2" width="5.4" height="5.2" fill="#f5c4c9"/><rect x="541.1" y="442.4" width="5.4" height="5.2" fill="#f6dce0"/><rect x="541.1" y="437.6" width="5.4" height="5.2" fill="#f7f4f7"/><rect x="541.1" y="432.8" width="5.4" height="5.2" fill="#f6dce0"/><rect x="541.1" y="428.0" width="5.4" height="5.2" fill="#f5c4c9"/><rect x="541.1" y="423.2" width="5.4" height="5.2" fill="#f2a0a5"/><rect x="541.1" y="418.4" width="5.4" height="5.2" fill="#f07c82"/><rect x="541.1" y="413.6" width="5.4" height="5.2" fill="#f1888e"/><rect x="541.1" y="408.8" width="5.4" height="5.2" fill="#f2949a"/><rect x="541.1" y="404.0" width="5.4" height="5.2" fill="#f18e94"/><rect x="541.1" y="399.2" width="5.4" height="5.2" fill="#f1888e"/><rect x="541.1" y="394.4" width="5.4" height="5.2" fill="#f08288"/><rect x="541.1" y="389.6" width="5.4" height="5.2" fill="#f07c82"/><rect x="546.1" y="533.6" width="5.4" height="5.2" fill="#aeacf9"/><rect x="546.1" y="528.8" width="5.4" height="5.2" fill="#e5e2f7"/><rect x="546.1" y="524.0" width="5.4" height="5.2" fill="#f5d0d4"/><rect x="546.1" y="519.2" width="5.4" height="5.2" fill="#f4b8bd"/><rect x="546.1" y="514.4" width="5.4" height="5.2" fill="#f2a0a5"/><rect x="546.1" y="509.6" width="5.4" height="5.2" fill="#f29aa0"/><rect x="546.1" y="504.8" width="5.4" height="5.2" fill="#f2949a"/><rect x="546.1" y="500.0" width="5.4" height="5.2" fill="#f2949a"/><rect x="546.1" y="495.2" width="5.4" height="5.2" fill="#f2949a"/><rect x="546.1" y="490.4" width="5.4" height="5.2" fill="#f29aa0"/><rect x="546.1" y="485.6" width="5.4" height="5.2" fill="#f2a0a5"/><rect x="546.1" y="480.8" width="5.4" height="5.2" fill="#f4b8bd"/><rect x="546.1" y="476.0" width="5.4" height="5.2" fill="#f5d0d4"/><rect x="546.1" y="471.2" width="5.4" height="5.2" fill="#f6dce0"/><rect x="546.1" y="466.4" width="5.4" height="5.2" fill="#f6e8eb"/><rect x="546.1" y="461.6" width="5.4" height="5.2" fill="#f6e2e6"/><rect x="546.1" y="456.8" width="5.4" height="5.2" fill="#f6dce0"/><rect x="546.1" y="452.0" width="5.4" height="5.2" fill="#f6d6da"/><rect x="546.1" y="447.2" width="5.4" height="5.2" fill="#f5d0d4"/><rect x="546.1" y="442.4" width="5.4" height="5.2" fill="#f6d6da"/><rect x="546.1" y="437.6" width="5.4" height="5.2" fill="#f6dce0"/><rect x="546.1" y="432.8" width="5.4" height="5.2" fill="#f4c1c6"/><rect x="546.1" y="428.0" width="5.4" height="5.2" fill="#f3a6ab"/><rect x="546.1" y="423.2" width="5.4" height="5.2" fill="#f2979d"/><rect x="546.1" y="418.4" width="5.4" height="5.2" fill="#f1888e"/><rect x="546.1" y="413.6" width="5.4" height="5.2" fill="#f2949a"/><rect x="546.1" y="408.8" width="5.4" height="5.2" fill="#f2a0a5"/><rect x="546.1" y="404.0" width="5.4" height="5.2" fill="#f29da2"/><rect x="546.1" y="399.2" width="5.4" height="5.2" fill="#f29aa0"/><rect x="546.1" y="394.4" width="5.4" height="5.2" fill="#f2979d"/><rect x="546.1" y="389.6" width="5.4" height="5.2" fill="#f2949a"/><rect x="551.1" y="533.6" width="5.4" height="5.2" fill="#aeacf9"/><rect x="551.1" y="528.8" width="5.4" height="5.2" fill="#ebe8f7"/><rect x="551.1" y="524.0" width="5.4" height="5.2" fill="#f5c4c9"/><rect x="551.1" y="519.2" width="5.4" height="5.2" fill="#f3acb1"/><rect x="551.1" y="514.4" width="5.4" height="5.2" fill="#f2949a"/><rect x="551.1" y="509.6" width="5.4" height="5.2" fill="#f29aa0"/><rect x="551.1" y="504.8" width="5.4" height="5.2" fill="#f2a0a5"/><rect x="551.1" y="500.0" width="5.4" height="5.2" fill="#f3a6ab"/><rect x="551.1" y="495.2" width="5.4" height="5.2" fill="#f3acb1"/><rect x="551.1" y="490.4" width="5.4" height="5.2" fill="#f3a6ab"/><rect x="551.1" y="485.6" width="5.4" height="5.2" fill="#f2a0a5"/><rect x="551.1" y="480.8" width="5.4" height="5.2" fill="#f5cace"/><rect x="551.1" y="476.0" width="5.4" height="5.2" fill="#f7f4f7"/><rect x="551.1" y="471.2" width="5.4" height="5.2" fill="#f7eef1"/><rect x="551.1" y="466.4" width="5.4" height="5.2" fill="#f6e8eb"/><rect x="551.1" y="461.6" width="5.4" height="5.2" fill="#f6dce0"/><rect x="551.1" y="456.8" width="5.4" height="5.2" fill="#f5d0d4"/><rect x="551.1" y="452.0" width="5.4" height="5.2" fill="#f6d6da"/><rect x="551.1" y="447.2" width="5.4" height="5.2" fill="#f6dce0"/><rect x="551.1" y="442.4" width="5.4" height="5.2" fill="#f5d0d4"/><rect x="551.1" y="437.6" width="5.4" height="5.2" fill="#f5c4c9"/><rect x="551.1" y="432.8" width="5.4" height="5.2" fill="#f3a6ab"/><rect x="551.1" y="428.0" width="5.4" height="5.2" fill="#f1888e"/><rect x="551.1" y="423.2" width="5.4" height="5.2" fill="#f18e94"/><rect x="551.1" y="418.4" width="5.4" height="5.2" fill="#f2949a"/><rect x="551.1" y="413.6" width="5.4" height="5.2" fill="#f2a0a5"/><rect x="551.1" y="408.8" width="5.4" height="5.2" fill="#f3acb1"/><rect x="551.1" y="404.0" width="5.4" height="5.2" fill="#f3acb1"/><rect x="551.1" y="399.2" width="5.4" height="5.2" fill="#f3acb1"/><rect x="551.1" y="394.4" width="5.4" height="5.2" fill="#f3acb1"/><rect x="551.1" y="389.6" width="5.4" height="5.2" fill="#f3acb1"/><rect x="556.1" y="533.6" width="5.4" height="5.2" fill="#f7eef1"/><rect x="556.1" y="528.8" width="5.4" height="5.2" fill="#f5cdd1"/><rect x="556.1" y="524.0" width="5.4" height="5.2" fill="#f3acb1"/><rect x="556.1" y="519.2" width="5.4" height="5.2" fill="#f3a3a8"/><rect x="556.1" y="514.4" width="5.4" height="5.2" fill="#f29aa0"/><rect x="556.1" y="509.6" width="5.4" height="5.2" fill="#f29da2"/><rect x="556.1" y="504.8" width="5.4" height="5.2" fill="#f2a0a5"/><rect x="556.1" y="500.0" width="5.4" height="5.2" fill="#f3a6ab"/><rect x="556.1" y="495.2" width="5.4" height="5.2" fill="#f3acb1"/><rect x="556.1" y="490.4" width="5.4" height="5.2" fill="#f29da2"/><rect x="556.1" y="485.6" width="5.4" height="5.2" fill="#f18e94"/><rect x="556.1" y="480.8" width="5.4" height="5.2" fill="#f3acb1"/><rect x="556.1" y="476.0" width="5.4" height="5.2" fill="#f5cace"/><rect x="556.1" y="471.2" width="5.4" height="5.2" fill="#f5d0d4"/><rect x="556.1" y="466.4" width="5.4" height="5.2" fill="#f6d6da"/><rect x="556.1" y="461.6" width="5.4" height="5.2" fill="#f6d6da"/><rect x="556.1" y="456.8" width="5.4" height="5.2" fill="#f6d6da"/><rect x="556.1" y="452.0" width="5.4" height="5.2" fill="#f6d9dd"/><rect x="556.1" y="447.2" width="5.4" height="5.2" fill="#f6dce0"/><rect x="556.1" y="442.4" width="5.4" height="5.2" fill="#f5c7cc"/><rect x="556.1" y="437.6" width="5.4" height="5.2" fill="#f4b2b7"/><rect x="556.1" y="432.8" width="5.4" height="5.2" fill="#f2a0a5"/><rect x="556.1" y="428.0" width="5.4" height="5.2" fill="#f18e94"/><rect x="556.1" y="423.2" width="5.4" height="5.2" fill="#f18e94"/><rect x="556.1" y="418.4" width="5.4" height="5.2" fill="#f18e94"/><rect x="556.1" y="413.6" width="5.4" height="5.2" fill="#f2949a"/><rect x="556.1" y="408.8" width="5.4" height="5.2" fill="#f29aa0"/><rect x="556.1" y="404.0" width="5.4" height="5.2" fill="#f3a3a8"/><rect x="556.1" y="399.2" width="5.4" height="5.2" fill="#f3acb1"/><rect x="556.1" y="394.4" width="5.4" height="5.2" fill="#f4bbc0"/><rect x="556.1" y="389.6" width="5.4" height="5.2" fill="#f5cace"/><rect x="561.1" y="533.6" width="5.4" height="5.2" fill="#f2a0a5"/><rect x="561.1" y="528.8" width="5.4" height="5.2" fill="#f29aa0"/><rect x="561.1" y="524.0" width="5.4" height="5.2" fill="#f2949a"/><rect x="561.1" y="519.2" width="5.4" height="5.2" fill="#f29aa0"/><rect x="561.1" y="514.4" width="5.4" height="5.2" fill="#f2a0a5"/><rect x="561.1" y="509.6" width="5.4" height="5.2" fill="#f2a0a5"/><rect x="561.1" y="504.8" width="5.4" height="5.2" fill="#f2a0a5"/><rect x="561.1" y="500.0" width="5.4" height="5.2" fill="#f3a6ab"/><rect x="561.1" y="495.2" width="5.4" height="5.2" fill="#f3acb1"/><rect x="561.1" y="490.4" width="5.4" height="5.2" fill="#f2949a"/><rect x="561.1" y="485.6" width="5.4" height="5.2" fill="#f07c82"/><rect x="561.1" y="480.8" width="5.4" height="5.2" fill="#f18e94"/><rect x="561.1" y="476.0" width="5.4" height="5.2" fill="#f2a0a5"/><rect x="561.1" y="471.2" width="5.4" height="5.2" fill="#f4b2b7"/><rect x="561.1" y="466.4" width="5.4" height="5.2" fill="#f5c4c9"/><rect x="561.1" y="461.6" width="5.4" height="5.2" fill="#f5d0d4"/><rect x="561.1" y="456.8" width="5.4" height="5.2" fill="#f6dce0"/><rect x="561.1" y="452.0" width="5.4" height="5.2" fill="#f6dce0"/><rect x="561.1" y="447.2" width="5.4" height="5.2" fill="#f6dce0"/><rect x="561.1" y="442.4" width="5.4" height="5.2" fill="#f4bec3"/><rect x="561.1" y="437.6" width="5.4" height="5.2" fill="#f2a0a5"/><rect x="561.1" y="432.8" width="5.4" height="5.2" fill="#f29aa0"/><rect x="561.1" y="428.0" width="5.4" height="5.2" fill="#f2949a"/><rect x="561.1" y="423.2" width="5.4" height="5.2" fill="#f18e94"/><rect x="561.1" y="418.4" width="5.4" height="5.2" fill="#f1888e"/><rect x="561.1" y="413.6" width="5.4" height="5.2" fill="#f1888e"/><rect x="561.1" y="408.8" width="5.4" height="5.2" fill="#f1888e"/><rect x="561.1" y="404.0" width="5.4" height="5.2" fill="#f29aa0"/><rect x="561.1" y="399.2" width="5.4" height="5.2" fill="#f3acb1"/><rect x="561.1" y="394.4" width="5.4" height="5.2" fill="#f5cace"/><rect x="561.1" y="389.6" width="5.4" height="5.2" fill="#f6e8eb"/><rect x="566.1" y="533.6" width="5.4" height="5.2" fill="#f0777c"/><rect x="566.1" y="528.8" width="5.4" height="5.2" fill="#f18b91"/><rect x="566.1" y="524.0" width="5.4" height="5.2" fill="#f2a0a5"/><rect x="566.1" y="519.2" width="5.4" height="5.2" fill="#f3a3a8"/><rect x="566.1" y="514.4" width="5.4" height="5.2" fill="#f3a6ab"/><rect x="566.1" y="509.6" width="5.4" height="5.2" fill="#f29da2"/><rect x="566.1" y="504.8" width="5.4" height="5.2" fill="#f2949a"/><rect x="566.1" y="500.0" width="5.4" height="5.2" fill="#f29da2"/><rect x="566.1" y="495.2" width="5.4" height="5.2" fill="#f3a6ab"/><rect x="566.1" y="490.4" width="5.4" height="5.2" fill="#f19197"/><rect x="566.1" y="485.6" width="5.4" height="5.2" fill="#f07c82"/><rect x="566.1" y="480.8" width="5.4" height="5.2" fill="#f1888e"/><rect x="566.1" y="476.0" width="5.4" height="5.2" fill="#f2949a"/><rect x="566.1" y="471.2" width="5.4" height="5.2" fill="#f29da2"/><rect x="566.1" y="466.4" width="5.4" height="5.2" fill="#f3a6ab"/><rect x="566.1" y="461.6" width="5.4" height="5.2" fill="#f4b8bd"/><rect x="566.1" y="456.8" width="5.4" height="5.2" fill="#f5cace"/><rect x="566.1" y="452.0" width="5.4" height="5.2" fill="#f5d0d4"/><rect x="566.1" y="447.2" width="5.4" height="5.2" fill="#f6d6da"/><rect x="566.1" y="442.4" width="5.4" height="5.2" fill="#f4bbc0"/><rect x="566.1" y="437.6" width="5.4" height="5.2" fill="#f2a0a5"/><rect x="566.1" y="432.8" width="5.4" height="5.2" fill="#f2949a"/><rect x="566.1" y="428.0" width="5.4" height="5.2" fill="#f1888e"/><rect x="566.1" y="423.2" width="5.4" height="5.2" fill="#f1858b"/><rect x="566.1" y="418.4" width="5.4" height="5.2" fill="#f08288"/><rect x="566.1" y="413.6" width="5.4" height="5.2" fill="#f08288"/><rect x="566.1" y="408.8" width="5.4" height="5.2" fill="#f08288"/><rect x="566.1" y="404.0" width="5.4" height="5.2" fill="#f18b91"/><rect x="566.1" y="399.2" width="5.4" height="5.2" fill="#f2949a"/><rect x="566.1" y="394.4" width="5.4" height="5.2" fill="#f3a6ab"/><rect x="566.1" y="389.6" width="5.4" height="5.2" fill="#f4b8bd"/><rect x="571.1" y="533.6" width="5.4" height="5.2" fill="#f35254"/><rect x="571.1" y="528.8" width="5.4" height="5.2" fill="#f07c82"/><rect x="571.1" y="524.0" width="5.4" height="5.2" fill="#f3acb1"/><rect x="571.1" y="519.2" width="5.4" height="5.2" fill="#f3acb1"/><rect x="571.1" y="514.4" width="5.4" height="5.2" fill="#f3acb1"/><rect x="571.1" y="509.6" width="5.4" height="5.2" fill="#f29aa0"/><rect x="571.1" y="504.8" width="5.4" height="5.2" fill="#f1888e"/><rect x="571.1" y="500.0" width="5.4" height="5.2" fill="#f2949a"/><rect x="571.1" y="495.2" width="5.4" height="5.2" fill="#f2a0a5"/><rect x="571.1" y="490.4" width="5.4" height="5.2" fill="#f18e94"/><rect x="571.1" y="485.6" width="5.4" height="5.2" fill="#f07c82"/><rect x="571.1" y="480.8" width="5.4" height="5.2" fill="#f08288"/><rect x="571.1" y="476.0" width="5.4" height="5.2" fill="#f1888e"/><rect x="571.1" y="471.2" width="5.4" height="5.2" fill="#f1888e"/><rect x="571.1" y="466.4" width="5.4" height="5.2" fill="#f1888e"/><rect x="571.1" y="461.6" width="5.4" height="5.2" fill="#f2a0a5"/><rect x="571.1" y="456.8" width="5.4" height="5.2" fill="#f4b8bd"/><rect x="571.1" y="452.0" width="5.4" height="5.2" fill="#f5c4c9"/><rect x="571.1" y="447.2" width="5.4" height="5.2" fill="#f5d0d4"/><rect x="571.1" y="442.4" width="5.4" height="5.2" fill="#f4b8bd"/><rect x="571.1" y="437.6" width="5.4" height="5.2" fill="#f2a0a5"/><rect x="571.1" y="432.8" width="5.4" height="5.2" fill="#f18e94"/><rect x="571.1" y="428.0" width="5.4" height="5.2" fill="#f07c82"/><rect x="571.1" y="423.2" width="5.4" height="5.2" fill="#f07c82"/><rect x="571.1" y="418.4" width="5.4" height="5.2" fill="#f07c82"/><rect x="571.1" y="413.6" width="5.4" height="5.2" fill="#f07c82"/><rect x="571.1" y="408.8" width="5.4" height="5.2" fill="#f07c82"/><rect x="571.1" y="404.0" width="5.4" height="5.2" fill="#f07c82"/><rect x="571.1" y="399.2" width="5.4" height="5.2" fill="#f07c82"/><rect x="571.1" y="394.4" width="5.4" height="5.2" fill="#f08288"/><rect x="571.1" y="389.6" width="5.4" height="5.2" fill="#f1888e"/><rect x="576.1" y="533.6" width="5.4" height="5.2" fill="#f16c71"/><rect x="576.1" y="528.8" width="5.4" height="5.2" fill="#f08288"/><rect x="576.1" y="524.0" width="5.4" height="5.2" fill="#f29aa0"/><rect x="576.1" y="519.2" width="5.4" height="5.2" fill="#f29da2"/><rect x="576.1" y="514.4" width="5.4" height="5.2" fill="#f2a0a5"/><rect x="576.1" y="509.6" width="5.4" height="5.2" fill="#f3a9ae"/><rect x="576.1" y="504.8" width="5.4" height="5.2" fill="#f4b2b7"/><rect x="576.1" y="500.0" width="5.4" height="5.2" fill="#f3a9ae"/><rect x="576.1" y="495.2" width="5.4" height="5.2" fill="#f2a0a5"/><rect x="576.1" y="490.4" width="5.4" height="5.2" fill="#f18e94"/><rect x="576.1" y="485.6" width="5.4" height="5.2" fill="#f07c82"/><rect x="576.1" y="480.8" width="5.4" height="5.2" fill="#f08288"/><rect x="576.1" y="476.0" width="5.4" height="5.2" fill="#f1888e"/><rect x="576.1" y="471.2" width="5.4" height="5.2" fill="#f18b91"/><rect x="576.1" y="466.4" width="5.4" height="5.2" fill="#f18e94"/><rect x="576.1" y="461.6" width="5.4" height="5.2" fill="#f2979d"/><rect x="576.1" y="456.8" width="5.4" height="5.2" fill="#f2a0a5"/><rect x="576.1" y="452.0" width="5.4" height="5.2" fill="#f3a9ae"/><rect x="576.1" y="447.2" width="5.4" height="5.2" fill="#f4b2b7"/><rect x="576.1" y="442.4" width="5.4" height="5.2" fill="#f3a3a8"/><rect x="576.1" y="437.6" width="5.4" height="5.2" fill="#f2949a"/><rect x="576.1" y="432.8" width="5.4" height="5.2" fill="#f1888e"/><rect x="576.1" y="428.0" width="5.4" height="5.2" fill="#f07c82"/><rect x="576.1" y="423.2" width="5.4" height="5.2" fill="#f07c82"/><rect x="576.1" y="418.4" width="5.4" height="5.2" fill="#f07c82"/><rect x="576.1" y="413.6" width="5.4" height="5.2" fill="#f07c82"/><rect x="576.1" y="408.8" width="5.4" height="5.2" fill="#f07c82"/><rect x="576.1" y="404.0" width="5.4" height="5.2" fill="#f07c82"/><rect x="576.1" y="399.2" width="5.4" height="5.2" fill="#f07c82"/><rect x="576.1" y="394.4" width="5.4" height="5.2" fill="#f07f85"/><rect x="576.1" y="389.6" width="5.4" height="5.2" fill="#f08288"/><rect x="581.1" y="533.6" width="5.4" height="5.2" fill="#f1888e"/><rect x="581.1" y="528.8" width="5.4" height="5.2" fill="#f1888e"/><rect x="581.1" y="524.0" width="5.4" height="5.2" fill="#f1888e"/><rect x="581.1" y="519.2" width="5.4" height="5.2" fill="#f18e94"/><rect x="581.1" y="514.4" width="5.4" height="5.2" fill="#f2949a"/><rect x="581.1" y="509.6" width="5.4" height="5.2" fill="#f4b8bd"/><rect x="581.1" y="504.8" width="5.4" height="5.2" fill="#f6dce0"/><rect x="581.1" y="500.0" width="5.4" height="5.2" fill="#f4bec3"/><rect x="581.1" y="495.2" width="5.4" height="5.2" fill="#f2a0a5"/><rect x="581.1" y="490.4" width="5.4" height="5.2" fill="#f18e94"/><rect x="581.1" y="485.6" width="5.4" height="5.2" fill="#f07c82"/><rect x="581.1" y="480.8" width="5.4" height="5.2" fill="#f08288"/><rect x="581.1" y="476.0" width="5.4" height="5.2" fill="#f1888e"/><rect x="581.1" y="471.2" width="5.4" height="5.2" fill="#f18e94"/><rect x="581.1" y="466.4" width="5.4" height="5.2" fill="#f2949a"/><rect x="581.1" y="461.6" width="5.4" height="5.2" fill="#f18e94"/><rect x="581.1" y="456.8" width="5.4" height="5.2" fill="#f1888e"/><rect x="581.1" y="452.0" width="5.4" height="5.2" fill="#f18e94"/><rect x="581.1" y="447.2" width="5.4" height="5.2" fill="#f2949a"/><rect x="581.1" y="442.4" width="5.4" height="5.2" fill="#f18e94"/><rect x="581.1" y="437.6" width="5.4" height="5.2" fill="#f1888e"/><rect x="581.1" y="432.8" width="5.4" height="5.2" fill="#f08288"/><rect x="581.1" y="428.0" width="5.4" height="5.2" fill="#f07c82"/><rect x="581.1" y="423.2" width="5.4" height="5.2" fill="#f07c82"/><rect x="581.1" y="418.4" width="5.4" height="5.2" fill="#f07c82"/><rect x="581.1" y="413.6" width="5.4" height="5.2" fill="#f07c82"/><rect x="581.1" y="408.8" width="5.4" height="5.2" fill="#f07c82"/><rect x="581.1" y="404.0" width="5.4" height="5.2" fill="#f07c82"/><rect x="581.1" y="399.2" width="5.4" height="5.2" fill="#f07c82"/><rect x="581.1" y="394.4" width="5.4" height="5.2" fill="#f07c82"/><rect x="581.1" y="389.6" width="5.4" height="5.2" fill="#f07c82"/><rect x="586.2" y="533.6" width="5.4" height="5.2" fill="#f08288"/><rect x="586.2" y="528.8" width="5.4" height="5.2" fill="#f08288"/><rect x="586.2" y="524.0" width="5.4" height="5.2" fill="#f08288"/><rect x="586.2" y="519.2" width="5.4" height="5.2" fill="#f1858b"/><rect x="586.2" y="514.4" width="5.4" height="5.2" fill="#f1888e"/><rect x="586.2" y="509.6" width="5.4" height="5.2" fill="#f29aa0"/><rect x="586.2" y="504.8" width="5.4" height="5.2" fill="#f3acb1"/><rect x="586.2" y="500.0" width="5.4" height="5.2" fill="#f29da2"/><rect x="586.2" y="495.2" width="5.4" height="5.2" fill="#f18e94"/><rect x="586.2" y="490.4" width="5.4" height="5.2" fill="#f1858b"/><rect x="586.2" y="485.6" width="5.4" height="5.2" fill="#f07c82"/><rect x="586.2" y="480.8" width="5.4" height="5.2" fill="#f07f85"/><rect x="586.2" y="476.0" width="5.4" height="5.2" fill="#f08288"/><rect x="586.2" y="471.2" width="5.4" height="5.2" fill="#f1888e"/><rect x="586.2" y="466.4" width="5.4" height="5.2" fill="#f18e94"/><rect x="586.2" y="461.6" width="5.4" height="5.2" fill="#f1888e"/><rect x="586.2" y="456.8" width="5.4" height="5.2" fill="#f08288"/><rect x="586.2" y="452.0" width="5.4" height="5.2" fill="#f1858b"/><rect x="586.2" y="447.2" width="5.4" height="5.2" fill="#f1888e"/><rect x="586.2" y="442.4" width="5.4" height="5.2" fill="#f1858b"/><rect x="586.2" y="437.6" width="5.4" height="5.2" fill="#f08288"/><rect x="586.2" y="432.8" width="5.4" height="5.2" fill="#f1858b"/><rect x="586.2" y="428.0" width="5.4" height="5.2" fill="#f1888e"/><rect x="586.2" y="423.2" width="5.4" height="5.2" fill="#f1888e"/><rect x="586.2" y="418.4" width="5.4" height="5.2" fill="#f1888e"/><rect x="586.2" y="413.6" width="5.4" height="5.2" fill="#f1858b"/><rect x="586.2" y="408.8" width="5.4" height="5.2" fill="#f08288"/><rect x="586.2" y="404.0" width="5.4" height="5.2" fill="#f08288"/><rect x="586.2" y="399.2" width="5.4" height="5.2" fill="#f08288"/><rect x="586.2" y="394.4" width="5.4" height="5.2" fill="#f07f85"/><rect x="586.2" y="389.6" width="5.4" height="5.2" fill="#f07c82"/><rect x="591.2" y="533.6" width="5.4" height="5.2" fill="#f07c82"/><rect x="591.2" y="528.8" width="5.4" height="5.2" fill="#f07c82"/><rect x="591.2" y="524.0" width="5.4" height="5.2" fill="#f07c82"/><rect x="591.2" y="519.2" width="5.4" height="5.2" fill="#f07c82"/><rect x="591.2" y="514.4" width="5.4" height="5.2" fill="#f07c82"/><rect x="591.2" y="509.6" width="5.4" height="5.2" fill="#f07c82"/><rect x="591.2" y="504.8" width="5.4" height="5.2" fill="#f07c82"/><rect x="591.2" y="500.0" width="5.4" height="5.2" fill="#f07c82"/><rect x="591.2" y="495.2" width="5.4" height="5.2" fill="#f07c82"/><rect x="591.2" y="490.4" width="5.4" height="5.2" fill="#f07c82"/><rect x="591.2" y="485.6" width="5.4" height="5.2" fill="#f07c82"/><rect x="591.2" y="480.8" width="5.4" height="5.2" fill="#f07c82"/><rect x="591.2" y="476.0" width="5.4" height="5.2" fill="#f07c82"/><rect x="591.2" y="471.2" width="5.4" height="5.2" fill="#f08288"/><rect x="591.2" y="466.4" width="5.4" height="5.2" fill="#f1888e"/><rect x="591.2" y="461.6" width="5.4" height="5.2" fill="#f08288"/><rect x="591.2" y="456.8" width="5.4" height="5.2" fill="#f07c82"/><rect x="591.2" y="452.0" width="5.4" height="5.2" fill="#f07c82"/><rect x="591.2" y="447.2" width="5.4" height="5.2" fill="#f07c82"/><rect x="591.2" y="442.4" width="5.4" height="5.2" fill="#f07c82"/><rect x="591.2" y="437.6" width="5.4" height="5.2" fill="#f07c82"/><rect x="591.2" y="432.8" width="5.4" height="5.2" fill="#f1888e"/><rect x="591.2" y="428.0" width="5.4" height="5.2" fill="#f2949a"/><rect x="591.2" y="423.2" width="5.4" height="5.2" fill="#f2949a"/><rect x="591.2" y="418.4" width="5.4" height="5.2" fill="#f2949a"/><rect x="591.2" y="413.6" width="5.4" height="5.2" fill="#f18e94"/><rect x="591.2" y="408.8" width="5.4" height="5.2" fill="#f1888e"/><rect x="591.2" y="404.0" width="5.4" height="5.2" fill="#f1888e"/><rect x="591.2" y="399.2" width="5.4" height="5.2" fill="#f1888e"/><rect x="591.2" y="394.4" width="5.4" height="5.2" fill="#f08288"/><rect x="591.2" y="389.6" width="5.4" height="5.2" fill="#f07c82"/><rect x="596.2" y="533.6" width="5.4" height="5.2" fill="#f08288"/><rect x="596.2" y="528.8" width="5.4" height="5.2" fill="#f1858b"/><rect x="596.2" y="524.0" width="5.4" height="5.2" fill="#f1888e"/><rect x="596.2" y="519.2" width="5.4" height="5.2" fill="#f08288"/><rect x="596.2" y="514.4" width="5.4" height="5.2" fill="#f07c82"/><rect x="596.2" y="509.6" width="5.4" height="5.2" fill="#f07c82"/><rect x="596.2" y="504.8" width="5.4" height="5.2" fill="#f07c82"/><rect x="596.2" y="500.0" width="5.4" height="5.2" fill="#f07c82"/><rect x="596.2" y="495.2" width="5.4" height="5.2" fill="#f07c82"/><rect x="596.2" y="490.4" width="5.4" height="5.2" fill="#f07f85"/><rect x="596.2" y="485.6" width="5.4" height="5.2" fill="#f08288"/><rect x="596.2" y="480.8" width="5.4" height="5.2" fill="#f18b91"/><rect x="596.2" y="476.0" width="5.4" height="5.2" fill="#f2949a"/><rect x="596.2" y="471.2" width="5.4" height="5.2" fill="#f2949a"/><rect x="596.2" y="466.4" width="5.4" height="5.2" fill="#f2949a"/><rect x="596.2" y="461.6" width="5.4" height="5.2" fill="#f18b91"/><rect x="596.2" y="456.8" width="5.4" height="5.2" fill="#f08288"/><rect x="596.2" y="452.0" width="5.4" height="5.2" fill="#f08288"/><rect x="596.2" y="447.2" width="5.4" height="5.2" fill="#f08288"/><rect x="596.2" y="442.4" width="5.4" height="5.2" fill="#f1888e"/><rect x="596.2" y="437.6" width="5.4" height="5.2" fill="#f18e94"/><rect x="596.2" y="432.8" width="5.4" height="5.2" fill="#f2979d"/><rect x="596.2" y="428.0" width="5.4" height="5.2" fill="#f2a0a5"/><rect x="596.2" y="423.2" width="5.4" height="5.2" fill="#f3a6ab"/><rect x="596.2" y="418.4" width="5.4" height="5.2" fill="#f3acb1"/><rect x="596.2" y="413.6" width="5.4" height="5.2" fill="#f3a9ae"/><rect x="596.2" y="408.8" width="5.4" height="5.2" fill="#f3a6ab"/><rect x="596.2" y="404.0" width="5.4" height="5.2" fill="#f29da2"/><rect x="596.2" y="399.2" width="5.4" height="5.2" fill="#f2949a"/><rect x="596.2" y="394.4" width="5.4" height="5.2" fill="#f18b91"/><rect x="596.2" y="389.6" width="5.4" height="5.2" fill="#f08288"/><rect x="601.2" y="533.6" width="5.4" height="5.2" fill="#f1888e"/><rect x="601.2" y="528.8" width="5.4" height="5.2" fill="#f18e94"/><rect x="601.2" y="524.0" width="5.4" height="5.2" fill="#f2949a"/><rect x="601.2" y="519.2" width="5.4" height="5.2" fill="#f1888e"/><rect x="601.2" y="514.4" width="5.4" height="5.2" fill="#f07c82"/><rect x="601.2" y="509.6" width="5.4" height="5.2" fill="#f07c82"/><rect x="601.2" y="504.8" width="5.4" height="5.2" fill="#f07c82"/><rect x="601.2" y="500.0" width="5.4" height="5.2" fill="#f07c82"/><rect x="601.2" y="495.2" width="5.4" height="5.2" fill="#f07c82"/><rect x="601.2" y="490.4" width="5.4" height="5.2" fill="#f08288"/><rect x="601.2" y="485.6" width="5.4" height="5.2" fill="#f1888e"/><rect x="601.2" y="480.8" width="5.4" height="5.2" fill="#f29aa0"/><rect x="601.2" y="476.0" width="5.4" height="5.2" fill="#f3acb1"/><rect x="601.2" y="471.2" width="5.4" height="5.2" fill="#f3a6ab"/><rect x="601.2" y="466.4" width="5.4" height="5.2" fill="#f2a0a5"/><rect x="601.2" y="461.6" width="5.4" height="5.2" fill="#f2949a"/><rect x="601.2" y="456.8" width="5.4" height="5.2" fill="#f1888e"/><rect x="601.2" y="452.0" width="5.4" height="5.2" fill="#f1888e"/><rect x="601.2" y="447.2" width="5.4" height="5.2" fill="#f1888e"/><rect x="601.2" y="442.4" width="5.4" height="5.2" fill="#f2949a"/><rect x="601.2" y="437.6" width="5.4" height="5.2" fill="#f2a0a5"/><rect x="601.2" y="432.8" width="5.4" height="5.2" fill="#f3a6ab"/><rect x="601.2" y="428.0" width="5.4" height="5.2" fill="#f3acb1"/><rect x="601.2" y="423.2" width="5.4" height="5.2" fill="#f4b8bd"/><rect x="601.2" y="418.4" width="5.4" height="5.2" fill="#f5c4c9"/><rect x="601.2" y="413.6" width="5.4" height="5.2" fill="#f5c4c9"/><rect x="601.2" y="408.8" width="5.4" height="5.2" fill="#f5c4c9"/><rect x="601.2" y="404.0" width="5.4" height="5.2" fill="#f4b2b7"/><rect x="601.2" y="399.2" width="5.4" height="5.2" fill="#f2a0a5"/><rect x="601.2" y="394.4" width="5.4" height="5.2" fill="#f2949a"/><rect x="601.2" y="389.6" width="5.4" height="5.2" fill="#f1888e"/><rect x="606.2" y="533.6" width="5.4" height="5.2" fill="#f18e94"/><rect x="606.2" y="528.8" width="5.4" height="5.2" fill="#f18e94"/><rect x="606.2" y="524.0" width="5.4" height="5.2" fill="#f18e94"/><rect x="606.2" y="519.2" width="5.4" height="5.2" fill="#f1888e"/><rect x="606.2" y="514.4" width="5.4" height="5.2" fill="#f08288"/><rect x="606.2" y="509.6" width="5.4" height="5.2" fill="#f08288"/><rect x="606.2" y="504.8" width="5.4" height="5.2" fill="#f08288"/><rect x="606.2" y="500.0" width="5.4" height="5.2" fill="#f2979d"/><rect x="606.2" y="495.2" width="5.4" height="5.2" fill="#f3acb1"/><rect x="606.2" y="490.4" width="5.4" height="5.2" fill="#f5d3d7"/><rect x="606.2" y="485.6" width="5.4" height="5.2" fill="#f1eef7"/><rect x="606.2" y="480.8" width="5.4" height="5.2" fill="#e2dff8"/><rect x="606.2" y="476.0" width="5.4" height="5.2" fill="#d3d0f8"/><rect x="606.2" y="471.2" width="5.4" height="5.2" fill="#e2dff8"/><rect x="606.2" y="466.4" width="5.4" height="5.2" fill="#f1eef7"/><rect x="606.2" y="461.6" width="5.4" height="5.2" fill="#f5c7cc"/><rect x="606.2" y="456.8" width="5.4" height="5.2" fill="#f2949a"/><rect x="606.2" y="452.0" width="5.4" height="5.2" fill="#f29da2"/><rect x="606.2" y="447.2" width="5.4" height="5.2" fill="#f3a6ab"/><rect x="606.2" y="442.4" width="5.4" height="5.2" fill="#f4b2b7"/><rect x="606.2" y="437.6" width="5.4" height="5.2" fill="#f4bec3"/><rect x="606.2" y="432.8" width="5.4" height="5.2" fill="#f5cace"/><rect x="606.2" y="428.0" width="5.4" height="5.2" fill="#f6d6da"/><rect x="606.2" y="423.2" width="5.4" height="5.2" fill="#f5d0d4"/><rect x="606.2" y="418.4" width="5.4" height="5.2" fill="#f5cace"/><rect x="606.2" y="413.6" width="5.4" height="5.2" fill="#f5cace"/><rect x="606.2" y="408.8" width="5.4" height="5.2" fill="#f5cace"/><rect x="606.2" y="404.0" width="5.4" height="5.2" fill="#f3afb4"/><rect x="606.2" y="399.2" width="5.4" height="5.2" fill="#f2949a"/><rect x="606.2" y="394.4" width="5.4" height="5.2" fill="#f2979d"/><rect x="606.2" y="389.6" width="5.4" height="5.2" fill="#f29aa0"/><rect x="611.2" y="533.6" width="5.4" height="5.2" fill="#f2949a"/><rect x="611.2" y="528.8" width="5.4" height="5.2" fill="#f18e94"/><rect x="611.2" y="524.0" width="5.4" height="5.2" fill="#f1888e"/><rect x="611.2" y="519.2" width="5.4" height="5.2" fill="#f1888e"/><rect x="611.2" y="514.4" width="5.4" height="5.2" fill="#f1888e"/><rect x="611.2" y="509.6" width="5.4" height="5.2" fill="#f1888e"/><rect x="611.2" y="504.8" width="5.4" height="5.2" fill="#f1888e"/><rect x="611.2" y="500.0" width="5.4" height="5.2" fill="#f4b2b7"/><rect x="611.2" y="495.2" width="5.4" height="5.2" fill="#f6dce0"/><rect x="611.2" y="490.4" width="5.4" height="5.2" fill="#c7c4f8"/><rect x="611.2" y="485.6" width="5.4" height="5.2" fill="#7e7cfa"/><rect x="611.2" y="480.8" width="5.4" height="5.2" fill="#7170fa"/><rect x="611.2" y="476.0" width="5.4" height="5.2" fill="#6563fb"/><rect x="611.2" y="471.2" width="5.4" height="5.2" fill="#7e7cfa"/><rect x="611.2" y="466.4" width="5.4" height="5.2" fill="#9694f9"/><rect x="611.2" y="461.6" width="5.4" height="5.2" fill="#f1eef7"/><rect x="611.2" y="456.8" width="5.4" height="5.2" fill="#f2a0a5"/><rect x="611.2" y="452.0" width="5.4" height="5.2" fill="#f4b2b7"/><rect x="611.2" y="447.2" width="5.4" height="5.2" fill="#f5c4c9"/><rect x="611.2" y="442.4" width="5.4" height="5.2" fill="#f5d0d4"/><rect x="611.2" y="437.6" width="5.4" height="5.2" fill="#f6dce0"/><rect x="611.2" y="432.8" width="5.4" height="5.2" fill="#f7eef1"/><rect x="611.2" y="428.0" width="5.4" height="5.2" fill="#ebe8f7"/><rect x="611.2" y="423.2" width="5.4" height="5.2" fill="#f6e8eb"/><rect x="611.2" y="418.4" width="5.4" height="5.2" fill="#f5d0d4"/><rect x="611.2" y="413.6" width="5.4" height="5.2" fill="#f5d0d4"/><rect x="611.2" y="408.8" width="5.4" height="5.2" fill="#f5d0d4"/><rect x="611.2" y="404.0" width="5.4" height="5.2" fill="#f3acb1"/><rect x="611.2" y="399.2" width="5.4" height="5.2" fill="#f1888e"/><rect x="611.2" y="394.4" width="5.4" height="5.2" fill="#f29aa0"/><rect x="611.2" y="389.6" width="5.4" height="5.2" fill="#f3acb1"/><rect x="616.2" y="533.6" width="5.4" height="5.2" fill="#f2949a"/><rect x="616.2" y="528.8" width="5.4" height="5.2" fill="#f19197"/><rect x="616.2" y="524.0" width="5.4" height="5.2" fill="#f18e94"/><rect x="616.2" y="519.2" width="5.4" height="5.2" fill="#f18b91"/><rect x="616.2" y="514.4" width="5.4" height="5.2" fill="#f1888e"/><rect x="616.2" y="509.6" width="5.4" height="5.2" fill="#f18b91"/><rect x="616.2" y="504.8" width="5.4" height="5.2" fill="#f18e94"/><rect x="616.2" y="500.0" width="5.4" height="5.2" fill="#f5cdd1"/><rect x="616.2" y="495.2" width="5.4" height="5.2" fill="#dfdcf8"/><rect x="616.2" y="490.4" width="5.4" height="5.2" fill="#9c9af9"/><rect x="616.2" y="485.6" width="5.4" height="5.2" fill="#5857fc"/><rect x="616.2" y="480.8" width="5.4" height="5.2" fill="#4f4efc"/><rect x="616.2" y="476.0" width="5.4" height="5.2" fill="#4544fc"/><rect x="616.2" y="471.2" width="5.4" height="5.2" fill="#6866fb"/><rect x="616.2" y="466.4" width="5.4" height="5.2" fill="#8a88fa"/><rect x="616.2" y="461.6" width="5.4" height="5.2" fill="#e2dff8"/><rect x="616.2" y="456.8" width="5.4" height="5.2" fill="#f4b2b7"/><rect x="616.2" y="452.0" width="5.4" height="5.2" fill="#f4c1c6"/><rect x="616.2" y="447.2" width="5.4" height="5.2" fill="#f5d0d4"/><rect x="616.2" y="442.4" width="5.4" height="5.2" fill="#f5cace"/><rect x="616.2" y="437.6" width="5.4" height="5.2" fill="#f5c4c9"/><rect x="616.2" y="432.8" width="5.4" height="5.2" fill="#f5d0d4"/><rect x="616.2" y="428.0" width="5.4" height="5.2" fill="#f6dce0"/><rect x="616.2" y="423.2" width="5.4" height="5.2" fill="#f5cdd1"/><rect x="616.2" y="418.4" width="5.4" height="5.2" fill="#f4bec3"/><rect x="616.2" y="413.6" width="5.4" height="5.2" fill="#f4bec3"/><rect x="616.2" y="408.8" width="5.4" height="5.2" fill="#f4bec3"/><rect x="616.2" y="404.0" width="5.4" height="5.2" fill="#f4b8bd"/><rect x="616.2" y="399.2" width="5.4" height="5.2" fill="#f4b2b7"/><rect x="616.2" y="394.4" width="5.4" height="5.2" fill="#f7ebee"/><rect x="616.2" y="389.6" width="5.4" height="5.2" fill="#c7c4f8"/><rect x="621.2" y="533.6" width="5.4" height="5.2" fill="#f2949a"/><rect x="621.2" y="528.8" width="5.4" height="5.2" fill="#f2949a"/><rect x="621.2" y="524.0" width="5.4" height="5.2" fill="#f2949a"/><rect x="621.2" y="519.2" width="5.4" height="5.2" fill="#f18e94"/><rect x="621.2" y="514.4" width="5.4" height="5.2" fill="#f1888e"/><rect x="621.2" y="509.6" width="5.4" height="5.2" fill="#f18e94"/><rect x="621.2" y="504.8" width="5.4" height="5.2" fill="#f2949a"/><rect x="621.2" y="500.0" width="5.4" height="5.2" fill="#f6e8eb"/><rect x="621.2" y="495.2" width="5.4" height="5.2" fill="#aeacf9"/><rect x="621.2" y="490.4" width="5.4" height="5.2" fill="#7170fa"/><rect x="621.2" y="485.6" width="5.4" height="5.2" fill="#3232fd"/><rect x="621.2" y="480.8" width="5.4" height="5.2" fill="#2c2bfd"/><rect x="621.2" y="476.0" width="5.4" height="5.2" fill="#2625fe"/><rect x="621.2" y="471.2" width="5.4" height="5.2" fill="#5251fc"/><rect x="621.2" y="466.4" width="5.4" height="5.2" fill="#7e7cfa"/><rect x="621.2" y="461.6" width="5.4" height="5.2" fill="#d3d0f8"/><rect x="621.2" y="456.8" width="5.4" height="5.2" fill="#f5c4c9"/><rect x="621.2" y="452.0" width="5.4" height="5.2" fill="#f5d0d4"/><rect x="621.2" y="447.2" width="5.4" height="5.2" fill="#f6dce0"/><rect x="621.2" y="442.4" width="5.4" height="5.2" fill="#f5c4c9"/><rect x="621.2" y="437.6" width="5.4" height="5.2" fill="#f3acb1"/><rect x="621.2" y="432.8" width="5.4" height="5.2" fill="#f4b2b7"/><rect x="621.2" y="428.0" width="5.4" height="5.2" fill="#f4b8bd"/><rect x="621.2" y="423.2" width="5.4" height="5.2" fill="#f4b2b7"/><rect x="621.2" y="418.4" width="5.4" height="5.2" fill="#f3acb1"/><rect x="621.2" y="413.6" width="5.4" height="5.2" fill="#f3acb1"/><rect x="621.2" y="408.8" width="5.4" height="5.2" fill="#f3acb1"/><rect x="621.2" y="404.0" width="5.4" height="5.2" fill="#f5c4c9"/><rect x="621.2" y="399.2" width="5.4" height="5.2" fill="#f6dce0"/><rect x="621.2" y="394.4" width="5.4" height="5.2" fill="#aeacf9"/><rect x="621.2" y="389.6" width="5.4" height="5.2" fill="#4c4afc"/></g></g><path d="M473.5 392.5H623.5V536.5H473.5Z" fill="none" stroke="#222" stroke-width="1"/><path d="M470.7 536.00H473.5M473.50 536.5V539.1M470.7 526.40H473.5M483.51 536.5V539.1M470.7 516.80H473.5M493.53 536.5V539.1M470.7 507.20H473.5M503.54 536.5V539.1M470.7 497.60H473.5M513.55 536.5V539.1M470.7 488.00H473.5M523.57 536.5V539.1M470.7 478.40H473.5M533.58 536.5V539.1M470.7 468.80H473.5M543.59 536.5V539.1M470.7 459.20H473.5M553.61 536.5V539.1M470.7 449.60H473.5M563.62 536.5V539.1M470.7 440.00H473.5M573.63 536.5V539.1M470.7 430.40H473.5M583.65 536.5V539.1M470.7 420.80H473.5M593.66 536.5V539.1M470.7 411.20H473.5M603.67 536.5V539.1M470.7 401.60H473.5M613.69 536.5V539.1M470.7 392.00H473.5M623.70 536.5V539.1" stroke="#222" stroke-width="0.9"/><text x="468.2" y="538.0" font-size="5.7" font-weight="bold" fill="#000" text-anchor="end">0</text><text x="473.5" y="546.1" font-size="5.7" font-weight="bold" fill="#000" text-anchor="middle">0</text><text x="468.2" y="528.4" font-size="5.7" font-weight="bold" fill="#000" text-anchor="end">1</text><text x="483.5133333333333" y="546.1" font-size="5.7" font-weight="bold" fill="#000" text-anchor="middle">1</text><text x="468.2" y="518.8" font-size="5.7" font-weight="bold" fill="#000" text-anchor="end">2</text><text x="493.5266666666667" y="546.1" font-size="5.7" font-weight="bold" fill="#000" text-anchor="middle">2</text><text x="468.2" y="509.2" font-size="5.7" font-weight="bold" fill="#000" text-anchor="end">3</text><text x="503.54" y="546.1" font-size="5.7" font-weight="bold" fill="#000" text-anchor="middle">3</text><text x="468.2" y="499.6" font-size="5.7" font-weight="bold" fill="#000" text-anchor="end">4</text><text x="513.5533333333334" y="546.1" font-size="5.7" font-weight="bold" fill="#000" text-anchor="middle">4</text><text x="468.2" y="490.0" font-size="5.7" font-weight="bold" fill="#000" text-anchor="end">5</text><text x="523.5666666666667" y="546.1" font-size="5.7" font-weight="bold" fill="#000" text-anchor="middle">5</text><text x="468.2" y="480.4" font-size="5.7" font-weight="bold" fill="#000" text-anchor="end">6</text><text x="533.58" y="546.1" font-size="5.7" font-weight="bold" fill="#000" text-anchor="middle">6</text><text x="468.2" y="470.8" font-size="5.7" font-weight="bold" fill="#000" text-anchor="end">7</text><text x="543.5933333333334" y="546.1" font-size="5.7" font-weight="bold" fill="#000" text-anchor="middle">7</text><text x="468.2" y="461.2" font-size="5.7" font-weight="bold" fill="#000" text-anchor="end">8</text><text x="553.6066666666667" y="546.1" font-size="5.7" font-weight="bold" fill="#000" text-anchor="middle">8</text><text x="468.2" y="451.6" font-size="5.7" font-weight="bold" fill="#000" text-anchor="end">9</text><text x="563.62" y="546.1" font-size="5.7" font-weight="bold" fill="#000" text-anchor="middle">9</text><text x="468.2" y="442.0" font-size="5.7" font-weight="bold" fill="#000" text-anchor="end">10</text><text x="573.6333333333333" y="546.1" font-size="5.7" font-weight="bold" fill="#000" text-anchor="middle">10</text><text x="468.2" y="432.4" font-size="5.7" font-weight="bold" fill="#000" text-anchor="end">11</text><text x="583.6466666666668" y="546.1" font-size="5.7" font-weight="bold" fill="#000" text-anchor="middle">11</text><text x="468.2" y="422.8" font-size="5.7" font-weight="bold" fill="#000" text-anchor="end">12</text><text x="593.6600000000001" y="546.1" font-size="5.7" font-weight="bold" fill="#000" text-anchor="middle">12</text><text x="468.2" y="413.2" font-size="5.7" font-weight="bold" fill="#000" text-anchor="end">13</text><text x="603.6733333333334" y="546.1" font-size="5.7" font-weight="bold" fill="#000" text-anchor="middle">13</text><text x="468.2" y="403.6" font-size="5.7" font-weight="bold" fill="#000" text-anchor="end">14</text><text x="613.6866666666667" y="546.1" font-size="5.7" font-weight="bold" fill="#000" text-anchor="middle">14</text><text x="468.2" y="394.0" font-size="5.7" font-weight="bold" fill="#000" text-anchor="end">15</text><text x="623.7" y="546.1" font-size="5.7" font-weight="bold" fill="#000" text-anchor="middle">15</text><text x="548.6" y="555" font-size="7.4" font-weight="bold" fill="#000" text-anchor="middle" textLength="44" lengthAdjust="spacingAndGlyphs">Distance (µm)</text><text x="458.5" y="464.0" font-size="7.4" font-weight="bold" fill="#000" text-anchor="middle" textLength="44" lengthAdjust="spacingAndGlyphs" transform="rotate(-90 458.5 464.0)">Distance (µm)</text><text x="455" y="397.4" font-size="12.2" font-weight="bold" fill="#000">i</text><rect x="651.4" y="397.40" width="10.2" height="5.12" fill="#fd2017"/><rect x="651.4" y="402.22" width="10.2" height="5.12" fill="#fa2d27"/><rect x="651.4" y="407.04" width="10.2" height="5.12" fill="#f73b38"/><rect x="651.4" y="411.86" width="10.2" height="5.12" fill="#f44848"/><rect x="651.4" y="416.69" width="10.2" height="5.12" fill="#f35759"/><rect x="651.4" y="421.51" width="10.2" height="5.12" fill="#f26669"/><rect x="651.4" y="426.33" width="10.2" height="5.12" fill="#f1757a"/><rect x="651.4" y="431.15" width="10.2" height="5.12" fill="#f1858a"/><rect x="651.4" y="435.97" width="10.2" height="5.12" fill="#f2969b"/><rect x="651.4" y="440.79" width="10.2" height="5.12" fill="#f3a7ac"/><rect x="651.4" y="445.61" width="10.2" height="5.12" fill="#f4b8bd"/><rect x="651.4" y="450.44" width="10.2" height="5.12" fill="#f5c9ce"/><rect x="651.4" y="455.26" width="10.2" height="5.12" fill="#f6dade"/><rect x="651.4" y="460.08" width="10.2" height="5.12" fill="#f7ebef"/><rect x="651.4" y="464.90" width="10.2" height="5.12" fill="#eeebf7"/><rect x="651.4" y="469.72" width="10.2" height="5.12" fill="#dddaf8"/><rect x="651.4" y="474.54" width="10.2" height="5.12" fill="#ccc9f8"/><rect x="651.4" y="479.36" width="10.2" height="5.12" fill="#bab8f8"/><rect x="651.4" y="484.19" width="10.2" height="5.12" fill="#a9a7f9"/><rect x="651.4" y="489.01" width="10.2" height="5.12" fill="#9896f9"/><rect x="651.4" y="493.83" width="10.2" height="5.12" fill="#8785fa"/><rect x="651.4" y="498.65" width="10.2" height="5.12" fill="#7573fa"/><rect x="651.4" y="503.47" width="10.2" height="5.12" fill="#6361fb"/><rect x="651.4" y="508.29" width="10.2" height="5.12" fill="#5150fc"/><rect x="651.4" y="513.11" width="10.2" height="5.12" fill="#3f3efc"/><rect x="651.4" y="517.94" width="10.2" height="5.12" fill="#2d2cfd"/><rect x="651.4" y="522.76" width="10.2" height="5.12" fill="#1b1bfe"/><rect x="651.4" y="527.58" width="10.2" height="5.12" fill="#0909ff"/><text x="656.5" y="394.9" font-size="5.2" font-weight="normal" fill="#000" text-anchor="middle">85000</text><text x="656.5" y="539.3" font-size="5.2" font-weight="normal" fill="#000" text-anchor="middle">5000</text><text x="629.7" y="387.2" font-size="7.6" font-weight="bold" fill="#000" textLength="55" lengthAdjust="spacingAndGlyphs">PL Intensity (a.u.)</text>
</svg></body></html>
